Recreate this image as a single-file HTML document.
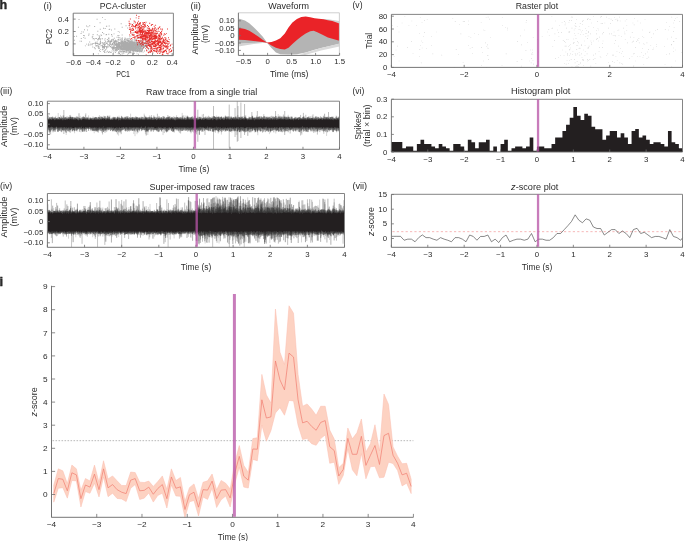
<!DOCTYPE html>
<html><head><meta charset="utf-8"><title>figure</title>
<style>
html,body{margin:0;padding:0;background:#fff;width:685px;height:541px;overflow:hidden;}
svg{display:block;will-change:transform;}
text{font-family:"Liberation Sans",sans-serif;fill:#2b2b2b;}
</style></head><body>
<svg width="685" height="541" viewBox="0 0 685 541">
<rect width="685" height="541" fill="#fff"/>
<text x="-0.6" y="8.9" font-size="12.6" textLength="7.7" lengthAdjust="spacingAndGlyphs" font-weight="bold" fill="#151515" stroke="#151515" stroke-width="0.35">h</text>
<text x="-0.6" y="286" font-size="12.6" textLength="3.6" lengthAdjust="spacingAndGlyphs" font-weight="bold" fill="#151515" stroke="#151515" stroke-width="0.35">i</text>
<text x="43.6" y="8.5" font-size="8.8" textLength="8.2" lengthAdjust="spacingAndGlyphs">(i)</text>
<text x="190.6" y="8.7" font-size="8.8" textLength="10.4" lengthAdjust="spacingAndGlyphs">(ii)</text>
<text x="352.5" y="8.4" font-size="8.8" textLength="10" lengthAdjust="spacingAndGlyphs">(v)</text>
<text x="0" y="94.2" font-size="8.8" textLength="12.3" lengthAdjust="spacingAndGlyphs">(iii)</text>
<text x="352.4" y="94.2" font-size="8.8" textLength="11.9" lengthAdjust="spacingAndGlyphs">(vi)</text>
<text x="0" y="189.3" font-size="8.8" textLength="12.3" lengthAdjust="spacingAndGlyphs">(iv)</text>
<text x="352.4" y="189.4" font-size="8.8" textLength="14.8" lengthAdjust="spacingAndGlyphs">(vii)</text>
<text x="99.8" y="8.9" font-size="8.6" textLength="46.4" lengthAdjust="spacingAndGlyphs">PCA-cluster</text>
<path d="M130.01 46.04h0.95v0.95h-0.95zM132.39 46.29h0.95v0.95h-0.95zM127.81 44.31h0.95v0.95h-0.95zM122.88 45.71h0.95v0.95h-0.95zM126.36 50.31h0.95v0.95h-0.95zM122.07 41.03h0.95v0.95h-0.95zM130.48 46.52h0.95v0.95h-0.95zM140.72 43.26h0.95v0.95h-0.95zM126.06 46.32h0.95v0.95h-0.95zM125.04 48.15h0.95v0.95h-0.95zM133.92 45.64h0.95v0.95h-0.95zM132.86 47.96h0.95v0.95h-0.95zM130.84 41.35h0.95v0.95h-0.95zM122.56 48.9h0.95v0.95h-0.95zM129.77 44.11h0.95v0.95h-0.95zM135.56 47.54h0.95v0.95h-0.95zM119.25 46.31h0.95v0.95h-0.95zM126.34 38.56h0.95v0.95h-0.95zM114.79 43.68h0.95v0.95h-0.95zM119.68 46.42h0.95v0.95h-0.95zM115.27 50.15h0.95v0.95h-0.95zM128.12 46.6h0.95v0.95h-0.95zM119.86 46.52h0.95v0.95h-0.95zM132.17 41.84h0.95v0.95h-0.95zM131.25 49.81h0.95v0.95h-0.95zM128.5 50.86h0.95v0.95h-0.95zM109.87 45.88h0.95v0.95h-0.95zM125.69 45.18h0.95v0.95h-0.95zM129.61 41.27h0.95v0.95h-0.95zM130.91 48.27h0.95v0.95h-0.95zM117.76 53.37h0.95v0.95h-0.95zM126.18 47.81h0.95v0.95h-0.95zM122.17 49.34h0.95v0.95h-0.95zM123.53 47.32h0.95v0.95h-0.95zM138.49 43.04h0.95v0.95h-0.95zM123.54 49.54h0.95v0.95h-0.95zM129.74 42.34h0.95v0.95h-0.95zM137.08 45.21h0.95v0.95h-0.95zM125.33 46.58h0.95v0.95h-0.95zM129.11 48.27h0.95v0.95h-0.95zM130.88 46.96h0.95v0.95h-0.95zM130.51 46.88h0.95v0.95h-0.95zM120.2 43.67h0.95v0.95h-0.95zM130.61 42.19h0.95v0.95h-0.95zM140.87 45.97h0.95v0.95h-0.95zM117.62 43.81h0.95v0.95h-0.95zM136.88 42.14h0.95v0.95h-0.95zM130.95 42.26h0.95v0.95h-0.95zM124.87 44.43h0.95v0.95h-0.95zM146 40.61h0.95v0.95h-0.95zM136.1 42.03h0.95v0.95h-0.95zM120.41 41.22h0.95v0.95h-0.95zM130.6 46.31h0.95v0.95h-0.95zM134.61 46.94h0.95v0.95h-0.95zM128.49 51.42h0.95v0.95h-0.95zM135.46 41.61h0.95v0.95h-0.95zM129.47 43.9h0.95v0.95h-0.95zM135.34 48.36h0.95v0.95h-0.95zM141.51 45.19h0.95v0.95h-0.95zM124.59 44.88h0.95v0.95h-0.95zM131.63 50.59h0.95v0.95h-0.95zM126.29 44.85h0.95v0.95h-0.95zM131.02 42.56h0.95v0.95h-0.95zM120.5 42.11h0.95v0.95h-0.95zM125.37 46.74h0.95v0.95h-0.95zM128.43 46.65h0.95v0.95h-0.95zM137.19 41.96h0.95v0.95h-0.95zM139.16 43.04h0.95v0.95h-0.95zM119.41 47.3h0.95v0.95h-0.95zM123.64 47.42h0.95v0.95h-0.95zM135.18 44h0.95v0.95h-0.95zM114.06 47.54h0.95v0.95h-0.95zM126.29 47.4h0.95v0.95h-0.95zM129.22 40.81h0.95v0.95h-0.95zM140.06 44.93h0.95v0.95h-0.95zM135.52 46.96h0.95v0.95h-0.95zM127.38 44.2h0.95v0.95h-0.95zM127.05 39.81h0.95v0.95h-0.95zM128 45.01h0.95v0.95h-0.95zM142.19 47.91h0.95v0.95h-0.95zM126.58 50.23h0.95v0.95h-0.95zM127.57 39.67h0.95v0.95h-0.95zM132.82 53.12h0.95v0.95h-0.95zM129.03 42.64h0.95v0.95h-0.95zM128.42 48.48h0.95v0.95h-0.95zM121.09 49.26h0.95v0.95h-0.95zM129.91 48.55h0.95v0.95h-0.95zM126.45 46.22h0.95v0.95h-0.95zM139.33 42.55h0.95v0.95h-0.95zM135.22 47.55h0.95v0.95h-0.95zM129.81 43.8h0.95v0.95h-0.95zM135.35 38.74h0.95v0.95h-0.95zM127.28 53.72h0.95v0.95h-0.95zM138.42 47.78h0.95v0.95h-0.95zM129.96 50.89h0.95v0.95h-0.95zM134.67 43.25h0.95v0.95h-0.95zM119.67 49.91h0.95v0.95h-0.95zM132.77 50.25h0.95v0.95h-0.95zM116.49 50.15h0.95v0.95h-0.95zM113.72 45.74h0.95v0.95h-0.95zM127.56 42.43h0.95v0.95h-0.95zM122.8 45.3h0.95v0.95h-0.95zM131.31 39.63h0.95v0.95h-0.95zM147.96 41.03h0.95v0.95h-0.95zM123.35 46.06h0.95v0.95h-0.95zM125.01 43.02h0.95v0.95h-0.95zM131.64 45.34h0.95v0.95h-0.95zM133.94 45.49h0.95v0.95h-0.95zM128.59 51.21h0.95v0.95h-0.95zM128.35 49.43h0.95v0.95h-0.95zM135.62 45.67h0.95v0.95h-0.95zM134.16 49.18h0.95v0.95h-0.95zM121.73 43.62h0.95v0.95h-0.95zM129.37 44.86h0.95v0.95h-0.95zM130.28 48.35h0.95v0.95h-0.95zM121.56 42.32h0.95v0.95h-0.95zM132.08 45.02h0.95v0.95h-0.95zM123.14 42.1h0.95v0.95h-0.95zM137.78 46.13h0.95v0.95h-0.95zM131.54 50.37h0.95v0.95h-0.95zM130.71 43.69h0.95v0.95h-0.95zM125.27 46.43h0.95v0.95h-0.95zM129.05 43.29h0.95v0.95h-0.95zM114.02 42.58h0.95v0.95h-0.95zM120.95 42.34h0.95v0.95h-0.95zM132.9 49.87h0.95v0.95h-0.95zM112.97 52.41h0.95v0.95h-0.95zM136.77 47.15h0.95v0.95h-0.95zM116.03 43.79h0.95v0.95h-0.95zM136.05 47.77h0.95v0.95h-0.95zM123.24 44.86h0.95v0.95h-0.95zM136.23 48.04h0.95v0.95h-0.95zM131.05 46.61h0.95v0.95h-0.95zM117.71 46.58h0.95v0.95h-0.95zM139.99 47.5h0.95v0.95h-0.95zM141.53 44.18h0.95v0.95h-0.95zM129.47 44.67h0.95v0.95h-0.95zM127.81 40.98h0.95v0.95h-0.95zM128.72 44.56h0.95v0.95h-0.95zM122.2 41.82h0.95v0.95h-0.95zM138.79 45.39h0.95v0.95h-0.95zM125.66 43.12h0.95v0.95h-0.95zM129.59 46.08h0.95v0.95h-0.95zM123.65 47.07h0.95v0.95h-0.95zM124.99 41.82h0.95v0.95h-0.95zM119.78 43.52h0.95v0.95h-0.95zM140.06 43.16h0.95v0.95h-0.95zM128.77 47.89h0.95v0.95h-0.95zM137.73 50.58h0.95v0.95h-0.95zM130.11 48.18h0.95v0.95h-0.95zM124.44 44.82h0.95v0.95h-0.95zM127.39 49.9h0.95v0.95h-0.95zM125.52 41.56h0.95v0.95h-0.95zM130.06 50h0.95v0.95h-0.95zM127 43.96h0.95v0.95h-0.95zM127.6 38.02h0.95v0.95h-0.95zM118.97 53.22h0.95v0.95h-0.95zM123.55 50.22h0.95v0.95h-0.95zM143.23 42.91h0.95v0.95h-0.95zM124.63 46.27h0.95v0.95h-0.95zM121.57 45.2h0.95v0.95h-0.95zM132.7 46.09h0.95v0.95h-0.95zM141.26 41.65h0.95v0.95h-0.95zM118.37 43.89h0.95v0.95h-0.95zM128.33 47.11h0.95v0.95h-0.95zM124.94 46.42h0.95v0.95h-0.95zM115.91 49.16h0.95v0.95h-0.95zM135.88 46.02h0.95v0.95h-0.95zM129.81 52.38h0.95v0.95h-0.95zM130.57 43.8h0.95v0.95h-0.95zM123.98 46.53h0.95v0.95h-0.95zM133.64 40.43h0.95v0.95h-0.95zM125.69 42.29h0.95v0.95h-0.95zM128.86 49.52h0.95v0.95h-0.95zM121.13 43.16h0.95v0.95h-0.95zM120.27 47.29h0.95v0.95h-0.95zM140.68 45.63h0.95v0.95h-0.95zM125.94 42.88h0.95v0.95h-0.95zM132.33 44.82h0.95v0.95h-0.95zM129.73 44.36h0.95v0.95h-0.95zM126.47 44.44h0.95v0.95h-0.95zM125.94 47.91h0.95v0.95h-0.95zM135.04 47.63h0.95v0.95h-0.95zM127.59 44.18h0.95v0.95h-0.95zM128.79 43.26h0.95v0.95h-0.95zM130.18 46.59h0.95v0.95h-0.95zM139.41 45.52h0.95v0.95h-0.95zM135.44 48.68h0.95v0.95h-0.95zM133.06 53.23h0.95v0.95h-0.95zM125.49 48.16h0.95v0.95h-0.95zM118.94 45.7h0.95v0.95h-0.95zM137.6 45.32h0.95v0.95h-0.95zM137.73 43.4h0.95v0.95h-0.95zM128.87 43.26h0.95v0.95h-0.95zM134.34 42.99h0.95v0.95h-0.95zM136.25 44.69h0.95v0.95h-0.95zM136.65 44.6h0.95v0.95h-0.95zM137.37 47.88h0.95v0.95h-0.95zM126.36 44.68h0.95v0.95h-0.95zM142.12 45.25h0.95v0.95h-0.95zM120.03 42.39h0.95v0.95h-0.95zM136.89 50.4h0.95v0.95h-0.95zM133.95 47.22h0.95v0.95h-0.95zM136.99 50.81h0.95v0.95h-0.95zM145.03 48.03h0.95v0.95h-0.95zM141.88 49.97h0.95v0.95h-0.95zM120.84 45.1h0.95v0.95h-0.95zM116.49 47.81h0.95v0.95h-0.95zM136.54 53.38h0.95v0.95h-0.95zM121.88 42.37h0.95v0.95h-0.95zM129.9 49.09h0.95v0.95h-0.95zM136.72 50.55h0.95v0.95h-0.95zM116.85 46.98h0.95v0.95h-0.95zM113.12 47.94h0.95v0.95h-0.95zM132.07 49.38h0.95v0.95h-0.95zM130.36 43.92h0.95v0.95h-0.95zM128.03 46.97h0.95v0.95h-0.95zM130.31 43.31h0.95v0.95h-0.95zM123.12 43.86h0.95v0.95h-0.95zM117.89 44.03h0.95v0.95h-0.95zM128.67 45.39h0.95v0.95h-0.95zM122.23 46.22h0.95v0.95h-0.95zM116.85 47.1h0.95v0.95h-0.95zM134.05 41.74h0.95v0.95h-0.95zM129.51 51.47h0.95v0.95h-0.95zM133.25 49.11h0.95v0.95h-0.95zM122.09 47.88h0.95v0.95h-0.95zM124.74 44.77h0.95v0.95h-0.95zM122.01 45.54h0.95v0.95h-0.95zM122.91 47.37h0.95v0.95h-0.95zM131.56 46.98h0.95v0.95h-0.95zM123.74 40.98h0.95v0.95h-0.95zM132.85 47.93h0.95v0.95h-0.95zM132.72 54.17h0.95v0.95h-0.95zM146.2 40.5h0.95v0.95h-0.95zM118.86 48.66h0.95v0.95h-0.95zM137.1 46.86h0.95v0.95h-0.95zM129.28 45.48h0.95v0.95h-0.95zM129.89 49.74h0.95v0.95h-0.95zM118.4 42.4h0.95v0.95h-0.95zM126.32 46.27h0.95v0.95h-0.95zM135.95 50.01h0.95v0.95h-0.95zM129.34 45.23h0.95v0.95h-0.95zM130.65 44.6h0.95v0.95h-0.95zM127.67 46.13h0.95v0.95h-0.95zM139.24 44.52h0.95v0.95h-0.95zM129.83 50.25h0.95v0.95h-0.95zM112.4 43.19h0.95v0.95h-0.95zM124.46 48.31h0.95v0.95h-0.95zM114.25 42.2h0.95v0.95h-0.95zM103.99 47.73h0.95v0.95h-0.95zM125.76 45.5h0.95v0.95h-0.95zM140.67 38.37h0.95v0.95h-0.95zM130.38 45.78h0.95v0.95h-0.95zM120.62 42.73h0.95v0.95h-0.95zM122.47 44.52h0.95v0.95h-0.95zM139.04 50.23h0.95v0.95h-0.95zM131.26 42.58h0.95v0.95h-0.95zM130.38 42.75h0.95v0.95h-0.95zM129.57 49.95h0.95v0.95h-0.95zM130.31 46.13h0.95v0.95h-0.95zM136.44 50.24h0.95v0.95h-0.95zM134.42 46.73h0.95v0.95h-0.95zM131.73 43.26h0.95v0.95h-0.95zM121.66 45.61h0.95v0.95h-0.95zM134.09 49.34h0.95v0.95h-0.95zM124.53 48.51h0.95v0.95h-0.95zM138.75 45.8h0.95v0.95h-0.95zM119.83 45.94h0.95v0.95h-0.95zM128.9 45.48h0.95v0.95h-0.95zM129.94 44.13h0.95v0.95h-0.95zM119.4 51.36h0.95v0.95h-0.95zM143.78 45.82h0.95v0.95h-0.95zM141.68 42.54h0.95v0.95h-0.95zM126.29 44.43h0.95v0.95h-0.95zM136.17 47.89h0.95v0.95h-0.95zM133.03 47.65h0.95v0.95h-0.95zM109.09 45.41h0.95v0.95h-0.95zM132 43.88h0.95v0.95h-0.95zM129.51 45.87h0.95v0.95h-0.95zM130.67 40.98h0.95v0.95h-0.95zM121.39 42.05h0.95v0.95h-0.95zM127.85 48.1h0.95v0.95h-0.95zM128.57 44.42h0.95v0.95h-0.95zM139.5 46.88h0.95v0.95h-0.95zM132.68 49.31h0.95v0.95h-0.95zM129.96 47.67h0.95v0.95h-0.95zM142.23 45.86h0.95v0.95h-0.95zM125.56 51.93h0.95v0.95h-0.95zM126.88 47.72h0.95v0.95h-0.95zM115.47 44.78h0.95v0.95h-0.95zM142.55 47.91h0.95v0.95h-0.95zM137.71 46.97h0.95v0.95h-0.95zM137.33 43.34h0.95v0.95h-0.95zM135.35 46.01h0.95v0.95h-0.95zM130.88 45.33h0.95v0.95h-0.95zM131.72 40.14h0.95v0.95h-0.95zM127.98 45.3h0.95v0.95h-0.95zM128.37 44.99h0.95v0.95h-0.95zM130.43 44.54h0.95v0.95h-0.95zM142.09 41.06h0.95v0.95h-0.95zM134.45 44.78h0.95v0.95h-0.95zM129.53 45.69h0.95v0.95h-0.95zM125.36 46.09h0.95v0.95h-0.95zM124.92 42.53h0.95v0.95h-0.95zM142.82 47.62h0.95v0.95h-0.95zM134.05 42.3h0.95v0.95h-0.95zM130.54 45.16h0.95v0.95h-0.95zM127.23 49.56h0.95v0.95h-0.95zM121.13 43.81h0.95v0.95h-0.95zM129.47 44.33h0.95v0.95h-0.95zM136.99 48.89h0.95v0.95h-0.95zM126.86 44.69h0.95v0.95h-0.95zM128.18 44.95h0.95v0.95h-0.95zM128.23 46.44h0.95v0.95h-0.95zM130.88 48.82h0.95v0.95h-0.95zM117.26 39.46h0.95v0.95h-0.95zM128.12 43.42h0.95v0.95h-0.95zM123.16 42.9h0.95v0.95h-0.95zM137.08 42.68h0.95v0.95h-0.95zM123.84 43.34h0.95v0.95h-0.95zM134.62 43.39h0.95v0.95h-0.95zM142.2 46.67h0.95v0.95h-0.95zM127.49 43.25h0.95v0.95h-0.95zM125.19 46.15h0.95v0.95h-0.95zM131.53 46.95h0.95v0.95h-0.95zM129.98 43.71h0.95v0.95h-0.95zM122.05 46.17h0.95v0.95h-0.95zM133.69 50.5h0.95v0.95h-0.95zM146.12 46.72h0.95v0.95h-0.95zM127.94 43.97h0.95v0.95h-0.95zM128.38 45.61h0.95v0.95h-0.95zM121.64 43.17h0.95v0.95h-0.95zM132.55 46.58h0.95v0.95h-0.95zM120.02 48.27h0.95v0.95h-0.95zM121.14 43.45h0.95v0.95h-0.95zM140.24 45.2h0.95v0.95h-0.95zM122.76 48.98h0.95v0.95h-0.95zM138.65 44.38h0.95v0.95h-0.95zM142.19 46.34h0.95v0.95h-0.95zM132.07 42.87h0.95v0.95h-0.95zM134.43 43.46h0.95v0.95h-0.95zM145.62 44.33h0.95v0.95h-0.95zM128.43 51.89h0.95v0.95h-0.95zM125.26 44.65h0.95v0.95h-0.95zM119.17 44.32h0.95v0.95h-0.95zM130.33 44.22h0.95v0.95h-0.95zM141.83 45.34h0.95v0.95h-0.95zM137.68 47.64h0.95v0.95h-0.95zM122.46 46.33h0.95v0.95h-0.95zM123.16 51.56h0.95v0.95h-0.95zM125.97 46.4h0.95v0.95h-0.95zM132.34 49.85h0.95v0.95h-0.95zM128.36 46.57h0.95v0.95h-0.95zM131.72 47.5h0.95v0.95h-0.95zM132.37 41.76h0.95v0.95h-0.95zM127.61 45.44h0.95v0.95h-0.95zM129.68 45.61h0.95v0.95h-0.95zM131.65 45.12h0.95v0.95h-0.95zM129.33 39.77h0.95v0.95h-0.95zM134.03 48.27h0.95v0.95h-0.95zM144.97 44.72h0.95v0.95h-0.95zM134.74 44.57h0.95v0.95h-0.95zM130.45 45.09h0.95v0.95h-0.95zM116.51 45.16h0.95v0.95h-0.95zM133.1 46.94h0.95v0.95h-0.95zM114.43 42.24h0.95v0.95h-0.95zM118.73 43.19h0.95v0.95h-0.95zM136.84 46.61h0.95v0.95h-0.95zM135.65 46.21h0.95v0.95h-0.95zM128.8 44.75h0.95v0.95h-0.95zM116.32 44.19h0.95v0.95h-0.95zM127.03 43.46h0.95v0.95h-0.95zM124.57 45.64h0.95v0.95h-0.95zM135.09 49.11h0.95v0.95h-0.95zM148.06 42.84h0.95v0.95h-0.95zM131.74 50.07h0.95v0.95h-0.95zM123.77 48.16h0.95v0.95h-0.95zM120.64 44.53h0.95v0.95h-0.95zM129.55 47.99h0.95v0.95h-0.95zM128.59 41.7h0.95v0.95h-0.95zM120.79 40.95h0.95v0.95h-0.95zM130.93 42.19h0.95v0.95h-0.95zM120.79 44.65h0.95v0.95h-0.95zM138.9 44.89h0.95v0.95h-0.95zM138.5 44.36h0.95v0.95h-0.95zM138.68 46.08h0.95v0.95h-0.95zM126.21 39.82h0.95v0.95h-0.95zM134.12 47.19h0.95v0.95h-0.95zM128.94 41.83h0.95v0.95h-0.95zM126.89 43.95h0.95v0.95h-0.95zM127.29 44.64h0.95v0.95h-0.95zM119.6 42.56h0.95v0.95h-0.95zM118.45 41.96h0.95v0.95h-0.95zM136.35 42.98h0.95v0.95h-0.95zM128.47 45.77h0.95v0.95h-0.95zM131.73 47.45h0.95v0.95h-0.95zM138.01 47.38h0.95v0.95h-0.95zM116.13 43.02h0.95v0.95h-0.95zM123.73 43.58h0.95v0.95h-0.95zM131.4 43.22h0.95v0.95h-0.95zM133.14 47.06h0.95v0.95h-0.95zM126.98 40.1h0.95v0.95h-0.95zM138.23 49.27h0.95v0.95h-0.95zM131.68 44.44h0.95v0.95h-0.95zM120.29 43.61h0.95v0.95h-0.95zM122.55 46.75h0.95v0.95h-0.95zM136.44 48.69h0.95v0.95h-0.95zM133.71 46.76h0.95v0.95h-0.95zM114.81 48.75h0.95v0.95h-0.95zM140.78 46.18h0.95v0.95h-0.95zM134.78 49.24h0.95v0.95h-0.95zM140.75 49.29h0.95v0.95h-0.95zM126.93 45.52h0.95v0.95h-0.95zM127.63 49.83h0.95v0.95h-0.95zM120.99 46.26h0.95v0.95h-0.95zM150.3 46.04h0.95v0.95h-0.95zM128.6 43.22h0.95v0.95h-0.95zM142.7 44.99h0.95v0.95h-0.95zM124.82 47.98h0.95v0.95h-0.95zM131.31 42.12h0.95v0.95h-0.95zM116.63 47.62h0.95v0.95h-0.95zM126.94 46.78h0.95v0.95h-0.95zM137.87 46.58h0.95v0.95h-0.95zM119.99 39.62h0.95v0.95h-0.95zM138.58 45.51h0.95v0.95h-0.95zM132.7 47.62h0.95v0.95h-0.95zM121.65 43.66h0.95v0.95h-0.95zM125.99 46.05h0.95v0.95h-0.95zM126.33 39.14h0.95v0.95h-0.95zM129.6 47.68h0.95v0.95h-0.95zM125.71 43.95h0.95v0.95h-0.95zM123.38 48.24h0.95v0.95h-0.95zM127.56 40.64h0.95v0.95h-0.95zM121.78 47.74h0.95v0.95h-0.95zM119.68 45.14h0.95v0.95h-0.95zM129.61 48.06h0.95v0.95h-0.95zM137.06 43.21h0.95v0.95h-0.95zM117.77 44.07h0.95v0.95h-0.95zM130.03 52.08h0.95v0.95h-0.95zM124.8 43.48h0.95v0.95h-0.95zM122.18 43.82h0.95v0.95h-0.95zM136.83 45.03h0.95v0.95h-0.95zM125.85 42.94h0.95v0.95h-0.95zM141.99 49.13h0.95v0.95h-0.95zM123.76 50.63h0.95v0.95h-0.95zM133.09 43.83h0.95v0.95h-0.95zM128.18 40.97h0.95v0.95h-0.95zM123.97 49.08h0.95v0.95h-0.95zM134.7 48.9h0.95v0.95h-0.95zM128.76 48.1h0.95v0.95h-0.95zM134.83 49.04h0.95v0.95h-0.95zM129.62 43.37h0.95v0.95h-0.95zM121.31 45.33h0.95v0.95h-0.95zM129.18 41.92h0.95v0.95h-0.95zM130.42 41.83h0.95v0.95h-0.95zM137.67 48.55h0.95v0.95h-0.95zM122.75 43.92h0.95v0.95h-0.95zM129.69 52.18h0.95v0.95h-0.95zM116.22 46.01h0.95v0.95h-0.95zM135.21 44.01h0.95v0.95h-0.95zM121.35 48.03h0.95v0.95h-0.95zM115.55 50.84h0.95v0.95h-0.95zM129.53 47.16h0.95v0.95h-0.95zM138.85 42.39h0.95v0.95h-0.95zM117.8 46.84h0.95v0.95h-0.95zM121.3 49.65h0.95v0.95h-0.95zM124.05 44.42h0.95v0.95h-0.95zM120.96 43.63h0.95v0.95h-0.95zM133.04 48.65h0.95v0.95h-0.95zM123.54 46.19h0.95v0.95h-0.95zM124.23 42.71h0.95v0.95h-0.95zM134.67 44.74h0.95v0.95h-0.95zM123.96 43.68h0.95v0.95h-0.95zM133.46 46.63h0.95v0.95h-0.95zM122.23 46.11h0.95v0.95h-0.95zM120.3 49.02h0.95v0.95h-0.95zM115.32 47.79h0.95v0.95h-0.95zM144.89 41.42h0.95v0.95h-0.95zM127.44 46.94h0.95v0.95h-0.95zM131.95 48.31h0.95v0.95h-0.95zM129.75 47.08h0.95v0.95h-0.95zM131.28 48.68h0.95v0.95h-0.95zM130.4 44.26h0.95v0.95h-0.95zM145.27 43.14h0.95v0.95h-0.95zM121.69 48.4h0.95v0.95h-0.95zM117.54 42.82h0.95v0.95h-0.95zM121.9 39.75h0.95v0.95h-0.95zM119.32 48.67h0.95v0.95h-0.95zM135.98 43.77h0.95v0.95h-0.95zM136.56 44.94h0.95v0.95h-0.95zM122.31 41.89h0.95v0.95h-0.95zM118.88 42.09h0.95v0.95h-0.95zM127.16 42.56h0.95v0.95h-0.95zM141.13 44.79h0.95v0.95h-0.95zM107.44 46.84h0.95v0.95h-0.95zM134.21 39.37h0.95v0.95h-0.95zM121.39 47.91h0.95v0.95h-0.95zM138.32 42.49h0.95v0.95h-0.95zM121.38 42.81h0.95v0.95h-0.95zM127.72 47.7h0.95v0.95h-0.95zM117.95 45.59h0.95v0.95h-0.95zM122.18 41.5h0.95v0.95h-0.95zM141.09 50.96h0.95v0.95h-0.95zM136.56 43.39h0.95v0.95h-0.95zM126.79 46.49h0.95v0.95h-0.95zM123.04 46.36h0.95v0.95h-0.95zM114.85 49.75h0.95v0.95h-0.95zM126.85 44.52h0.95v0.95h-0.95zM129.75 48.62h0.95v0.95h-0.95zM129.33 43.72h0.95v0.95h-0.95zM129.25 48.94h0.95v0.95h-0.95zM121.03 43.66h0.95v0.95h-0.95zM129.47 44.79h0.95v0.95h-0.95zM129.69 51.11h0.95v0.95h-0.95zM140.32 46.69h0.95v0.95h-0.95zM144.93 46.11h0.95v0.95h-0.95zM128.9 52.08h0.95v0.95h-0.95zM123.87 46.81h0.95v0.95h-0.95zM129.48 43.51h0.95v0.95h-0.95zM125.14 47.86h0.95v0.95h-0.95zM124.06 42.49h0.95v0.95h-0.95zM129.53 48.96h0.95v0.95h-0.95zM121.65 49.18h0.95v0.95h-0.95zM134.85 44.2h0.95v0.95h-0.95zM129.17 44.04h0.95v0.95h-0.95zM132 46.29h0.95v0.95h-0.95zM128.54 45.84h0.95v0.95h-0.95zM124.18 43.06h0.95v0.95h-0.95zM122.42 47.39h0.95v0.95h-0.95zM128.1 40.08h0.95v0.95h-0.95zM125.61 44.59h0.95v0.95h-0.95zM131.87 44.67h0.95v0.95h-0.95zM129.96 45.03h0.95v0.95h-0.95zM119.1 46.66h0.95v0.95h-0.95zM130.54 42.36h0.95v0.95h-0.95zM119.26 47.45h0.95v0.95h-0.95zM125.07 45.3h0.95v0.95h-0.95zM127.65 43.98h0.95v0.95h-0.95zM113.4 41.97h0.95v0.95h-0.95zM130.73 42.49h0.95v0.95h-0.95zM131.21 46.81h0.95v0.95h-0.95zM128.74 43.1h0.95v0.95h-0.95zM126.61 45.98h0.95v0.95h-0.95zM127.01 48.77h0.95v0.95h-0.95zM122.19 48.69h0.95v0.95h-0.95zM127.84 50.17h0.95v0.95h-0.95zM125.58 44.97h0.95v0.95h-0.95zM130.73 42.76h0.95v0.95h-0.95zM120.37 48.66h0.95v0.95h-0.95zM131.88 46.67h0.95v0.95h-0.95zM131.15 48.95h0.95v0.95h-0.95zM128.87 45.83h0.95v0.95h-0.95zM126.49 49.15h0.95v0.95h-0.95zM134.42 48.17h0.95v0.95h-0.95zM116.68 47.81h0.95v0.95h-0.95zM133.68 47.21h0.95v0.95h-0.95zM131.94 46.91h0.95v0.95h-0.95zM132.27 46.45h0.95v0.95h-0.95zM133.07 46.43h0.95v0.95h-0.95zM124.77 48.57h0.95v0.95h-0.95zM127.92 44.37h0.95v0.95h-0.95zM135.1 50.66h0.95v0.95h-0.95zM133.45 45.5h0.95v0.95h-0.95zM131.65 48.56h0.95v0.95h-0.95zM117.89 45.55h0.95v0.95h-0.95zM134.3 45.11h0.95v0.95h-0.95zM139.36 51.49h0.95v0.95h-0.95zM138.08 44.93h0.95v0.95h-0.95zM131.87 42.22h0.95v0.95h-0.95zM117.54 43.8h0.95v0.95h-0.95zM137.54 44.91h0.95v0.95h-0.95zM128.82 51.83h0.95v0.95h-0.95zM109.74 46.38h0.95v0.95h-0.95zM133.02 48.42h0.95v0.95h-0.95zM118.06 43h0.95v0.95h-0.95zM119.63 46.79h0.95v0.95h-0.95zM124.92 47.68h0.95v0.95h-0.95zM140.18 50.84h0.95v0.95h-0.95zM127.03 43.85h0.95v0.95h-0.95zM132.17 47.49h0.95v0.95h-0.95zM143.98 46.65h0.95v0.95h-0.95zM142.75 42.94h0.95v0.95h-0.95zM129.17 45.75h0.95v0.95h-0.95zM128.07 45.06h0.95v0.95h-0.95zM119.91 39.29h0.95v0.95h-0.95zM124.44 47.48h0.95v0.95h-0.95zM133.4 47.31h0.95v0.95h-0.95zM133.17 44.57h0.95v0.95h-0.95zM130.88 42.05h0.95v0.95h-0.95zM137.96 49.94h0.95v0.95h-0.95zM123.82 46.54h0.95v0.95h-0.95zM129.55 48.65h0.95v0.95h-0.95zM135.85 49.75h0.95v0.95h-0.95zM134.67 44.34h0.95v0.95h-0.95zM138.57 48.07h0.95v0.95h-0.95zM133.18 45.12h0.95v0.95h-0.95zM127.52 45.62h0.95v0.95h-0.95zM132.9 45.56h0.95v0.95h-0.95zM121.98 45.8h0.95v0.95h-0.95zM116.88 48.92h0.95v0.95h-0.95zM134.65 46.15h0.95v0.95h-0.95zM129.56 45.37h0.95v0.95h-0.95zM132.47 45.03h0.95v0.95h-0.95zM116.42 46.76h0.95v0.95h-0.95zM127.08 43.29h0.95v0.95h-0.95zM125.2 44.39h0.95v0.95h-0.95zM123.09 45.65h0.95v0.95h-0.95zM111.96 44.22h0.95v0.95h-0.95zM127.32 45.47h0.95v0.95h-0.95zM137.18 44.09h0.95v0.95h-0.95zM133.05 51.41h0.95v0.95h-0.95zM125.19 49.52h0.95v0.95h-0.95zM129.88 47.06h0.95v0.95h-0.95zM136.05 45.65h0.95v0.95h-0.95zM107.92 51.93h0.95v0.95h-0.95zM129 46.7h0.95v0.95h-0.95zM134.35 45.56h0.95v0.95h-0.95zM135.46 46.65h0.95v0.95h-0.95zM143.61 46.66h0.95v0.95h-0.95zM139.08 49.75h0.95v0.95h-0.95zM132.5 45.75h0.95v0.95h-0.95zM132.42 51.68h0.95v0.95h-0.95zM136.3 43.33h0.95v0.95h-0.95zM125.69 47.74h0.95v0.95h-0.95zM129.68 42.99h0.95v0.95h-0.95zM137.25 50.89h0.95v0.95h-0.95zM145.66 44.87h0.95v0.95h-0.95zM128.73 45.64h0.95v0.95h-0.95zM129.61 48.39h0.95v0.95h-0.95zM131.59 49.31h0.95v0.95h-0.95zM140.75 42.69h0.95v0.95h-0.95zM129.76 44.83h0.95v0.95h-0.95zM141.75 41.89h0.95v0.95h-0.95zM122.27 46.18h0.95v0.95h-0.95zM128.51 45.52h0.95v0.95h-0.95zM128.41 44.82h0.95v0.95h-0.95zM136.29 43.88h0.95v0.95h-0.95zM138.36 44.72h0.95v0.95h-0.95zM117.92 43.71h0.95v0.95h-0.95zM122.68 47.28h0.95v0.95h-0.95zM132.69 50.04h0.95v0.95h-0.95zM124.73 40.39h0.95v0.95h-0.95zM117.82 45.48h0.95v0.95h-0.95zM138.31 44.63h0.95v0.95h-0.95zM133.95 47.18h0.95v0.95h-0.95zM133.95 43.14h0.95v0.95h-0.95zM126.2 45.39h0.95v0.95h-0.95zM138.23 42.89h0.95v0.95h-0.95zM128.08 47.75h0.95v0.95h-0.95zM138.77 46.08h0.95v0.95h-0.95zM122.71 45.35h0.95v0.95h-0.95zM123.17 46.84h0.95v0.95h-0.95zM131.64 45.11h0.95v0.95h-0.95zM124.38 41.45h0.95v0.95h-0.95zM135.4 47.47h0.95v0.95h-0.95zM132.08 46.61h0.95v0.95h-0.95zM122.62 45.37h0.95v0.95h-0.95zM130.58 48.56h0.95v0.95h-0.95zM127.19 49.21h0.95v0.95h-0.95zM137.33 42.74h0.95v0.95h-0.95zM124.94 43.61h0.95v0.95h-0.95zM126.49 50.13h0.95v0.95h-0.95zM139.69 49.77h0.95v0.95h-0.95zM147.91 43.73h0.95v0.95h-0.95zM145.99 42.49h0.95v0.95h-0.95zM130.51 44.01h0.95v0.95h-0.95zM131.75 44.41h0.95v0.95h-0.95zM142.27 41.36h0.95v0.95h-0.95zM129 45.89h0.95v0.95h-0.95zM122.19 42.22h0.95v0.95h-0.95zM130.94 42.41h0.95v0.95h-0.95zM133.61 48.37h0.95v0.95h-0.95zM123.37 43.89h0.95v0.95h-0.95zM116.83 45.6h0.95v0.95h-0.95zM118.51 47.56h0.95v0.95h-0.95zM135.32 48.08h0.95v0.95h-0.95zM123.93 44.86h0.95v0.95h-0.95zM128.87 45.92h0.95v0.95h-0.95zM131.7 43.49h0.95v0.95h-0.95zM134.95 50.69h0.95v0.95h-0.95zM127.32 47.62h0.95v0.95h-0.95zM133.99 42.71h0.95v0.95h-0.95zM122.88 45.81h0.95v0.95h-0.95zM127.11 47.8h0.95v0.95h-0.95zM121.8 47.14h0.95v0.95h-0.95zM139.05 50.92h0.95v0.95h-0.95zM129.78 49.64h0.95v0.95h-0.95zM124.09 44.29h0.95v0.95h-0.95zM127.18 45.55h0.95v0.95h-0.95zM128.23 42.21h0.95v0.95h-0.95zM135.6 46.5h0.95v0.95h-0.95zM117.23 46.22h0.95v0.95h-0.95zM121.7 53.37h0.95v0.95h-0.95zM126.98 46.07h0.95v0.95h-0.95zM150.26 39.94h0.95v0.95h-0.95zM137.65 43.92h0.95v0.95h-0.95zM129.11 46.11h0.95v0.95h-0.95zM135.7 42.28h0.95v0.95h-0.95zM146.46 43.37h0.95v0.95h-0.95zM128.13 44.78h0.95v0.95h-0.95zM127.07 46.76h0.95v0.95h-0.95zM139.7 45.34h0.95v0.95h-0.95zM133.95 43.31h0.95v0.95h-0.95zM135.37 48.01h0.95v0.95h-0.95zM125.93 44.29h0.95v0.95h-0.95zM145.39 44.4h0.95v0.95h-0.95zM143.68 41.94h0.95v0.95h-0.95zM134.53 43.6h0.95v0.95h-0.95zM135.47 47.62h0.95v0.95h-0.95zM113.78 41.27h0.95v0.95h-0.95zM135.1 45.6h0.95v0.95h-0.95zM128.45 47.81h0.95v0.95h-0.95zM133.47 44.74h0.95v0.95h-0.95zM135.46 46.47h0.95v0.95h-0.95zM127.27 42.67h0.95v0.95h-0.95zM116.48 49.47h0.95v0.95h-0.95zM132.94 48.88h0.95v0.95h-0.95zM124.07 46.46h0.95v0.95h-0.95zM127.36 40.89h0.95v0.95h-0.95zM125.16 42.87h0.95v0.95h-0.95zM127.27 48.53h0.95v0.95h-0.95zM111.52 50.6h0.95v0.95h-0.95zM139.74 46.63h0.95v0.95h-0.95zM132.03 49.29h0.95v0.95h-0.95zM138.89 44.1h0.95v0.95h-0.95zM145.84 45.27h0.95v0.95h-0.95zM130.18 45.8h0.95v0.95h-0.95zM115.58 46.98h0.95v0.95h-0.95zM122.85 41.52h0.95v0.95h-0.95zM120.34 48.43h0.95v0.95h-0.95zM125.99 49.5h0.95v0.95h-0.95zM130.64 42.58h0.95v0.95h-0.95zM113.98 42.01h0.95v0.95h-0.95zM132.74 46.78h0.95v0.95h-0.95zM117.92 43.97h0.95v0.95h-0.95zM132.38 39.16h0.95v0.95h-0.95zM129.12 48.06h0.95v0.95h-0.95zM127.49 46.24h0.95v0.95h-0.95zM129.42 44.47h0.95v0.95h-0.95zM125.68 51.72h0.95v0.95h-0.95zM125.1 46.19h0.95v0.95h-0.95zM116.54 43.69h0.95v0.95h-0.95zM129.76 46.08h0.95v0.95h-0.95zM144.76 42.89h0.95v0.95h-0.95zM145.84 43.67h0.95v0.95h-0.95zM140.57 46.88h0.95v0.95h-0.95zM135.65 44.25h0.95v0.95h-0.95zM124.59 44.54h0.95v0.95h-0.95zM141.54 50.47h0.95v0.95h-0.95zM129.55 48.21h0.95v0.95h-0.95zM129.45 48.05h0.95v0.95h-0.95zM127.67 47.28h0.95v0.95h-0.95zM130.74 47.16h0.95v0.95h-0.95zM126.52 49.88h0.95v0.95h-0.95zM129.33 45.75h0.95v0.95h-0.95zM121.32 51h0.95v0.95h-0.95zM127.01 43.14h0.95v0.95h-0.95zM148.24 45.09h0.95v0.95h-0.95zM129.44 41.94h0.95v0.95h-0.95zM128.09 44.84h0.95v0.95h-0.95zM134.26 47.25h0.95v0.95h-0.95zM135.66 49.86h0.95v0.95h-0.95zM121.09 43.94h0.95v0.95h-0.95zM128.34 45.81h0.95v0.95h-0.95zM137.35 44.79h0.95v0.95h-0.95zM132.16 43.73h0.95v0.95h-0.95zM130.98 42.47h0.95v0.95h-0.95zM142.43 45.97h0.95v0.95h-0.95zM124.58 40.95h0.95v0.95h-0.95zM130.66 46.11h0.95v0.95h-0.95zM125.84 45.86h0.95v0.95h-0.95zM141.92 43.96h0.95v0.95h-0.95zM114.39 42.97h0.95v0.95h-0.95zM124.64 41.92h0.95v0.95h-0.95zM125.77 51.04h0.95v0.95h-0.95zM135.31 42.04h0.95v0.95h-0.95zM134.85 50.16h0.95v0.95h-0.95zM141.16 47.48h0.95v0.95h-0.95zM117.41 44.78h0.95v0.95h-0.95zM136 42.56h0.95v0.95h-0.95zM127.65 48.72h0.95v0.95h-0.95zM124.67 50.64h0.95v0.95h-0.95zM134.32 43.18h0.95v0.95h-0.95zM122.64 44.96h0.95v0.95h-0.95zM113.38 48.74h0.95v0.95h-0.95zM127.04 46.74h0.95v0.95h-0.95zM118.02 51.4h0.95v0.95h-0.95zM124.81 44.2h0.95v0.95h-0.95zM132.97 47.32h0.95v0.95h-0.95zM132.5 42.3h0.95v0.95h-0.95zM142.7 51.67h0.95v0.95h-0.95zM128.4 43.76h0.95v0.95h-0.95zM117.73 39.62h0.95v0.95h-0.95zM123.95 45.45h0.95v0.95h-0.95zM122.64 45.41h0.95v0.95h-0.95zM120.26 51.16h0.95v0.95h-0.95zM133.48 44.85h0.95v0.95h-0.95zM124.84 45.76h0.95v0.95h-0.95zM114.18 47.46h0.95v0.95h-0.95zM135.58 50.24h0.95v0.95h-0.95zM129.11 45.62h0.95v0.95h-0.95zM132.85 48.71h0.95v0.95h-0.95zM130.85 47.25h0.95v0.95h-0.95zM135.05 44.97h0.95v0.95h-0.95zM130.3 46.02h0.95v0.95h-0.95zM139.89 45.88h0.95v0.95h-0.95zM133.4 43.24h0.95v0.95h-0.95zM133.14 49.2h0.95v0.95h-0.95zM133.28 41.92h0.95v0.95h-0.95zM118.35 49.08h0.95v0.95h-0.95zM128.68 48.47h0.95v0.95h-0.95zM127.93 45.54h0.95v0.95h-0.95zM131.66 43.66h0.95v0.95h-0.95zM119.13 45.17h0.95v0.95h-0.95zM143.07 47.12h0.95v0.95h-0.95zM130.84 47.88h0.95v0.95h-0.95zM120.31 46.6h0.95v0.95h-0.95zM116.33 48.58h0.95v0.95h-0.95zM127.75 44.24h0.95v0.95h-0.95zM129.28 46.46h0.95v0.95h-0.95zM124.25 41.41h0.95v0.95h-0.95zM130.74 47.94h0.95v0.95h-0.95zM124.87 46.23h0.95v0.95h-0.95zM134.41 44.64h0.95v0.95h-0.95zM124.2 49.05h0.95v0.95h-0.95zM129.69 47.74h0.95v0.95h-0.95zM137.83 37.91h0.95v0.95h-0.95zM150.57 45.91h0.95v0.95h-0.95zM121.94 41.73h0.95v0.95h-0.95zM126.28 48.79h0.95v0.95h-0.95zM123.28 52.77h0.95v0.95h-0.95zM136.27 44.35h0.95v0.95h-0.95zM120.82 46.01h0.95v0.95h-0.95zM126.13 45.1h0.95v0.95h-0.95zM129.76 46.78h0.95v0.95h-0.95zM122.17 47.6h0.95v0.95h-0.95zM122.34 49.4h0.95v0.95h-0.95zM126.2 43.04h0.95v0.95h-0.95zM113.2 50.2h0.95v0.95h-0.95zM118.44 43.19h0.95v0.95h-0.95zM126.7 46.58h0.95v0.95h-0.95zM131.19 49.04h0.95v0.95h-0.95zM128.51 47.8h0.95v0.95h-0.95zM115.81 43.17h0.95v0.95h-0.95zM126.29 43.83h0.95v0.95h-0.95zM136.39 44.51h0.95v0.95h-0.95zM134.45 45.66h0.95v0.95h-0.95zM129.37 49.01h0.95v0.95h-0.95zM122.9 42.18h0.95v0.95h-0.95zM135.05 47.11h0.95v0.95h-0.95zM125.37 47.51h0.95v0.95h-0.95zM120.65 47.36h0.95v0.95h-0.95zM123.58 47.11h0.95v0.95h-0.95zM141.59 50.05h0.95v0.95h-0.95zM131.76 47.17h0.95v0.95h-0.95zM139.27 48.2h0.95v0.95h-0.95zM126.17 47.38h0.95v0.95h-0.95zM137.51 50.82h0.95v0.95h-0.95zM125.19 40.48h0.95v0.95h-0.95zM128.74 49.39h0.95v0.95h-0.95zM149.89 45.07h0.95v0.95h-0.95zM136.14 45.01h0.95v0.95h-0.95zM125.99 43.09h0.95v0.95h-0.95zM129.32 40.57h0.95v0.95h-0.95zM132.61 44.73h0.95v0.95h-0.95zM139.68 43.88h0.95v0.95h-0.95zM126.09 47.18h0.95v0.95h-0.95zM116.07 41.68h0.95v0.95h-0.95zM127.76 49.81h0.95v0.95h-0.95zM130.12 46.56h0.95v0.95h-0.95zM130.88 45.11h0.95v0.95h-0.95zM140.53 43.81h0.95v0.95h-0.95zM132.53 43.6h0.95v0.95h-0.95zM136.5 42.64h0.95v0.95h-0.95zM121.19 44.28h0.95v0.95h-0.95zM136.94 45.82h0.95v0.95h-0.95zM146.77 45.3h0.95v0.95h-0.95zM136.18 41.84h0.95v0.95h-0.95zM132.03 45.06h0.95v0.95h-0.95zM131.23 43.3h0.95v0.95h-0.95zM144.3 46.25h0.95v0.95h-0.95zM122.58 51.02h0.95v0.95h-0.95zM129.11 47.55h0.95v0.95h-0.95zM133.68 44.92h0.95v0.95h-0.95zM135.95 41.25h0.95v0.95h-0.95zM126.5 41.84h0.95v0.95h-0.95zM132.46 41.08h0.95v0.95h-0.95zM127.78 47.83h0.95v0.95h-0.95zM130.96 43.66h0.95v0.95h-0.95zM128.94 45.98h0.95v0.95h-0.95zM120.87 44.06h0.95v0.95h-0.95zM129.83 46.06h0.95v0.95h-0.95zM137.02 49.72h0.95v0.95h-0.95zM122.26 43.88h0.95v0.95h-0.95zM128.07 44.85h0.95v0.95h-0.95zM135.32 43.54h0.95v0.95h-0.95zM121.44 48.25h0.95v0.95h-0.95zM131.46 42.93h0.95v0.95h-0.95zM121.52 42.63h0.95v0.95h-0.95zM139.08 41.91h0.95v0.95h-0.95zM148.5 41.86h0.95v0.95h-0.95zM146.18 47.12h0.95v0.95h-0.95zM128.25 52.99h0.95v0.95h-0.95zM135.92 43.01h0.95v0.95h-0.95zM130.97 48.46h0.95v0.95h-0.95zM130.82 46.5h0.95v0.95h-0.95zM142.38 42.71h0.95v0.95h-0.95zM119.45 45.03h0.95v0.95h-0.95zM138.44 45.15h0.95v0.95h-0.95zM129.61 43.87h0.95v0.95h-0.95zM141.27 51.21h0.95v0.95h-0.95zM131.5 40.46h0.95v0.95h-0.95zM124.62 46.87h0.95v0.95h-0.95zM132.22 46.73h0.95v0.95h-0.95zM135.89 44.18h0.95v0.95h-0.95zM130.29 46.22h0.95v0.95h-0.95zM133.9 48.26h0.95v0.95h-0.95zM125.83 46.23h0.95v0.95h-0.95zM112.93 46.97h0.95v0.95h-0.95zM137.2 47.74h0.95v0.95h-0.95zM135.59 40.11h0.95v0.95h-0.95zM131.19 49.94h0.95v0.95h-0.95zM130.55 52.18h0.95v0.95h-0.95zM138.29 48.55h0.95v0.95h-0.95zM126.34 48.64h0.95v0.95h-0.95zM124.35 41.86h0.95v0.95h-0.95zM128.49 45.47h0.95v0.95h-0.95zM139.51 43.53h0.95v0.95h-0.95zM118.9 44.16h0.95v0.95h-0.95zM139.53 48.51h0.95v0.95h-0.95zM124.89 43.55h0.95v0.95h-0.95zM121.19 45.44h0.95v0.95h-0.95zM140.08 40.46h0.95v0.95h-0.95zM129.22 45.36h0.95v0.95h-0.95zM119.6 46.05h0.95v0.95h-0.95zM127.13 43.83h0.95v0.95h-0.95zM137.45 43.78h0.95v0.95h-0.95zM139.54 51.08h0.95v0.95h-0.95zM126.58 42.41h0.95v0.95h-0.95zM133.25 42.86h0.95v0.95h-0.95zM135.71 43.53h0.95v0.95h-0.95zM124.84 49.16h0.95v0.95h-0.95zM132.84 51.68h0.95v0.95h-0.95zM129.74 46.73h0.95v0.95h-0.95zM125.71 43.79h0.95v0.95h-0.95zM126.06 44.6h0.95v0.95h-0.95zM130.54 48.78h0.95v0.95h-0.95zM130.24 43.25h0.95v0.95h-0.95zM125.48 49.87h0.95v0.95h-0.95zM126.59 49.77h0.95v0.95h-0.95zM138.91 46h0.95v0.95h-0.95zM131.71 47.61h0.95v0.95h-0.95zM137.08 47.9h0.95v0.95h-0.95zM139.61 50.15h0.95v0.95h-0.95zM134.71 42.86h0.95v0.95h-0.95zM148.17 49.11h0.95v0.95h-0.95zM123.4 44.75h0.95v0.95h-0.95zM136.47 43.65h0.95v0.95h-0.95zM127.45 46.09h0.95v0.95h-0.95zM144.85 45.2h0.95v0.95h-0.95zM143.6 43.04h0.95v0.95h-0.95zM114.37 41.33h0.95v0.95h-0.95zM122.25 43.16h0.95v0.95h-0.95zM135.31 49.87h0.95v0.95h-0.95zM136.32 51.3h0.95v0.95h-0.95zM135.89 47.62h0.95v0.95h-0.95zM129.43 49.12h0.95v0.95h-0.95zM133.64 44.35h0.95v0.95h-0.95zM135.22 45.58h0.95v0.95h-0.95zM129.38 46.59h0.95v0.95h-0.95zM138.22 42.77h0.95v0.95h-0.95zM111.92 43.03h0.95v0.95h-0.95zM135.07 46.07h0.95v0.95h-0.95zM121.73 44.9h0.95v0.95h-0.95zM137.67 42.82h0.95v0.95h-0.95zM128.17 46.88h0.95v0.95h-0.95zM122.89 45.06h0.95v0.95h-0.95zM132.99 48.66h0.95v0.95h-0.95zM122.71 45.79h0.95v0.95h-0.95zM122.7 44.96h0.95v0.95h-0.95zM117.46 46.16h0.95v0.95h-0.95zM129.79 45.32h0.95v0.95h-0.95zM133.97 43.93h0.95v0.95h-0.95zM138.18 44.67h0.95v0.95h-0.95zM128.87 47.9h0.95v0.95h-0.95zM138.38 47.61h0.95v0.95h-0.95zM130.14 49.4h0.95v0.95h-0.95zM129.25 41.06h0.95v0.95h-0.95zM134.59 44.7h0.95v0.95h-0.95zM138.47 44.64h0.95v0.95h-0.95zM127.27 46.28h0.95v0.95h-0.95zM128.05 44.53h0.95v0.95h-0.95zM128.71 44.36h0.95v0.95h-0.95zM130.66 47.99h0.95v0.95h-0.95zM122.8 46.3h0.95v0.95h-0.95zM138.22 42.53h0.95v0.95h-0.95zM126.8 49.54h0.95v0.95h-0.95zM133.7 48.59h0.95v0.95h-0.95zM123.4 44.19h0.95v0.95h-0.95zM132.87 48.13h0.95v0.95h-0.95zM133.13 43.74h0.95v0.95h-0.95zM126.63 48.95h0.95v0.95h-0.95zM146.17 45.19h0.95v0.95h-0.95zM132.97 43.55h0.95v0.95h-0.95zM144.22 44.76h0.95v0.95h-0.95zM137.67 43.66h0.95v0.95h-0.95zM124.7 46.34h0.95v0.95h-0.95zM126.94 46.29h0.95v0.95h-0.95zM133.49 45.9h0.95v0.95h-0.95zM130.49 44.24h0.95v0.95h-0.95zM130.4 35.55h0.95v0.95h-0.95zM127.71 46.06h0.95v0.95h-0.95zM115.53 40.49h0.95v0.95h-0.95zM128.2 46.48h0.95v0.95h-0.95zM112.26 48.97h0.95v0.95h-0.95zM132.97 46.57h0.95v0.95h-0.95zM124.19 44.71h0.95v0.95h-0.95zM124.28 45.3h0.95v0.95h-0.95zM128.25 45.43h0.95v0.95h-0.95zM132.18 44.26h0.95v0.95h-0.95zM118.54 44.17h0.95v0.95h-0.95zM116.01 43.21h0.95v0.95h-0.95zM121.47 49.13h0.95v0.95h-0.95zM113.67 45.76h0.95v0.95h-0.95zM122.27 48.48h0.95v0.95h-0.95zM142.73 45.1h0.95v0.95h-0.95zM121.55 46h0.95v0.95h-0.95zM135.21 45.32h0.95v0.95h-0.95zM119.03 47.1h0.95v0.95h-0.95zM132.39 48.11h0.95v0.95h-0.95zM127.44 46.47h0.95v0.95h-0.95zM129.52 43.91h0.95v0.95h-0.95zM134.55 43.62h0.95v0.95h-0.95zM144.05 50.45h0.95v0.95h-0.95zM131.56 45.02h0.95v0.95h-0.95zM130.99 44.98h0.95v0.95h-0.95zM122.21 49.9h0.95v0.95h-0.95zM134.67 48.85h0.95v0.95h-0.95zM128.03 47.29h0.95v0.95h-0.95zM136.66 44.68h0.95v0.95h-0.95zM129.65 52.39h0.95v0.95h-0.95zM143.93 46.9h0.95v0.95h-0.95zM114.14 47.33h0.95v0.95h-0.95zM127.63 45.32h0.95v0.95h-0.95zM137.05 41.84h0.95v0.95h-0.95zM127.19 42.06h0.95v0.95h-0.95zM123.66 46.94h0.95v0.95h-0.95zM127.87 46.9h0.95v0.95h-0.95zM118.96 45.13h0.95v0.95h-0.95zM130.95 42.52h0.95v0.95h-0.95zM149.52 41.76h0.95v0.95h-0.95zM139.16 44.88h0.95v0.95h-0.95zM121.13 41.72h0.95v0.95h-0.95zM123.01 48.32h0.95v0.95h-0.95zM126.76 49.03h0.95v0.95h-0.95zM138.04 53.72h0.95v0.95h-0.95zM123.43 48.26h0.95v0.95h-0.95zM124.48 44.14h0.95v0.95h-0.95zM137.08 43.36h0.95v0.95h-0.95zM136.92 36.14h0.95v0.95h-0.95zM127.01 44.13h0.95v0.95h-0.95zM121.06 45.3h0.95v0.95h-0.95zM117.6 48.51h0.95v0.95h-0.95zM124.41 47.51h0.95v0.95h-0.95zM112.16 47.45h0.95v0.95h-0.95zM136 46.4h0.95v0.95h-0.95zM124.96 47.65h0.95v0.95h-0.95zM133.85 49.85h0.95v0.95h-0.95zM144.95 42.82h0.95v0.95h-0.95zM139.38 44.52h0.95v0.95h-0.95zM120.79 41.91h0.95v0.95h-0.95zM136.95 50.33h0.95v0.95h-0.95zM139.26 49.43h0.95v0.95h-0.95zM124.03 47.91h0.95v0.95h-0.95zM122.37 42.44h0.95v0.95h-0.95zM129.12 46.28h0.95v0.95h-0.95zM117.19 45.14h0.95v0.95h-0.95zM141.77 46.03h0.95v0.95h-0.95zM110.76 45.27h0.95v0.95h-0.95zM121.15 47.26h0.95v0.95h-0.95zM127.84 44.69h0.95v0.95h-0.95zM128.18 48.19h0.95v0.95h-0.95zM131.33 46.48h0.95v0.95h-0.95zM132.17 44.98h0.95v0.95h-0.95zM128.29 45.49h0.95v0.95h-0.95zM139.1 44.57h0.95v0.95h-0.95zM112.88 48.08h0.95v0.95h-0.95zM130 45.04h0.95v0.95h-0.95zM124.28 46.63h0.95v0.95h-0.95zM131.06 44.7h0.95v0.95h-0.95zM131.77 41.64h0.95v0.95h-0.95zM122.71 48.34h0.95v0.95h-0.95zM124.87 42.84h0.95v0.95h-0.95zM136.34 47.7h0.95v0.95h-0.95zM132.79 46.98h0.95v0.95h-0.95zM124.56 41.16h0.95v0.95h-0.95zM146.32 43.15h0.95v0.95h-0.95zM148.47 44.36h0.95v0.95h-0.95zM118.3 43.5h0.95v0.95h-0.95zM132.41 42.49h0.95v0.95h-0.95zM150.07 47.87h0.95v0.95h-0.95zM136.27 45.13h0.95v0.95h-0.95zM131.77 46.88h0.95v0.95h-0.95zM128.34 44.59h0.95v0.95h-0.95zM125.67 46.65h0.95v0.95h-0.95zM128.3 43.7h0.95v0.95h-0.95zM125.59 45.73h0.95v0.95h-0.95zM135.96 47.43h0.95v0.95h-0.95zM126.81 45.93h0.95v0.95h-0.95zM126.47 44.52h0.95v0.95h-0.95zM120.38 42.76h0.95v0.95h-0.95zM129.6 46.27h0.95v0.95h-0.95zM122.85 46.77h0.95v0.95h-0.95zM128.55 45.08h0.95v0.95h-0.95zM138.33 43.65h0.95v0.95h-0.95zM132.93 47.32h0.95v0.95h-0.95zM134.04 52.75h0.95v0.95h-0.95zM132.85 44.95h0.95v0.95h-0.95zM130.47 46.74h0.95v0.95h-0.95zM128.98 46.86h0.95v0.95h-0.95zM127.54 38.61h0.95v0.95h-0.95zM136.07 46.15h0.95v0.95h-0.95zM121.33 43.82h0.95v0.95h-0.95zM140.73 49.68h0.95v0.95h-0.95zM130.27 45.09h0.95v0.95h-0.95zM124.01 43.62h0.95v0.95h-0.95zM126.09 45.19h0.95v0.95h-0.95zM124.58 46.27h0.95v0.95h-0.95zM131.28 44.23h0.95v0.95h-0.95zM124.26 45.65h0.95v0.95h-0.95zM139.14 42.01h0.95v0.95h-0.95zM123.75 45.17h0.95v0.95h-0.95zM111.82 47.97h0.95v0.95h-0.95zM124.15 51.31h0.95v0.95h-0.95zM113.93 47.78h0.95v0.95h-0.95zM129.68 46.56h0.95v0.95h-0.95zM138.47 49.11h0.95v0.95h-0.95zM135.18 48.65h0.95v0.95h-0.95zM119.3 50.46h0.95v0.95h-0.95zM123.9 48.83h0.95v0.95h-0.95zM144.23 45.47h0.95v0.95h-0.95zM132.55 46.52h0.95v0.95h-0.95zM130.03 46.3h0.95v0.95h-0.95zM138.45 46.65h0.95v0.95h-0.95zM149.62 46.36h0.95v0.95h-0.95zM140.37 43.61h0.95v0.95h-0.95zM131.12 39.91h0.95v0.95h-0.95zM132.84 43.92h0.95v0.95h-0.95zM134.94 40.13h0.95v0.95h-0.95zM125.1 45.99h0.95v0.95h-0.95zM121.53 45.81h0.95v0.95h-0.95zM130.42 41.11h0.95v0.95h-0.95zM122.42 47.73h0.95v0.95h-0.95zM129.51 48.23h0.95v0.95h-0.95zM130.77 46.07h0.95v0.95h-0.95zM148.73 50.47h0.95v0.95h-0.95zM123.19 51.04h0.95v0.95h-0.95zM129.03 42.42h0.95v0.95h-0.95zM128.69 48.7h0.95v0.95h-0.95zM133.5 47.03h0.95v0.95h-0.95zM138.37 46.97h0.95v0.95h-0.95zM126.08 48.42h0.95v0.95h-0.95zM123.43 43.79h0.95v0.95h-0.95zM116.87 44.14h0.95v0.95h-0.95zM122.59 43.49h0.95v0.95h-0.95zM134.29 43.69h0.95v0.95h-0.95zM130.37 45.52h0.95v0.95h-0.95zM121.88 41.73h0.95v0.95h-0.95zM127.02 42.87h0.95v0.95h-0.95zM130.25 47.42h0.95v0.95h-0.95zM134.03 45.6h0.95v0.95h-0.95zM125.25 46.87h0.95v0.95h-0.95zM128 40.51h0.95v0.95h-0.95zM115.45 43.61h0.95v0.95h-0.95zM120.79 44.24h0.95v0.95h-0.95zM142.94 45.89h0.95v0.95h-0.95zM112.49 44.16h0.95v0.95h-0.95zM127.3 48.41h0.95v0.95h-0.95zM131.75 45.64h0.95v0.95h-0.95zM127.01 45.85h0.95v0.95h-0.95zM123.53 45.84h0.95v0.95h-0.95zM129.51 47.78h0.95v0.95h-0.95zM129.96 44.48h0.95v0.95h-0.95zM129.34 48.94h0.95v0.95h-0.95zM114.98 47.09h0.95v0.95h-0.95zM128.82 46.23h0.95v0.95h-0.95zM123.16 45.92h0.95v0.95h-0.95zM125.62 47.26h0.95v0.95h-0.95zM131.82 48.64h0.95v0.95h-0.95zM135.13 48.45h0.95v0.95h-0.95zM137.17 46.85h0.95v0.95h-0.95zM126.03 48.25h0.95v0.95h-0.95zM137.39 46.13h0.95v0.95h-0.95zM139.39 49.31h0.95v0.95h-0.95zM139.09 45.73h0.95v0.95h-0.95zM141.12 39.99h0.95v0.95h-0.95zM128.83 49.55h0.95v0.95h-0.95zM128.61 46.1h0.95v0.95h-0.95zM136.6 42.52h0.95v0.95h-0.95zM119.07 45.24h0.95v0.95h-0.95zM131.68 43.33h0.95v0.95h-0.95zM125.76 51.68h0.95v0.95h-0.95zM127.05 47.19h0.95v0.95h-0.95zM116.07 41.41h0.95v0.95h-0.95zM122.88 47.33h0.95v0.95h-0.95zM129.84 44.68h0.95v0.95h-0.95zM137.11 51.17h0.95v0.95h-0.95zM137.92 42.85h0.95v0.95h-0.95zM129.36 39.51h0.95v0.95h-0.95zM128.49 45.98h0.95v0.95h-0.95zM123.35 44.83h0.95v0.95h-0.95zM133.22 44.63h0.95v0.95h-0.95zM128.02 39.8h0.95v0.95h-0.95zM134.85 47h0.95v0.95h-0.95zM144.01 50.49h0.95v0.95h-0.95zM129.74 40.45h0.95v0.95h-0.95zM118.02 49.08h0.95v0.95h-0.95zM123.11 44.21h0.95v0.95h-0.95zM118.33 52.38h0.95v0.95h-0.95zM120.42 47.02h0.95v0.95h-0.95zM140.44 45.27h0.95v0.95h-0.95zM131.81 48.9h0.95v0.95h-0.95zM117.84 47.27h0.95v0.95h-0.95zM135.23 44.14h0.95v0.95h-0.95zM140.08 47.79h0.95v0.95h-0.95zM127.12 44.37h0.95v0.95h-0.95zM124.59 40.79h0.95v0.95h-0.95zM127.3 51.49h0.95v0.95h-0.95zM132.28 44.82h0.95v0.95h-0.95zM135.12 44.09h0.95v0.95h-0.95zM139.46 46.75h0.95v0.95h-0.95zM139.7 41.43h0.95v0.95h-0.95zM139.48 42.01h0.95v0.95h-0.95zM140.9 44.4h0.95v0.95h-0.95zM135.29 44.34h0.95v0.95h-0.95zM117.75 46h0.95v0.95h-0.95zM128.95 48.94h0.95v0.95h-0.95zM132.51 44.47h0.95v0.95h-0.95zM126.93 47.18h0.95v0.95h-0.95zM137.29 47.48h0.95v0.95h-0.95zM127.12 42.76h0.95v0.95h-0.95zM122.59 46.44h0.95v0.95h-0.95zM141.55 43.16h0.95v0.95h-0.95zM135.33 48.78h0.95v0.95h-0.95zM131.75 47.07h0.95v0.95h-0.95zM137.41 45.85h0.95v0.95h-0.95zM138.5 42.05h0.95v0.95h-0.95zM132.73 46.12h0.95v0.95h-0.95zM110.34 43.65h0.95v0.95h-0.95zM124.6 47.78h0.95v0.95h-0.95zM126.35 45.47h0.95v0.95h-0.95zM122.13 43.53h0.95v0.95h-0.95zM131.59 48.39h0.95v0.95h-0.95zM139.54 47.82h0.95v0.95h-0.95zM126.12 44.14h0.95v0.95h-0.95zM120.92 49.05h0.95v0.95h-0.95zM146.22 44.96h0.95v0.95h-0.95zM126.39 44.93h0.95v0.95h-0.95zM120.14 46.15h0.95v0.95h-0.95zM131.9 43.69h0.95v0.95h-0.95zM133.41 44.56h0.95v0.95h-0.95zM124.36 45.35h0.95v0.95h-0.95zM136.32 50.08h0.95v0.95h-0.95zM126.1 50h0.95v0.95h-0.95zM122.62 45.08h0.95v0.95h-0.95zM131.43 50.31h0.95v0.95h-0.95zM136.17 45.68h0.95v0.95h-0.95zM124.93 46.87h0.95v0.95h-0.95zM132.65 48.27h0.95v0.95h-0.95zM129.25 46.62h0.95v0.95h-0.95zM152.6 52.56h0.95v0.95h-0.95zM124.33 46.48h0.95v0.95h-0.95zM141.07 42.45h0.95v0.95h-0.95zM129.58 49.46h0.95v0.95h-0.95zM128.99 44.65h0.95v0.95h-0.95zM135.77 44.95h0.95v0.95h-0.95zM137.15 37.42h0.95v0.95h-0.95zM140.14 48.6h0.95v0.95h-0.95zM132.63 48.09h0.95v0.95h-0.95zM125.2 48.04h0.95v0.95h-0.95zM125.7 48.54h0.95v0.95h-0.95zM134.08 50.53h0.95v0.95h-0.95zM134.65 45.67h0.95v0.95h-0.95zM141.18 48.43h0.95v0.95h-0.95zM133.35 43.72h0.95v0.95h-0.95zM138.48 44.81h0.95v0.95h-0.95zM142.13 48.76h0.95v0.95h-0.95zM131.32 46.9h0.95v0.95h-0.95zM118.12 42.07h0.95v0.95h-0.95zM120.57 46.81h0.95v0.95h-0.95zM118.5 45.29h0.95v0.95h-0.95zM142.73 43.51h0.95v0.95h-0.95zM123.22 47.02h0.95v0.95h-0.95zM139.85 44.67h0.95v0.95h-0.95zM134.69 41.4h0.95v0.95h-0.95zM143.72 42.69h0.95v0.95h-0.95zM138.02 50.75h0.95v0.95h-0.95zM129.18 41.56h0.95v0.95h-0.95zM128.4 46.42h0.95v0.95h-0.95zM119.32 47.17h0.95v0.95h-0.95zM119.67 42.61h0.95v0.95h-0.95zM97.29 44.93h0.95v0.95h-0.95zM108.14 39.91h0.95v0.95h-0.95zM113.69 46.74h0.95v0.95h-0.95zM121.6 39.02h0.95v0.95h-0.95zM104.26 42.4h0.95v0.95h-0.95zM98.04 47.48h0.95v0.95h-0.95zM124.03 39.04h0.95v0.95h-0.95zM125.26 42.04h0.95v0.95h-0.95zM116.44 44.16h0.95v0.95h-0.95zM104.69 38.13h0.95v0.95h-0.95zM116.88 48.16h0.95v0.95h-0.95zM113.31 44.86h0.95v0.95h-0.95zM122.05 37.44h0.95v0.95h-0.95zM97.01 43.31h0.95v0.95h-0.95zM113.4 40.4h0.95v0.95h-0.95zM110.09 40.87h0.95v0.95h-0.95zM98.68 43.81h0.95v0.95h-0.95zM114.59 40.66h0.95v0.95h-0.95zM112.42 47.36h0.95v0.95h-0.95zM107.08 40.68h0.95v0.95h-0.95zM116.75 47.43h0.95v0.95h-0.95zM94.97 43.32h0.95v0.95h-0.95zM111.36 46.92h0.95v0.95h-0.95zM117.18 41.33h0.95v0.95h-0.95zM115.41 41.48h0.95v0.95h-0.95zM124.92 38.89h0.95v0.95h-0.95zM97.59 45.81h0.95v0.95h-0.95zM93.91 47.25h0.95v0.95h-0.95zM114.87 51.98h0.95v0.95h-0.95zM117.46 48.66h0.95v0.95h-0.95zM137.44 44.5h0.95v0.95h-0.95zM119.4 42.66h0.95v0.95h-0.95zM101.51 45.05h0.95v0.95h-0.95zM121.67 43.39h0.95v0.95h-0.95zM101.85 49.35h0.95v0.95h-0.95zM94.17 47.28h0.95v0.95h-0.95zM143.31 40.15h0.95v0.95h-0.95zM115.91 40.75h0.95v0.95h-0.95zM120.58 48.97h0.95v0.95h-0.95zM118.76 44.73h0.95v0.95h-0.95zM133.74 42.57h0.95v0.95h-0.95zM115.41 48.25h0.95v0.95h-0.95zM126.61 41.95h0.95v0.95h-0.95zM99.67 42.38h0.95v0.95h-0.95zM95.29 41.66h0.95v0.95h-0.95zM129.12 35.65h0.95v0.95h-0.95zM129.7 46.96h0.95v0.95h-0.95zM118.13 38.66h0.95v0.95h-0.95zM114.71 41.23h0.95v0.95h-0.95zM113.99 40.52h0.95v0.95h-0.95zM103.74 46.41h0.95v0.95h-0.95zM130.46 43.23h0.95v0.95h-0.95zM119.91 43.56h0.95v0.95h-0.95zM118.07 36.78h0.95v0.95h-0.95zM116.51 43.15h0.95v0.95h-0.95zM124.57 37.59h0.95v0.95h-0.95zM118.06 44.73h0.95v0.95h-0.95zM120.94 44.97h0.95v0.95h-0.95zM97.97 43.43h0.95v0.95h-0.95zM118.12 51.67h0.95v0.95h-0.95zM138.25 45.61h0.95v0.95h-0.95zM105.78 45.88h0.95v0.95h-0.95zM110.45 44.07h0.95v0.95h-0.95zM122.7 42.73h0.95v0.95h-0.95zM123.49 47.36h0.95v0.95h-0.95zM119.49 47.91h0.95v0.95h-0.95zM92.59 38.3h0.95v0.95h-0.95zM118.02 47.72h0.95v0.95h-0.95zM97.8 45.56h0.95v0.95h-0.95zM102.1 47.34h0.95v0.95h-0.95zM118.58 45.36h0.95v0.95h-0.95zM108.45 38.52h0.95v0.95h-0.95zM121.72 38.81h0.95v0.95h-0.95zM149.78 50.8h0.95v0.95h-0.95zM121.33 44.51h0.95v0.95h-0.95zM120.67 37.83h0.95v0.95h-0.95zM101.25 44.89h0.95v0.95h-0.95zM104.28 42.05h0.95v0.95h-0.95zM99.24 36.13h0.95v0.95h-0.95zM105.61 34.34h0.95v0.95h-0.95zM98.9 37.09h0.95v0.95h-0.95zM104.08 44.59h0.95v0.95h-0.95zM109.5 43.31h0.95v0.95h-0.95zM99.99 42.5h0.95v0.95h-0.95zM94.97 44.64h0.95v0.95h-0.95zM95.66 45.9h0.95v0.95h-0.95zM117.45 35.09h0.95v0.95h-0.95zM112.72 42.3h0.95v0.95h-0.95zM124.31 40.19h0.95v0.95h-0.95zM124.53 38.57h0.95v0.95h-0.95zM107.91 41.31h0.95v0.95h-0.95zM120.04 43.01h0.95v0.95h-0.95zM94.71 42.43h0.95v0.95h-0.95zM139.4 37.68h0.95v0.95h-0.95zM126.34 41.57h0.95v0.95h-0.95zM109.42 51.56h0.95v0.95h-0.95zM98.04 39.28h0.95v0.95h-0.95zM116.56 36.75h0.95v0.95h-0.95zM89.56 44.6h0.95v0.95h-0.95zM102.65 45.89h0.95v0.95h-0.95zM120.99 45.36h0.95v0.95h-0.95zM112.91 39.02h0.95v0.95h-0.95zM106.11 47.49h0.95v0.95h-0.95zM123.41 40.36h0.95v0.95h-0.95zM99.54 38.96h0.95v0.95h-0.95zM115.42 41.07h0.95v0.95h-0.95zM106.03 43.07h0.95v0.95h-0.95zM101.83 46.36h0.95v0.95h-0.95zM117.56 46h0.95v0.95h-0.95zM100.09 43.41h0.95v0.95h-0.95zM134.82 47.23h0.95v0.95h-0.95zM104.98 43.83h0.95v0.95h-0.95zM135.88 47.08h0.95v0.95h-0.95zM98.87 37.88h0.95v0.95h-0.95zM119.27 37.2h0.95v0.95h-0.95zM97.61 46.6h0.95v0.95h-0.95zM95.91 37.94h0.95v0.95h-0.95zM113.92 42.29h0.95v0.95h-0.95zM120.13 43.11h0.95v0.95h-0.95zM96.71 41.55h0.95v0.95h-0.95zM126.21 41.69h0.95v0.95h-0.95zM102.43 49.07h0.95v0.95h-0.95zM113.57 33.38h0.95v0.95h-0.95zM116.56 47.04h0.95v0.95h-0.95zM119.14 52.68h0.95v0.95h-0.95zM90.43 43.59h0.95v0.95h-0.95zM131.42 43.42h0.95v0.95h-0.95zM118.74 46.41h0.95v0.95h-0.95zM106.89 50.82h0.95v0.95h-0.95zM99.71 38.75h0.95v0.95h-0.95zM91.67 43.85h0.95v0.95h-0.95zM95.66 42.76h0.95v0.95h-0.95zM118.54 45.74h0.95v0.95h-0.95zM107.91 44.14h0.95v0.95h-0.95zM98.42 46.14h0.95v0.95h-0.95zM105.68 41.81h0.95v0.95h-0.95zM130.77 43.7h0.95v0.95h-0.95zM108.03 40.82h0.95v0.95h-0.95zM104.99 40.84h0.95v0.95h-0.95zM128.21 42.93h0.95v0.95h-0.95zM117.54 42.93h0.95v0.95h-0.95zM112.53 38.81h0.95v0.95h-0.95zM104.71 49.78h0.95v0.95h-0.95zM93.37 42.96h0.95v0.95h-0.95zM97.95 37.97h0.95v0.95h-0.95zM106.23 47.91h0.95v0.95h-0.95zM109.36 40.51h0.95v0.95h-0.95zM116.27 45.53h0.95v0.95h-0.95zM118.62 43.43h0.95v0.95h-0.95zM114.68 44.5h0.95v0.95h-0.95zM114.64 44.18h0.95v0.95h-0.95zM99.91 41.2h0.95v0.95h-0.95zM86.14 43.66h0.95v0.95h-0.95zM105.75 51.63h0.95v0.95h-0.95zM100.55 34.55h0.95v0.95h-0.95zM104.17 43.76h0.95v0.95h-0.95zM108.71 45.24h0.95v0.95h-0.95zM97.08 39.29h0.95v0.95h-0.95zM98.67 38.02h0.95v0.95h-0.95zM110.8 52.14h0.95v0.95h-0.95zM113.39 42.01h0.95v0.95h-0.95zM104.13 51.82h0.95v0.95h-0.95zM117.98 45.64h0.95v0.95h-0.95zM109.37 43.8h0.95v0.95h-0.95zM99.76 45.4h0.95v0.95h-0.95zM112.49 46.04h0.95v0.95h-0.95zM134.59 48.22h0.95v0.95h-0.95zM103.9 45.24h0.95v0.95h-0.95zM125.99 44.08h0.95v0.95h-0.95zM128.53 44.21h0.95v0.95h-0.95zM129.98 48.91h0.95v0.95h-0.95zM102.13 46.77h0.95v0.95h-0.95zM136.18 39.49h0.95v0.95h-0.95zM113.4 40.96h0.95v0.95h-0.95zM108.95 44.82h0.95v0.95h-0.95zM109.24 41.01h0.95v0.95h-0.95zM119.22 41.99h0.95v0.95h-0.95zM112.61 39.68h0.95v0.95h-0.95zM109.88 42.45h0.95v0.95h-0.95zM127.4 45.19h0.95v0.95h-0.95zM103.33 47.48h0.95v0.95h-0.95zM99.48 43.54h0.95v0.95h-0.95zM121.52 51.8h0.95v0.95h-0.95zM120.44 43.19h0.95v0.95h-0.95zM99.13 47.51h0.95v0.95h-0.95zM124.98 45.49h0.95v0.95h-0.95zM117.78 41.5h0.95v0.95h-0.95zM133.15 32.2h0.95v0.95h-0.95zM97.02 42.88h0.95v0.95h-0.95zM114.62 44.21h0.95v0.95h-0.95zM108.67 51.19h0.95v0.95h-0.95zM92.92 37.98h0.95v0.95h-0.95zM103.42 51.12h0.95v0.95h-0.95zM125.52 42.5h0.95v0.95h-0.95zM106.37 46.4h0.95v0.95h-0.95zM103.33 33.34h0.95v0.95h-0.95zM122.42 44.06h0.95v0.95h-0.95zM123.87 42.13h0.95v0.95h-0.95zM123.84 46.23h0.95v0.95h-0.95zM102.52 43.86h0.95v0.95h-0.95zM111.3 38.93h0.95v0.95h-0.95zM124.37 47.29h0.95v0.95h-0.95zM104.13 46.28h0.95v0.95h-0.95zM103.01 45.89h0.95v0.95h-0.95zM121.94 47.54h0.95v0.95h-0.95zM130.75 47.9h0.95v0.95h-0.95zM98.18 43.41h0.95v0.95h-0.95zM80.83 38.07h0.95v0.95h-0.95zM94.6 37.96h0.95v0.95h-0.95zM99.85 48.9h0.95v0.95h-0.95zM110.35 46.34h0.95v0.95h-0.95zM119.39 43.91h0.95v0.95h-0.95zM110.24 41.76h0.95v0.95h-0.95zM103.6 43.63h0.95v0.95h-0.95zM113.84 43.6h0.95v0.95h-0.95zM100.46 42.15h0.95v0.95h-0.95zM111.44 40.7h0.95v0.95h-0.95zM104.3 52.16h0.95v0.95h-0.95zM144.16 44.41h0.95v0.95h-0.95zM121.8 41.08h0.95v0.95h-0.95zM101.98 38.29h0.95v0.95h-0.95zM100.04 40.6h0.95v0.95h-0.95zM106.74 46.38h0.95v0.95h-0.95zM92.26 46.53h0.95v0.95h-0.95zM103.23 42.63h0.95v0.95h-0.95zM103.14 43.71h0.95v0.95h-0.95zM122.61 42.28h0.95v0.95h-0.95zM106.88 39.07h0.95v0.95h-0.95zM102.51 48.71h0.95v0.95h-0.95zM95.91 44.99h0.95v0.95h-0.95zM97.88 53.41h0.95v0.95h-0.95zM111.2 40.48h0.95v0.95h-0.95zM109.42 42.95h0.95v0.95h-0.95zM125.61 47.03h0.95v0.95h-0.95zM104.45 42.52h0.95v0.95h-0.95zM124.71 37.95h0.95v0.95h-0.95zM115.09 39.7h0.95v0.95h-0.95zM111.94 43.9h0.95v0.95h-0.95zM87.9 44.87h0.95v0.95h-0.95zM96.52 43.12h0.95v0.95h-0.95zM120.9 47.51h0.95v0.95h-0.95zM128.77 47.47h0.95v0.95h-0.95zM114.48 44.79h0.95v0.95h-0.95zM121.15 43.61h0.95v0.95h-0.95zM107.11 42.49h0.95v0.95h-0.95zM107.54 45.7h0.95v0.95h-0.95zM104.04 47.18h0.95v0.95h-0.95zM123.7 43.74h0.95v0.95h-0.95zM116.11 45.3h0.95v0.95h-0.95zM109.19 42.2h0.95v0.95h-0.95zM108.06 37.85h0.95v0.95h-0.95zM118.68 39.5h0.95v0.95h-0.95zM115.88 46.56h0.95v0.95h-0.95zM102.02 45.29h0.95v0.95h-0.95zM132.59 49.86h0.95v0.95h-0.95zM115.08 43.72h0.95v0.95h-0.95zM112.13 46.96h0.95v0.95h-0.95zM129.73 48.79h0.95v0.95h-0.95zM124.29 47.48h0.95v0.95h-0.95zM110.94 41.07h0.95v0.95h-0.95zM118.43 42.76h0.95v0.95h-0.95zM99.16 44.02h0.95v0.95h-0.95zM104.31 39.56h0.95v0.95h-0.95zM84.88 45.4h0.95v0.95h-0.95zM126.64 47.6h0.95v0.95h-0.95zM89.22 41.58h0.95v0.95h-0.95zM120.18 51.39h0.95v0.95h-0.95zM102.03 42.34h0.95v0.95h-0.95zM100.25 42.69h0.95v0.95h-0.95zM109.66 42.55h0.95v0.95h-0.95zM115.2 40.67h0.95v0.95h-0.95zM119.35 45.17h0.95v0.95h-0.95zM133.26 43.58h0.95v0.95h-0.95zM116.3 50.15h0.95v0.95h-0.95zM122.57 45.93h0.95v0.95h-0.95zM104.82 45.65h0.95v0.95h-0.95zM120.56 42.61h0.95v0.95h-0.95zM113.84 37.84h0.95v0.95h-0.95zM106.44 43.14h0.95v0.95h-0.95zM110.85 40.1h0.95v0.95h-0.95zM111.26 47.31h0.95v0.95h-0.95zM114.29 43.38h0.95v0.95h-0.95zM116.82 50.16h0.95v0.95h-0.95zM105.89 46.44h0.95v0.95h-0.95zM103.11 46.84h0.95v0.95h-0.95zM120.97 44.42h0.95v0.95h-0.95zM91.64 44.33h0.95v0.95h-0.95zM104.58 46.11h0.95v0.95h-0.95zM130.63 47.19h0.95v0.95h-0.95zM79.51 40.66h0.95v0.95h-0.95zM103.68 45.47h0.95v0.95h-0.95zM120.25 53.98h0.95v0.95h-0.95zM92.2 43.14h0.95v0.95h-0.95zM143.18 42.48h0.95v0.95h-0.95zM80.94 40.73h0.95v0.95h-0.95zM129.24 37.71h0.95v0.95h-0.95zM130.69 48.26h0.95v0.95h-0.95zM101.1 35.16h0.95v0.95h-0.95zM105.39 48.99h0.95v0.95h-0.95zM133.21 22.7h0.95v0.95h-0.95zM145.17 41.11h0.95v0.95h-0.95zM84.01 29.36h0.95v0.95h-0.95zM118.98 46.91h0.95v0.95h-0.95zM111.23 34.32h0.95v0.95h-0.95zM107.19 44.28h0.95v0.95h-0.95zM108.64 29.17h0.95v0.95h-0.95zM99.61 22.31h0.95v0.95h-0.95zM128.64 25.01h0.95v0.95h-0.95zM111.1 29.54h0.95v0.95h-0.95zM106.25 25.78h0.95v0.95h-0.95zM122.49 45.8h0.95v0.95h-0.95zM116.18 47.05h0.95v0.95h-0.95zM108.33 37.46h0.95v0.95h-0.95zM105.93 25.69h0.95v0.95h-0.95zM131.65 33.93h0.95v0.95h-0.95zM109.22 28.83h0.95v0.95h-0.95zM98.43 48.09h0.95v0.95h-0.95zM84.62 37.84h0.95v0.95h-0.95zM93.86 39.4h0.95v0.95h-0.95zM81.16 31.4h0.95v0.95h-0.95zM101.99 16.9h0.95v0.95h-0.95zM104.68 28.06h0.95v0.95h-0.95zM100.38 38.33h0.95v0.95h-0.95zM111.73 35.87h0.95v0.95h-0.95zM103.05 27.79h0.95v0.95h-0.95zM82.86 31.5h0.95v0.95h-0.95zM122.89 49.1h0.95v0.95h-0.95zM87.51 26.37h0.95v0.95h-0.95zM77.94 26.74h0.95v0.95h-0.95zM80.59 32.94h0.95v0.95h-0.95zM99.78 28.71h0.95v0.95h-0.95zM117.74 31.14h0.95v0.95h-0.95zM121.02 39.78h0.95v0.95h-0.95zM103.82 50.59h0.95v0.95h-0.95zM78.55 18.98h0.95v0.95h-0.95zM88.22 34.84h0.95v0.95h-0.95zM83.88 35.37h0.95v0.95h-0.95zM96.82 34.24h0.95v0.95h-0.95zM102.03 31.94h0.95v0.95h-0.95zM111.64 44.04h0.95v0.95h-0.95zM97.34 30.81h0.95v0.95h-0.95zM108.31 33.85h0.95v0.95h-0.95zM83.13 35h0.95v0.95h-0.95zM73.83 35.97h0.95v0.95h-0.95zM88.55 33.46h0.95v0.95h-0.95zM120.85 43.99h0.95v0.95h-0.95zM118.56 34.92h0.95v0.95h-0.95zM91.79 36.57h0.95v0.95h-0.95zM121.68 34.54h0.95v0.95h-0.95zM94.17 25.97h0.95v0.95h-0.95zM127.23 27.53h0.95v0.95h-0.95zM108.7 25.55h0.95v0.95h-0.95zM91.88 36.73h0.95v0.95h-0.95zM114.33 28.58h0.95v0.95h-0.95zM86.07 25.45h0.95v0.95h-0.95zM83.17 37.14h0.95v0.95h-0.95zM73.89 39.73h0.95v0.95h-0.95zM104.65 19.15h0.95v0.95h-0.95zM99.04 50.21h0.95v0.95h-0.95zM98.61 35.29h0.95v0.95h-0.95zM92.62 34.05h0.95v0.95h-0.95zM125.88 44.6h0.95v0.95h-0.95zM92.38 35.63h0.95v0.95h-0.95zM86.98 29.57h0.95v0.95h-0.95zM122.43 54.75h0.95v0.95h-0.95zM125.58 25.33h0.95v0.95h-0.95zM106.1 34.12h0.95v0.95h-0.95zM89.21 25.37h0.95v0.95h-0.95zM111.03 34.08h0.95v0.95h-0.95zM102.26 42.47h0.95v0.95h-0.95zM112.65 42.66h0.95v0.95h-0.95zM115.55 40.07h0.95v0.95h-0.95zM76.13 35.82h0.95v0.95h-0.95zM121.71 45.38h0.95v0.95h-0.95zM119.1 31.64h0.95v0.95h-0.95zM121.72 26.71h0.95v0.95h-0.95zM113.66 50.64h0.95v0.95h-0.95zM94.8 48.3h0.95v0.95h-0.95zM88.16 43.56h0.95v0.95h-0.95zM120.71 23.23h0.95v0.95h-0.95zM96.59 18.69h0.95v0.95h-0.95zM99.91 51.13h0.95v0.95h-0.95zM110.22 51.89h0.95v0.95h-0.95z" fill="#a2a2a2" fill-opacity="0.9"/>
<path d="M153.88 42.16h0.95v0.95h-0.95zM147.39 42.86h0.95v0.95h-0.95zM145.08 39.13h0.95v0.95h-0.95zM147.66 43.62h0.95v0.95h-0.95zM137.32 31.98h0.95v0.95h-0.95zM159.09 40.5h0.95v0.95h-0.95zM138.71 36.63h0.95v0.95h-0.95zM157.62 39.29h0.95v0.95h-0.95zM153.61 35.51h0.95v0.95h-0.95zM157.11 52.86h0.95v0.95h-0.95zM147.4 40.68h0.95v0.95h-0.95zM160.63 46.36h0.95v0.95h-0.95zM137.63 33.34h0.95v0.95h-0.95zM153.95 46.06h0.95v0.95h-0.95zM152.21 29.31h0.95v0.95h-0.95zM152.61 38.37h0.95v0.95h-0.95zM154.84 32.49h0.95v0.95h-0.95zM160 45.23h0.95v0.95h-0.95zM149.24 45.96h0.95v0.95h-0.95zM132.15 27.74h0.95v0.95h-0.95zM166.03 43.15h0.95v0.95h-0.95zM143.2 23.8h0.95v0.95h-0.95zM131.77 24.15h0.95v0.95h-0.95zM166.29 52.73h0.95v0.95h-0.95zM135.24 28.21h0.95v0.95h-0.95zM157.77 29.42h0.95v0.95h-0.95zM145.43 31.48h0.95v0.95h-0.95zM128.85 25.27h0.95v0.95h-0.95zM145.49 35.95h0.95v0.95h-0.95zM153.61 47.75h0.95v0.95h-0.95zM152.4 29.96h0.95v0.95h-0.95zM158.74 47.08h0.95v0.95h-0.95zM148.37 31.43h0.95v0.95h-0.95zM149.62 38.18h0.95v0.95h-0.95zM144.65 36.03h0.95v0.95h-0.95zM151.68 43.08h0.95v0.95h-0.95zM172.82 49.7h0.95v0.95h-0.95zM153.54 40.95h0.95v0.95h-0.95zM156.15 33.49h0.95v0.95h-0.95zM148.07 25.95h0.95v0.95h-0.95zM140.11 33.76h0.95v0.95h-0.95zM166.36 48.61h0.95v0.95h-0.95zM143.01 26.14h0.95v0.95h-0.95zM149.06 36.55h0.95v0.95h-0.95zM140.42 40.9h0.95v0.95h-0.95zM160.01 32.02h0.95v0.95h-0.95zM158.29 42.45h0.95v0.95h-0.95zM136.38 30.51h0.95v0.95h-0.95zM141.86 33.91h0.95v0.95h-0.95zM153.55 42.55h0.95v0.95h-0.95zM168.76 49.11h0.95v0.95h-0.95zM134.35 37.89h0.95v0.95h-0.95zM161.12 44.53h0.95v0.95h-0.95zM170.06 44.89h0.95v0.95h-0.95zM139.78 43.88h0.95v0.95h-0.95zM162.11 54.18h0.95v0.95h-0.95zM141.74 44.31h0.95v0.95h-0.95zM165.57 41.88h0.95v0.95h-0.95zM148.76 38.21h0.95v0.95h-0.95zM147.23 32.68h0.95v0.95h-0.95zM143.56 35.98h0.95v0.95h-0.95zM165.23 50.38h0.95v0.95h-0.95zM140 29.77h0.95v0.95h-0.95zM147.08 33.09h0.95v0.95h-0.95zM136.54 24.78h0.95v0.95h-0.95zM142.87 47.41h0.95v0.95h-0.95zM151.71 32.66h0.95v0.95h-0.95zM150.74 34.25h0.95v0.95h-0.95zM144.81 33.63h0.95v0.95h-0.95zM150.28 29.99h0.95v0.95h-0.95zM152.15 24.06h0.95v0.95h-0.95zM150.37 44.67h0.95v0.95h-0.95zM143.9 27.23h0.95v0.95h-0.95zM148.81 32.48h0.95v0.95h-0.95zM149.85 34.4h0.95v0.95h-0.95zM167.68 43.15h0.95v0.95h-0.95zM157.81 35.33h0.95v0.95h-0.95zM148.47 37.09h0.95v0.95h-0.95zM148.16 52.35h0.95v0.95h-0.95zM152.21 43.79h0.95v0.95h-0.95zM159.62 49.25h0.95v0.95h-0.95zM160.68 34.43h0.95v0.95h-0.95zM169.87 51.36h0.95v0.95h-0.95zM168.77 42.54h0.95v0.95h-0.95zM147.2 40.41h0.95v0.95h-0.95zM146.42 32.91h0.95v0.95h-0.95zM159.71 44.41h0.95v0.95h-0.95zM156.13 40.93h0.95v0.95h-0.95zM151.08 33.84h0.95v0.95h-0.95zM158.55 33.73h0.95v0.95h-0.95zM162.5 38h0.95v0.95h-0.95zM159.95 42.26h0.95v0.95h-0.95zM138.46 23.82h0.95v0.95h-0.95zM160.66 46.65h0.95v0.95h-0.95zM141.03 37.57h0.95v0.95h-0.95zM153.62 41.44h0.95v0.95h-0.95zM154.1 41.43h0.95v0.95h-0.95zM141.35 30.97h0.95v0.95h-0.95zM140.91 36.43h0.95v0.95h-0.95zM138.97 31.62h0.95v0.95h-0.95zM159.03 35.12h0.95v0.95h-0.95zM150.85 37.74h0.95v0.95h-0.95zM161.45 42.73h0.95v0.95h-0.95zM152.17 42.7h0.95v0.95h-0.95zM139.64 37.18h0.95v0.95h-0.95zM161.63 29.44h0.95v0.95h-0.95zM146.17 33.81h0.95v0.95h-0.95zM150.4 50.94h0.95v0.95h-0.95zM150.78 43.67h0.95v0.95h-0.95zM134.64 35.94h0.95v0.95h-0.95zM149.88 37.71h0.95v0.95h-0.95zM155.52 31.17h0.95v0.95h-0.95zM150.54 29.69h0.95v0.95h-0.95zM157.63 47.56h0.95v0.95h-0.95zM148.59 31h0.95v0.95h-0.95zM147.25 33.23h0.95v0.95h-0.95zM154.55 28.28h0.95v0.95h-0.95zM146.58 32.19h0.95v0.95h-0.95zM146.15 49.42h0.95v0.95h-0.95zM157.01 41.43h0.95v0.95h-0.95zM136.15 39.71h0.95v0.95h-0.95zM147.85 31.9h0.95v0.95h-0.95zM142.31 25.89h0.95v0.95h-0.95zM165.89 33.14h0.95v0.95h-0.95zM130.47 29.53h0.95v0.95h-0.95zM148 33.05h0.95v0.95h-0.95zM149.67 39.15h0.95v0.95h-0.95zM154.68 41.8h0.95v0.95h-0.95zM154.54 27.89h0.95v0.95h-0.95zM132.43 34.71h0.95v0.95h-0.95zM151.03 35.33h0.95v0.95h-0.95zM155.16 39.73h0.95v0.95h-0.95zM150.87 44.14h0.95v0.95h-0.95zM160.53 51.6h0.95v0.95h-0.95zM163.87 42.98h0.95v0.95h-0.95zM132.6 25.1h0.95v0.95h-0.95zM138.25 31.28h0.95v0.95h-0.95zM129.39 28.8h0.95v0.95h-0.95zM161.54 46.21h0.95v0.95h-0.95zM151.18 49.89h0.95v0.95h-0.95zM158.66 41.72h0.95v0.95h-0.95zM142.59 27.53h0.95v0.95h-0.95zM138.98 25.87h0.95v0.95h-0.95zM159.38 26.36h0.95v0.95h-0.95zM153.94 34.39h0.95v0.95h-0.95zM137.54 35.03h0.95v0.95h-0.95zM150.87 39.57h0.95v0.95h-0.95zM159.92 38.65h0.95v0.95h-0.95zM151.52 40.64h0.95v0.95h-0.95zM145.63 37.57h0.95v0.95h-0.95zM149.68 41.72h0.95v0.95h-0.95zM149.89 31.68h0.95v0.95h-0.95zM142.5 37.99h0.95v0.95h-0.95zM136.47 40.24h0.95v0.95h-0.95zM159.4 41h0.95v0.95h-0.95zM147.17 40.2h0.95v0.95h-0.95zM156.65 31.18h0.95v0.95h-0.95zM141.38 35.11h0.95v0.95h-0.95zM151.82 38.75h0.95v0.95h-0.95zM138.54 30.19h0.95v0.95h-0.95zM138.34 24.62h0.95v0.95h-0.95zM147.55 33.32h0.95v0.95h-0.95zM160.62 50.46h0.95v0.95h-0.95zM146.6 46.56h0.95v0.95h-0.95zM166.83 47.86h0.95v0.95h-0.95zM154.17 28.74h0.95v0.95h-0.95zM142.59 40.58h0.95v0.95h-0.95zM132.98 28.95h0.95v0.95h-0.95zM141.63 35.78h0.95v0.95h-0.95zM165.25 49.48h0.95v0.95h-0.95zM146.1 50.39h0.95v0.95h-0.95zM157.93 43.43h0.95v0.95h-0.95zM156.18 45.19h0.95v0.95h-0.95zM156.17 28.79h0.95v0.95h-0.95zM149.84 33.02h0.95v0.95h-0.95zM153.73 35.1h0.95v0.95h-0.95zM157.6 42.46h0.95v0.95h-0.95zM154.02 42.48h0.95v0.95h-0.95zM158.01 37.77h0.95v0.95h-0.95zM146.15 46.34h0.95v0.95h-0.95zM145.27 26.33h0.95v0.95h-0.95zM148.8 33.15h0.95v0.95h-0.95zM139.1 30.88h0.95v0.95h-0.95zM165.26 39.57h0.95v0.95h-0.95zM145.7 38.41h0.95v0.95h-0.95zM140.15 43.21h0.95v0.95h-0.95zM137.51 28.63h0.95v0.95h-0.95zM149.05 38.4h0.95v0.95h-0.95zM167.41 43.15h0.95v0.95h-0.95zM153.93 28.4h0.95v0.95h-0.95zM158.95 39.27h0.95v0.95h-0.95zM152.32 36.6h0.95v0.95h-0.95zM147.6 32.24h0.95v0.95h-0.95zM158.81 27.01h0.95v0.95h-0.95zM148.04 27.87h0.95v0.95h-0.95zM150.83 25.1h0.95v0.95h-0.95zM149.91 46.37h0.95v0.95h-0.95zM156.5 37.95h0.95v0.95h-0.95zM160.3 41.06h0.95v0.95h-0.95zM155.34 33.39h0.95v0.95h-0.95zM131.57 29.99h0.95v0.95h-0.95zM157.33 39.62h0.95v0.95h-0.95zM146.06 35.82h0.95v0.95h-0.95zM153.74 25.78h0.95v0.95h-0.95zM130.11 30.81h0.95v0.95h-0.95zM142.6 34.51h0.95v0.95h-0.95zM140.41 34.01h0.95v0.95h-0.95zM145.69 42.59h0.95v0.95h-0.95zM134.93 24.86h0.95v0.95h-0.95zM151.27 36.92h0.95v0.95h-0.95zM149.16 41.52h0.95v0.95h-0.95zM136.53 30.32h0.95v0.95h-0.95zM144.15 31.21h0.95v0.95h-0.95zM140.65 30.67h0.95v0.95h-0.95zM161.74 42.19h0.95v0.95h-0.95zM143.34 38.79h0.95v0.95h-0.95zM132.01 24.12h0.95v0.95h-0.95zM139.25 42.38h0.95v0.95h-0.95zM164.48 37.02h0.95v0.95h-0.95zM144.04 31.22h0.95v0.95h-0.95zM146.03 46.14h0.95v0.95h-0.95zM142.32 28.66h0.95v0.95h-0.95zM155.53 50.86h0.95v0.95h-0.95zM160.67 48.7h0.95v0.95h-0.95zM135.58 32.06h0.95v0.95h-0.95zM165.32 41.21h0.95v0.95h-0.95zM152.46 29.65h0.95v0.95h-0.95zM147.84 34.55h0.95v0.95h-0.95zM155.39 37.75h0.95v0.95h-0.95zM140.07 22.34h0.95v0.95h-0.95zM159.8 41.76h0.95v0.95h-0.95zM153.67 32.87h0.95v0.95h-0.95zM155.19 41.36h0.95v0.95h-0.95zM142.91 31.86h0.95v0.95h-0.95zM153.3 44.74h0.95v0.95h-0.95zM143.96 29.63h0.95v0.95h-0.95zM164.97 38.81h0.95v0.95h-0.95zM166.85 40.26h0.95v0.95h-0.95zM160.93 43.4h0.95v0.95h-0.95zM150.73 48.36h0.95v0.95h-0.95zM154.28 46.17h0.95v0.95h-0.95zM156.17 48.19h0.95v0.95h-0.95zM150.99 29.84h0.95v0.95h-0.95zM147.85 42.64h0.95v0.95h-0.95zM148.32 33.3h0.95v0.95h-0.95zM132.42 29.74h0.95v0.95h-0.95zM142.22 35.84h0.95v0.95h-0.95zM158.26 41.25h0.95v0.95h-0.95zM164.55 50.02h0.95v0.95h-0.95zM146.87 27.5h0.95v0.95h-0.95zM140.53 29.78h0.95v0.95h-0.95zM162.44 53.73h0.95v0.95h-0.95zM150.42 38.09h0.95v0.95h-0.95zM143.85 25.68h0.95v0.95h-0.95zM157.41 49.91h0.95v0.95h-0.95zM137.13 22.26h0.95v0.95h-0.95zM166 51.29h0.95v0.95h-0.95zM151.06 29.58h0.95v0.95h-0.95zM142.39 39.24h0.95v0.95h-0.95zM134.8 22.19h0.95v0.95h-0.95zM157.47 38.75h0.95v0.95h-0.95zM164.63 38.65h0.95v0.95h-0.95zM167.52 52.98h0.95v0.95h-0.95zM155.69 45.64h0.95v0.95h-0.95zM146.4 37h0.95v0.95h-0.95zM143.59 34.37h0.95v0.95h-0.95zM148.78 32.4h0.95v0.95h-0.95zM139.89 32.33h0.95v0.95h-0.95zM152.01 28.42h0.95v0.95h-0.95zM147.24 45.41h0.95v0.95h-0.95zM145.47 43.07h0.95v0.95h-0.95zM159.54 41.79h0.95v0.95h-0.95zM140.36 39.74h0.95v0.95h-0.95zM150.42 49.9h0.95v0.95h-0.95zM144.98 30.57h0.95v0.95h-0.95zM128.98 23.54h0.95v0.95h-0.95zM161.81 54.23h0.95v0.95h-0.95zM159.4 38.19h0.95v0.95h-0.95zM135.19 30.88h0.95v0.95h-0.95zM150.48 35.45h0.95v0.95h-0.95zM154.14 43.18h0.95v0.95h-0.95zM154.77 39.71h0.95v0.95h-0.95zM141.89 28.96h0.95v0.95h-0.95zM139.7 37.04h0.95v0.95h-0.95zM148.94 41.14h0.95v0.95h-0.95zM163.78 39.67h0.95v0.95h-0.95zM140.38 31.7h0.95v0.95h-0.95zM142.33 22.31h0.95v0.95h-0.95zM165.14 42.93h0.95v0.95h-0.95zM144.27 24.02h0.95v0.95h-0.95zM166.29 39.81h0.95v0.95h-0.95zM155.07 36.1h0.95v0.95h-0.95zM163.01 39.83h0.95v0.95h-0.95zM167.46 53.54h0.95v0.95h-0.95zM155.04 46.39h0.95v0.95h-0.95zM159.41 42.37h0.95v0.95h-0.95zM143.82 24.92h0.95v0.95h-0.95zM139.9 35.44h0.95v0.95h-0.95zM163.87 33.2h0.95v0.95h-0.95zM162.95 51.65h0.95v0.95h-0.95zM150.32 44.2h0.95v0.95h-0.95zM153.08 37.92h0.95v0.95h-0.95zM165.31 39.54h0.95v0.95h-0.95zM152.04 35.13h0.95v0.95h-0.95zM147.59 39.38h0.95v0.95h-0.95zM141.24 25.5h0.95v0.95h-0.95zM163.29 41.97h0.95v0.95h-0.95zM143.05 22.45h0.95v0.95h-0.95zM159.59 36.07h0.95v0.95h-0.95zM131.86 29.87h0.95v0.95h-0.95zM160.62 48.06h0.95v0.95h-0.95zM142.75 23.85h0.95v0.95h-0.95zM162.93 39.08h0.95v0.95h-0.95zM134.65 22.13h0.95v0.95h-0.95zM143.53 36.3h0.95v0.95h-0.95zM166.88 41.33h0.95v0.95h-0.95zM141.91 30.14h0.95v0.95h-0.95zM157.97 28.07h0.95v0.95h-0.95zM149.08 27.78h0.95v0.95h-0.95zM150.54 43.83h0.95v0.95h-0.95zM158.69 35.47h0.95v0.95h-0.95zM140.61 24.99h0.95v0.95h-0.95zM153.78 45.48h0.95v0.95h-0.95zM142.75 29.21h0.95v0.95h-0.95zM140.98 26.87h0.95v0.95h-0.95zM148.51 39.71h0.95v0.95h-0.95zM142.06 32.78h0.95v0.95h-0.95zM130.54 28.57h0.95v0.95h-0.95zM160.11 40.54h0.95v0.95h-0.95zM161.34 44.61h0.95v0.95h-0.95zM135.71 17.38h0.95v0.95h-0.95zM159.5 37.34h0.95v0.95h-0.95zM141.67 37.9h0.95v0.95h-0.95zM159.58 33.13h0.95v0.95h-0.95zM159.3 50.87h0.95v0.95h-0.95zM145.13 35.65h0.95v0.95h-0.95zM138.98 28.23h0.95v0.95h-0.95zM150.8 41.1h0.95v0.95h-0.95zM136 35.44h0.95v0.95h-0.95zM154.89 37.97h0.95v0.95h-0.95zM153.43 38.11h0.95v0.95h-0.95zM135.83 25.2h0.95v0.95h-0.95zM158.85 50.2h0.95v0.95h-0.95zM162.46 39.84h0.95v0.95h-0.95zM138.3 26.39h0.95v0.95h-0.95zM148.02 30.87h0.95v0.95h-0.95zM144.12 33.03h0.95v0.95h-0.95zM144.9 34.99h0.95v0.95h-0.95zM130.28 38.82h0.95v0.95h-0.95zM160.91 32.46h0.95v0.95h-0.95zM149.24 43.81h0.95v0.95h-0.95zM152.68 42.2h0.95v0.95h-0.95zM146.93 30.11h0.95v0.95h-0.95zM164.73 46.88h0.95v0.95h-0.95zM153.82 36.56h0.95v0.95h-0.95zM139.81 36.82h0.95v0.95h-0.95zM154.52 29.97h0.95v0.95h-0.95zM156.34 50.95h0.95v0.95h-0.95zM148.08 33.24h0.95v0.95h-0.95zM142.43 42.17h0.95v0.95h-0.95zM141.53 33.94h0.95v0.95h-0.95zM153.32 48.21h0.95v0.95h-0.95zM143.37 36.35h0.95v0.95h-0.95zM139.95 37.47h0.95v0.95h-0.95zM141.83 31.7h0.95v0.95h-0.95zM158.94 37.97h0.95v0.95h-0.95zM142.08 36.16h0.95v0.95h-0.95zM129.47 27.27h0.95v0.95h-0.95zM149.99 51.81h0.95v0.95h-0.95zM149.07 22.67h0.95v0.95h-0.95zM154.67 39.28h0.95v0.95h-0.95zM150.69 45.13h0.95v0.95h-0.95zM167.4 41.2h0.95v0.95h-0.95zM162.27 44.6h0.95v0.95h-0.95zM136.85 42.4h0.95v0.95h-0.95zM143.62 42.46h0.95v0.95h-0.95zM138.92 23.11h0.95v0.95h-0.95zM151.03 46.23h0.95v0.95h-0.95zM162.77 51.95h0.95v0.95h-0.95zM145.37 36.55h0.95v0.95h-0.95zM169.7 45.56h0.95v0.95h-0.95zM152.83 35.75h0.95v0.95h-0.95zM149.14 41.74h0.95v0.95h-0.95zM150.24 38.44h0.95v0.95h-0.95zM151.04 50.87h0.95v0.95h-0.95zM157.02 40.08h0.95v0.95h-0.95zM163.07 44.47h0.95v0.95h-0.95zM143.41 34.43h0.95v0.95h-0.95zM143.74 35.4h0.95v0.95h-0.95zM168.74 51.38h0.95v0.95h-0.95zM162.86 40.94h0.95v0.95h-0.95zM141.47 41.47h0.95v0.95h-0.95zM149.51 41.88h0.95v0.95h-0.95zM156.92 40.34h0.95v0.95h-0.95zM153.16 31.3h0.95v0.95h-0.95zM131.82 33.9h0.95v0.95h-0.95zM139.19 23.55h0.95v0.95h-0.95zM151.01 41.05h0.95v0.95h-0.95zM160.21 42.27h0.95v0.95h-0.95zM158.81 48.92h0.95v0.95h-0.95zM142.42 31.12h0.95v0.95h-0.95zM154.14 37.2h0.95v0.95h-0.95zM149.01 51.58h0.95v0.95h-0.95zM145.22 32.34h0.95v0.95h-0.95zM148.98 35.5h0.95v0.95h-0.95zM154.78 35.63h0.95v0.95h-0.95zM157.58 47.35h0.95v0.95h-0.95zM143.47 36.5h0.95v0.95h-0.95zM150.52 37.74h0.95v0.95h-0.95zM133.65 20.62h0.95v0.95h-0.95zM147.54 40.31h0.95v0.95h-0.95zM168.7 39.14h0.95v0.95h-0.95zM163.97 45.76h0.95v0.95h-0.95zM160.35 39.03h0.95v0.95h-0.95zM150.14 38.53h0.95v0.95h-0.95zM145.71 29.63h0.95v0.95h-0.95zM150.95 32.51h0.95v0.95h-0.95zM150.82 50.45h0.95v0.95h-0.95zM139.04 34.55h0.95v0.95h-0.95zM156.29 50.27h0.95v0.95h-0.95zM139.13 29.85h0.95v0.95h-0.95zM136.42 32.94h0.95v0.95h-0.95zM163.15 45.4h0.95v0.95h-0.95zM147 37.03h0.95v0.95h-0.95zM152.59 38.95h0.95v0.95h-0.95zM168.38 41.12h0.95v0.95h-0.95zM144.46 33.54h0.95v0.95h-0.95zM162.45 50.87h0.95v0.95h-0.95zM156.12 37.9h0.95v0.95h-0.95zM146.32 42.64h0.95v0.95h-0.95zM150.63 46.79h0.95v0.95h-0.95zM135.81 24.28h0.95v0.95h-0.95zM136.75 37.69h0.95v0.95h-0.95zM143.07 44.55h0.95v0.95h-0.95zM155.15 44.42h0.95v0.95h-0.95zM149.18 30.08h0.95v0.95h-0.95zM143.79 43.12h0.95v0.95h-0.95zM161.14 44.43h0.95v0.95h-0.95zM166.67 46.98h0.95v0.95h-0.95zM158 44.1h0.95v0.95h-0.95zM165.63 45.12h0.95v0.95h-0.95zM142.06 39.14h0.95v0.95h-0.95zM144.1 38.58h0.95v0.95h-0.95zM149.47 45.54h0.95v0.95h-0.95zM144.8 37.74h0.95v0.95h-0.95zM147.08 29.88h0.95v0.95h-0.95zM168.57 49.89h0.95v0.95h-0.95zM144.92 39.87h0.95v0.95h-0.95zM140.79 27.99h0.95v0.95h-0.95zM145.71 54.6h0.95v0.95h-0.95zM170.85 50.97h0.95v0.95h-0.95zM152.81 35.48h0.95v0.95h-0.95zM159.67 52.48h0.95v0.95h-0.95zM142.76 37.41h0.95v0.95h-0.95zM144.73 33.47h0.95v0.95h-0.95zM143.22 30.98h0.95v0.95h-0.95zM147.03 38.29h0.95v0.95h-0.95zM134.87 31.79h0.95v0.95h-0.95zM168.87 49.12h0.95v0.95h-0.95zM137.56 31.45h0.95v0.95h-0.95zM144.67 39.47h0.95v0.95h-0.95zM156.61 47.6h0.95v0.95h-0.95zM167.04 28.52h0.95v0.95h-0.95zM156.01 35.7h0.95v0.95h-0.95zM134.54 20.9h0.95v0.95h-0.95zM154.71 39.33h0.95v0.95h-0.95zM138.24 30.2h0.95v0.95h-0.95zM145.64 38.6h0.95v0.95h-0.95zM152.48 38.42h0.95v0.95h-0.95zM137.4 28.51h0.95v0.95h-0.95zM138.98 41.67h0.95v0.95h-0.95zM137.92 24.48h0.95v0.95h-0.95zM159.72 46.67h0.95v0.95h-0.95zM141.99 42.51h0.95v0.95h-0.95zM155.01 43.53h0.95v0.95h-0.95zM149.25 22.81h0.95v0.95h-0.95zM143.29 35.22h0.95v0.95h-0.95zM165.34 45.97h0.95v0.95h-0.95zM139.76 29.28h0.95v0.95h-0.95zM152.89 42.85h0.95v0.95h-0.95zM138.4 27.25h0.95v0.95h-0.95zM142.26 38.05h0.95v0.95h-0.95zM158.52 46.71h0.95v0.95h-0.95zM140.71 31.48h0.95v0.95h-0.95zM158.6 45.83h0.95v0.95h-0.95zM141.73 33.24h0.95v0.95h-0.95zM167.4 47.79h0.95v0.95h-0.95zM165.98 45.93h0.95v0.95h-0.95zM144.77 33.87h0.95v0.95h-0.95zM150.81 31.48h0.95v0.95h-0.95zM145.06 25.2h0.95v0.95h-0.95zM147.9 44.98h0.95v0.95h-0.95zM163.34 45.53h0.95v0.95h-0.95zM134.28 25.91h0.95v0.95h-0.95zM160.46 44.17h0.95v0.95h-0.95zM135.46 27.1h0.95v0.95h-0.95zM140.54 30.78h0.95v0.95h-0.95zM130.26 23.61h0.95v0.95h-0.95zM147.57 42.19h0.95v0.95h-0.95zM154.95 36.31h0.95v0.95h-0.95zM139.21 36.82h0.95v0.95h-0.95zM167.97 37.27h0.95v0.95h-0.95zM147.03 42.21h0.95v0.95h-0.95zM148.04 31.43h0.95v0.95h-0.95zM148.95 39.34h0.95v0.95h-0.95zM160.78 38.1h0.95v0.95h-0.95zM140.88 31.41h0.95v0.95h-0.95zM157.54 27.65h0.95v0.95h-0.95zM161.98 43.08h0.95v0.95h-0.95zM154.26 36.1h0.95v0.95h-0.95zM152.28 42.89h0.95v0.95h-0.95zM143.3 38.69h0.95v0.95h-0.95zM156.26 36.13h0.95v0.95h-0.95zM145.31 45.23h0.95v0.95h-0.95zM167.84 46.36h0.95v0.95h-0.95zM164.68 33.93h0.95v0.95h-0.95zM155.17 24.79h0.95v0.95h-0.95zM158.11 42.78h0.95v0.95h-0.95zM160.38 40.56h0.95v0.95h-0.95zM142.45 26.84h0.95v0.95h-0.95zM133.08 34.57h0.95v0.95h-0.95zM160.39 44.47h0.95v0.95h-0.95zM132.48 37.16h0.95v0.95h-0.95zM145.64 32.95h0.95v0.95h-0.95zM160.14 28.6h0.95v0.95h-0.95zM160.59 51.04h0.95v0.95h-0.95zM151.01 35.69h0.95v0.95h-0.95zM149.68 35.63h0.95v0.95h-0.95zM138.85 40.25h0.95v0.95h-0.95zM168.68 49.25h0.95v0.95h-0.95zM157.82 51.22h0.95v0.95h-0.95zM148.98 36.72h0.95v0.95h-0.95zM137.22 23.01h0.95v0.95h-0.95zM139.7 33.53h0.95v0.95h-0.95zM158.31 39.38h0.95v0.95h-0.95zM138.08 37.34h0.95v0.95h-0.95zM156.59 48.93h0.95v0.95h-0.95zM153.74 40.65h0.95v0.95h-0.95zM151.19 42.59h0.95v0.95h-0.95zM155.28 45.24h0.95v0.95h-0.95zM156.35 40.21h0.95v0.95h-0.95zM137.71 34.77h0.95v0.95h-0.95zM147.19 33.88h0.95v0.95h-0.95zM139.94 23.61h0.95v0.95h-0.95zM144.48 34.2h0.95v0.95h-0.95zM160.27 47.84h0.95v0.95h-0.95zM150.86 32.66h0.95v0.95h-0.95zM142.49 29.18h0.95v0.95h-0.95zM137.3 24.59h0.95v0.95h-0.95zM153.45 45.06h0.95v0.95h-0.95zM163.5 42.35h0.95v0.95h-0.95zM163.84 50.61h0.95v0.95h-0.95zM145.56 44.85h0.95v0.95h-0.95zM160.22 47.43h0.95v0.95h-0.95zM144.01 22.02h0.95v0.95h-0.95zM151.4 39.43h0.95v0.95h-0.95zM139.16 36.87h0.95v0.95h-0.95zM152.82 37.61h0.95v0.95h-0.95zM154.53 48.51h0.95v0.95h-0.95zM159.63 48.82h0.95v0.95h-0.95zM137.78 31.59h0.95v0.95h-0.95zM164.68 46.41h0.95v0.95h-0.95zM146.48 31.45h0.95v0.95h-0.95zM139.61 28.24h0.95v0.95h-0.95zM147.9 36.47h0.95v0.95h-0.95zM132.28 28.3h0.95v0.95h-0.95zM148.64 39.48h0.95v0.95h-0.95zM154.12 38.48h0.95v0.95h-0.95zM147.56 36.25h0.95v0.95h-0.95zM154.55 43.56h0.95v0.95h-0.95zM151.88 27.69h0.95v0.95h-0.95zM152.54 34.1h0.95v0.95h-0.95zM136.86 22.5h0.95v0.95h-0.95zM151.1 36.97h0.95v0.95h-0.95zM141.57 29.55h0.95v0.95h-0.95zM145.9 32.82h0.95v0.95h-0.95zM151.81 32.86h0.95v0.95h-0.95zM149.83 42.12h0.95v0.95h-0.95zM131.06 25.75h0.95v0.95h-0.95zM138.29 17.71h0.95v0.95h-0.95zM146.61 35.23h0.95v0.95h-0.95zM158.84 36.23h0.95v0.95h-0.95zM148.28 48.14h0.95v0.95h-0.95zM161.2 42.59h0.95v0.95h-0.95zM165.46 46.11h0.95v0.95h-0.95zM155.1 41.89h0.95v0.95h-0.95zM150.39 36.51h0.95v0.95h-0.95zM138.87 29.12h0.95v0.95h-0.95zM134.52 37.08h0.95v0.95h-0.95zM144.1 34.89h0.95v0.95h-0.95zM150.12 43.48h0.95v0.95h-0.95zM148.65 44.43h0.95v0.95h-0.95zM153.2 33.19h0.95v0.95h-0.95zM142.72 44.02h0.95v0.95h-0.95zM154.56 45.7h0.95v0.95h-0.95zM149.07 43.57h0.95v0.95h-0.95zM156.04 36.03h0.95v0.95h-0.95zM150.62 43.73h0.95v0.95h-0.95zM142.61 35.12h0.95v0.95h-0.95zM140.45 26.97h0.95v0.95h-0.95zM147.79 51.82h0.95v0.95h-0.95zM152.63 43.46h0.95v0.95h-0.95zM148.32 34.75h0.95v0.95h-0.95zM144.76 35.16h0.95v0.95h-0.95zM137.93 36.68h0.95v0.95h-0.95zM145.65 38.49h0.95v0.95h-0.95zM148.83 45.21h0.95v0.95h-0.95zM132.49 35.09h0.95v0.95h-0.95zM155.28 32.92h0.95v0.95h-0.95zM171.17 49.65h0.95v0.95h-0.95zM163.23 40.74h0.95v0.95h-0.95zM156.52 43.05h0.95v0.95h-0.95zM151.66 48.83h0.95v0.95h-0.95zM149.01 41.44h0.95v0.95h-0.95zM163.84 40.46h0.95v0.95h-0.95zM149.2 35.02h0.95v0.95h-0.95zM141.93 38.9h0.95v0.95h-0.95zM152.8 35.99h0.95v0.95h-0.95zM160.14 44.34h0.95v0.95h-0.95zM152.54 41.59h0.95v0.95h-0.95zM163.3 34.69h0.95v0.95h-0.95zM161.84 48.61h0.95v0.95h-0.95zM167.73 43.75h0.95v0.95h-0.95zM148.99 31.59h0.95v0.95h-0.95zM142.63 28.15h0.95v0.95h-0.95zM152.14 40.93h0.95v0.95h-0.95zM138.92 30.08h0.95v0.95h-0.95zM157.44 43.93h0.95v0.95h-0.95zM138.3 41.54h0.95v0.95h-0.95zM156.13 51.13h0.95v0.95h-0.95zM167.18 45.14h0.95v0.95h-0.95zM129.89 18.5h0.95v0.95h-0.95zM147.48 47.69h0.95v0.95h-0.95zM143.35 30.61h0.95v0.95h-0.95zM130 32.65h0.95v0.95h-0.95zM137.93 39.93h0.95v0.95h-0.95zM149.33 33.4h0.95v0.95h-0.95zM162.11 44.57h0.95v0.95h-0.95zM133.05 25.89h0.95v0.95h-0.95zM164.25 42.02h0.95v0.95h-0.95zM157.78 40.51h0.95v0.95h-0.95zM153.09 45.79h0.95v0.95h-0.95zM151.26 35.45h0.95v0.95h-0.95zM137.78 27.33h0.95v0.95h-0.95zM157.31 39.73h0.95v0.95h-0.95zM158.62 34.45h0.95v0.95h-0.95zM153.04 50.12h0.95v0.95h-0.95zM160.04 40.4h0.95v0.95h-0.95zM152.74 43.5h0.95v0.95h-0.95zM171.59 43.66h0.95v0.95h-0.95zM133.25 29.66h0.95v0.95h-0.95zM133.33 34.2h0.95v0.95h-0.95zM148.67 30.72h0.95v0.95h-0.95zM142.09 33.34h0.95v0.95h-0.95zM161.17 38.07h0.95v0.95h-0.95zM144.8 37.37h0.95v0.95h-0.95zM168.65 51.8h0.95v0.95h-0.95zM165.83 50.63h0.95v0.95h-0.95zM153.85 49.89h0.95v0.95h-0.95zM144.17 36.66h0.95v0.95h-0.95zM152.24 48.58h0.95v0.95h-0.95zM156.71 46.9h0.95v0.95h-0.95zM142.24 23.69h0.95v0.95h-0.95zM152.88 41.54h0.95v0.95h-0.95zM156.04 45.41h0.95v0.95h-0.95zM157.06 32.76h0.95v0.95h-0.95zM162.97 47.53h0.95v0.95h-0.95zM139.71 32.7h0.95v0.95h-0.95zM154.25 34.51h0.95v0.95h-0.95zM140.57 31.29h0.95v0.95h-0.95zM155.28 43.54h0.95v0.95h-0.95zM141.54 29.23h0.95v0.95h-0.95zM159.76 45.28h0.95v0.95h-0.95zM161.15 31.06h0.95v0.95h-0.95zM156.06 51.46h0.95v0.95h-0.95zM152.02 31.39h0.95v0.95h-0.95zM172.38 47.25h0.95v0.95h-0.95zM150.8 32.43h0.95v0.95h-0.95zM163.18 50.97h0.95v0.95h-0.95zM157.64 36.86h0.95v0.95h-0.95zM156.36 44.22h0.95v0.95h-0.95zM146.39 50.28h0.95v0.95h-0.95zM163.44 51.17h0.95v0.95h-0.95zM162.79 39.9h0.95v0.95h-0.95zM145.11 38.67h0.95v0.95h-0.95zM151.62 32.19h0.95v0.95h-0.95zM148.13 40.27h0.95v0.95h-0.95zM151.49 43.4h0.95v0.95h-0.95zM154.26 32.64h0.95v0.95h-0.95zM147.07 25.08h0.95v0.95h-0.95zM165.08 43.51h0.95v0.95h-0.95zM148.49 29.87h0.95v0.95h-0.95zM159.69 34.65h0.95v0.95h-0.95zM145.29 34.86h0.95v0.95h-0.95zM155.45 45.34h0.95v0.95h-0.95zM165.36 39.66h0.95v0.95h-0.95zM147.45 31.89h0.95v0.95h-0.95zM150.46 37.99h0.95v0.95h-0.95zM135.2 25.24h0.95v0.95h-0.95zM155.6 36.81h0.95v0.95h-0.95zM156.64 48.03h0.95v0.95h-0.95zM141.1 36.99h0.95v0.95h-0.95zM159.96 49.53h0.95v0.95h-0.95zM129.07 34.42h0.95v0.95h-0.95zM145.99 31.89h0.95v0.95h-0.95zM150.56 37.16h0.95v0.95h-0.95zM145.19 42.31h0.95v0.95h-0.95zM151.86 33.4h0.95v0.95h-0.95zM156.55 45.1h0.95v0.95h-0.95zM144.66 34.01h0.95v0.95h-0.95zM138.48 24.34h0.95v0.95h-0.95zM137.14 26.63h0.95v0.95h-0.95zM154.61 27.11h0.95v0.95h-0.95zM150.29 48.2h0.95v0.95h-0.95zM136.86 36.53h0.95v0.95h-0.95zM149 38.93h0.95v0.95h-0.95zM156.12 48.92h0.95v0.95h-0.95zM158.98 52.89h0.95v0.95h-0.95zM136.81 35h0.95v0.95h-0.95zM155.26 47.73h0.95v0.95h-0.95zM155.74 35.41h0.95v0.95h-0.95zM160.63 48.24h0.95v0.95h-0.95zM166.92 46.14h0.95v0.95h-0.95zM150.11 29.46h0.95v0.95h-0.95zM137.9 20.86h0.95v0.95h-0.95zM152.9 42.61h0.95v0.95h-0.95zM161.97 36.77h0.95v0.95h-0.95zM146.75 47.26h0.95v0.95h-0.95zM139.88 27.54h0.95v0.95h-0.95zM161.37 42.59h0.95v0.95h-0.95zM144 32.66h0.95v0.95h-0.95zM147.3 42.36h0.95v0.95h-0.95zM152.23 36.49h0.95v0.95h-0.95zM170.17 44.52h0.95v0.95h-0.95zM138.64 31.64h0.95v0.95h-0.95zM150.95 23.91h0.95v0.95h-0.95zM132.13 25.51h0.95v0.95h-0.95zM151.5 46.62h0.95v0.95h-0.95zM143.98 35.25h0.95v0.95h-0.95zM152.04 44.39h0.95v0.95h-0.95zM136.65 31.22h0.95v0.95h-0.95zM143.68 37.95h0.95v0.95h-0.95zM160.87 46.4h0.95v0.95h-0.95zM150.83 32.36h0.95v0.95h-0.95zM157.57 41.45h0.95v0.95h-0.95zM156.01 41.36h0.95v0.95h-0.95zM142 40.4h0.95v0.95h-0.95zM159.38 47.22h0.95v0.95h-0.95zM154.34 35.44h0.95v0.95h-0.95zM163.14 42h0.95v0.95h-0.95zM128.64 20.68h0.95v0.95h-0.95zM140.61 30.29h0.95v0.95h-0.95zM163.9 42.3h0.95v0.95h-0.95zM153.28 45.99h0.95v0.95h-0.95zM148.67 38.54h0.95v0.95h-0.95zM151.6 38.31h0.95v0.95h-0.95zM157.97 44.01h0.95v0.95h-0.95zM141.15 42.74h0.95v0.95h-0.95zM154.85 39.92h0.95v0.95h-0.95zM145.97 46.26h0.95v0.95h-0.95zM145.62 34.68h0.95v0.95h-0.95zM161.93 52.29h0.95v0.95h-0.95zM146.08 33.8h0.95v0.95h-0.95zM151.16 32.61h0.95v0.95h-0.95zM144.25 31.47h0.95v0.95h-0.95zM147.69 29.54h0.95v0.95h-0.95zM160.59 48.74h0.95v0.95h-0.95zM147.02 35.44h0.95v0.95h-0.95zM136.97 31.96h0.95v0.95h-0.95zM136.01 14.87h0.95v0.95h-0.95zM158.14 44.56h0.95v0.95h-0.95zM160.63 39.15h0.95v0.95h-0.95zM128.72 22.76h0.95v0.95h-0.95zM154.81 50.44h0.95v0.95h-0.95zM160.64 33.41h0.95v0.95h-0.95zM140.81 32.15h0.95v0.95h-0.95zM158.28 42.97h0.95v0.95h-0.95zM138.46 16.02h0.95v0.95h-0.95zM134.71 30.88h0.95v0.95h-0.95zM134.16 26.23h0.95v0.95h-0.95zM139.54 26.38h0.95v0.95h-0.95zM161.97 41.2h0.95v0.95h-0.95zM138.72 26.58h0.95v0.95h-0.95zM145.53 21.79h0.95v0.95h-0.95zM155.2 34.83h0.95v0.95h-0.95zM147.5 33.14h0.95v0.95h-0.95zM160.68 42.6h0.95v0.95h-0.95zM142.49 31.5h0.95v0.95h-0.95zM139.36 22.52h0.95v0.95h-0.95zM142.71 35.95h0.95v0.95h-0.95zM151.97 35.58h0.95v0.95h-0.95zM144.28 23.92h0.95v0.95h-0.95zM155.68 35.98h0.95v0.95h-0.95zM171.05 50.13h0.95v0.95h-0.95zM140.78 36.68h0.95v0.95h-0.95zM148.8 39.98h0.95v0.95h-0.95zM165.78 46.63h0.95v0.95h-0.95zM142.75 32.37h0.95v0.95h-0.95zM139.92 31.67h0.95v0.95h-0.95zM131.21 37.96h0.95v0.95h-0.95zM156.24 37.76h0.95v0.95h-0.95zM153.93 43.59h0.95v0.95h-0.95zM145.83 39.5h0.95v0.95h-0.95zM153.43 33.39h0.95v0.95h-0.95zM163.11 48.33h0.95v0.95h-0.95zM158.74 44.98h0.95v0.95h-0.95zM136.04 24.1h0.95v0.95h-0.95zM147.81 39.84h0.95v0.95h-0.95zM147.53 42.83h0.95v0.95h-0.95zM153.9 48.16h0.95v0.95h-0.95zM147.94 34.68h0.95v0.95h-0.95zM142.06 33.05h0.95v0.95h-0.95zM136.99 44.32h0.95v0.95h-0.95zM148.7 38.09h0.95v0.95h-0.95zM140.26 36.58h0.95v0.95h-0.95zM154.29 41.66h0.95v0.95h-0.95zM136.32 32.1h0.95v0.95h-0.95zM144.34 34.59h0.95v0.95h-0.95zM136.5 32.91h0.95v0.95h-0.95zM133.79 34.6h0.95v0.95h-0.95zM158.02 41.79h0.95v0.95h-0.95zM143.91 34.44h0.95v0.95h-0.95zM154.66 40.5h0.95v0.95h-0.95zM138.72 26.51h0.95v0.95h-0.95zM150.74 37.9h0.95v0.95h-0.95zM141.92 36.78h0.95v0.95h-0.95zM138.49 40.92h0.95v0.95h-0.95zM150.33 49.54h0.95v0.95h-0.95zM147.34 44.4h0.95v0.95h-0.95zM150.83 31.43h0.95v0.95h-0.95zM153.7 50.71h0.95v0.95h-0.95zM153.99 35.45h0.95v0.95h-0.95zM155.59 41.19h0.95v0.95h-0.95zM151.83 51.61h0.95v0.95h-0.95zM152.34 31.78h0.95v0.95h-0.95zM143.56 38.64h0.95v0.95h-0.95zM152.17 41.02h0.95v0.95h-0.95zM145.47 33.16h0.95v0.95h-0.95zM156.63 36.26h0.95v0.95h-0.95zM160.22 47.85h0.95v0.95h-0.95zM160.36 41.82h0.95v0.95h-0.95zM141.91 38.86h0.95v0.95h-0.95zM131.46 32.51h0.95v0.95h-0.95zM153.44 30.45h0.95v0.95h-0.95zM149.8 33.85h0.95v0.95h-0.95zM162.61 44.46h0.95v0.95h-0.95zM149.21 28.75h0.95v0.95h-0.95zM150.9 30.41h0.95v0.95h-0.95zM157.22 43.36h0.95v0.95h-0.95zM144.97 32.41h0.95v0.95h-0.95zM153.19 28.39h0.95v0.95h-0.95zM169.95 48.27h0.95v0.95h-0.95zM164.02 51.28h0.95v0.95h-0.95zM160.32 36.65h0.95v0.95h-0.95zM155.45 35.07h0.95v0.95h-0.95zM133.7 36.64h0.95v0.95h-0.95zM151.24 47.52h0.95v0.95h-0.95zM155.45 30.24h0.95v0.95h-0.95zM156.34 32.75h0.95v0.95h-0.95zM142.59 34.73h0.95v0.95h-0.95zM153.28 31.63h0.95v0.95h-0.95zM148.31 34.52h0.95v0.95h-0.95zM154.41 37.58h0.95v0.95h-0.95zM163.21 50.97h0.95v0.95h-0.95zM161.75 28.53h0.95v0.95h-0.95zM142.94 23.88h0.95v0.95h-0.95zM128.88 29.17h0.95v0.95h-0.95zM141.34 30.14h0.95v0.95h-0.95zM161.2 33.81h0.95v0.95h-0.95zM152.23 42.53h0.95v0.95h-0.95zM140.62 35.58h0.95v0.95h-0.95zM153.19 38.12h0.95v0.95h-0.95zM142.32 29.63h0.95v0.95h-0.95zM132.55 27.85h0.95v0.95h-0.95zM130.17 31.46h0.95v0.95h-0.95zM139.61 31.01h0.95v0.95h-0.95zM163.2 50.78h0.95v0.95h-0.95zM135.02 26.28h0.95v0.95h-0.95zM164.28 45.23h0.95v0.95h-0.95zM166.96 43.48h0.95v0.95h-0.95zM146.64 36.83h0.95v0.95h-0.95zM149.92 35.36h0.95v0.95h-0.95zM143.58 31.15h0.95v0.95h-0.95zM146.13 41.12h0.95v0.95h-0.95zM155.03 44.53h0.95v0.95h-0.95zM146.69 41.12h0.95v0.95h-0.95zM165.51 37.86h0.95v0.95h-0.95zM160.54 49.03h0.95v0.95h-0.95zM155.13 37.15h0.95v0.95h-0.95zM155.67 36.03h0.95v0.95h-0.95zM151.58 32.75h0.95v0.95h-0.95zM149.23 45.33h0.95v0.95h-0.95zM134.57 32.02h0.95v0.95h-0.95zM156.22 37.06h0.95v0.95h-0.95zM155.42 33.56h0.95v0.95h-0.95zM139.99 30.32h0.95v0.95h-0.95zM133.38 36.91h0.95v0.95h-0.95zM144.77 23.59h0.95v0.95h-0.95zM158.49 31h0.95v0.95h-0.95zM140.77 30.87h0.95v0.95h-0.95zM132.37 25.61h0.95v0.95h-0.95zM136.41 32.84h0.95v0.95h-0.95zM141.15 45.42h0.95v0.95h-0.95z" fill="#e5221f" fill-opacity="0.95"/>
<path d="M73.2 13.2H173.4V55.6" fill="none" stroke="#777777" stroke-width="0.9"/>
<path d="M73.2 13.2V55.6H173.4" fill="none" stroke="#6e6e6e" stroke-width="0.95"/>
<line x1="73.7" y1="55.6" x2="73.7" y2="53.1" stroke="#6e6e6e" stroke-width="0.8"/>
<text x="65.96" y="64.6" font-size="7.3" textLength="15.48" lengthAdjust="spacingAndGlyphs">−0.6</text>
<line x1="93.4" y1="55.6" x2="93.4" y2="53.1" stroke="#6e6e6e" stroke-width="0.8"/>
<text x="85.66" y="64.6" font-size="7.3" textLength="15.48" lengthAdjust="spacingAndGlyphs">−0.4</text>
<line x1="113.1" y1="55.6" x2="113.1" y2="53.1" stroke="#6e6e6e" stroke-width="0.8"/>
<text x="105.36" y="64.6" font-size="7.3" textLength="15.48" lengthAdjust="spacingAndGlyphs">−0.2</text>
<line x1="132.8" y1="55.6" x2="132.8" y2="53.1" stroke="#6e6e6e" stroke-width="0.8"/>
<text x="130.62" y="64.6" font-size="7.3" textLength="4.36" lengthAdjust="spacingAndGlyphs">0</text>
<line x1="152.5" y1="55.6" x2="152.5" y2="53.1" stroke="#6e6e6e" stroke-width="0.8"/>
<text x="147.05" y="64.6" font-size="7.3" textLength="10.9" lengthAdjust="spacingAndGlyphs">0.2</text>
<line x1="172.2" y1="55.6" x2="172.2" y2="53.1" stroke="#6e6e6e" stroke-width="0.8"/>
<text x="166.75" y="64.6" font-size="7.3" textLength="10.9" lengthAdjust="spacingAndGlyphs">0.4</text>
<line x1="73.2" y1="19.1" x2="75.7" y2="19.1" stroke="#6e6e6e" stroke-width="0.8"/>
<text x="58.1" y="21.65" font-size="7.3" textLength="10.9" lengthAdjust="spacingAndGlyphs">0.4</text>
<line x1="73.2" y1="31.5" x2="75.7" y2="31.5" stroke="#6e6e6e" stroke-width="0.8"/>
<text x="58.1" y="34.05" font-size="7.3" textLength="10.9" lengthAdjust="spacingAndGlyphs">0.2</text>
<line x1="73.2" y1="43.9" x2="75.7" y2="43.9" stroke="#6e6e6e" stroke-width="0.8"/>
<text x="64.64" y="46.45" font-size="7.3" textLength="4.36" lengthAdjust="spacingAndGlyphs">0</text>
<text x="116.35" y="77.4" font-size="8.5" textLength="13.7" lengthAdjust="spacingAndGlyphs">PC1</text>
<text transform="translate(51.6 36.5) rotate(-90)" x="-7.75" y="0" font-size="8.5" textLength="15.5" lengthAdjust="spacingAndGlyphs">PC2</text>
<text x="268.3" y="8.9" font-size="8.6" textLength="40.7" lengthAdjust="spacingAndGlyphs">Waveform</text>
<clipPath id="cw"><rect x="238.4" y="12.8" width="101" height="42.6"/></clipPath>
<g clip-path="url(#cw)">
<path d="M238.4 18.4L244.9 20.6L249.3 23.3L253.7 27.3L258.2 31.7L262.6 36.6L267 42.6L271.5 44.5L275.9 46.7L280.3 48L284.8 48.5L288.5 46.8L292.4 42.9L296.9 39.1L301.3 35.6L305.7 32.5L310.2 30.3L313.7 29.8L317.3 31.2L323.5 34.3L327.9 36.5L332.3 37.8L339.4 39.8L339.4 43.7L332.3 45.5L321.1 48.1L313.7 49.9L305.7 52.6L296.9 54.2L288 54.5L280.3 54.3L275.9 52.6L271.5 48.1L267 42.8L262.6 42.6L253.7 43L244.9 43.5L238.4 44Z" fill="#b4b4b4"/>
<path d="M238.4 43.5L253.7 42.8L267 42.6L253.7 44L238.4 46.6Z" fill="#d4d4d4"/>
<path d="M300 54.2L321.1 48L339.4 43.5L339.4 46.5L321.1 50.5L305 54.9Z" fill="#dadada"/>
<path d="M318 19L327.9 19.2L339.4 21L339.4 24L327.9 21L318 19.5Z" fill="#d0d0d0"/>
<path d="M238.4 27.7L244.9 29.1L249.3 30.8L253.7 33.5L258.2 36.6L262.6 39.7L267 42.6L271.5 41.9L275.9 40.6L280.3 38.2L284.8 33.6L288.5 27.5L292.4 22.4L296.9 18.9L301.3 17.1L305.7 16.4L310.2 17.3L314.6 18.2L319 18.8L323.5 19.3L327.9 20.2L332.3 21.1L339.4 23.4L339.4 40.8L332.3 38.8L327.9 37.5L323.5 35.3L317.3 32.2L313.7 30.8L310.2 31.3L305.7 33.5L301.3 36.6L296.9 40.1L292.4 43.9L288.5 47.8L284.8 49.5L280.3 49L275.9 47.7L271.5 45.5L267 42.8L262.6 41.9L253.7 41L244.9 40.1L238.4 39.7Z" fill="#ea2328"/>
</g>
<path d="M238.4 12.8H339.4V55.4" fill="none" stroke="#c9c9c9" stroke-width="0.9"/>
<path d="M238.4 12.8V55.4H339.4" fill="none" stroke="#6e6e6e" stroke-width="0.95"/>
<line x1="243.6" y1="55.4" x2="243.6" y2="52.9" stroke="#6e6e6e" stroke-width="0.8"/>
<text x="235.86" y="63.8" font-size="7.3" textLength="15.48" lengthAdjust="spacingAndGlyphs">−0.5</text>
<line x1="267.6" y1="55.4" x2="267.6" y2="52.9" stroke="#6e6e6e" stroke-width="0.8"/>
<text x="265.42" y="63.8" font-size="7.3" textLength="4.36" lengthAdjust="spacingAndGlyphs">0</text>
<line x1="291.6" y1="55.4" x2="291.6" y2="52.9" stroke="#6e6e6e" stroke-width="0.8"/>
<text x="286.15" y="63.8" font-size="7.3" textLength="10.9" lengthAdjust="spacingAndGlyphs">0.5</text>
<line x1="315.6" y1="55.4" x2="315.6" y2="52.9" stroke="#6e6e6e" stroke-width="0.8"/>
<text x="310.15" y="63.8" font-size="7.3" textLength="10.9" lengthAdjust="spacingAndGlyphs">1.0</text>
<line x1="339.6" y1="55.4" x2="339.6" y2="52.9" stroke="#6e6e6e" stroke-width="0.8"/>
<text x="334.15" y="63.8" font-size="7.3" textLength="10.9" lengthAdjust="spacingAndGlyphs">1.5</text>
<line x1="238.4" y1="20.8" x2="240.9" y2="20.8" stroke="#6e6e6e" stroke-width="0.8"/>
<text x="219.34" y="23.35" font-size="7.3" textLength="15.26" lengthAdjust="spacingAndGlyphs">0.10</text>
<line x1="238.4" y1="28.2" x2="240.9" y2="28.2" stroke="#6e6e6e" stroke-width="0.8"/>
<text x="219.34" y="30.75" font-size="7.3" textLength="15.26" lengthAdjust="spacingAndGlyphs">0.05</text>
<line x1="238.4" y1="35.6" x2="240.9" y2="35.6" stroke="#6e6e6e" stroke-width="0.8"/>
<text x="230.24" y="38.15" font-size="7.3" textLength="4.36" lengthAdjust="spacingAndGlyphs">0</text>
<line x1="238.4" y1="43" x2="240.9" y2="43" stroke="#6e6e6e" stroke-width="0.8"/>
<text x="214.76" y="45.55" font-size="7.3" textLength="19.84" lengthAdjust="spacingAndGlyphs">−0.05</text>
<line x1="238.4" y1="50.4" x2="240.9" y2="50.4" stroke="#6e6e6e" stroke-width="0.8"/>
<text x="214.76" y="52.95" font-size="7.3" textLength="19.84" lengthAdjust="spacingAndGlyphs">−0.10</text>
<text x="269.9" y="76.9" font-size="8.5" textLength="38.6" lengthAdjust="spacingAndGlyphs">Time (ms)</text>
<text transform="translate(197.6 34) rotate(-90)" x="-20.5" y="0" font-size="8.5" textLength="41" lengthAdjust="spacingAndGlyphs">Amplitude</text>
<text transform="translate(207.6 34) rotate(-90)" x="-9" y="0" font-size="8.5" textLength="18" lengthAdjust="spacingAndGlyphs">(mV)</text>
<text x="515.7" y="8.9" font-size="8.6" textLength="42.5" lengthAdjust="spacingAndGlyphs">Raster plot</text>
<path d="M453.87 67.08h0.6v0.6h-0.6zM486.52 67.08h0.6v0.6h-0.6zM613.95 67.08h0.6v0.6h-0.6zM666.57 67.08h0.6v0.6h-0.6zM571.66 66.43h0.6v0.6h-0.6zM575 66.43h0.6v0.6h-0.6zM578.32 66.43h0.6v0.6h-0.6zM578.45 66.43h0.6v0.6h-0.6zM633.28 66.43h0.6v0.6h-0.6zM633.21 66.43h0.6v0.6h-0.6zM671.47 66.43h0.6v0.6h-0.6zM520.92 65.79h0.6v0.6h-0.6zM576.08 65.79h0.6v0.6h-0.6zM577.01 65.79h0.6v0.6h-0.6zM590.53 65.79h0.6v0.6h-0.6zM481.04 65.15h0.6v0.6h-0.6zM501.71 65.15h0.6v0.6h-0.6zM583.42 65.15h0.6v0.6h-0.6zM633.53 65.15h0.6v0.6h-0.6zM578.28 64.5h0.6v0.6h-0.6zM578.7 64.5h0.6v0.6h-0.6zM643.48 64.5h0.6v0.6h-0.6zM664.72 64.5h0.6v0.6h-0.6zM533.29 63.86h0.6v0.6h-0.6zM565.86 63.86h0.6v0.6h-0.6zM622.48 63.86h0.6v0.6h-0.6zM564.06 63.22h0.6v0.6h-0.6zM568.12 63.22h0.6v0.6h-0.6zM580.13 63.22h0.6v0.6h-0.6zM595.54 63.22h0.6v0.6h-0.6zM621.43 63.22h0.6v0.6h-0.6zM420.88 62.57h0.6v0.6h-0.6zM530.82 62.57h0.6v0.6h-0.6zM574.79 62.57h0.6v0.6h-0.6zM619.55 62.57h0.6v0.6h-0.6zM462.8 61.93h0.6v0.6h-0.6zM580.43 61.93h0.6v0.6h-0.6zM608.43 61.93h0.6v0.6h-0.6zM613.94 61.93h0.6v0.6h-0.6zM516.8 61.28h0.6v0.6h-0.6zM537.86 61.28h0.6v0.6h-0.6zM576.82 61.28h0.6v0.6h-0.6zM611.98 61.28h0.6v0.6h-0.6zM682.29 61.28h0.6v0.6h-0.6zM398.78 60.64h0.6v0.6h-0.6zM483.04 60.64h0.6v0.6h-0.6zM529.51 60.64h0.6v0.6h-0.6zM587.41 60.64h0.6v0.6h-0.6zM634.89 60.64h0.6v0.6h-0.6zM675.14 60.64h0.6v0.6h-0.6zM532.64 60h0.6v0.6h-0.6zM569.43 60h0.6v0.6h-0.6zM566.73 60h0.6v0.6h-0.6zM583.42 60h0.6v0.6h-0.6zM582.66 60h0.6v0.6h-0.6zM588.06 60h0.6v0.6h-0.6zM616.91 60h0.6v0.6h-0.6zM488.03 59.35h0.6v0.6h-0.6zM521.52 59.35h0.6v0.6h-0.6zM570.83 59.35h0.6v0.6h-0.6zM574.11 59.35h0.6v0.6h-0.6zM582.42 59.35h0.6v0.6h-0.6zM582.8 59.35h0.6v0.6h-0.6zM587.16 59.35h0.6v0.6h-0.6zM589.5 59.35h0.6v0.6h-0.6zM592.92 59.35h0.6v0.6h-0.6zM531.11 58.07h0.6v0.6h-0.6zM555.06 58.07h0.6v0.6h-0.6zM594.71 58.07h0.6v0.6h-0.6zM629.44 58.07h0.6v0.6h-0.6zM646.71 58.07h0.6v0.6h-0.6zM558.39 57.42h0.6v0.6h-0.6zM581.72 57.42h0.6v0.6h-0.6zM600.58 57.42h0.6v0.6h-0.6zM642.65 57.42h0.6v0.6h-0.6zM648.47 56.78h0.6v0.6h-0.6zM393.82 56.13h0.6v0.6h-0.6zM419.33 56.13h0.6v0.6h-0.6zM599.86 56.13h0.6v0.6h-0.6zM615.61 56.13h0.6v0.6h-0.6zM623.01 56.13h0.6v0.6h-0.6zM631.69 56.13h0.6v0.6h-0.6zM637.32 56.13h0.6v0.6h-0.6zM639.66 56.13h0.6v0.6h-0.6zM487.11 55.49h0.6v0.6h-0.6zM487.75 55.49h0.6v0.6h-0.6zM560.21 55.49h0.6v0.6h-0.6zM563.7 55.49h0.6v0.6h-0.6zM568.96 55.49h0.6v0.6h-0.6zM584.62 55.49h0.6v0.6h-0.6zM606.35 55.49h0.6v0.6h-0.6zM643.39 55.49h0.6v0.6h-0.6zM441.51 54.85h0.6v0.6h-0.6zM567.2 54.85h0.6v0.6h-0.6zM575.54 54.85h0.6v0.6h-0.6zM579.55 54.85h0.6v0.6h-0.6zM593.21 54.85h0.6v0.6h-0.6zM613 54.85h0.6v0.6h-0.6zM611.98 54.85h0.6v0.6h-0.6zM458.05 54.2h0.6v0.6h-0.6zM532.54 54.2h0.6v0.6h-0.6zM531.35 54.2h0.6v0.6h-0.6zM572.19 54.2h0.6v0.6h-0.6zM666.03 54.2h0.6v0.6h-0.6zM432.56 53.56h0.6v0.6h-0.6zM505.83 53.56h0.6v0.6h-0.6zM567.08 53.56h0.6v0.6h-0.6zM567.25 53.56h0.6v0.6h-0.6zM570.43 53.56h0.6v0.6h-0.6zM574.9 53.56h0.6v0.6h-0.6zM577.04 53.56h0.6v0.6h-0.6zM581.28 53.56h0.6v0.6h-0.6zM586.76 53.56h0.6v0.6h-0.6zM595.39 53.56h0.6v0.6h-0.6zM607.48 53.56h0.6v0.6h-0.6zM632.98 53.56h0.6v0.6h-0.6zM645.07 53.56h0.6v0.6h-0.6zM669.36 53.56h0.6v0.6h-0.6zM669.22 53.56h0.6v0.6h-0.6zM412.71 52.92h0.6v0.6h-0.6zM472.32 52.92h0.6v0.6h-0.6zM531.61 52.92h0.6v0.6h-0.6zM621.46 52.92h0.6v0.6h-0.6zM634.39 52.92h0.6v0.6h-0.6zM482.18 52.27h0.6v0.6h-0.6zM532.38 52.27h0.6v0.6h-0.6zM578.87 52.27h0.6v0.6h-0.6zM619.18 52.27h0.6v0.6h-0.6zM640.98 52.27h0.6v0.6h-0.6zM681.43 52.27h0.6v0.6h-0.6zM538.43 51.63h0.6v0.6h-0.6zM565.56 51.63h0.6v0.6h-0.6zM647.25 51.63h0.6v0.6h-0.6zM572.62 50.98h0.6v0.6h-0.6zM584.93 50.98h0.6v0.6h-0.6zM598.73 50.98h0.6v0.6h-0.6zM616.65 50.98h0.6v0.6h-0.6zM622.38 50.98h0.6v0.6h-0.6zM673.33 50.98h0.6v0.6h-0.6zM525.63 50.34h0.6v0.6h-0.6zM395.69 49.7h0.6v0.6h-0.6zM530.19 49.7h0.6v0.6h-0.6zM532.05 49.7h0.6v0.6h-0.6zM562.47 49.7h0.6v0.6h-0.6zM569.06 49.7h0.6v0.6h-0.6zM582.98 49.7h0.6v0.6h-0.6zM674.93 49.7h0.6v0.6h-0.6zM419.51 49.05h0.6v0.6h-0.6zM455.87 49.05h0.6v0.6h-0.6zM569.55 49.05h0.6v0.6h-0.6zM576.47 49.05h0.6v0.6h-0.6zM648.34 49.05h0.6v0.6h-0.6zM652.65 49.05h0.6v0.6h-0.6zM426.42 48.41h0.6v0.6h-0.6zM469.82 48.41h0.6v0.6h-0.6zM487.85 48.41h0.6v0.6h-0.6zM578.68 48.41h0.6v0.6h-0.6zM579.74 48.41h0.6v0.6h-0.6zM587.87 48.41h0.6v0.6h-0.6zM620.39 48.41h0.6v0.6h-0.6zM642.19 48.41h0.6v0.6h-0.6zM421.85 47.77h0.6v0.6h-0.6zM487.55 47.77h0.6v0.6h-0.6zM570.24 47.77h0.6v0.6h-0.6zM579.55 47.77h0.6v0.6h-0.6zM587.53 47.77h0.6v0.6h-0.6zM653.44 47.77h0.6v0.6h-0.6zM672.91 47.77h0.6v0.6h-0.6zM407.44 47.12h0.6v0.6h-0.6zM471.86 47.12h0.6v0.6h-0.6zM481.16 47.12h0.6v0.6h-0.6zM588.04 47.12h0.6v0.6h-0.6zM602.04 47.12h0.6v0.6h-0.6zM599.09 47.12h0.6v0.6h-0.6zM635.31 47.12h0.6v0.6h-0.6zM486.49 46.48h0.6v0.6h-0.6zM552.5 46.48h0.6v0.6h-0.6zM568.2 46.48h0.6v0.6h-0.6zM656.27 46.48h0.6v0.6h-0.6zM664.04 46.48h0.6v0.6h-0.6zM397.08 45.83h0.6v0.6h-0.6zM564.75 45.83h0.6v0.6h-0.6zM565.8 45.83h0.6v0.6h-0.6zM588.76 45.83h0.6v0.6h-0.6zM618.45 45.83h0.6v0.6h-0.6zM420.29 45.19h0.6v0.6h-0.6zM431.24 45.19h0.6v0.6h-0.6zM468.33 45.19h0.6v0.6h-0.6zM569.34 45.19h0.6v0.6h-0.6zM576.46 45.19h0.6v0.6h-0.6zM577.48 45.19h0.6v0.6h-0.6zM581.39 45.19h0.6v0.6h-0.6zM584.74 45.19h0.6v0.6h-0.6zM650.48 45.19h0.6v0.6h-0.6zM487.3 44.55h0.6v0.6h-0.6zM521.28 44.55h0.6v0.6h-0.6zM581.18 44.55h0.6v0.6h-0.6zM671.07 44.55h0.6v0.6h-0.6zM569.95 43.9h0.6v0.6h-0.6zM591.39 43.9h0.6v0.6h-0.6zM643.82 43.9h0.6v0.6h-0.6zM656.04 43.9h0.6v0.6h-0.6zM671.32 43.9h0.6v0.6h-0.6zM572.92 43.26h0.6v0.6h-0.6zM602.28 43.26h0.6v0.6h-0.6zM614.32 43.26h0.6v0.6h-0.6zM643.47 43.26h0.6v0.6h-0.6zM485.41 42.62h0.6v0.6h-0.6zM573.34 42.62h0.6v0.6h-0.6zM577.94 42.62h0.6v0.6h-0.6zM591.29 42.62h0.6v0.6h-0.6zM627.26 42.62h0.6v0.6h-0.6zM638.88 42.62h0.6v0.6h-0.6zM646.64 42.62h0.6v0.6h-0.6zM422.49 41.97h0.6v0.6h-0.6zM527.18 41.97h0.6v0.6h-0.6zM565.07 41.97h0.6v0.6h-0.6zM573.96 41.97h0.6v0.6h-0.6zM631.84 41.97h0.6v0.6h-0.6zM411.02 41.33h0.6v0.6h-0.6zM517.19 41.33h0.6v0.6h-0.6zM564.33 41.33h0.6v0.6h-0.6zM577.22 41.33h0.6v0.6h-0.6zM632.72 41.33h0.6v0.6h-0.6zM636.31 41.33h0.6v0.6h-0.6zM673.57 41.33h0.6v0.6h-0.6zM673.19 41.33h0.6v0.6h-0.6zM421.28 40.68h0.6v0.6h-0.6zM584.42 40.68h0.6v0.6h-0.6zM590.6 40.68h0.6v0.6h-0.6zM592.94 40.68h0.6v0.6h-0.6zM598.45 40.68h0.6v0.6h-0.6zM602.71 40.68h0.6v0.6h-0.6zM632.94 40.68h0.6v0.6h-0.6zM554.14 40.04h0.6v0.6h-0.6zM562.89 40.04h0.6v0.6h-0.6zM615.09 40.04h0.6v0.6h-0.6zM637.62 40.04h0.6v0.6h-0.6zM537.13 39.4h0.6v0.6h-0.6zM565.96 39.4h0.6v0.6h-0.6zM567.76 39.4h0.6v0.6h-0.6zM595.99 39.4h0.6v0.6h-0.6zM624.94 39.4h0.6v0.6h-0.6zM637.42 39.4h0.6v0.6h-0.6zM573.08 38.75h0.6v0.6h-0.6zM596.5 38.75h0.6v0.6h-0.6zM667.17 38.75h0.6v0.6h-0.6zM575.71 38.11h0.6v0.6h-0.6zM587.05 38.11h0.6v0.6h-0.6zM597.02 38.11h0.6v0.6h-0.6zM638.57 38.11h0.6v0.6h-0.6zM675.76 38.11h0.6v0.6h-0.6zM470.54 37.47h0.6v0.6h-0.6zM490.45 37.47h0.6v0.6h-0.6zM532.9 37.47h0.6v0.6h-0.6zM633.62 37.47h0.6v0.6h-0.6zM643.53 37.47h0.6v0.6h-0.6zM651.32 37.47h0.6v0.6h-0.6zM599.22 36.82h0.6v0.6h-0.6zM630.02 36.82h0.6v0.6h-0.6zM671.44 36.82h0.6v0.6h-0.6zM423.14 36.18h0.6v0.6h-0.6zM431.04 36.18h0.6v0.6h-0.6zM468.63 36.18h0.6v0.6h-0.6zM541.84 36.18h0.6v0.6h-0.6zM558.59 36.18h0.6v0.6h-0.6zM585.5 36.18h0.6v0.6h-0.6zM621.11 36.18h0.6v0.6h-0.6zM642.26 36.18h0.6v0.6h-0.6zM520.4 35.53h0.6v0.6h-0.6zM587.68 35.53h0.6v0.6h-0.6zM615.12 35.53h0.6v0.6h-0.6zM548.94 34.89h0.6v0.6h-0.6zM574.89 34.89h0.6v0.6h-0.6zM612.82 34.89h0.6v0.6h-0.6zM613.91 34.89h0.6v0.6h-0.6zM618.65 34.89h0.6v0.6h-0.6zM478.29 34.25h0.6v0.6h-0.6zM580.07 34.25h0.6v0.6h-0.6zM582.88 34.25h0.6v0.6h-0.6zM460.59 33.6h0.6v0.6h-0.6zM554.62 33.6h0.6v0.6h-0.6zM590.2 33.6h0.6v0.6h-0.6zM596.14 33.6h0.6v0.6h-0.6zM602.06 33.6h0.6v0.6h-0.6zM609.03 33.6h0.6v0.6h-0.6zM611.26 33.6h0.6v0.6h-0.6zM624.6 33.6h0.6v0.6h-0.6zM653.27 33.6h0.6v0.6h-0.6zM419.29 32.96h0.6v0.6h-0.6zM473.96 32.96h0.6v0.6h-0.6zM574.26 32.96h0.6v0.6h-0.6zM577.86 32.96h0.6v0.6h-0.6zM585.47 32.96h0.6v0.6h-0.6zM586.49 32.96h0.6v0.6h-0.6zM424.28 32.32h0.6v0.6h-0.6zM558.44 32.32h0.6v0.6h-0.6zM561.07 32.32h0.6v0.6h-0.6zM568.9 32.32h0.6v0.6h-0.6zM588.4 32.32h0.6v0.6h-0.6zM603.28 32.32h0.6v0.6h-0.6zM631.89 32.32h0.6v0.6h-0.6zM649.01 32.32h0.6v0.6h-0.6zM398.69 31.67h0.6v0.6h-0.6zM436.48 31.67h0.6v0.6h-0.6zM547.46 31.67h0.6v0.6h-0.6zM568.19 31.67h0.6v0.6h-0.6zM581.24 31.67h0.6v0.6h-0.6zM613.77 31.67h0.6v0.6h-0.6zM623.95 31.67h0.6v0.6h-0.6zM649.72 31.67h0.6v0.6h-0.6zM569.46 31.03h0.6v0.6h-0.6zM588.18 31.03h0.6v0.6h-0.6zM673.03 31.03h0.6v0.6h-0.6zM484.59 30.38h0.6v0.6h-0.6zM582.44 30.38h0.6v0.6h-0.6zM586.37 30.38h0.6v0.6h-0.6zM596.05 30.38h0.6v0.6h-0.6zM617.58 30.38h0.6v0.6h-0.6zM626.48 30.38h0.6v0.6h-0.6zM655.43 30.38h0.6v0.6h-0.6zM483.47 29.74h0.6v0.6h-0.6zM507.37 29.74h0.6v0.6h-0.6zM524.22 29.74h0.6v0.6h-0.6zM557.39 29.74h0.6v0.6h-0.6zM573.87 29.74h0.6v0.6h-0.6zM580.45 29.74h0.6v0.6h-0.6zM598.43 29.74h0.6v0.6h-0.6zM618.58 29.74h0.6v0.6h-0.6zM642.07 29.74h0.6v0.6h-0.6zM668.29 29.74h0.6v0.6h-0.6zM548.53 29.1h0.6v0.6h-0.6zM578.74 29.1h0.6v0.6h-0.6zM657.29 29.1h0.6v0.6h-0.6zM664.93 29.1h0.6v0.6h-0.6zM551.58 28.45h0.6v0.6h-0.6zM574.82 28.45h0.6v0.6h-0.6zM585.24 28.45h0.6v0.6h-0.6zM597.66 28.45h0.6v0.6h-0.6zM507.07 27.81h0.6v0.6h-0.6zM552.19 27.81h0.6v0.6h-0.6zM566.13 27.81h0.6v0.6h-0.6zM571.67 27.81h0.6v0.6h-0.6zM608.04 27.81h0.6v0.6h-0.6zM622.99 27.81h0.6v0.6h-0.6zM504.95 27.17h0.6v0.6h-0.6zM593 27.17h0.6v0.6h-0.6zM673.83 27.17h0.6v0.6h-0.6zM396.88 26.52h0.6v0.6h-0.6zM575.81 26.52h0.6v0.6h-0.6zM669.22 26.52h0.6v0.6h-0.6zM575.43 25.88h0.6v0.6h-0.6zM579.12 25.88h0.6v0.6h-0.6zM588.54 25.88h0.6v0.6h-0.6zM392.29 25.23h0.6v0.6h-0.6zM408.61 25.23h0.6v0.6h-0.6zM416.24 25.23h0.6v0.6h-0.6zM502.4 25.23h0.6v0.6h-0.6zM558.98 25.23h0.6v0.6h-0.6zM574.69 25.23h0.6v0.6h-0.6zM626.5 25.23h0.6v0.6h-0.6zM564.75 24.59h0.6v0.6h-0.6zM633.82 24.59h0.6v0.6h-0.6zM458.99 23.95h0.6v0.6h-0.6zM468.27 23.95h0.6v0.6h-0.6zM582.29 23.95h0.6v0.6h-0.6zM575.26 23.3h0.6v0.6h-0.6zM579.9 23.3h0.6v0.6h-0.6zM602.3 23.3h0.6v0.6h-0.6zM600.81 23.3h0.6v0.6h-0.6zM610.18 23.3h0.6v0.6h-0.6zM401.78 22.66h0.6v0.6h-0.6zM565.09 22.66h0.6v0.6h-0.6zM590.96 22.66h0.6v0.6h-0.6zM604.57 22.66h0.6v0.6h-0.6zM632.63 22.66h0.6v0.6h-0.6zM640.15 22.66h0.6v0.6h-0.6zM673.31 22.66h0.6v0.6h-0.6zM421.72 22.02h0.6v0.6h-0.6zM480.86 22.02h0.6v0.6h-0.6zM525.82 22.02h0.6v0.6h-0.6zM561.77 22.02h0.6v0.6h-0.6zM568.66 22.02h0.6v0.6h-0.6zM666.39 22.02h0.6v0.6h-0.6zM454.89 21.37h0.6v0.6h-0.6zM464.02 21.37h0.6v0.6h-0.6zM462.89 21.37h0.6v0.6h-0.6zM564.24 21.37h0.6v0.6h-0.6zM582.32 21.37h0.6v0.6h-0.6zM597.15 21.37h0.6v0.6h-0.6zM679.45 21.37h0.6v0.6h-0.6zM411.58 20.73h0.6v0.6h-0.6zM468.39 20.73h0.6v0.6h-0.6zM554.99 20.73h0.6v0.6h-0.6zM619.87 20.73h0.6v0.6h-0.6zM617.46 20.73h0.6v0.6h-0.6zM624.87 20.73h0.6v0.6h-0.6zM637.53 20.73h0.6v0.6h-0.6zM424.09 20.08h0.6v0.6h-0.6zM525.96 20.08h0.6v0.6h-0.6zM569.23 20.08h0.6v0.6h-0.6zM571.2 20.08h0.6v0.6h-0.6zM582.82 20.08h0.6v0.6h-0.6zM612.16 20.08h0.6v0.6h-0.6zM617.52 20.08h0.6v0.6h-0.6zM674.18 20.08h0.6v0.6h-0.6zM426.87 19.44h0.6v0.6h-0.6zM576.2 19.44h0.6v0.6h-0.6zM587.18 19.44h0.6v0.6h-0.6zM588.97 19.44h0.6v0.6h-0.6zM590.1 19.44h0.6v0.6h-0.6zM614.92 19.44h0.6v0.6h-0.6zM626.52 19.44h0.6v0.6h-0.6zM644.71 19.44h0.6v0.6h-0.6zM489.44 18.8h0.6v0.6h-0.6zM587.1 18.8h0.6v0.6h-0.6zM610.74 18.8h0.6v0.6h-0.6zM616.72 18.8h0.6v0.6h-0.6zM452.51 18.15h0.6v0.6h-0.6zM588.46 18.15h0.6v0.6h-0.6zM608.72 18.15h0.6v0.6h-0.6zM634.1 18.15h0.6v0.6h-0.6zM675.46 18.15h0.6v0.6h-0.6zM419.92 17.51h0.6v0.6h-0.6zM485.81 17.51h0.6v0.6h-0.6zM501.92 17.51h0.6v0.6h-0.6zM570.89 17.51h0.6v0.6h-0.6zM572.25 17.51h0.6v0.6h-0.6zM614.41 17.51h0.6v0.6h-0.6zM676.79 17.51h0.6v0.6h-0.6zM487.8 16.87h0.6v0.6h-0.6zM599.97 16.87h0.6v0.6h-0.6zM606.45 16.87h0.6v0.6h-0.6zM618.99 16.87h0.6v0.6h-0.6zM671.51 16.87h0.6v0.6h-0.6zM404.59 16.22h0.6v0.6h-0.6zM551.59 16.22h0.6v0.6h-0.6zM571.63 16.22h0.6v0.6h-0.6zM593.42 16.22h0.6v0.6h-0.6zM600.93 16.22h0.6v0.6h-0.6zM601.4 16.22h0.6v0.6h-0.6z" fill="#c4c4c4"/>
<path d="M391.4 14.4H682.5V67.4" fill="none" stroke="#777777" stroke-width="0.9"/>
<path d="M391.4 14.4V67.4H682.5" fill="none" stroke="#6e6e6e" stroke-width="0.95"/>
<line x1="391.4" y1="67.4" x2="391.4" y2="64.9" stroke="#6e6e6e" stroke-width="0.8"/>
<text x="386.93" y="77.2" font-size="7.3" textLength="8.94" lengthAdjust="spacingAndGlyphs">−4</text>
<line x1="464.18" y1="67.4" x2="464.18" y2="64.9" stroke="#6e6e6e" stroke-width="0.8"/>
<text x="459.71" y="77.2" font-size="7.3" textLength="8.94" lengthAdjust="spacingAndGlyphs">−2</text>
<line x1="536.96" y1="67.4" x2="536.96" y2="64.9" stroke="#6e6e6e" stroke-width="0.8"/>
<text x="534.78" y="77.2" font-size="7.3" textLength="4.36" lengthAdjust="spacingAndGlyphs">0</text>
<line x1="609.74" y1="67.4" x2="609.74" y2="64.9" stroke="#6e6e6e" stroke-width="0.8"/>
<text x="607.56" y="77.2" font-size="7.3" textLength="4.36" lengthAdjust="spacingAndGlyphs">2</text>
<line x1="682.52" y1="67.4" x2="682.52" y2="64.9" stroke="#6e6e6e" stroke-width="0.8"/>
<text x="680.34" y="77.2" font-size="7.3" textLength="4.36" lengthAdjust="spacingAndGlyphs">4</text>
<line x1="391.4" y1="16.2" x2="393.9" y2="16.2" stroke="#6e6e6e" stroke-width="0.8"/>
<text x="378.68" y="18.75" font-size="7.3" textLength="8.72" lengthAdjust="spacingAndGlyphs">80</text>
<line x1="391.4" y1="29" x2="393.9" y2="29" stroke="#6e6e6e" stroke-width="0.8"/>
<text x="378.68" y="31.55" font-size="7.3" textLength="8.72" lengthAdjust="spacingAndGlyphs">60</text>
<line x1="391.4" y1="41.8" x2="393.9" y2="41.8" stroke="#6e6e6e" stroke-width="0.8"/>
<text x="378.68" y="44.35" font-size="7.3" textLength="8.72" lengthAdjust="spacingAndGlyphs">40</text>
<line x1="391.4" y1="54.6" x2="393.9" y2="54.6" stroke="#6e6e6e" stroke-width="0.8"/>
<text x="378.68" y="57.15" font-size="7.3" textLength="8.72" lengthAdjust="spacingAndGlyphs">20</text>
<line x1="391.4" y1="67.4" x2="393.9" y2="67.4" stroke="#6e6e6e" stroke-width="0.8"/>
<text x="383.04" y="69.95" font-size="7.3" textLength="4.36" lengthAdjust="spacingAndGlyphs">0</text>
<text transform="translate(371.9 40.8) rotate(-90)" x="-8" y="0" font-size="8.5" textLength="16" lengthAdjust="spacingAndGlyphs">Trial</text>
<line x1="538.05" y1="14.4" x2="538.05" y2="66.9" stroke="rgba(184,85,167,0.77)" stroke-width="2.3"/>
<text x="146.1" y="94.5" font-size="8.6" textLength="111.2" lengthAdjust="spacingAndGlyphs">Raw trace from a single trial</text>
<clipPath id="c3"><rect x="47.4" y="101.2" width="292.1" height="48.1"/></clipPath>
<g clip-path="url(#c3)">
<line x1="63.83" y1="110" x2="63.83" y2="134" stroke="#8a8a8a" stroke-width="0.55"/>
<line x1="102.16" y1="117" x2="102.16" y2="133" stroke="#8a8a8a" stroke-width="0.55"/>
<line x1="127.72" y1="116" x2="127.72" y2="132" stroke="#8a8a8a" stroke-width="0.55"/>
<line x1="197.82" y1="109.7" x2="197.82" y2="141.8" stroke="#8a8a8a" stroke-width="0.55"/>
<line x1="213.52" y1="106" x2="213.52" y2="149" stroke="#8a8a8a" stroke-width="0.55"/>
<line x1="229.22" y1="104.6" x2="229.22" y2="147.6" stroke="#8a8a8a" stroke-width="0.55"/>
<line x1="235.06" y1="108" x2="235.06" y2="137" stroke="#8a8a8a" stroke-width="0.55"/>
<line x1="237.25" y1="101" x2="237.25" y2="141.8" stroke="#8a8a8a" stroke-width="0.55"/>
<line x1="237.98" y1="106" x2="237.98" y2="141" stroke="#8a8a8a" stroke-width="0.55"/>
<line x1="240.9" y1="102.5" x2="240.9" y2="138" stroke="#8a8a8a" stroke-width="0.55"/>
<line x1="244.55" y1="104" x2="244.55" y2="135" stroke="#8a8a8a" stroke-width="0.55"/>
<line x1="251.86" y1="112" x2="251.86" y2="129" stroke="#8a8a8a" stroke-width="0.55"/>
<line x1="257.33" y1="111" x2="257.33" y2="132" stroke="#8a8a8a" stroke-width="0.55"/>
<line x1="275.59" y1="111" x2="275.59" y2="129" stroke="#8a8a8a" stroke-width="0.55"/>
<line x1="284.71" y1="111" x2="284.71" y2="135" stroke="#8a8a8a" stroke-width="0.55"/>
<line x1="328.53" y1="112" x2="328.53" y2="130" stroke="#8a8a8a" stroke-width="0.55"/>
<line x1="167.88" y1="115" x2="167.88" y2="131" stroke="#8a8a8a" stroke-width="0.55"/>
<path d="M47.4 120.21V118.85M47.8 119.63V115.99M47.8 126.26V128.9M48.2 120.15V118.79M49 120.34V119.28M49.4 119.86V117.07M49.8 126.9V132.65M50.2 119.23V117.82M50.6 119.91V118.52M51 120.01V119.18M51.4 127.93V129.72M51.8 126.03V126.85M52.2 119.56V118.43M53 127.48V130.65M53.4 126.78V128.8M54.2 120.73V119.58M54.6 127.5V129.25M55.4 119.88V116.87M55.8 120.24V115.78M56.2 125.96V127.14M56.6 119.81V118.65M56.6 126.81V128.51M57 126.49V127.58M57.4 120.24V119.4M57.8 119.9V118.95M58.2 120.23V113.01M58.2 127.09V128.64M58.6 120.06V118.96M58.6 127.26V129.16M59 119.71V118.88M59 127.16V129.79M59.4 120.48V116.98M59.4 126.87V128.34M59.8 127.83V129.13M60.2 120.07V118.9M60.6 119.64V114.93M60.6 127.01V128.1M61 126.53V127.91M61.4 119.8V118.38M61.4 126.85V128.22M61.8 119.63V116.37M62.2 120V118.03M63 120.65V115.32M63.8 127.09V127.91M64.2 120.49V118.89M64.6 126.76V129.51M65.4 127.42V128.78M66.2 127.11V135.01M66.6 120.37V118.81M67.8 119.79V118.72M68.2 119.14V117.07M69 119.8V118.61M69.8 127.09V129.27M70.6 119.61V114.87M71 119.81V117.88M71 127.68V129.6M71.8 119.57V117.74M71.8 127.11V129.12M72.2 119.29V117.58M72.6 127.53V130.23M73 127.43V128.97M73.8 127.57V129.33M74.2 127.03V130.18M74.6 119.54V118M74.6 127.37V133.23M75.4 119.94V118.83M75.4 126.8V130.28M75.8 120.08V118.43M75.8 126.56V127.85M76.6 119.85V117.96M76.6 127.63V129.57M77.8 120.15V118.61M77.8 127.18V128.86M78.2 127.27V128.88M79 126.37V129.11M80.2 120.09V115.87M80.2 127.21V128.1M80.6 127.12V130.01M81 120.04V117.69M81.4 120.87V118.85M81.4 127.2V129.24M81.8 120.46V118.8M81.8 126.11V130.26M82.6 127.4V129.3M83.4 119.01V116.35M83.4 126.84V127.76M84.2 119.72V118.44M84.2 127.88V129.27M84.6 119.61V117.95M85 119.95V118.99M85.4 119.18V114.85M85.4 126.62V131.61M86.2 120.21V119.01M87 119.77V118.09M87.4 119.9V118.42M88.2 126.91V128.23M88.6 120.1V115.32M88.6 127.5V129.48M89 126.66V127.71M89.4 119.75V118.46M89.4 126.62V127.63M89.8 120.48V119.4M90.2 119.67V117.12M91 119.48V118.22M91 126.87V129.2M91.4 120.11V117.81M91.4 127.4V130.11M91.8 119.88V118.88M92.2 120.15V118.97M92.2 126.89V129.44M92.6 127.14V129.21M93.4 127.33V128.26M93.8 120.26V118.9M93.8 127.15V128.03M94.2 119.88V118.38M94.2 126.79V133.22M94.6 119.68V118.46M94.6 126.91V127.88M95 126.93V127.86M95.4 120.1V119M95.4 127.24V129.53M95.8 127.24V130.66M97.4 120.4V119.35M98.2 120.05V119.16M98.6 119.65V116.7M98.6 127.1V128.67M99 127.37V128.22M99.4 120.6V115.1M99.8 119.97V119.05M100.2 119.52V116.17M100.2 127.13V128.99M101.4 127.15V128.65M101.8 119.35V116.78M102.2 126.78V129.66M103.8 119.09V115.6M103.8 125.83V127.62M104.6 127.51V128.61M105 127.58V130.76M106.6 127.06V132.16M107.4 126.67V129.52M107.8 119.16V118.04M108.2 119.7V118.77M109 127.11V128.18M109.4 120.1V116.63M109.4 126.52V127.33M110.2 120.6V119.75M110.2 127.1V128.65M110.6 126.88V130.61M111.4 126.9V127.99M111.8 120.26V117.57M112.2 119.89V117.6M112.2 126.94V128.3M112.6 127.14V128.32M113 119.48V118.55M113 127.55V130.69M113.8 119.9V117.39M113.8 127.03V129.53M114.2 119.81V118.66M114.2 127.63V130.14M114.6 120.03V118.14M115.8 120.22V117.71M115.8 127.54V128.49M117 126.73V127.55M117.8 119.67V117.58M118.2 127.02V131.89M118.6 120.9V117.85M118.6 127.69V135.58M119 119.81V115.67M119.4 120.32V118.17M119.4 126.61V130.16M120.2 120.75V118.36M121 127.3V134.27M121.4 127.09V133.83M122.2 126.85V130.07M122.6 119.59V117.9M122.6 128.05V130.24M123 126.65V127.62M123.8 127.15V128.94M124.2 127.65V128.88M124.6 126.9V127.87M125.4 126.7V130.03M126.2 120.27V118.31M126.2 126.7V129.26M127.4 120.45V118.75M127.8 119.49V118.1M127.8 127.81V129.47M128.2 119.8V116.47M128.2 127.07V130.92M129.8 126.71V128.25M130.2 120.1V117.83M130.2 127.29V128.74M130.6 120.32V113.67M130.6 126.62V128.16M131 120.06V117.89M131.4 120.65V117.66M131.4 127.54V129.6M132.2 126.89V129.04M132.6 127.74V130.87M133.4 119.82V118.79M133.8 127.18V134.07M134.2 120.05V119.02M134.2 126.97V130.16M135 120.23V118.86M135 127.71V136.2M136.2 126.93V128.82M136.6 127V128.14M137 126.56V134.22M137.4 127.45V131.54M138.2 127.58V132.78M139 120.36V117.82M139.4 119.28V117.41M139.8 127.13V128.63M140.6 120.18V118.61M140.6 127.04V127.96M141 126.59V127.53M141.8 120.24V116.69M141.8 126.07V127.07M142.2 119.82V117.39M142.6 120.39V118.67M143 127.44V130.41M143.4 120.31V119.37M143.4 127.42V128.55M144.2 120.26V113.62M144.2 127.28V128.19M145 120.32V118.93M145 127.06V129.78M145.4 127.05V133.8M145.8 125.8V128.86M146.2 119.75V118.07M147 120.1V117.19M147.8 119.46V117.06M147.8 127.36V134.96M149 119.49V117.99M149.4 120.24V115.42M150.2 119.43V116.34M150.6 120.21V119.13M150.6 126.85V128.46M151.8 120.33V118.58M151.8 126.57V128.7M152.2 120.31V117.43M152.6 119.7V118.46M152.6 126.57V128.01M154.2 118.96V117.59M154.2 127.23V129.34M154.6 127.6V130.52M155 127.51V128.59M155.8 119.23V118.38M156.2 120.37V119.44M156.2 127.08V127.95M156.6 127.78V129.67M158.6 118.71V115.95M158.6 126.64V132.13M159.4 119.88V116.01M159.4 127.31V128.55M159.8 127.02V129.19M160.2 127.48V130.01M160.6 120V118.86M161 119.89V118.67M161.8 119.75V118.4M162.2 127.13V130.17M163 127.52V135.1M163.4 126.79V127.61M163.8 119.62V117.89M164.2 119.81V117.02M164.6 120.36V119.28M165 119.95V118.35M165.4 126.43V128.55M166.2 120.16V117.91M167 119.54V117.04M167.8 120.22V118.97M167.8 127.03V128.98M168.2 127.5V128.9M168.6 119.84V116.75M168.6 127.25V129.99M169.4 126.75V129.39M169.8 119.37V117.61M170.6 120.12V119.06M171 127.48V129.17M171.4 126.92V128.38M171.8 119.62V116.83M172.2 120.05V117.45M172.2 127.9V128.77M172.6 119.74V118.81M173 119.89V118.77M173 127.25V129.2M173.4 120.3V119.06M174.2 120.65V119.46M174.2 126.67V132.78M174.6 127.02V128.34M175 120.6V118.97M175.8 120.94V119.47M175.8 127.2V130.53M176.2 119.93V116.74M176.6 119.89V115.12M177 126.52V127.41M177.4 119.72V118.76M178.2 120.03V116.84M178.2 126.96V128.03M178.6 120.08V117.91M178.6 127.59V131.73M179.4 127.07V133.06M179.8 119.81V117.95M179.8 126.92V131.68M180.2 119.92V118.69M180.2 127V129.34M181 126.31V127.74M182.2 119.86V112.87M182.6 127.13V129.12M183 127.02V129.78M185 127.47V129.04M185.4 127.24V128.62M185.8 120.61V115.47M186.6 126.91V130.38M187 119.38V116.6M188.2 119.66V117.92M188.6 126.95V130.04M189.4 119.98V119M189.8 127.16V128.33M190.6 120.04V118.09M191 119.98V118.44M191.4 120.15V117.59M191.4 127.08V128.11M192.2 118.92V116.32M192.6 120.23V119M192.6 127.12V128.57M193 120.11V117.34M193 126.8V129.8M193.4 127.17V132.57M193.8 120.57V119.51M194.2 126.56V129.71M195 127.05V128.92M197 119.46V117.26M197 127.59V128.81M197.4 120.16V117.24M197.8 127.19V128.29M198.6 119.93V118.74M199.4 127.03V135.02M200.2 119.81V117.35M200.2 127.33V129.67M201.4 127.2V130.25M201.8 119.98V119.17M202.2 119.54V114.52M202.6 126.73V128.33M203 126.92V129.19M203.4 126.43V127.82M203.8 119.7V117.22M204.2 120.02V117.56M205.4 119.47V117.12M205.4 127.57V129.24M205.8 127.28V129.23M206.6 119.63V117.98M206.6 127.25V129.76M207.4 119.85V118.02M207.8 120.31V119.02M208.2 127.35V129.47M209 127.86V129.18M209.8 119.91V119.1M210.6 127.1V128.45M211.4 119.27V118.24M211.4 127.23V129.76M211.8 127.09V128.67M212.6 120.23V119.34M212.6 127.16V129.45M213.4 127.59V128.82M213.8 127.3V128.68M214.6 119.41V117.17M215 127.06V128.46M215.8 126.98V129.38M216.2 120.34V119.05M216.6 120.33V115.61M217.8 119.93V118.66M219 119.82V118.66M219.4 127.07V130.22M219.8 119.59V116.43M219.8 127.28V129.45M220.2 120.12V119.29M220.6 120.42V118.9M221.4 127.65V134.55M222.2 119.52V118.7M223.4 127.06V128.52M223.8 120.39V119.46M224.2 127.14V130.33M224.6 119.79V118.11M224.6 127.28V129.32M225.4 118.95V115.24M225.8 119.07V117.87M226.6 127.71V128.82M227 127.27V130.41M227.4 119.7V117.39M229 120.17V118.67M229.8 120.19V118.56M230.2 127.12V128.22M230.6 120.14V118.89M230.6 127.11V130.95M231.8 127.13V132.54M232.6 119.53V117.95M232.6 126.86V127.83M233 119.74V118.34M233 127.05V129.43M235 120.07V118.86M235.4 119.72V118.59M235.4 127.83V129.37M235.8 127.45V130.4M236.2 126.74V134.95M236.6 120V118.8M237 120.1V118.74M237.4 126.97V134.64M238.2 120.26V119.32M238.2 127.12V129.61M238.6 119.78V118.02M238.6 126.59V129.68M239 126.88V128.94M239.4 119.37V116.97M240.2 126.78V129.31M240.6 120.42V117.76M242.6 119.74V118.46M243.4 127.09V128.98M244.6 127.38V133.12M245 127.13V129.28M245.8 119.19V115.42M246.6 127.23V128.61M247 119.95V119.11M247 126.94V130.68M247.4 119.97V118.63M247.4 126.56V127.89M248.2 120.16V118.55M248.6 120.13V119.26M249 127.29V129.87M249.8 127.52V128.45M251 120.14V118.5M251 127.59V132.5M251.4 120.5V118.13M253 127.44V129.34M253.8 127.42V130.1M254.6 119.71V118.06M254.6 127.41V128.36M255 119.41V118.55M256.2 127.78V131M257 127V128.5M257.4 119.72V117.39M257.8 127.55V135.19M258.2 119.88V117.74M259 119.92V117.48M259.8 120.26V116.61M260.2 119.52V118.67M260.2 127.07V128.76M260.6 119.8V118.63M261 119.17V118.33M261 127.3V129.64M261.4 119.72V118.58M262.2 120.49V118.89M262.6 119.84V118.34M263 120.1V119.17M263.4 119.2V118.16M263.4 127.28V131.08M264.2 127.06V130.24M264.6 119.35V116.58M264.6 127.28V128.95M265 120.35V116.44M265 126.36V127.95M266.6 119.83V118.93M267.4 119.62V116.56M267.8 127.22V131.16M268.2 120.37V118.05M268.6 119.98V117.9M268.6 126.96V130.2M269.4 127.57V134.13M270.2 120.16V117.71M270.2 127.3V131.03M270.6 119.79V117.48M271 127.02V128.31M271.8 119.83V115.62M272.2 120.08V119.11M272.6 128.05V129.3M274.2 126.32V130.23M275 120.02V119.05M275.4 127.42V130.73M275.8 126.76V133.48M276.2 120.15V116.08M276.2 127.21V129.62M276.6 126.64V127.9M277.4 127.01V129.8M277.8 127.18V129.32M278.2 119.48V114.04M278.6 119.84V118.04M279.8 119.22V115.43M280.6 127.79V129.99M281 126.59V128.5M281.4 126.49V129.44M281.8 127.08V127.97M282.2 127.57V130.06M282.6 126.47V128.66M283 119.65V116.85M284.6 119.34V118.5M284.6 127.21V132.32M285 119.74V116.66M285 127.09V130.68M286.2 120.34V117.67M286.2 126.85V128.75M286.6 120.26V116.34M287 120.14V119.08M288.2 120.02V114.77M289 127.33V128.66M289.4 119.56V118.72M290.2 119.86V118.37M291 126.75V129.92M293.4 121.01V119.97M294.6 127.5V128.32M295 127.67V130.34M295.4 120.16V119.15M295.8 126.9V131.5M296.2 119.6V116.85M296.2 127.63V129.3M296.6 120V118.91M297 120.26V118.42M297 126.65V127.77M299.4 119.51V117.59M299.4 126.98V128.56M299.8 127.55V129.76M300.2 119.97V119.15M300.2 127.2V129.66M301 119.84V117.99M301 126.72V127.65M301.4 126.98V133.02M302.2 119.72V118.61M302.2 125.7V126.53M302.6 127.44V129.69M303 119.72V118.05M303.4 127.02V130.76M303.8 119.94V118.8M304.6 119.72V118.35M305.4 127.15V128.62M307 127.05V128.36M307.4 126.6V128.04M308.2 119.74V118.19M308.2 127.62V129.28M309.4 119.74V117.96M309.4 126.89V128.07M310.2 119.99V117.12M310.2 127.24V128.42M310.6 120V116.04M310.6 126.84V131.22M311 120.78V117.81M311 126.89V128.68M312.2 126.8V128.34M312.6 126.89V129.35M313.4 119.77V118.92M313.8 120.46V118.82M314.6 120.13V118.22M314.6 126.72V127.55M315 120.08V117.43M315 127.04V129.59M315.8 127.11V130.84M317.4 120.16V119.24M317.8 127V128.78M319 119.98V116.78M319.4 126.94V129.74M319.8 127.43V130.25M321 119.73V117.82M321.8 127.32V130.32M322.2 120.13V118.82M323 127.46V129.11M323.4 119.05V117.75M324.6 127.48V129.02M325 119.99V117.15M326.2 126.65V128.2M326.6 127.6V135.98M327 119.69V118.6M327.8 127.26V128.73M329.4 119.88V118.85M329.4 127.21V128.15M331.4 119.94V118.54M331.8 127.44V130.07M332.2 127.34V128.36M332.6 127.16V130.11M333 120.26V116.18M333 127.54V129.93M333.4 127.75V129.61M334.2 119.5V118.64M335.4 120.28V119.07M335.4 127V129.54M338.6 127.56V128.39M339 119.97V118.06M339 127.35V130.88M339.4 127.09V128.4" stroke="#9a9a9a" stroke-width="0.42" fill="none"/>
<path d="M47.4 127.28V128.48M48.2 126.93V128.22M48.6 120.28V115.45M49 127.68V130.51M49.4 127.29V133.75M49.8 119.88V118.99M50.2 126.75V128.18M50.6 127.1V134.43M51 126.85V129.33M52.2 127.11V130.5M52.6 119.49V116.36M52.6 126.15V126.99M53 120.26V119.3M53.8 119.46V118.47M53.8 127.69V129.54M54.6 120.17V118.45M55.4 127.53V130.04M57 119.58V118.63M57.4 127.44V128.99M57.8 127.29V128.25M59.8 119.7V117.95M60.2 127.18V128.95M61 119.81V118.98M61.8 127.09V132.2M62.2 127.02V128.48M62.6 120.43V118.23M62.6 126.9V129.86M63.4 120.48V115.7M63.4 126.66V128.38M63.8 119.83V115.45M64.2 126.5V128.12M64.6 120.07V118.13M65.4 119.39V116.98M65.8 120.5V119.57M65.8 127.27V128.39M65.8 127.27V132.86M66.2 119.66V117.76M66.6 126.65V132.74M67 119.71V116.4M67 126.93V128.7M67.4 120.27V119.1M67.8 127.56V129.01M68.2 126.53V127.45M68.6 119.51V118.65M68.6 126.92V131.15M69 127.13V129.93M69.4 127.22V128.7M69.8 119V115.02M70.2 119.42V116.43M70.2 127.34V132.92M70.6 126.54V130.37M71.4 119.99V118.73M71.4 126.65V127.71M72.2 127.28V128.11M72.6 120.02V116.72M73 119.77V118.77M73.4 120.26V119.41M73.8 119.69V117.3M74.2 120.16V118.6M75 120.01V118.38M76.2 119.52V118.7M76.2 126.71V129.58M77 127.56V129.92M78.2 121.1V119.71M79 120.19V119.27M79.8 120.36V118.58M79.8 126.99V128.31M80.6 120.32V118.39M81 126.97V132.22M82.6 120.02V117.99M83 119.93V116.93M83 127.43V128.85M83.8 127.25V128.79M84.6 127.79V128.7M85 127.12V130.6M85.8 120.2V113.38M85.8 127.15V128.63M86.6 120.04V119.18M87.8 119.71V116.86M87.8 127.2V128.16M88.2 120.36V118.05M89 120.7V119.46M90.6 119.83V117.64M91.8 127.18V128.28M92.6 120.5V118.57M93 127V130.66M95 120.05V117.41M95.8 120.22V118.29M96.2 126.77V129.42M96.6 119.63V117.49M96.6 127.02V128.65M97 120.08V118.35M97 127.21V130.76M97.4 127.51V130.02M97.8 127.19V129.11M98.2 127.84V129.97M99.4 126.97V129.45M100.6 127.28V128.58M101 119.99V116.3M101 127.22V128.16M101.8 126.97V128.46M102.2 119.54V118.27M102.6 119.87V118.69M102.6 126.98V134.47M103 119.28V118.38M103 127.27V130.58M103.4 120.36V119.53M103.4 127.46V128.72M104.2 119.57V118.52M104.2 127.33V129.31M104.6 119.31V117.32M105 127.58V132.91M105.4 120.22V116M105.4 127.24V129.51M105.8 120.14V118.34M105.8 127.35V129.37M106.2 120.27V118.32M106.2 126.92V127.93M106.6 120.14V118.45M107 119.09V116.43M107 127.29V131.2M108.2 127.17V128.99M108.6 119.75V117.86M108.6 126.58V127.54M109 119.68V118.65M109.8 119.58V115.5M111 126.73V127.57M111.4 120.21V118.91M111.8 126.23V128.57M112.6 120.69V118.01M113.4 120.09V116.8M114.6 127.76V128.66M115 119.6V116.87M115 126.91V128.75M116.6 120.2V119.29M117 119.49V118.01M117.4 119.18V116.75M117.4 127.31V134.38M117.8 127.99V130.79M118.2 119.81V117.19M119 127.82V131.66M119.8 126.86V130.67M120.6 119.95V118.14M120.6 127.47V128.28M121 120.17V117.79M121.4 119.83V115.8M121.8 119.56V116.88M122.2 119.5V117.57M123.4 120.02V119.03M123.8 119.84V118.11M124.2 119.91V118.67M125 119.89V118.51M125 127.07V128.07M125.4 119.89V117.02M125.8 120.16V116.66M126.6 126.71V127.9M127 120V116.73M127 126.53V127.48M128.6 127.17V128.78M129 127.95V129M131 127.22V129.75M131.8 120.07V117.48M132.2 119.48V118.37M132.6 119.59V118.4M133.8 120.15V118.28M134.6 120.59V119.47M135.8 119.6V117.39M135.8 127.22V130.02M136.2 119.73V118.24M136.6 120.18V118.23M137.4 120.16V118.7M138.2 119.66V117.84M138.6 120.59V118.74M138.6 126.64V129.58M139.4 127.28V129.52M140.2 119.91V117.94M140.2 126.84V128.03M141 119.88V119.02M141.4 119.36V118.22M141.4 127.11V129.33M142.2 127.16V129.22M142.6 127.61V128.89M143 120.03V118.56M143.8 126.93V128.69M144.6 119.7V115.38M145.4 119.99V116.75M145.8 119.41V116.24M146.2 127.45V130.05M146.6 119.77V117.96M146.6 127.27V128.27M147 127.42V130.58M147.4 126.73V130.78M148.2 120.2V118.86M148.2 127.28V130.23M148.6 119.88V118.9M148.6 126.23V128.32M149 126.41V128.21M149.4 127.11V129.57M149.8 126.84V128.08M151 120.27V118.66M151.4 119.65V117.9M151.4 119.65V115.05M151.4 126.36V131.15M152.2 126.72V130.42M153 120.71V119.77M153.8 120V115.43M153.8 126.58V129.27M155.8 127.53V128.96M157 120.67V119.72M157 127.37V130.68M157.4 118.73V113.72M157.4 127.82V129.09M157.8 120.15V119.23M157.8 127.02V128.5M158.2 126.28V128.13M159 119.62V117.69M159.8 120.48V118.03M161 126.82V127.65M161.4 120.06V117.32M161.8 127.12V131.7M162.2 120.27V118.1M163.4 120.36V119.31M163.8 127.17V129.21M164.2 126.44V128.33M164.2 126.44V133.08M164.6 127.09V129.91M165.4 120.15V118.54M165.8 120.23V118.29M166.2 127.87V129.31M166.6 119.7V117.07M166.6 127.29V132.58M167.4 127.68V131.47M168.2 120.06V117.28M169 126.51V127.61M171 120.23V119.25M171.4 119.56V117.63M173.4 127.02V130.84M173.8 120.08V116.28M173.8 127.56V131.98M175 126.55V127.56M176.2 126.95V128.37M176.6 126.85V130.55M177 120.45V119.17M177.8 119.74V117.26M177.8 127.57V129.9M179 119.37V117.97M179 126.77V128.11M180.6 120V118.93M180.6 127.4V133.52M181 119.86V117.18M181.4 120.36V119.2M181.8 120.13V119.05M181.8 127.37V129.53M182.2 127.1V128.92M182.6 119.96V115.56M183 120.35V118.5M183.4 120.25V119.11M183.4 127.37V129.85M183.8 120.44V115.36M184.2 119.88V119.06M184.2 126.77V127.71M184.6 119.99V117.29M185 120.74V118.96M185.4 119.92V118.38M186.2 127.18V128.72M187 126.92V128.12M187.4 120.19V115.62M187.4 126.38V130.71M187.8 119.66V118.18M187.8 127.03V131.89M188.2 127.48V129.89M189 120.41V118.98M189 126.75V128.74M189.4 127.45V129.31M190.2 120.1V116.99M190.6 127.28V128.65M191 127.37V133.28M191.8 119.83V117.08M191.8 126.78V129.29M192.2 127.77V129.35M193.8 127.56V128.52M194.2 119.39V118.43M194.6 127.6V129.36M195.4 120.11V115.85M195.4 127.87V131.47M195.8 119.29V117.85M196.2 119.78V118.53M196.2 127.06V129.39M196.6 120.19V118.36M196.6 127.58V134.35M197.4 126.97V128.25M197.8 120.78V116.5M198.2 120.49V118.89M198.2 126.9V130.37M198.6 127.45V129.78M199 120.07V118.82M199 126.56V128.17M199.4 119.57V118.62M199.8 119.99V116.73M199.8 126.29V127.8M200.6 119.55V118.51M200.6 126.25V130.86M201.4 120.71V118.98M201.8 126.97V129.12M202.6 119.77V118.58M203 120.53V118.9M203.4 120.59V113.95M203.8 127.22V129.73M204.2 127.41V128.6M204.6 120.3V119.17M205 127.09V134.98M205.8 119.55V117.93M206.2 119.95V119.13M206.2 127.47V130.22M207 127.11V127.99M207.8 126.1V128.19M208.6 119.85V115.78M208.6 127.06V128.25M209.4 119.63V118.77M209.8 127.42V128.69M210.2 126.74V127.84M210.6 120.25V118.99M211 119.89V118.71M211 126.76V127.68M212.2 120.65V116.16M213.4 120.28V118.17M213.8 119.31V116.05M214.6 127.57V129.29M215.4 119.79V117.53M215.4 127.26V132.59M215.8 120.15V118.04M216.2 126.85V130.42M216.6 125.96V128.46M217 121.01V120.16M217 127.37V129.53M217.4 119.74V118.9M217.4 126.66V128.23M217.8 127.38V128.97M218.2 120.14V118.67M218.2 127.79V133.39M218.6 119.61V116.15M219 127.44V129.6M219.4 120.1V118.54M220.2 126.65V129.08M220.6 127.11V131.21M221 119.49V117.43M221.8 119.97V118.94M221.8 127.92V130.21M222.2 127.22V128.39M222.6 120.01V118.59M222.6 126.96V131.6M223 119.76V118.14M223 127.95V129.35M223.8 127.08V129.42M225 119.47V117.25M225.4 126.89V127.9M225.8 127.06V131.25M226.2 119.62V118.55M226.2 127.82V129.35M227 119.66V117M227.8 127.02V127.87M228.2 119.27V116.18M228.6 126.91V129.25M229.4 126.93V127.95M229.8 126.87V127.98M230.2 119.57V118.45M231 120.02V115.97M231 126.89V128.46M231.4 120.22V116.72M231.4 127.08V127.92M231.8 120.39V119.25M232.2 119.61V117.88M232.2 126.93V128.23M233.4 119.61V118.31M233.4 127.37V129.17M233.8 120.17V118.38M233.8 127.53V129.92M234.2 119.87V119M235 127.09V129.53M235.8 120.34V118.09M236.2 119.18V116.39M237 126.91V127.89M237.8 119.63V114.97M237.8 126.47V131.86M239 119.14V117.7M239.4 127.68V129.25M239.8 120.3V117.74M239.8 127.49V132.08M240.2 119.55V118.26M240.6 126.71V130.79M241 120.45V116.05M241 126.76V130.06M241.4 119.82V118.98M241.4 126.39V128.16M241.8 120.12V118.62M241.8 126.73V130.48M242.6 126.71V130.57M243 119.62V118.16M243 127.39V129.07M243.4 120.13V118.88M244.2 127.77V129.13M245 120.11V115.37M245.4 119.05V117.95M245.4 127.81V130.85M246.2 126.84V127.69M246.6 119.81V118.85M247.8 120.7V119.24M247.8 127.83V129.21M248.2 127.68V129.05M248.6 126.62V128.83M249 119.7V118.23M249.4 120.21V118.44M249.8 120.17V119.18M250.2 127.09V129.26M250.6 127V128.95M251.8 119.58V118.67M252.2 127.46V128.55M252.6 120.22V119.22M252.6 126.99V130.55M253 120.19V117.55M253.8 119.72V118.54M254.2 120.99V119.99M254.2 127.35V131.14M255 126.72V132.5M255.4 119.7V117.42M255.4 127.83V131.77M256.6 119.74V115.64M257 120.02V118.8M257.4 127.01V132.44M258.2 126.94V127.85M258.6 127.27V129.88M261.8 119.4V117.13M261.8 127.85V128.74M262.2 127.03V128.58M263 127.36V129.04M263.8 119.4V114.2M265.4 119.73V118.88M265.4 127.49V130.03M265.8 119.95V117.99M265.8 126.66V127.83M266.2 120.01V118.41M266.6 126.06V131.17M267 120.2V116.86M267 127.28V130.13M267.4 127.4V128.64M267.8 120.04V118.89M268.2 127.23V129.51M269 119.94V118.13M269.8 119.91V118.93M269.8 126.94V128.31M270.6 127.39V132.59M271.4 119.96V118.05M272.2 126.92V127.78M273 120.51V119.58M273.4 127.77V129.15M273.8 119.51V117.9M274.2 120.15V116.96M275 127.51V129.2M275.8 119.11V116.28M276.6 120.43V118.89M277 126.71V129.54M277.4 119.34V118.2M278.2 127.73V130.08M278.6 127.25V128.82M279 127.52V128.55M280.2 126.92V128.37M280.6 119.87V116.51M281 119.55V118.63M281.4 119.58V118.09M281.8 120.18V119.03M282.2 119.85V118.55M283 127.01V128.62M283.4 119.95V114.55M283.4 126.58V129.13M283.8 119.92V119.09M283.8 127.67V129.08M284.2 119.82V118.52M284.2 127.37V128.28M285.4 127.01V129.32M285.8 119.91V116.96M286.6 126.76V127.97M287 126.67V127.92M287.4 127.11V129.15M287.8 119.76V118.3M288.6 119.7V117.54M288.6 126.29V130.12M289.8 119.87V118.55M289.8 127.58V129.84M290.2 127.01V133.49M290.6 120.61V119.05M290.6 126.52V130.15M291 120.1V118.94M291.4 127.55V129M291.8 120.19V115.98M291.8 126.99V128.98M292.2 119.7V118.33M292.2 126.94V127.83M292.6 120.28V118.73M292.6 126.88V129.56M293 120.19V118.73M293 127.08V128.41M293.4 127.02V130.79M293.8 119.46V118.31M293.8 126.5V128.25M294.2 119.86V118.51M294.2 126.87V127.73M294.6 119.84V118.73M295 120V118.62M297.4 119.45V118.2M297.4 127.06V127.99M297.8 119.28V118.37M297.8 127.37V128.18M298.2 127.71V128.53M299 127.31V128.55M300.6 120.06V114.93M300.6 127.21V135.48M301.4 119.87V118.95M301.8 120.28V118.39M301.8 126.98V134.56M303.4 119.69V112.86M303.8 126.96V128.8M304.2 119.81V118.4M305 120.44V117.86M305 126.6V128.63M305.4 120V118.04M305.8 119.76V114.78M305.8 127.15V131.72M306.2 127.11V128.81M306.6 126.53V127.49M307.4 119.85V117.09M307.8 119.67V117.71M308.6 119.92V118.68M308.6 127.44V128.27M309 119.34V118.42M309 126.97V129.77M309.8 126.88V128.66M311.4 120.14V118.34M311.8 119.83V118.82M311.8 126.77V128.14M312.2 119.84V115.7M313 120.05V114.33M313 127.58V129.36M313.4 126.58V127.47M313.8 126.59V133.03M315.4 127.17V132.26M315.8 120.13V118.44M316.2 120.1V118.82M316.6 119.64V118.51M316.6 127.46V131.12M317.4 126.71V134.58M317.8 119.76V118.67M318.2 119.7V118.26M318.2 127.47V128.71M318.6 119.6V118.59M319 126.71V127.66M320.6 127.2V128.93M321.4 119.75V118.65M322.2 127.36V128.39M322.6 127.49V129.04M323 119.91V118.03M323.8 127.45V133.78M324.2 120.1V119.23M324.2 127.33V128.49M324.6 119.85V119.04M325 126.77V128.95M325.4 119.92V118.78M325.4 127.45V128.67M325.8 119.32V116.8M326.6 120.12V117.63M327 126.8V128.46M327.4 120.04V116.69M327.4 126.71V132.34M328.2 119.82V118.5M328.6 120.41V118.84M329 119.43V117.61M329 127.01V129.05M329.8 127.42V129.74M330.6 120.07V116.98M330.6 127.44V129.26M331 127.43V129.4M332.2 119.98V116.83M333.4 120.7V117.82M333.8 120.1V118.52M333.8 127.4V129.23M334.2 126.53V127.39M334.6 127.28V128.88M335 127.05V130.95M336.2 120.23V115.67M336.6 120.13V116.42M336.6 127.74V132.27M337 127.21V128.6M337.4 120.12V118M337.4 127.11V131.04M337.8 119.59V118.48M338.2 119.88V117.83M338.2 127.42V129.42M338.6 119.77V117.36M339.4 119.44V118.42" stroke="#6c6c6c" stroke-width="0.42" fill="none"/>
<path d="M47.4 120.21V118.42M47.4 127.28V131.67M47.8 119.63V117.61M48.2 126.93V130.02M48.6 120.28V118.72M48.6 126.87V129.47M49 127.68V131.78M49.8 119.88V117.16M49.8 126.9V131.8M50.2 119.23V117.3M50.2 126.75V130.9M50.6 119.91V118.82M50.6 127.1V131.85M51 120.01V116.88M51 126.85V129.75M51.4 120.47V117.87M51.4 127.93V130.44M53 127.48V132.31M53.4 126.78V130.84M53.8 119.46V118.36M54.2 120.73V117.46M54.6 120.17V117.8M55.4 119.88V117.62M55.8 120.24V118.77M55.8 127.09V129.08M56.6 126.81V129.59M57 126.49V128.8M57.4 127.44V131.08M57.8 119.9V117.33M58.6 127.26V130.37M59.4 120.48V117.54M59.4 126.87V130.9M60.2 127.18V129.5M60.6 127.01V131.29M61 126.53V128.49M61.4 119.8V116.66M61.8 119.63V118.06M61.8 127.09V129.09M62.6 120.43V118.35M63 120.65V118.21M63.8 119.83V117.76M63.8 127.09V129.76M64.6 126.76V130.38M65.4 127.42V131.79M66.2 119.66V116.92M66.2 127.11V129.61M66.6 126.65V129.79M67.8 119.79V117.9M67.8 127.56V130.18M68.2 119.14V116.78M68.2 126.53V130.89M68.6 119.51V117.35M69.4 119.91V117.51M70.2 119.42V117.59M70.6 126.54V129.51M71 127.68V130.19M72.2 119.29V117.07M72.6 127.53V130.97M73 119.77V117.09M73 127.43V130.7M73.4 120.26V119.1M73.8 119.69V117.75M74.2 120.16V117.66M74.2 127.03V131.44M74.6 119.54V117.69M75 120.01V117.21M75.8 126.56V128.2M76.2 126.71V130.56M76.6 119.85V118.7M76.6 127.63V130.82M77 127.56V131.44M77.4 119.84V116.98M77.4 126.95V129.04M77.8 120.15V117.73M78.2 121.1V120.01M78.6 119.91V117.23M79 120.19V113.26M79.8 120.36V117.78M79.8 126.99V129.75M80.2 120.09V118.87M80.2 127.21V128.99M80.6 120.32V118.57M80.6 127.12V129.72M81 120.04V118.34M81.8 126.11V130.09M82.2 119.22V116.88M83 119.93V116.8M83 127.43V131.6M83.4 119.01V117.73M83.4 126.84V128.68M83.8 119.55V116.6M84.6 127.79V130.69M85 127.12V128.77M85.4 119.18V118.11M85.4 126.62V129.28M85.8 127.15V128.85M86.6 120.04V117.08M86.6 127.42V132.01M87 126.6V128.92M87.8 119.71V117.7M88.2 120.36V119.12M88.2 126.91V128.77M88.6 120.1V118.91M89 120.7V117.61M89 126.66V129.06M89.4 119.75V118.47M89.4 126.62V128.71M89.8 120.48V118.83M89.8 126.96V128.72M90.2 119.67V118.23M90.2 127.41V129.12M90.6 119.83V118.23M91 126.87V131.12M91.4 120.11V118.42M91.4 127.4V129.13M91.8 127.18V129.17M92.2 120.15V118.3M92.6 120.5V117.96M92.6 127.14V131.05M93 119.88V116.61M93.4 120.05V118.33M93.4 127.33V130.44M93.8 120.26V117.71M94.2 126.79V130.79M94.6 126.91V130.98M95.4 120.1V116.97M95.4 127.24V130.49M95.8 120.22V117.2M96.2 120.24V118.47M96.6 119.63V117.33M98.2 120.05V118.97M99 127.37V130.01M99.4 120.6V117.48M99.8 126.71V130.67M100.6 120.04V118.8M101 119.99V117.27M101 127.22V128.98M101.8 126.97V129.21M102.2 126.78V130.96M102.6 119.87V117.82M103 119.28V116.65M103.8 119.09V118.01M103.8 125.83V131.87M104.6 119.31V116.04M104.6 127.51V129.03M105 127.58V130.8M105.4 120.22V118.8M105.8 127.35V131.3M107 119.09V117.54M107.4 120.02V117.95M107.4 126.67V128.13M107.8 119.16V115.93M108.2 119.7V118.55M108.6 119.75V117.25M108.6 126.58V130.05M109.4 120.1V117.12M109.4 126.52V129.11M110.2 120.6V119.19M110.2 127.1V128.54M110.6 120.14V118.9M111.4 120.21V119.12M111.8 120.26V118.82M112.2 119.89V118.48M112.2 126.94V128.88M113 119.48V116.96M113.4 120.09V117.89M115 126.91V131.73M115.8 120.22V117.21M115.8 127.54V130.52M116.2 119.94V118.26M116.6 120.2V119.04M117 126.73V130M117.4 127.31V130.74M117.8 119.67V118.32M118.2 119.81V117.05M118.2 127.02V129.27M118.6 120.9V118.17M119 119.81V117.99M119 127.82V132.27M120.2 120.75V118.75M120.6 119.95V118.25M120.6 127.47V131.52M121 120.17V118.89M121 127.3V130.33M121.4 119.83V118.17M121.4 127.09V129.95M122.2 119.5V117.89M122.2 126.85V128.71M122.6 128.05V129.85M123 120.48V118.68M123.4 120.02V117.43M123.4 126.4V128.68M123.8 127.15V130.07M124.2 119.91V118.19M124.6 119.68V117.22M124.6 126.9V128.93M125 127.07V130.99M125.4 119.89V118.01M125.8 120.16V117.58M125.8 127.06V131.65M126.2 120.27V118.26M126.2 126.7V130.82M126.6 119.25V116.35M126.6 126.71V129.3M127.8 127.81V130.29M128.2 127.07V129.17M129.4 126.85V131.4M130.2 120.1V117.19M130.2 127.29V128.74M131.4 127.54V129.02M131.8 126.68V130.85M132.2 119.48V117.25M132.2 126.89V130.32M132.6 127.74V131.01M133 126.69V130.09M133.4 119.82V117.04M134.2 126.97V129.55M134.6 126.76V130.61M135.4 120.5V118.68M135.8 127.22V129.19M136.2 126.93V128.49M136.6 127V130.86M137 119.94V116.94M137 126.56V129.81M137.4 120.16V117.15M137.4 127.45V132.34M137.8 126.93V131.35M138.2 119.66V117.39M138.2 127.58V129.7M138.6 120.59V118.72M138.6 126.64V129.13M139 126.91V130.17M139.4 127.28V131.23M139.8 119.66V117.3M140.6 127.04V129.15M141.4 119.36V117.69M141.8 126.07V129.77M142.2 127.16V130.36M142.6 120.39V119.14M142.6 127.61V129.91M143 120.03V117.08M143 127.44V128.93M143.4 127.42V129.64M143.8 120.24V118.92M143.8 126.93V130.05M144.2 120.26V119.09M144.2 127.28V129.56M144.6 119.7V118.12M145 120.32V117.85M145 127.06V130.09M145.4 127.05V131.91M145.8 125.8V129.14M147 127.42V131.06M147.4 120.18V117.8M147.8 119.46V118.36M147.8 127.36V130.38M148.2 120.2V117.02M148.2 127.28V132.15M148.6 119.88V118.44M149 126.41V130.02M149.4 120.24V117.28M149.8 119.6V117.41M149.8 126.84V128.68M150.2 127.09V129.13M150.6 120.21V118.83M151 127.67V131.75M151.4 126.36V128.78M152.2 120.31V117.65M152.2 126.72V129.4M152.6 119.7V118.02M153 120.71V117.76M153.4 127.08V131.75M153.8 120V117.28M154.2 118.96V116.51M154.2 127.23V129.5M155 119.66V117.63M155.8 127.53V129.36M156.2 120.37V118.33M157 127.37V131.38M157.4 118.73V117.33M157.4 127.82V130.12M157.8 120.15V118.89M158.2 120.05V117.87M158.6 126.64V131.51M159 119.62V117.96M159 127.16V131.96M159.4 127.31V130.83M159.8 127.02V128.4M160.2 119.58V117.05M160.2 127.48V129.94M160.6 120V117.97M161 119.89V118.22M161 126.82V130.22M161.8 119.75V117.13M161.8 127.12V129.33M162.2 120.27V118.94M162.2 127.13V129.97M162.6 120.3V118.3M162.6 127.64V129.32M163 127.52V129.29M163.8 127.17V129.16M164.2 119.81V116.72M164.2 126.44V128.01M164.6 120.36V118.91M164.6 127.09V129.15M165 119.95V117.33M165 127.25V129.6M166.2 120.16V117.75M166.6 127.29V131.59M167 119.54V117.1M167.4 120.19V117.99M167.4 127.68V129.14M167.8 127.03V131.49M168.2 127.5V129.22M169 120.26V118.67M169.8 126.88V130.31M170.2 120.03V118.49M170.2 127.51V129.2M170.6 127.14V128.57M171 127.48V129.82M171.4 119.56V117.51M172.2 120.05V118.06M172.6 119.74V116.93M173.8 120.08V117.76M174.2 120.65V118.76M174.6 120.04V117.05M174.6 127.02V128.65M175.4 120.35V117.58M176.2 126.95V129.87M176.6 126.85V129.21M177.8 119.74V117.71M178.2 120.03V117.78M178.2 126.96V129.61M178.6 127.59V130.95M179.4 120.03V118.82M179.4 127.07V130.25M179.8 126.92V128.94M180.2 127V130.3M180.6 120V118.62M181.4 120.36V117.5M181.4 127.39V129.39M181.8 120.13V118.42M181.8 127.37V130.99M182.2 119.86V116.58M182.2 127.1V130.87M182.6 119.96V118.01M182.6 127.13V130.89M183 127.02V130.59M183.8 120.44V119.02M183.8 127.12V130.3M184.2 119.88V118.66M184.2 126.77V130.26M184.6 127.16V129.32M185 127.47V130.62M185.4 119.92V118.72M185.8 120.61V118.32M185.8 127.11V130.89M186.2 120.27V117.89M186.2 127.18V130.72M186.6 119.77V118.56M187 126.92V130M187.8 119.66V116.65M188.2 127.48V130.09M188.6 126.95V131M189 126.75V129.3M189.4 127.45V130.11M189.8 119.95V117.12M190.6 120.04V117.6M190.6 127.28V130.43M191 119.98V118.74M191.4 127.08V130.06M191.8 119.83V117.48M191.8 126.78V130.07M192.2 118.92V116.36M192.6 120.23V118.91M193.4 119.95V117.55M193.4 127.17V129.76M193.8 120.57V119.2M193.8 127.56V129.41M194.2 126.56V130.55M194.6 127.6V130.27M195 120.53V117.9M195.8 119.29V117.94M195.8 127.36V132.25M196.2 127.06V129.66M196.6 120.19V118.22M197.4 120.16V118.23M197.8 120.78V119.13M198.2 120.49V119.35M198.6 119.93V117.34M198.6 127.45V131.02M199 120.07V118.89M199 126.56V128.5M199.4 127.03V128.7M199.8 119.99V118.83M200.2 119.81V116.82M200.2 127.33V130.08M201 119.41V116.99M201 126.7V129.11M201.4 120.71V119.34M201.4 127.2V129.49M201.8 119.98V117.68M201.8 126.97V131.84M202.6 119.77V118.39M202.6 126.73V131.34M203 120.53V118.4M203 126.92V131.74M203.4 120.59V118.37M203.8 127.22V129.33M204.2 127.41V130.33M204.6 127.39V130.93M205 119.8V117.66M205 127.09V129.65M205.4 119.47V116.55M206.2 119.95V118.28M206.6 119.63V117.72M206.6 127.25V130.04M207 127.11V128.5M207.4 119.85V117.32M207.8 120.31V118.26M208.2 120.21V118.95M208.2 127.35V129.84M209.4 119.63V116.76M209.4 126.35V128.31M209.8 127.42V130.59M210.2 119.4V117.23M210.2 126.74V131.28M210.6 120.25V117.7M211.4 119.27V117.93M211.4 127.23V128.72M212.2 120.65V117.6M213 127.28V131.33M213.4 120.28V118.94M213.4 127.59V131.76M214.2 119.61V116.61M214.2 127.05V131.58M214.6 127.57V129.88M215 119.61V116.6M215.8 120.15V117.31M216.6 120.33V117.3M217 121.01V118.6M217 127.37V130.32M217.4 126.66V130.64M217.8 127.38V131.02M219 119.82V117.41M219.8 119.59V116.97M220.2 120.12V117.54M220.6 120.42V117.45M220.6 127.11V129.03M221 127.16V129.17M221.4 127.65V132.2M221.8 127.92V130.44M222.6 120.01V118.69M222.6 126.96V128.58M223 119.76V117.7M223.8 120.39V117.96M224.2 120.26V117.94M224.2 127.14V129.08M224.6 119.79V118.57M225 127.37V131.68M225.8 119.07V116.3M225.8 127.06V130.36M226.2 119.62V116.6M226.2 127.82V131.19M226.6 127.71V130.17M227 119.66V118.3M227.8 127.02V130.67M228.2 119.27V116.7M228.6 119.24V117.6M228.6 126.91V129.06M229 120.17V118.36M229.4 119.14V116.54M229.8 120.19V118.68M229.8 126.87V131.51M230.2 127.12V131.33M230.6 127.11V131.94M231 126.89V128.79M232.2 119.61V118.13M233 127.05V130.92M233.4 119.61V117.43M235.4 127.83V130.21M235.8 127.45V131.02M236.2 119.18V117.11M236.2 126.74V128.79M236.6 127.09V128.56M237 120.1V118.11M237.4 126.97V131.04M237.8 119.63V116.76M238.2 120.26V119.09M238.6 119.78V117.34M238.6 126.59V129.38M239 119.14V116.87M239.4 119.37V116.96M240.2 119.55V117.85M240.2 126.78V129.97M240.6 120.42V117.52M241 126.76V129.04M241.8 126.73V131.59M242.2 119.57V116.76M242.6 119.74V117.28M242.6 126.71V130.27M243 127.39V130.4M243.8 119.39V118.25M244.2 127.77V131.51M245 127.13V129.81M245.4 127.81V132.24M245.8 127.61V131.85M246.2 126.84V128.98M246.6 127.23V131.5M247 119.95V118.85M247 126.94V131.58M247.4 119.97V118.23M247.8 120.7V118.48M247.8 127.83V130.81M247.8 127.83V135.85M249.4 120.21V117.65M250.2 120.16V118.38M250.2 127.09V128.92M250.6 119.85V117.03M251 120.14V118.11M251.8 127.01V131.48M252.6 120.22V115.97M253 127.44V129.09M253.4 127.11V128.84M253.8 127.42V129.29M255 119.41V118.05M255 126.72V129.82M255.4 119.7V117.8M255.8 120.09V118.84M256.2 127.78V130M256.6 119.74V117.58M256.6 126.88V129.13M257 120.02V117.55M257 127V129.73M257.8 119.94V117.75M258.2 119.88V116.68M258.2 126.94V130.79M258.6 127.27V129.3M259.4 119.43V116.33M259.4 126.92V130.02M259.8 120.26V117.57M260.6 126.39V131.26M261 119.17V116.12M261.4 119.72V116.63M261.8 127.85V131.02M262.2 120.49V118.3M263.4 119.2V116.18M263.4 127.28V128.99M263.8 119.4V118.31M264.2 119.82V116.86M264.6 119.35V116.11M265 126.36V129.37M265.4 119.73V116.88M265.4 127.49V132.14M265.8 126.66V128.85M266.2 120.01V117.44M266.2 127.01V131.21M266.6 119.83V116.73M266.6 126.06V130.42M267 127.28V130.51M267.8 120.04V117.96M267.8 127.22V131.27M268.6 119.98V116.8M268.6 126.96V131.82M269 119.94V117.18M269 127.17V129.09M269.4 119.76V116.76M269.4 127.57V129.24M269.8 126.94V130.72M270.2 120.16V118.49M270.2 127.3V130.81M270.6 119.79V117.91M271.8 127.19V129.31M273 120.51V117.25M273 126.94V130.1M273.4 119.41V116.43M273.4 127.77V129.82M273.8 127.52V132.35M274.2 120.15V117.53M274.6 127.2V128.61M275 120.02V117.89M275.4 127.42V129.08M275.8 126.76V130.03M276.2 120.15V118.72M276.6 126.64V131.03M277.4 119.34V117.72M277.8 120.2V118.7M278.2 119.48V116.44M278.6 127.25V131.83M279 120.05V118.25M279 127.52V131.51M279.4 126.64V130.89M279.8 126.66V128.25M280.2 119.83V118.2M281 126.59V131.37M281.8 120.18V118.38M281.8 127.08V131.97M282.2 119.85V116.89M282.2 127.57V132.29M282.6 119.7V118.45M282.6 126.47V129.48M283.8 119.92V117.63M283.8 127.67V129.27M284.2 119.82V116.77M284.2 127.37V130.08M284.6 127.21V131.44M285 119.74V116.67M285 127.09V129.68M285.4 119.64V116.86M285.4 127.01V131.51M286.6 126.76V131.13M287 126.67V131.26M287.4 119.93V118.25M287.4 127.11V128.81M288.2 120.02V116.93M288.2 127.45V132.19M288.6 126.29V127.85M289 119.75V118.67M289 127.33V130.2M289.4 119.56V117.18M289.8 119.87V117.51M290.2 119.86V116.58M290.2 127.01V128.62M290.6 120.61V118.93M291 120.1V117.86M291.4 119.74V117M291.8 120.19V116.91M291.8 126.99V129.26M292.6 120.28V118.77M293.4 121.01V119.15M293.4 127.02V131.91M293.8 126.5V130.81M294.2 119.86V118.53M294.2 126.87V128.65M294.6 127.5V130.44M295 120V116.88M295 127.67V129.65M295.4 120.16V117.69M295.4 127.06V130.7M295.8 119.51V117.3M296.2 119.6V117.77M296.2 127.63V130.15M296.6 127.04V129.37M297 126.65V130.57M297.4 119.45V117.8M297.4 127.06V129.51M297.8 119.28V117.25M298.2 127.71V131.51M298.6 126.91V129.24M299 120.31V117.91M299.8 127.55V132.27M300.2 119.97V117.91M300.6 120.06V118.15M300.6 127.21V131.3M301.8 120.28V118.49M302.2 119.72V117.66M302.2 125.7V129.4M302.6 119.67V117.06M303 119.72V117.74M303.4 127.02V131.74M303.8 119.94V117.18M303.8 126.96V129.94M304.6 127.2V128.74M306.2 120.37V117.53M307 119.89V117.91M307 127.05V131.44M308.2 119.74V117.62M308.6 119.92V116.84M309 126.97V129.6M309.4 119.74V117.89M309.8 119.98V117.97M309.8 126.88V129.41M310.2 127.24V130.26M311 126.89V131.32M313.4 119.77V118.62M313.4 126.58V128.14M313.8 120.46V117.17M314.2 119.46V117.69M314.2 127.34V131.52M314.6 126.72V128.44M315 127.04V130.57M315.4 127.17V129.22M315.8 127.11V129.26M316.2 120.1V118.19M316.6 127.46V129.26M317 120.77V118.24M317 127.69V132M317.4 120.16V117.54M317.8 119.76V116.81M317.8 127V131.56M318.2 119.7V117.28M318.6 119.6V117.25M319 119.98V118.56M319.4 119.91V117.84M319.4 126.94V129.98M319.8 119.35V118.17M319.8 127.43V132.1M320.2 119.49V118.06M320.2 126.72V128.39M320.6 119.61V116.34M322.2 120.13V118.12M323 127.46V129.2M323.4 119.05V115.76M323.4 126.52V131M323.8 119.83V118.14M323.8 127.45V131.89M324.2 120.1V117.3M324.6 119.85V116.82M324.6 119.85V113.75M325 126.77V129.23M325.4 119.92V118.01M325.8 119.32V116.94M327 119.69V116.94M327.4 126.71V128.48M327.8 127.26V132.03M329 119.43V116.64M329 127.01V128.62M329.4 119.88V118.74M330.2 127.09V129.8M330.6 127.44V129.96M331 120.13V117.32M331.4 119.94V117.03M331.4 126.78V128.42M331.8 119.36V116.59M332.6 120.22V117.49M333 120.26V117.13M333 127.54V132.12M333.8 120.1V118.56M334.2 126.53V129.95M335.4 127V128.77M335.8 127.24V130.55M336.6 120.13V118.07M337 119.55V116.81M337.4 120.12V118.08M337.4 127.11V128.62M337.8 127.41V130.11M338.2 119.88V117.82M338.6 119.77V116.63M338.6 127.56V129.71M339.4 127.09V130.04" stroke="#464646" stroke-width="0.42" fill="none"/>
<path d="M47.8 126.26V129.11M48.2 120.15V118.82M49 120.34V118.9M49.4 119.86V117.88M49.4 127.29V130.28M51.8 119.38V116.99M51.8 126.03V127.48M52.2 119.56V117.18M52.2 127.11V129.2M52.6 119.49V117.97M52.6 126.15V128.59M53 120.26V118.98M53.4 118.88V117.41M53.8 127.69V130.28M54.2 126.88V131.73M54.6 127.5V130.33M55 119.36V117.46M55 127.16V129.11M55.4 127.53V131.66M56.2 120.12V118.26M56.2 125.96V127.46M56.6 119.81V117.96M57 119.58V118.07M57.4 120.24V118.41M57.8 127.29V132.03M58.2 120.23V118.86M58.2 127.09V131.92M58.6 120.06V118.67M59 119.71V117M59 127.16V130.79M59.8 119.7V116.95M59.8 127.83V130.31M60.2 120.07V118.66M60.6 119.64V118.04M61 119.81V118.47M61.4 126.85V131.68M62.2 120V117.3M62.2 127.02V130.11M62.6 126.9V130.54M63 127.07V130.23M63.4 120.48V119.08M63.4 126.66V130.73M64.2 120.49V117.33M64.2 126.5V129.53M64.6 120.07V118.75M65 120.63V117.54M65 126.8V131.11M65.4 119.39V117.46M65.8 120.5V118.73M65.8 127.27V129.38M66.6 120.37V118.41M67 119.71V118.45M67 126.93V129.25M67.4 120.27V118.53M67.4 127.39V131.19M68.6 126.92V128.34M69 119.8V118.7M69 127.13V131.77M69.4 127.22V129.64M69.8 119V116.97M69.8 127.09V131.49M70.2 127.34V130.01M70.6 119.61V116.89M71 119.81V116.67M71.4 119.99V117.15M71.4 126.65V128.83M71.8 119.57V117.96M71.8 127.11V128.92M72.2 127.28V131.5M72.6 120.02V117.36M73.4 127.42V130.02M73.8 127.57V129.68M74.6 127.37V130.73M75 127.67V130.7M75.4 119.94V117.79M75.4 126.8V128.4M75.8 120.08V118.18M76.2 119.52V116.76M77 119.56V116.4M77.8 127.18V130.02M78.2 127.27V128.89M78.6 127.49V128.95M79 120.19V117.77M79 126.37V128.08M79.4 119.95V118.02M79.4 126.88V131.69M81 126.97V129.01M81.4 120.87V119.45M81.4 127.2V128.92M81.8 120.46V117.56M82.2 128.26V131.05M82.6 120.02V118.73M82.6 127.4V132M83.8 127.25V130.49M84.2 119.72V117.33M84.2 127.88V131.81M84.6 119.61V117.18M85 119.95V117.63M85.8 120.2V118.86M86.2 120.21V117.97M86.2 126.98V129.73M87 119.77V118.4M87.4 119.9V117.69M87.4 127.02V128.42M87.8 127.2V128.68M88.6 127.5V130.88M90.6 126.98V129.76M91 119.48V117.85M91.8 119.88V118.75M92.2 126.89V129.99M93 127V131.08M93.8 127.15V130.49M94.2 119.88V118.29M94.6 119.68V117.87M95 120.05V117.04M95 126.93V130.33M95.8 127.24V131.51M96.2 126.77V130.67M96.6 127.02V130.68M97 120.08V117M97 127.21V131.65M97.4 120.4V118.7M97.4 127.51V131.44M97.8 119.72V118.17M97.8 127.19V129.49M98.2 127.84V132.52M98.6 119.65V117.13M98.6 127.1V130.69M99 119.97V117.04M99.4 126.97V128.73M99.8 119.97V117.85M100.2 119.52V117.52M100.2 127.13V129.54M100.6 127.28V130.81M101.4 120.35V119.01M101.4 127.15V131.38M101.8 119.35V116.82M102.2 119.54V117.46M102.6 126.98V129.74M103 127.27V129.84M103.4 120.36V117.97M103.4 127.46V131.97M103.8 125.83V128.26M104.2 119.57V118.47M104.2 127.33V130.49M105 119.64V117.4M105.4 127.24V129.88M105.8 120.14V117.7M106.2 120.27V118.74M106.2 126.92V129.48M106.6 120.14V118.66M106.6 127.06V129.7M107 127.29V128.85M107.8 119.16V115.64M107.8 126.79V129.35M108.2 127.17V130.24M109 119.68V116.73M109 127.11V128.5M109.8 119.58V117.83M109.8 127.17V130.14M110.6 126.88V131.05M111 120.38V118.28M111 126.73V128.72M111.4 126.9V130.1M111.8 126.23V130.01M112.6 120.69V119.59M112.6 127.14V131.17M113 127.55V131.43M113.4 126.9V130.35M113.8 119.9V117.71M113.8 127.03V130.12M114.2 119.81V117.86M114.2 127.63V130.79M114.6 120.03V116.98M114.6 127.76V129.4M115 119.6V117.9M115.4 120.25V119.15M115.4 127.49V131.15M116.2 127.29V131.91M116.6 126.71V129.27M116.6 126.71V132.26M117 119.49V118.24M117.4 119.18V116.74M117.8 127.99V130.51M118.6 127.69V130.09M119.4 120.32V117.63M119.4 126.61V128.25M119.8 120.24V117.39M119.8 126.86V130.51M120.2 127.67V132.55M121.8 119.56V116.36M121.8 127.33V130.86M122.6 119.59V117.49M123 126.65V129.9M123.8 119.84V118.64M124.2 127.65V129.36M125 119.89V116.78M125.4 126.7V130.65M127 120V118.31M127 126.53V130.73M127.4 120.45V117.64M127.4 126.88V129.5M127.8 119.49V117.44M128.2 119.8V117.97M128.6 119.97V118.27M128.6 127.17V130.71M129 120.34V119.15M129 127.95V130.15M129.4 120.14V117.2M129.8 119.82V117.84M129.8 126.71V130.11M130.6 120.32V118.01M130.6 126.62V130.87M131 120.06V118.14M131 127.22V129.71M131.4 120.65V119.11M131.8 120.07V117.43M132.6 119.59V116.91M133 119.85V118.17M133.4 126.83V128.42M133.8 120.15V118.92M133.8 127.18V130.85M134.2 120.05V117.32M134.6 120.59V117.74M135 120.23V117.67M135 127.71V131.56M135.4 126.87V128.81M135.8 119.6V116.42M136.2 119.73V117.83M136.6 120.18V116.97M137.8 120.01V117.78M139 120.36V118.33M139.4 119.28V117.74M139.8 127.13V129.83M140.2 119.91V118.46M140.2 126.84V128.6M140.6 120.18V118.93M141 119.88V116.85M141 126.59V128.86M141.4 127.11V131.1M141.8 120.24V118.99M142.2 119.82V116.92M143.4 120.31V117.61M144.6 126.94V130.32M145.4 119.99V117.19M145.8 119.41V117.61M146.2 119.75V117.71M146.2 127.45V130.29M146.2 127.45V135.43M146.6 119.77V117.31M146.6 127.27V131.65M147 120.1V117.87M147.4 126.73V131.55M148.6 126.23V130.55M149 119.49V116.93M149.4 127.11V129.62M150.2 119.43V117.6M150.6 126.85V130.42M151 120.27V117.4M151.4 119.65V117.31M151.8 120.33V118.41M151.8 126.57V130.14M152.6 126.57V128.67M153 126.87V130.12M153.4 119.89V118.54M153.8 126.58V130.12M154.6 120.16V117.24M154.6 127.6V129.5M155 127.51V130.07M155.4 120.09V118.82M155.4 127.87V130.04M155.8 119.23V116.85M156.2 127.08V130.23M156.6 120.49V117.59M156.6 127.78V130.39M157 120.67V117.76M157.8 127.02V131.63M158.2 126.28V128.89M158.6 118.71V117.64M159.4 119.88V117.63M159.8 120.48V118.99M160.6 126.65V129.34M161.4 120.06V117.52M161.4 127.48V131.2M163 119.37V116.16M163.4 120.36V118.2M163.4 126.79V129.39M163.8 119.62V116.49M165.4 120.15V118.62M165.4 126.43V131.29M165.8 120.23V119.16M165.8 127.7V129.37M166.2 127.87V131.49M166.6 119.7V118.3M167 127.45V131.48M167.8 120.22V116.96M168.2 120.06V117.82M168.6 119.84V116.68M168.6 127.25V130.15M169 126.51V129.88M169.4 119.91V116.94M169.4 126.75V128.41M169.8 119.37V116.12M170.6 120.12V117.95M171 120.23V117.39M171.4 126.92V130.82M171.8 119.62V117.78M171.8 126.61V131.14M172.2 127.9V130.44M172.6 128.15V131.92M173 119.89V118.03M173 127.25V128.71M173.4 120.3V118.63M173.4 127.02V131.29M173.8 127.56V131.46M174.2 126.67V129.77M175 120.6V117.63M175 126.55V129.32M175.4 127.29V129.04M175.8 120.94V118.52M175.8 127.2V129.15M176.2 119.93V116.95M176.6 119.89V118.02M177 120.45V117.3M177 126.52V129.13M177.4 119.72V117.03M177.4 126.78V128.67M177.8 127.57V130.64M178.6 120.08V118.49M179 119.37V117.94M179 126.77V128.7M179.8 119.81V117.38M180.2 119.92V116.92M180.6 127.4V129.47M181 119.86V118.04M181 126.31V131.1M183 120.35V117.79M183.4 120.25V118.82M183.4 127.37V129.11M184.6 119.99V117.69M185 120.74V117.78M185.4 127.24V129.63M186.6 126.91V129.66M187 119.38V116.64M187.4 120.19V117.16M187.4 120.19V116.7M187.4 126.38V128.69M187.8 127.03V129.14M188.2 119.66V117.79M188.6 119.25V116.79M189 120.41V117.6M189.4 119.98V118.56M189.8 127.16V130.67M190.2 120.1V117.89M190.2 127.16V131.84M191 127.37V131.57M191.4 120.15V117.1M192.2 127.77V129.36M192.6 127.12V131.5M193 120.11V118.22M193 126.8V129.52M194.2 119.39V117.64M194.6 118.79V115.75M195 127.05V131.26M195.4 120.11V118.58M195.4 127.87V132.72M196.2 119.78V118.08M196.6 127.58V129.5M197 119.46V118.37M197 127.59V129.18M197.4 126.97V131.28M197.8 127.19V128.85M198.2 126.9V129.96M199.4 119.57V117M199.4 127.03V134.65M199.8 126.29V130.93M200.6 119.55V118.16M200.6 126.25V129.84M202.2 119.54V118.13M202.2 126.93V130.5M203.4 126.43V127.9M203.8 119.7V117.56M204.2 120.02V117.59M204.6 120.3V118.47M205.4 127.57V129.31M205.8 119.55V118.36M205.8 127.28V129.56M206.2 127.47V128.94M207 119.43V116.59M207.4 126.81V130.02M207.8 126.1V130.76M208.6 119.85V117.66M208.6 127.06V131.17M209 120.7V117.82M209 127.86V130.55M209.8 119.91V117.7M210.6 127.1V130.92M211 119.89V117.58M211 126.76V128.91M211.8 119.61V117.91M211.8 127.09V129.01M212.2 127.44V131.44M212.6 120.23V117.63M212.6 127.16V131.63M213 119.98V117.73M213.8 119.31V116.17M213.8 127.3V130.62M214.6 119.41V116.27M215 127.06V130.13M215.4 119.79V117.07M215.4 127.26V130.43M215.8 126.98V129.57M216.2 120.34V117.27M216.2 126.85V130.21M216.6 125.96V129.94M217.4 119.74V116.8M217.8 119.93V116.94M218.2 120.14V117.14M218.2 127.79V131.5M218.6 119.61V117.24M218.6 126.6V131.24M219 127.44V132.15M219.4 120.1V118.29M219.4 127.07V130.03M219.8 127.28V129.98M220.2 126.65V130.93M221 119.49V116.96M221.4 119.03V116.43M221.8 119.97V116.89M222.2 119.52V117.8M222.2 127.22V130.03M223 127.95V129.57M223.4 120.06V116.89M223.4 127.06V130.95M223.8 127.08V129.77M224.6 127.28V129.62M225 119.47V116.61M225.4 118.95V116.65M225.4 126.89V130.86M226.6 119.97V116.75M227 127.27V129.98M227.4 119.7V117.71M227.4 127.21V130.98M227.8 119.3V116.52M228.2 127.5V129.76M229 127.15V131.42M229.4 126.93V130.94M230.2 119.57V117.33M230.6 120.14V118.55M231 120.02V117.19M231.4 120.22V117.79M231.4 127.08V131.05M231.8 120.39V117.66M231.8 127.13V131.32M232.2 126.93V130.54M232.6 119.53V118.29M232.6 126.86V128.93M233 119.74V116.9M233.4 127.37V129.01M233.8 120.17V117.14M233.8 127.53V131.21M234.2 119.87V117.51M234.2 127.18V129.76M234.6 119.91V117.59M234.6 127V131.29M235 120.07V118.54M235 127.09V131.12M235.4 119.72V116.57M235.8 120.34V117.36M236.6 120V118.33M237 126.91V131.52M237.4 119.6V118.38M237.8 126.47V130.98M238.2 127.12V129.71M239 126.88V130.64M239.4 127.68V132M239.8 120.3V117.9M239.8 127.49V132.21M240.6 126.71V131.39M241 120.45V117.61M241.4 119.82V117M241.4 126.39V129.39M241.8 120.12V118.1M242.2 127V130.77M243 119.62V116.35M243.4 120.13V118.03M243.4 127.09V131.29M243.8 126.9V131.63M244.2 119.85V117.86M244.6 119.92V116.96M244.6 127.38V131.23M245 120.11V118.5M245.4 119.05V116.66M245.8 119.19V117.64M246.2 119.55V117.74M246.6 119.81V118.16M247.4 126.56V130.57M248.2 120.16V118.81M248.2 127.68V130.98M248.6 120.13V118.43M248.6 126.62V130.37M249 119.7V116.71M249 127.29V132.06M249.4 126.48V129.4M249.8 120.17V116.99M249.8 127.52V132.42M250.6 127V131.56M251 127.59V129.42M251.4 120.5V119.37M251.4 127.11V128.99M251.8 119.58V116.94M252.2 119.04V115.74M252.2 127.46V131.12M252.6 120.22V117.35M252.6 126.99V130.38M253 120.19V117.95M253.4 119.8V117.95M253.8 119.72V117.64M254.2 120.99V118.03M254.2 127.35V129.97M254.6 119.71V117.31M254.6 127.41V130.17M255.4 127.83V131.7M255.8 127.05V131.59M256.2 119.65V117.19M257.4 119.72V117.24M257.4 127.01V131.16M257.8 127.55V130.44M258.6 119.47V117.17M259 119.92V116.63M259 126.51V129.27M259.8 127.19V130.86M260.2 119.52V117.55M260.2 127.07V131.52M260.6 119.8V118.64M261 127.3V131.32M261.4 126.74V128.12M261.8 119.4V117.66M262.2 127.03V128.85M262.6 119.84V117.39M262.6 127.98V132.51M263 120.1V117.1M263 127.36V129.8M263.8 126.92V131.75M264.2 127.06V129.1M264.6 127.28V130.31M265 120.35V118.71M265.8 119.95V118.79M267 120.2V117.42M267.4 119.62V117.76M267.4 127.4V129.87M268.2 120.37V117.76M268.2 127.23V131.51M269.8 119.91V117.4M270.6 127.39V131.77M271 119.23V116.27M271 127.02V130.69M271.4 119.96V118.02M271.4 127.2V131.06M271.8 119.83V118.49M272.2 120.08V118.54M272.2 126.92V130.66M272.6 119.91V116.62M272.6 128.05V130.73M273.8 119.51V117.94M274.2 126.32V129.84M274.6 119.48V116.79M275 127.51V130.29M275.4 119.88V118.3M275.8 119.11V115.98M276.2 127.21V131.37M276.6 120.43V117.88M277 119.97V117.36M277 126.71V130.14M277.4 127.01V130.44M277.8 127.18V130.35M278.2 127.73V131.29M278.6 119.84V116.77M279.4 119.58V116.43M279.8 119.22V117.1M280.2 126.92V131.71M280.6 119.87V117.99M280.6 127.79V129.91M281 119.55V116.55M281.4 119.58V116.73M281.4 126.49V130.97M283 119.65V116.44M283 127.01V128.58M283.4 119.95V118.58M283.4 126.58V131.45M284.6 119.34V116.71M285.8 119.91V118M285.8 127.16V130.92M286.2 120.34V118.49M286.2 126.85V129.39M286.6 120.26V117.04M287 120.14V117.3M287.8 119.76V116.64M287.8 126.8V131.04M288.6 119.7V116.74M289.4 127.31V129.3M289.8 127.58V130.62M290.6 126.52V129.6M291 126.75V130.33M291.4 127.55V129.8M292.2 119.7V117.32M292.2 126.94V128.43M292.6 126.88V130.78M293 120.19V119.06M293 127.08V128.62M293.8 119.46V118.04M294.6 119.84V117.8M295.8 126.9V131.37M296.6 120V118.89M297 120.26V118.23M297.8 127.37V129.66M298.2 120.33V118.02M298.6 120.21V117.05M299 127.31V131.81M299.4 119.51V117.2M299.4 126.98V131.85M299.8 119.81V116.87M300.2 127.2V128.87M301 119.84V118.21M301 126.72V129.78M301.4 119.87V118.78M301.4 126.98V130.6M301.8 126.98V130.45M302.6 127.44V128.94M303 127.1V129.28M303.4 119.69V116.49M304.2 119.81V116.53M304.2 127.11V131.18M304.6 119.72V118.14M305 120.44V119.25M305 126.6V131.15M305.4 120V118.58M305.4 127.15V130.09M305.8 119.76V118.04M305.8 127.15V129.24M306.2 127.11V131.57M306.6 119.67V118.58M306.6 126.53V131.38M307.4 119.85V117.43M307.4 126.6V129.5M307.8 119.67V117.57M307.8 127.24V132.1M308.2 127.62V131.7M308.6 127.44V129.67M309 119.34V116.41M309.4 126.89V128.73M310.2 119.99V118.14M310.6 120V118.86M310.6 126.84V129.64M311 120.78V118.06M311.4 120.14V117.99M311.4 126.13V127.73M311.8 119.83V118.14M311.8 126.77V130.52M312.2 119.84V117.66M312.2 126.8V131.42M312.6 119.89V117.89M312.6 126.89V128.66M313 120.05V118.13M313 127.58V129.59M313.8 126.59V131.13M314.6 120.13V118.36M315 120.08V118.77M315.4 119.45V116.37M315.8 120.13V116.9M316.2 126.8V128.8M316.6 119.64V116.46M317.4 126.71V130.77M318.2 127.47V130.65M318.6 127.02V129.56M319 126.71V128.69M320.6 127.2V130.14M321 119.73V117.82M321 127.25V130.21M321.4 119.75V117.36M321.4 126.85V129.31M321.8 119.63V117.57M321.8 127.32V129.12M322.2 127.36V131.12M322.6 120.25V118.58M322.6 127.49V129.47M323 119.91V117.46M324.2 127.33V130.23M324.6 127.48V131M325 119.99V118.86M325.4 127.45V130.35M325.8 127.25V132.08M326.2 118.92V117.01M326.2 126.65V130.66M326.6 120.12V117.94M326.6 127.6V129.19M327 126.8V128.39M327.4 120.04V118.31M327.8 119.77V116.99M328.2 119.82V118.31M328.2 126.87V129.73M328.6 120.41V118.22M328.6 127.24V130.41M329.4 127.21V131.27M329.8 119.47V117.19M329.8 127.42V130M330.2 119.91V118.25M330.6 120.07V117.18M331 127.43V130.61M331.8 127.44V129.67M332.2 119.98V117.31M332.2 127.34V128.75M332.6 127.16V131.58M333.4 120.7V118.72M333.4 127.75V131.98M333.8 127.4V130.62M334.2 119.5V118.34M334.6 119.69V118.48M334.6 127.28V129.63M335 119.92V117.74M335 127.05V129.99M335.4 120.28V119.17M335.8 119.45V117.32M336.2 120.23V118.15M336.2 126.98V130.8M336.6 127.74V131.21M337 127.21V128.61M337.8 119.59V118M338.2 127.42V131.42M339 119.97V118.32M339 127.35V131.04M339.4 119.44V116.86" stroke="#262626" stroke-width="0.42" fill="none"/>
<path d="M47.4 119.71L47.8 119.13L48.2 119.65L48.6 119.78L49 119.84L49.4 119.36L49.8 119.38L50.2 118.73L50.6 119.41L51 119.51L51.4 119.97L51.8 118.88L52.2 119.06L52.6 118.99L53 119.76L53.4 118.38L53.8 118.96L54.2 120.23L54.6 119.67L55 118.86L55.4 119.38L55.8 119.74L56.2 119.62L56.6 119.31L57 119.08L57.4 119.74L57.8 119.4L58.2 119.73L58.6 119.56L59 119.21L59.4 119.98L59.8 119.2L60.2 119.57L60.6 119.14L61 119.31L61.4 119.3L61.8 119.13L62.2 119.5L62.6 119.93L63 120.15L63.4 119.98L63.8 119.33L64.2 119.99L64.6 119.57L65 120.13L65.4 118.89L65.8 120L66.2 119.16L66.6 119.87L67 119.21L67.4 119.77L67.8 119.29L68.2 118.64L68.6 119.01L69 119.3L69.4 119.41L69.8 118.5L70.2 118.92L70.6 119.11L71 119.31L71.4 119.49L71.8 119.07L72.2 118.79L72.6 119.52L73 119.27L73.4 119.76L73.8 119.19L74.2 119.66L74.6 119.04L75 119.51L75.4 119.44L75.8 119.58L76.2 119.02L76.6 119.35L77 119.06L77.4 119.34L77.8 119.65L78.2 120.6L78.6 119.41L79 119.69L79.4 119.45L79.8 119.86L80.2 119.59L80.6 119.82L81 119.54L81.4 120.37L81.8 119.96L82.2 118.72L82.6 119.52L83 119.43L83.4 118.51L83.8 119.05L84.2 119.22L84.6 119.11L85 119.45L85.4 118.68L85.8 119.7L86.2 119.71L86.6 119.54L87 119.27L87.4 119.4L87.8 119.21L88.2 119.86L88.6 119.6L89 120.2L89.4 119.25L89.8 119.98L90.2 119.17L90.6 119.33L91 118.98L91.4 119.61L91.8 119.38L92.2 119.65L92.6 120L93 119.38L93.4 119.55L93.8 119.76L94.2 119.38L94.6 119.18L95 119.55L95.4 119.6L95.8 119.72L96.2 119.74L96.6 119.13L97 119.58L97.4 119.9L97.8 119.22L98.2 119.55L98.6 119.15L99 119.47L99.4 120.1L99.8 119.47L100.2 119.02L100.6 119.54L101 119.49L101.4 119.85L101.8 118.85L102.2 119.04L102.6 119.37L103 118.78L103.4 119.86L103.8 118.59L104.2 119.07L104.6 118.81L105 119.14L105.4 119.72L105.8 119.64L106.2 119.77L106.6 119.64L107 118.59L107.4 119.52L107.8 118.66L108.2 119.2L108.6 119.25L109 119.18L109.4 119.6L109.8 119.08L110.2 120.1L110.6 119.64L111 119.88L111.4 119.71L111.8 119.76L112.2 119.39L112.6 120.19L113 118.98L113.4 119.59L113.8 119.4L114.2 119.31L114.6 119.53L115 119.1L115.4 119.75L115.8 119.72L116.2 119.44L116.6 119.7L117 118.99L117.4 118.68L117.8 119.17L118.2 119.31L118.6 120.4L119 119.31L119.4 119.82L119.8 119.74L120.2 120.25L120.6 119.45L121 119.67L121.4 119.33L121.8 119.06L122.2 119L122.6 119.09L123 119.98L123.4 119.52L123.8 119.34L124.2 119.41L124.6 119.18L125 119.39L125.4 119.39L125.8 119.66L126.2 119.77L126.6 118.75L127 119.5L127.4 119.95L127.8 118.99L128.2 119.3L128.6 119.47L129 119.84L129.4 119.64L129.8 119.32L130.2 119.6L130.6 119.82L131 119.56L131.4 120.15L131.8 119.57L132.2 118.98L132.6 119.09L133 119.35L133.4 119.32L133.8 119.65L134.2 119.55L134.6 120.09L135 119.73L135.4 120L135.8 119.1L136.2 119.23L136.6 119.68L137 119.44L137.4 119.66L137.8 119.51L138.2 119.16L138.6 120.09L139 119.86L139.4 118.78L139.8 119.16L140.2 119.41L140.6 119.68L141 119.38L141.4 118.86L141.8 119.74L142.2 119.32L142.6 119.89L143 119.53L143.4 119.81L143.8 119.74L144.2 119.76L144.6 119.2L145 119.82L145.4 119.49L145.8 118.91L146.2 119.25L146.6 119.27L147 119.6L147.4 119.68L147.8 118.96L148.2 119.7L148.6 119.38L149 118.99L149.4 119.74L149.8 119.1L150.2 118.93L150.6 119.71L151 119.77L151.4 119.15L151.8 119.83L152.2 119.81L152.6 119.2L153 120.21L153.4 119.39L153.8 119.5L154.2 118.46L154.6 119.66L155 119.16L155.4 119.59L155.8 118.73L156.2 119.87L156.6 119.99L157 120.17L157.4 118.23L157.8 119.65L158.2 119.55L158.6 118.21L159 119.12L159.4 119.38L159.8 119.98L160.2 119.08L160.6 119.5L161 119.39L161.4 119.56L161.8 119.25L162.2 119.77L162.6 119.8L163 118.87L163.4 119.86L163.8 119.12L164.2 119.31L164.6 119.86L165 119.45L165.4 119.65L165.8 119.73L166.2 119.66L166.6 119.2L167 119.04L167.4 119.69L167.8 119.72L168.2 119.56L168.6 119.34L169 119.76L169.4 119.41L169.8 118.87L170.2 119.53L170.6 119.62L171 119.73L171.4 119.06L171.8 119.12L172.2 119.55L172.6 119.24L173 119.39L173.4 119.8L173.8 119.58L174.2 120.15L174.6 119.54L175 120.1L175.4 119.85L175.8 120.44L176.2 119.43L176.6 119.39L177 119.95L177.4 119.22L177.8 119.24L178.2 119.53L178.6 119.58L179 118.87L179.4 119.53L179.8 119.31L180.2 119.42L180.6 119.5L181 119.36L181.4 119.86L181.8 119.63L182.2 119.36L182.6 119.46L183 119.85L183.4 119.75L183.8 119.94L184.2 119.38L184.6 119.49L185 120.24L185.4 119.42L185.8 120.11L186.2 119.77L186.6 119.27L187 118.88L187.4 119.69L187.8 119.16L188.2 119.16L188.6 118.75L189 119.91L189.4 119.48L189.8 119.45L190.2 119.6L190.6 119.54L191 119.48L191.4 119.65L191.8 119.33L192.2 118.42L192.6 119.73L193 119.61L193.4 119.45L193.8 120.07L194.2 118.89L194.6 118.29L195 120.03L195.4 119.61L195.8 118.79L196.2 119.28L196.6 119.69L197 118.96L197.4 119.66L197.8 120.28L198.2 119.99L198.6 119.43L199 119.57L199.4 119.07L199.8 119.49L200.2 119.31L200.6 119.05L201 118.91L201.4 120.21L201.8 119.48L202.2 119.04L202.6 119.27L203 120.03L203.4 120.09L203.8 119.2L204.2 119.52L204.6 119.8L205 119.3L205.4 118.97L205.8 119.05L206.2 119.45L206.6 119.13L207 118.93L207.4 119.35L207.8 119.81L208.2 119.71L208.6 119.35L209 120.2L209.4 119.13L209.8 119.41L210.2 118.9L210.6 119.75L211 119.39L211.4 118.77L211.8 119.11L212.2 120.15L212.6 119.73L213 119.48L213.4 119.78L213.8 118.81L214.2 119.11L214.6 118.91L215 119.11L215.4 119.29L215.8 119.65L216.2 119.84L216.6 119.83L217 120.51L217.4 119.24L217.8 119.43L218.2 119.64L218.6 119.11L219 119.32L219.4 119.6L219.8 119.09L220.2 119.62L220.6 119.92L221 118.99L221.4 118.53L221.8 119.47L222.2 119.02L222.6 119.51L223 119.26L223.4 119.56L223.8 119.89L224.2 119.76L224.6 119.29L225 118.97L225.4 118.45L225.8 118.57L226.2 119.12L226.6 119.47L227 119.16L227.4 119.2L227.8 118.8L228.2 118.77L228.6 118.74L229 119.67L229.4 118.64L229.8 119.69L230.2 119.07L230.6 119.64L231 119.52L231.4 119.72L231.8 119.89L232.2 119.11L232.6 119.03L233 119.24L233.4 119.11L233.8 119.67L234.2 119.37L234.6 119.41L235 119.57L235.4 119.22L235.8 119.84L236.2 118.68L236.6 119.5L237 119.6L237.4 119.1L237.8 119.13L238.2 119.76L238.6 119.28L239 118.64L239.4 118.87L239.8 119.8L240.2 119.05L240.6 119.92L241 119.95L241.4 119.32L241.8 119.62L242.2 119.07L242.6 119.24L243 119.12L243.4 119.63L243.8 118.89L244.2 119.35L244.6 119.42L245 119.61L245.4 118.55L245.8 118.69L246.2 119.05L246.6 119.31L247 119.45L247.4 119.47L247.8 120.2L248.2 119.66L248.6 119.63L249 119.2L249.4 119.71L249.8 119.67L250.2 119.66L250.6 119.35L251 119.64L251.4 120L251.8 119.08L252.2 118.54L252.6 119.72L253 119.69L253.4 119.3L253.8 119.22L254.2 120.49L254.6 119.21L255 118.91L255.4 119.2L255.8 119.59L256.2 119.15L256.6 119.24L257 119.52L257.4 119.22L257.8 119.44L258.2 119.38L258.6 118.97L259 119.42L259.4 118.93L259.8 119.76L260.2 119.02L260.6 119.3L261 118.67L261.4 119.22L261.8 118.9L262.2 119.99L262.6 119.34L263 119.6L263.4 118.7L263.8 118.9L264.2 119.32L264.6 118.85L265 119.85L265.4 119.23L265.8 119.45L266.2 119.51L266.6 119.33L267 119.7L267.4 119.12L267.8 119.54L268.2 119.87L268.6 119.48L269 119.44L269.4 119.26L269.8 119.41L270.2 119.66L270.6 119.29L271 118.73L271.4 119.46L271.8 119.33L272.2 119.58L272.6 119.41L273 120.01L273.4 118.91L273.8 119.01L274.2 119.65L274.6 118.98L275 119.52L275.4 119.38L275.8 118.61L276.2 119.65L276.6 119.93L277 119.47L277.4 118.84L277.8 119.7L278.2 118.98L278.6 119.34L279 119.55L279.4 119.08L279.8 118.72L280.2 119.33L280.6 119.37L281 119.05L281.4 119.08L281.8 119.68L282.2 119.35L282.6 119.2L283 119.15L283.4 119.45L283.8 119.42L284.2 119.32L284.6 118.84L285 119.24L285.4 119.14L285.8 119.41L286.2 119.84L286.6 119.76L287 119.64L287.4 119.43L287.8 119.26L288.2 119.52L288.6 119.2L289 119.25L289.4 119.06L289.8 119.37L290.2 119.36L290.6 120.11L291 119.6L291.4 119.24L291.8 119.69L292.2 119.2L292.6 119.78L293 119.69L293.4 120.51L293.8 118.96L294.2 119.36L294.6 119.34L295 119.5L295.4 119.66L295.8 119.01L296.2 119.1L296.6 119.5L297 119.76L297.4 118.95L297.8 118.78L298.2 119.83L298.6 119.71L299 119.81L299.4 119.01L299.8 119.31L300.2 119.47L300.6 119.56L301 119.34L301.4 119.37L301.8 119.78L302.2 119.22L302.6 119.17L303 119.22L303.4 119.19L303.8 119.44L304.2 119.31L304.6 119.22L305 119.94L305.4 119.5L305.8 119.26L306.2 119.87L306.6 119.17L307 119.39L307.4 119.35L307.8 119.17L308.2 119.24L308.6 119.42L309 118.84L309.4 119.24L309.8 119.48L310.2 119.49L310.6 119.5L311 120.28L311.4 119.64L311.8 119.33L312.2 119.34L312.6 119.39L313 119.55L313.4 119.27L313.8 119.96L314.2 118.96L314.6 119.63L315 119.58L315.4 118.95L315.8 119.63L316.2 119.6L316.6 119.14L317 120.27L317.4 119.66L317.8 119.26L318.2 119.2L318.6 119.1L319 119.48L319.4 119.41L319.8 118.85L320.2 118.99L320.6 119.11L321 119.23L321.4 119.25L321.8 119.13L322.2 119.63L322.6 119.75L323 119.41L323.4 118.55L323.8 119.33L324.2 119.6L324.6 119.35L325 119.49L325.4 119.42L325.8 118.82L326.2 118.42L326.6 119.62L327 119.19L327.4 119.54L327.8 119.27L328.2 119.32L328.6 119.91L329 118.93L329.4 119.38L329.8 118.97L330.2 119.41L330.6 119.57L331 119.63L331.4 119.44L331.8 118.86L332.2 119.48L332.6 119.72L333 119.76L333.4 120.2L333.8 119.6L334.2 119L334.6 119.19L335 119.42L335.4 119.78L335.8 118.95L336.2 119.73L336.6 119.63L337 119.05L337.4 119.62L337.8 119.09L338.2 119.38L338.6 119.27L339 119.47L339.4 118.94L339.4 127.59L339 127.85L338.6 128.06L338.2 127.92L337.8 127.91L337.4 127.61L337 127.71L336.6 128.24L336.2 127.48L335.8 127.74L335.4 127.5L335 127.55L334.6 127.78L334.2 127.03L333.8 127.9L333.4 128.25L333 128.04L332.6 127.66L332.2 127.84L331.8 127.94L331.4 127.28L331 127.93L330.6 127.94L330.2 127.59L329.8 127.92L329.4 127.71L329 127.51L328.6 127.74L328.2 127.37L327.8 127.76L327.4 127.21L327 127.3L326.6 128.1L326.2 127.15L325.8 127.75L325.4 127.95L325 127.27L324.6 127.98L324.2 127.83L323.8 127.95L323.4 127.02L323 127.96L322.6 127.99L322.2 127.86L321.8 127.82L321.4 127.35L321 127.75L320.6 127.7L320.2 127.22L319.8 127.93L319.4 127.44L319 127.21L318.6 127.52L318.2 127.97L317.8 127.5L317.4 127.21L317 128.19L316.6 127.96L316.2 127.3L315.8 127.61L315.4 127.67L315 127.54L314.6 127.22L314.2 127.84L313.8 127.09L313.4 127.08L313 128.08L312.6 127.39L312.2 127.3L311.8 127.27L311.4 126.63L311 127.39L310.6 127.34L310.2 127.74L309.8 127.38L309.4 127.39L309 127.47L308.6 127.94L308.2 128.12L307.8 127.74L307.4 127.1L307 127.55L306.6 127.03L306.2 127.61L305.8 127.65L305.4 127.65L305 127.1L304.6 127.7L304.2 127.61L303.8 127.46L303.4 127.52L303 127.6L302.6 127.94L302.2 126.2L301.8 127.48L301.4 127.48L301 127.22L300.6 127.71L300.2 127.7L299.8 128.05L299.4 127.48L299 127.81L298.6 127.41L298.2 128.21L297.8 127.87L297.4 127.56L297 127.15L296.6 127.54L296.2 128.13L295.8 127.4L295.4 127.56L295 128.17L294.6 128L294.2 127.37L293.8 127L293.4 127.52L293 127.58L292.6 127.38L292.2 127.44L291.8 127.49L291.4 128.05L291 127.25L290.6 127.02L290.2 127.51L289.8 128.08L289.4 127.81L289 127.83L288.6 126.79L288.2 127.95L287.8 127.3L287.4 127.61L287 127.17L286.6 127.26L286.2 127.35L285.8 127.66L285.4 127.51L285 127.59L284.6 127.71L284.2 127.87L283.8 128.17L283.4 127.08L283 127.51L282.6 126.97L282.2 128.07L281.8 127.58L281.4 126.99L281 127.09L280.6 128.29L280.2 127.42L279.8 127.16L279.4 127.14L279 128.02L278.6 127.75L278.2 128.23L277.8 127.68L277.4 127.51L277 127.21L276.6 127.14L276.2 127.71L275.8 127.26L275.4 127.92L275 128.01L274.6 127.7L274.2 126.82L273.8 128.02L273.4 128.27L273 127.44L272.6 128.55L272.2 127.42L271.8 127.69L271.4 127.7L271 127.52L270.6 127.89L270.2 127.8L269.8 127.44L269.4 128.07L269 127.67L268.6 127.46L268.2 127.73L267.8 127.72L267.4 127.9L267 127.78L266.6 126.56L266.2 127.51L265.8 127.16L265.4 127.99L265 126.86L264.6 127.78L264.2 127.56L263.8 127.42L263.4 127.78L263 127.86L262.6 128.48L262.2 127.53L261.8 128.35L261.4 127.24L261 127.8L260.6 126.89L260.2 127.57L259.8 127.69L259.4 127.42L259 127.01L258.6 127.77L258.2 127.44L257.8 128.05L257.4 127.51L257 127.5L256.6 127.38L256.2 128.28L255.8 127.55L255.4 128.33L255 127.22L254.6 127.91L254.2 127.85L253.8 127.92L253.4 127.61L253 127.94L252.6 127.49L252.2 127.96L251.8 127.51L251.4 127.61L251 128.09L250.6 127.5L250.2 127.59L249.8 128.02L249.4 126.98L249 127.79L248.6 127.12L248.2 128.18L247.8 128.33L247.4 127.06L247 127.44L246.6 127.73L246.2 127.34L245.8 128.11L245.4 128.31L245 127.63L244.6 127.88L244.2 128.27L243.8 127.4L243.4 127.59L243 127.89L242.6 127.21L242.2 127.5L241.8 127.23L241.4 126.89L241 127.26L240.6 127.21L240.2 127.28L239.8 127.99L239.4 128.18L239 127.38L238.6 127.09L238.2 127.62L237.8 126.97L237.4 127.47L237 127.41L236.6 127.59L236.2 127.24L235.8 127.95L235.4 128.33L235 127.59L234.6 127.5L234.2 127.68L233.8 128.03L233.4 127.87L233 127.55L232.6 127.36L232.2 127.43L231.8 127.63L231.4 127.58L231 127.39L230.6 127.61L230.2 127.62L229.8 127.37L229.4 127.43L229 127.65L228.6 127.41L228.2 128L227.8 127.52L227.4 127.71L227 127.77L226.6 128.21L226.2 128.32L225.8 127.56L225.4 127.39L225 127.87L224.6 127.78L224.2 127.64L223.8 127.58L223.4 127.56L223 128.45L222.6 127.46L222.2 127.72L221.8 128.42L221.4 128.15L221 127.66L220.6 127.61L220.2 127.15L219.8 127.78L219.4 127.57L219 127.94L218.6 127.1L218.2 128.29L217.8 127.88L217.4 127.16L217 127.87L216.6 126.46L216.2 127.35L215.8 127.48L215.4 127.76L215 127.56L214.6 128.07L214.2 127.55L213.8 127.8L213.4 128.09L213 127.78L212.6 127.66L212.2 127.94L211.8 127.59L211.4 127.73L211 127.26L210.6 127.6L210.2 127.24L209.8 127.92L209.4 126.85L209 128.36L208.6 127.56L208.2 127.85L207.8 126.6L207.4 127.31L207 127.61L206.6 127.75L206.2 127.97L205.8 127.78L205.4 128.07L205 127.59L204.6 127.89L204.2 127.91L203.8 127.72L203.4 126.93L203 127.42L202.6 127.23L202.2 127.43L201.8 127.47L201.4 127.7L201 127.2L200.6 126.75L200.2 127.83L199.8 126.79L199.4 127.53L199 127.06L198.6 127.95L198.2 127.4L197.8 127.69L197.4 127.47L197 128.09L196.6 128.08L196.2 127.56L195.8 127.86L195.4 128.37L195 127.55L194.6 128.1L194.2 127.06L193.8 128.06L193.4 127.67L193 127.3L192.6 127.62L192.2 128.27L191.8 127.28L191.4 127.58L191 127.87L190.6 127.78L190.2 127.66L189.8 127.66L189.4 127.95L189 127.25L188.6 127.45L188.2 127.98L187.8 127.53L187.4 126.88L187 127.42L186.6 127.41L186.2 127.68L185.8 127.61L185.4 127.74L185 127.97L184.6 127.66L184.2 127.27L183.8 127.62L183.4 127.87L183 127.52L182.6 127.63L182.2 127.6L181.8 127.87L181.4 127.89L181 126.81L180.6 127.9L180.2 127.5L179.8 127.42L179.4 127.57L179 127.27L178.6 128.09L178.2 127.46L177.8 128.07L177.4 127.28L177 127.02L176.6 127.35L176.2 127.45L175.8 127.7L175.4 127.79L175 127.05L174.6 127.52L174.2 127.17L173.8 128.06L173.4 127.52L173 127.75L172.6 128.65L172.2 128.4L171.8 127.11L171.4 127.42L171 127.98L170.6 127.64L170.2 128.01L169.8 127.38L169.4 127.25L169 127.01L168.6 127.75L168.2 128L167.8 127.53L167.4 128.18L167 127.95L166.6 127.79L166.2 128.37L165.8 128.2L165.4 126.93L165 127.75L164.6 127.59L164.2 126.94L163.8 127.67L163.4 127.29L163 128.02L162.6 128.14L162.2 127.63L161.8 127.62L161.4 127.98L161 127.32L160.6 127.15L160.2 127.98L159.8 127.52L159.4 127.81L159 127.66L158.6 127.14L158.2 126.78L157.8 127.52L157.4 128.32L157 127.87L156.6 128.28L156.2 127.58L155.8 128.03L155.4 128.37L155 128.01L154.6 128.1L154.2 127.73L153.8 127.08L153.4 127.58L153 127.37L152.6 127.07L152.2 127.22L151.8 127.07L151.4 126.86L151 128.17L150.6 127.35L150.2 127.59L149.8 127.34L149.4 127.61L149 126.91L148.6 126.73L148.2 127.78L147.8 127.86L147.4 127.23L147 127.92L146.6 127.77L146.2 127.95L145.8 126.3L145.4 127.55L145 127.56L144.6 127.44L144.2 127.78L143.8 127.43L143.4 127.92L143 127.94L142.6 128.11L142.2 127.66L141.8 126.57L141.4 127.61L141 127.09L140.6 127.54L140.2 127.34L139.8 127.63L139.4 127.78L139 127.41L138.6 127.14L138.2 128.08L137.8 127.43L137.4 127.95L137 127.06L136.6 127.5L136.2 127.43L135.8 127.72L135.4 127.37L135 128.21L134.6 127.26L134.2 127.47L133.8 127.68L133.4 127.33L133 127.19L132.6 128.24L132.2 127.39L131.8 127.18L131.4 128.04L131 127.72L130.6 127.12L130.2 127.79L129.8 127.21L129.4 127.35L129 128.45L128.6 127.67L128.2 127.57L127.8 128.31L127.4 127.38L127 127.03L126.6 127.21L126.2 127.2L125.8 127.56L125.4 127.2L125 127.57L124.6 127.4L124.2 128.15L123.8 127.65L123.4 126.9L123 127.15L122.6 128.55L122.2 127.35L121.8 127.83L121.4 127.59L121 127.8L120.6 127.97L120.2 128.17L119.8 127.36L119.4 127.11L119 128.32L118.6 128.19L118.2 127.52L117.8 128.49L117.4 127.81L117 127.23L116.6 127.21L116.2 127.79L115.8 128.04L115.4 127.99L115 127.41L114.6 128.26L114.2 128.13L113.8 127.53L113.4 127.4L113 128.05L112.6 127.64L112.2 127.44L111.8 126.73L111.4 127.4L111 127.23L110.6 127.38L110.2 127.6L109.8 127.67L109.4 127.02L109 127.61L108.6 127.08L108.2 127.67L107.8 127.29L107.4 127.17L107 127.79L106.6 127.56L106.2 127.42L105.8 127.85L105.4 127.74L105 128.08L104.6 128.01L104.2 127.83L103.8 126.33L103.4 127.96L103 127.77L102.6 127.48L102.2 127.28L101.8 127.47L101.4 127.65L101 127.72L100.6 127.78L100.2 127.63L99.8 127.21L99.4 127.47L99 127.87L98.6 127.6L98.2 128.34L97.8 127.69L97.4 128.01L97 127.71L96.6 127.52L96.2 127.27L95.8 127.74L95.4 127.74L95 127.43L94.6 127.41L94.2 127.29L93.8 127.65L93.4 127.83L93 127.5L92.6 127.64L92.2 127.39L91.8 127.68L91.4 127.9L91 127.37L90.6 127.48L90.2 127.91L89.8 127.46L89.4 127.12L89 127.16L88.6 128L88.2 127.41L87.8 127.7L87.4 127.52L87 127.1L86.6 127.92L86.2 127.48L85.8 127.65L85.4 127.12L85 127.62L84.6 128.29L84.2 128.38L83.8 127.75L83.4 127.34L83 127.93L82.6 127.9L82.2 128.76L81.8 126.61L81.4 127.7L81 127.47L80.6 127.62L80.2 127.71L79.8 127.49L79.4 127.38L79 126.87L78.6 127.99L78.2 127.77L77.8 127.68L77.4 127.45L77 128.06L76.6 128.13L76.2 127.21L75.8 127.06L75.4 127.3L75 128.17L74.6 127.87L74.2 127.53L73.8 128.07L73.4 127.92L73 127.93L72.6 128.03L72.2 127.78L71.8 127.61L71.4 127.15L71 128.18L70.6 127.04L70.2 127.84L69.8 127.59L69.4 127.72L69 127.63L68.6 127.42L68.2 127.03L67.8 128.06L67.4 127.89L67 127.43L66.6 127.15L66.2 127.61L65.8 127.77L65.4 127.92L65 127.3L64.6 127.26L64.2 127L63.8 127.59L63.4 127.16L63 127.57L62.6 127.4L62.2 127.52L61.8 127.59L61.4 127.35L61 127.03L60.6 127.51L60.2 127.68L59.8 128.33L59.4 127.37L59 127.66L58.6 127.76L58.2 127.59L57.8 127.79L57.4 127.94L57 126.99L56.6 127.31L56.2 126.46L55.8 127.59L55.4 128.03L55 127.66L54.6 128L54.2 127.38L53.8 128.19L53.4 127.28L53 127.98L52.6 126.65L52.2 127.61L51.8 126.53L51.4 128.43L51 127.35L50.6 127.6L50.2 127.25L49.8 127.4L49.4 127.79L49 128.18L48.6 127.37L48.2 127.43L47.8 126.76L47.4 127.78Z" fill="#231f20"/>
</g>
<path d="M47.4 101.2H339.5V149.3" fill="none" stroke="#777777" stroke-width="0.9"/>
<path d="M47.4 101.2V149.3H339.5" fill="none" stroke="#6e6e6e" stroke-width="0.95"/>
<line x1="47.4" y1="149.3" x2="47.4" y2="146.8" stroke="#6e6e6e" stroke-width="0.8"/>
<text x="42.93" y="159.3" font-size="7.3" textLength="8.94" lengthAdjust="spacingAndGlyphs">−4</text>
<line x1="83.91" y1="149.3" x2="83.91" y2="146.8" stroke="#6e6e6e" stroke-width="0.8"/>
<text x="79.44" y="159.3" font-size="7.3" textLength="8.94" lengthAdjust="spacingAndGlyphs">−3</text>
<line x1="120.42" y1="149.3" x2="120.42" y2="146.8" stroke="#6e6e6e" stroke-width="0.8"/>
<text x="115.95" y="159.3" font-size="7.3" textLength="8.94" lengthAdjust="spacingAndGlyphs">−2</text>
<line x1="156.93" y1="149.3" x2="156.93" y2="146.8" stroke="#6e6e6e" stroke-width="0.8"/>
<text x="152.46" y="159.3" font-size="7.3" textLength="8.94" lengthAdjust="spacingAndGlyphs">−1</text>
<line x1="193.44" y1="149.3" x2="193.44" y2="146.8" stroke="#6e6e6e" stroke-width="0.8"/>
<text x="191.26" y="159.3" font-size="7.3" textLength="4.36" lengthAdjust="spacingAndGlyphs">0</text>
<line x1="229.95" y1="149.3" x2="229.95" y2="146.8" stroke="#6e6e6e" stroke-width="0.8"/>
<text x="227.77" y="159.3" font-size="7.3" textLength="4.36" lengthAdjust="spacingAndGlyphs">1</text>
<line x1="266.46" y1="149.3" x2="266.46" y2="146.8" stroke="#6e6e6e" stroke-width="0.8"/>
<text x="264.28" y="159.3" font-size="7.3" textLength="4.36" lengthAdjust="spacingAndGlyphs">2</text>
<line x1="302.97" y1="149.3" x2="302.97" y2="146.8" stroke="#6e6e6e" stroke-width="0.8"/>
<text x="300.79" y="159.3" font-size="7.3" textLength="4.36" lengthAdjust="spacingAndGlyphs">3</text>
<line x1="339.48" y1="149.3" x2="339.48" y2="146.8" stroke="#6e6e6e" stroke-width="0.8"/>
<text x="337.3" y="159.3" font-size="7.3" textLength="4.36" lengthAdjust="spacingAndGlyphs">4</text>
<line x1="47.4" y1="103.6" x2="49.9" y2="103.6" stroke="#6e6e6e" stroke-width="0.8"/>
<text x="28.04" y="106.15" font-size="7.3" textLength="15.26" lengthAdjust="spacingAndGlyphs">0.10</text>
<line x1="47.4" y1="113.9" x2="49.9" y2="113.9" stroke="#6e6e6e" stroke-width="0.8"/>
<text x="28.04" y="116.45" font-size="7.3" textLength="15.26" lengthAdjust="spacingAndGlyphs">0.05</text>
<line x1="47.4" y1="124.2" x2="49.9" y2="124.2" stroke="#6e6e6e" stroke-width="0.8"/>
<text x="38.94" y="126.75" font-size="7.3" textLength="4.36" lengthAdjust="spacingAndGlyphs">0</text>
<line x1="47.4" y1="134.5" x2="49.9" y2="134.5" stroke="#6e6e6e" stroke-width="0.8"/>
<text x="23.46" y="137.05" font-size="7.3" textLength="19.84" lengthAdjust="spacingAndGlyphs">−0.05</text>
<line x1="47.4" y1="144.8" x2="49.9" y2="144.8" stroke="#6e6e6e" stroke-width="0.8"/>
<text x="23.46" y="147.35" font-size="7.3" textLength="19.84" lengthAdjust="spacingAndGlyphs">−0.10</text>
<text x="178.4" y="171.8" font-size="8.5" textLength="31" lengthAdjust="spacingAndGlyphs">Time (s)</text>
<text transform="translate(7.1 126.3) rotate(-90)" x="-20.75" y="0" font-size="8.8" textLength="41.5" lengthAdjust="spacingAndGlyphs">Amplitude</text>
<text transform="translate(17.2 126.3) rotate(-90)" x="-9.15" y="0" font-size="8.8" textLength="18.3" lengthAdjust="spacingAndGlyphs">(mV)</text>
<line x1="194.9" y1="101.2" x2="194.9" y2="148.8" stroke="rgba(184,85,167,0.77)" stroke-width="2.4"/>
<text x="149.6" y="190.3" font-size="8.6" textLength="105.2" lengthAdjust="spacingAndGlyphs">Super-imposed raw traces</text>
<clipPath id="c4"><rect x="47.4" y="193.5" width="297.1" height="53.8"/></clipPath>
<g clip-path="url(#c4)">
<line x1="71.54" y1="228" x2="71.54" y2="247" stroke="#a0a0a0" stroke-width="0.6"/>
<line x1="97.54" y1="228" x2="97.54" y2="247" stroke="#a0a0a0" stroke-width="0.6"/>
<line x1="121.68" y1="228" x2="121.68" y2="247" stroke="#a0a0a0" stroke-width="0.6"/>
<line x1="168.1" y1="228" x2="168.1" y2="247" stroke="#a0a0a0" stroke-width="0.6"/>
<line x1="212.67" y1="228" x2="212.67" y2="247" stroke="#a0a0a0" stroke-width="0.6"/>
<line x1="229.39" y1="228" x2="229.39" y2="247" stroke="#a0a0a0" stroke-width="0.6"/>
<line x1="244.24" y1="228" x2="244.24" y2="247" stroke="#a0a0a0" stroke-width="0.6"/>
<path d="M47.4 230.64V233.13M47.73 231.47V233.68M48.06 212.85V204.3M48.06 231.12V232.32M48.72 231.42V232.85M49.05 231.6V232.43M49.38 212.61V211.41M49.38 231.45V232.98M49.71 231.29V232.21M50.04 212.53V209.94M50.37 213.45V211.68M51.36 213.3V208.68M52.02 231.85V233.56M52.68 213.68V209.54M52.68 230.62V232.53M53.01 231.6V232.98M53.67 213.63V208.06M54 230.8V234.59M54.66 212.98V210.92M54.66 231.43V232.62M55.32 213.64V210.56M55.32 230.95V234.33M55.65 231.49V233.21M56.31 230.69V232.89M56.97 213.84V209.16M56.97 231.17V233.45M57.3 213.33V211.84M57.96 212.58V211.36M57.96 231.49V233.8M58.62 231.43V234.62M58.95 231.64V233.87M59.28 212.8V209.74M59.28 230.7V231.65M59.61 231.03V233.29M59.94 213.42V210.19M59.94 231.69V233.85M60.27 230.74V233.83M60.6 213.33V212.19M60.6 231.8V233.49M60.93 231.5V233.68M61.59 231.25V232.5M62.25 230.88V231.69M62.58 231.09V234.28M62.91 213.05V210.99M63.24 213.55V209.94M63.57 230.91V232.78M63.9 213.74V209.92M63.9 231.06V232.42M64.56 213.98V209.97M64.56 231.35V234.19M64.89 213V212.01M65.22 231.71V232.66M65.55 232.02V234.34M65.88 231.49V234.82M66.21 213.96V211.83M66.21 230.97V232.66M66.54 231.38V232.89M67.53 213.3V211.16M67.53 230.88V233.97M67.86 213.58V212.37M68.19 213.08V211.21M68.19 230.83V232.52M68.52 231.26V238.65M68.85 231.18V232.15M69.18 213.15V211.06M69.51 231.52V232.46M70.17 231.15V234.23M70.5 213.02V212.18M70.5 231.06V232.41M71.16 213.68V211.37M71.16 230.8V233.13M71.82 231.38V234.13M72.15 231.08V232.14M72.48 213.05V210.83M72.81 230.97V232.1M73.47 212.99V211.17M73.47 231.54V232.69M74.13 213.2V211.7M74.13 231.07V232.63M74.79 231.48V234.66M75.12 213.62V212.35M75.45 212.99V209.29M75.45 230.97V233.28M75.78 231.42V237.26M76.11 213.36V210.05M76.44 213.69V210.09M76.44 230.57V231.39M76.77 213.95V212.56M77.1 212.65V208.57M77.43 231.11V232.21M78.42 213.52V211.45M78.42 231.34V235.5M78.75 213.61V212.76M79.08 231.51V234.09M79.74 213.43V210.04M79.74 232.02V237.45M80.07 212.4V209.71M80.07 230.93V233.5M80.4 212.99V211.92M80.4 231.87V237.97M80.73 213.13V210.96M80.73 230.88V232.1M81.06 231.59V236.02M81.39 231.8V232.64M82.05 212.88V211.87M82.38 230.67V234.6M82.71 231.61V232.52M83.37 213.36V209.75M83.37 230.89V232.35M84.69 231.36V232.99M85.02 213.51V210.95M85.02 231.55V233.86M85.35 212.76V206.02M85.68 213.38V210.35M86.01 213.48V212.15M86.34 214.13V212.72M87.33 212.73V208.43M87.66 230.94V235.02M87.99 212.57V209.87M87.99 231.15V233.19M88.32 212.5V209.47M88.65 213.48V212.15M88.65 231.39V233.2M88.98 230.79V232.04M89.31 213.33V211.94M89.97 212.41V206.18M90.96 213.65V211.52M91.95 213.27V211.88M92.28 212.82V208.58M92.61 231.74V237.2M92.94 213.59V211.98M92.94 231.58V233.68M93.27 231.8V233.53M93.6 230.98V233.53M94.59 231.21V234.36M94.92 213.15V209.18M94.92 231.7V234.57M95.58 213.3V212.37M96.24 213.18V212.3M96.57 212.95V210.83M96.57 231.57V232.58M96.9 213.19V209.73M97.89 213.53V210.69M97.89 231.25V236.17M98.22 231.89V233.2M98.55 213.33V209.41M98.55 231.38V236.55M99.54 212.63V210.63M99.54 231.89V234.1M99.87 213.46V208.27M99.87 231.44V235.02M100.2 231.53V232.74M101.19 212.88V211.17M101.19 231.45V233.46M101.52 213.78V210.27M102.18 231.49V232.49M102.84 212.34V207.47M103.17 213.38V211.31M103.5 213.32V210.72M104.49 213.71V210.88M104.49 231.06V234.08M104.82 231.45V236.14M105.48 213.9V212.07M105.81 213.62V209.03M106.14 213.41V211.67M106.47 231.96V233.29M106.8 213.26V210.71M108.12 231.21V232.44M109.44 213.17V208.76M110.1 213.34V210.5M110.1 230.97V232.71M110.43 213.61V210.92M110.43 231.22V232.41M110.76 231.49V232.74M111.09 230.82V233.49M111.75 213.58V212.4M111.75 230.88V232.22M112.74 213.76V211.56M113.07 231.2V233.06M113.4 230.92V234.96M113.73 230.69V235.18M114.06 231.31V235.2M114.72 213.89V210.03M115.71 211.91V209.36M115.71 230.87V235.13M116.04 231.71V235.54M116.7 213.33V212.44M116.7 230.74V235.16M118.02 231.28V232.15M118.68 213.71V212.3M118.68 231.43V237.12M119.01 231V233.8M119.34 213.03V208.73M119.34 231.07V232.62M120 212.87V210.74M120.66 213.72V210.05M120.99 231.56V232.75M121.32 213.2V210.36M121.65 231.31V233.67M121.98 212.97V205.25M122.31 213.43V210.16M123.3 213.25V210.6M123.3 230.98V233.15M123.63 231.57V233.26M123.96 213.15V212.09M124.29 231.92V235.19M124.62 212.56V208.55M124.95 231.38V234.78M125.61 231.29V233.23M126.27 212.89V211.22M126.27 231.08V232.14M126.6 231.5V234.16M127.26 230.97V231.95M127.92 213.72V212.49M127.92 231.68V233.35M128.91 212.63V207.07M129.24 231.83V235.04M129.9 230.6V231.73M130.23 213.1V210.32M130.56 231.31V234.46M130.89 212.91V208.8M131.22 213.32V209.21M131.55 213.36V212.27M131.55 231.57V233.91M131.88 231.06V232.47M132.21 231.6V233.46M132.87 212.87V203.28M133.2 212.75V210.39M133.2 230.62V232.37M133.53 213.63V212.11M133.86 213.16V210.91M133.86 230.68V231.85M134.52 232.17V233.74M135.18 213.09V210.91M135.18 230.98V233.31M135.84 213.32V212.29M135.84 231.04V233.49M136.83 212.79V209.04M137.49 213.1V205.96M137.82 231.74V232.84M138.48 213.19V210.32M138.48 230.98V232.39M139.8 213.06V212.22M140.13 212.89V209.53M140.46 213.15V212.07M140.79 212.84V211.99M140.79 231.39V233.14M141.12 213.26V209.98M141.78 231.7V235.33M142.11 213.35V211.56M142.44 213.3V211.46M142.44 231.47V232.35M142.77 231.21V233.54M143.1 231.72V235.8M143.43 231V232.49M143.76 213.16V211.41M143.76 231.53V233.12M144.09 212.91V211.08M144.42 213.47V211.6M144.42 231.74V234.61M144.75 231.92V233.55M145.08 213.27V210.1M146.07 231.68V233.56M146.73 212.72V211.03M147.39 213.79V212.23M147.39 231.81V234.99M148.05 213.39V211.56M148.05 231.25V233.91M148.38 212.84V206.91M148.71 213.46V212.65M148.71 231.03V232.75M149.04 213.34V211.99M149.37 213.67V210.73M149.7 213.28V212.29M150.03 213.21V203.94M150.03 231.39V232.32M150.36 212.47V211.07M150.36 231.3V234.12M150.69 231.61V233.3M151.35 231.84V235.07M151.68 231.13V232.65M152.01 213.43V212.17M152.01 231.69V233.18M152.34 213.55V212.07M153.66 230.9V238.68M154.32 212.43V210.91M154.32 231.87V236.67M155.64 230.81V234.3M156.3 213.38V212.13M157.62 231.45V235.26M158.61 231.89V234.82M158.94 213.22V209.54M159.27 231.85V233.77M159.93 231.11V231.99M160.26 230.99V232.09M160.92 212.92V212M161.91 213.86V207.4M162.57 213.49V210.38M163.23 213.39V212.42M163.56 213.85V211.08M163.89 212.28V210.47M163.89 231.17V233.15M164.55 213.33V211.82M164.88 231.47V235.07M165.87 212.93V212.12M166.53 213.91V213.01M166.86 231.15V234.63M167.19 232.06V235.15M167.52 231.63V233.39M167.85 213.47V212.36M168.84 212.96V210.39M169.17 231.2V232.73M169.5 213.18V211.41M169.5 231.83V234.9M169.83 212.7V209.34M170.49 213.66V211.92M170.49 231.47V232.49M170.82 212.7V208.99M171.48 230.73V231.67M172.47 212.82V211.64M172.47 231.93V233.88M172.8 232.05V233.2M173.13 212.9V210.19M173.13 231.42V232.23M173.46 213.15V209.51M174.12 231.26V238.46M174.78 213.22V212.33M174.78 231.31V232.89M175.11 213.78V210.48M175.11 231.9V234.66M175.44 213.4V211.47M175.77 231.66V233.81M176.43 212.84V205.87M177.09 213.22V211.23M177.09 230.7V233.57M177.42 213.44V210.75M177.75 231.07V231.96M178.41 213.51V210.24M179.07 212.25V210.05M179.4 230.26V231.28M179.73 213.01V211.51M180.06 212.71V209.76M181.05 212.75V207.44M181.05 231.58V235.92M182.7 231.42V233.52M183.03 231.28V234.22M184.02 213.31V209.69M184.68 231.76V233.1M185.67 230.6V232.19M186.99 213.42V206.69M187.65 212.75V209.08M187.65 230.93V234.79M187.98 212.69V209.05M188.64 212.08V208.74M188.97 231.34V232.45M189.3 213.36V210.35M189.3 231.08V233.68M189.63 212.53V208.74M189.63 231.29V232.28M189.96 230.78V232.49M190.29 231.46V232.85M190.62 212.77V209.83M190.62 230.93V237.09M191.28 213.14V209.88M191.61 212.98V211.56M192.27 231.71V232.88M192.6 213.86V212.91M195.24 231.78V234.1M195.9 212.99V210.87M195.9 231.27V232.85M196.23 231.39V232.46M196.89 212.58V210.53M197.22 212.82V208.33M197.22 231.44V232.45M197.55 213.14V210.73M198.54 213.11V207.04M198.54 231.65V234.15M199.2 231.75V232.6M199.53 231.13V236.01M200.19 213.58V212.01M200.85 212.81V204.92M201.18 231.4V235.11M201.51 231.59V235.7M201.84 213.73V211.94M202.17 213.09V209.8M202.83 213.11V210.77M203.16 212.93V207.65M203.16 230.83V235.66M203.49 230.66V231.63M203.82 213.4V212.16M204.48 213.02V210.82M204.48 231.58V238.93M204.81 213.19V212.21M205.14 213.35V210.88M205.14 231.17V243.5M205.47 231.57V239.18M205.8 213.42V208.3M206.13 213.43V211.01M206.13 231.27V235.1M206.46 231.22V234.66M206.79 213.48V206.08M207.12 213.21V209M207.78 231.87V236.33M208.44 231.14V232.56M208.77 212.64V210.81M209.43 231.62V236.82M209.76 213.35V208.7M210.09 213.19V211.64M210.09 230.58V235.06M210.42 213.78V211.08M211.41 231.02V238.05M211.74 212.93V203.8M212.73 231.9V238M213.06 212.68V203.41M213.06 231.56V232.68M213.39 212.78V211.47M215.04 213.18V201.32M215.37 213.19V211.44M215.37 231.62V232.84M215.7 213.64V212.8M215.7 231.84V238.56M216.03 231.33V236.37M216.36 213.25V205.42M216.36 231.46V233.12M216.69 231.26V237.78M217.02 213.31V205.55M217.35 212.81V203.59M217.68 213.03V210.86M218.01 213.16V212.12M218.01 231.59V236.34M218.34 213.49V211.53M218.67 231.3V238.18M219 231.03V243.4M219.33 212.37V207.53M219.66 230.85V235.49M219.99 230.98V232.77M220.32 231.68V240.86M220.65 213.09V203.81M220.98 213.2V202.99M220.98 230.73V231.67M221.31 213.31V206.39M221.31 230.91V235.75M221.97 213.27V212.04M221.97 231.99V233.7M222.3 213.11V211.75M222.96 231.03V233.46M223.29 213.51V204.98M223.29 231.49V235.58M223.62 231.05V238.68M223.95 212.99V204.06M223.95 232.22V234.41M224.94 212.86V209.89M224.94 231.47V237.66M225.27 231.04V232.08M225.6 212.98V203.82M225.6 231.29V238.38M225.93 213.5V201.36M225.93 230.39V232.17M226.26 231.14V233.4M226.59 213.23V209.53M226.59 230.91V232.72M226.92 212.74V207.3M227.91 213.69V210.51M227.91 230.91V235.69M228.57 231.63V232.47M228.9 213.21V197.21M229.56 213V208.27M230.22 231.41V238.23M230.55 213.24V206.44M230.55 231.65V234.98M231.21 214.16V208.51M231.54 213.14V206.6M231.87 231.42V233.92M232.2 213.17V211.9M232.53 213.1V207.51M232.53 231.18V240.63M232.86 213.08V211.78M233.19 213.22V208.24M233.52 231.96V234.73M233.85 213.48V212.47M233.85 231.5V239.84M234.18 213.37V206.94M234.18 231.57V236.04M234.51 212.86V207.62M234.51 231.44V236.43M234.84 231.05V238.45M235.17 213.32V211.06M235.5 213.09V210.6M235.83 213.11V210.71M236.16 213.16V211.15M236.82 213.27V198.12M237.15 212.99V212.04M237.48 213.18V197.27M237.48 230.81V239.07M237.81 213.68V209.06M237.81 232.13V238.65M238.14 212.83V210.37M238.8 231.47V232.69M239.13 231.31V232.72M239.46 213.44V212.19M239.79 232.38V233.99M240.12 213.16V210.49M240.78 213V210.69M241.11 231.36V234.39M241.77 213.09V209.53M242.1 231.16V232.23M242.43 213.22V208.12M242.76 212.84V208.88M243.42 231.41V237.88M244.08 213.11V211.21M244.08 231.38V237.22M244.41 212.15V211.29M244.74 212.56V210.94M244.74 230.4V240.74M245.07 213.52V209.64M245.73 213.91V212.75M246.06 212.71V208.08M246.06 231.36V241.67M246.72 213.07V210.91M246.72 231.34V232.73M247.05 213.61V211.36M247.05 231.27V235.34M247.38 213.33V212.13M247.71 213.23V197.35M248.04 213.43V211.32M248.04 231.03V235.51M248.37 213.03V199.93M248.7 213.57V208.22M249.03 213.07V207.85M249.03 231.73V239.39M249.69 213.27V207.57M249.69 231.23V232.98M250.35 230.93V233.5M250.68 212.61V206.66M250.68 231.61V234.15M251.01 212.6V208.11M251.34 213.39V212.11M251.67 212.38V206.55M252 213.72V209.79M252.33 231.33V232.45M252.66 212.69V210.49M253.32 212.73V209.01M253.65 231.32V232.39M254.31 231.13V232.77M254.64 231.34V239.07M254.97 213.56V210.9M254.97 231.33V234.32M255.63 213.68V207.96M255.63 231.51V234.75M255.96 213.18V211M255.96 231.71V234.58M256.29 231.04V235.56M256.62 213.37V211.86M256.95 213.31V204.96M256.95 230.89V237.59M257.28 231.24V233.82M257.61 213.45V204.37M257.61 230.21V232.97M258.27 213.38V198.27M258.6 231.12V234.45M258.93 213.23V211.75M258.93 231.15V237.99M259.26 230.62V231.84M259.59 213.58V200.14M260.58 212.92V211.75M260.91 212.93V198.01M261.24 213.23V202.45M261.57 213.59V212.44M261.57 231.45V233.84M261.9 230.95V232.87M262.23 231.71V232.62M262.56 213.01V208.19M262.89 213.1V203.9M263.55 213.61V208.84M263.88 213.47V210.69M263.88 231.78V235.85M264.21 213.21V211.89M264.21 231.82V233.24M264.87 213.59V212.5M265.2 231.02V235.56M265.53 231.13V232.88M266.19 231.52V232.77M266.52 212.3V204.7M267.18 213.5V211.39M267.51 212.9V200.54M267.84 213.53V212.14M268.17 230.68V231.55M268.5 231.55V233.45M268.83 213.03V211.45M268.83 231.35V235.28M269.16 213.34V211.91M269.16 231.31V233M269.82 231.11V243.05M270.15 231.17V234.17M270.48 213.09V210.42M270.81 231.21V235.98M271.14 213.06V211.77M271.47 213.29V207.87M271.47 231.13V239.99M271.8 231.48V233.41M272.13 213.74V210.02M272.13 231.59V233.2M272.46 213.1V211.9M272.79 213.64V212.41M272.79 231.6V237.5M273.12 214.02V206.62M273.45 213.8V210.11M273.45 231.08V239.83M273.78 231.49V241.6M274.11 213.26V198.7M274.77 230.57V231.52M275.1 212.89V206.63M275.1 231.61V232.91M276.42 213.79V205.7M277.08 212.68V210.13M277.41 231.59V239.65M277.74 213.5V210.74M278.07 213.65V212.83M278.07 231.89V233.48M278.4 213.25V212M278.73 231.68V236.61M279.06 212.5V211.66M279.06 232.2V235.92M279.39 230.4V236.68M280.71 230.56V231.71M281.04 213.53V202.96M281.04 231.42V235.56M281.37 231.36V236.95M281.7 231V232.64M282.03 213.26V210.73M282.36 213.45V210.37M282.36 231.66V235.2M282.69 213.58V211.49M283.02 231.46V233.95M283.35 230.8V234.74M283.68 231.17V236.01M284.01 212.99V211.25M284.34 230.87V234.31M284.67 231.36V234.16M285.33 231.28V232.15M285.66 231.28V233.4M285.99 230.51V237.71M286.98 213.14V211.34M287.31 213.04V209.27M287.31 231.05V232.08M287.64 212.87V205.44M287.97 213.3V212.35M287.97 231.69V238.66M288.3 230.88V238.38M288.63 212.87V211.84M288.63 231.02V234.62M288.96 213.43V209.29M288.96 231.07V234.57M289.29 213.53V203.82M289.62 231.08V233.75M289.95 212.76V209.51M290.28 231.75V234.62M290.61 212.92V207.33M290.61 231.56V232.61M290.94 213.15V211.74M290.94 231.54V234.65M291.27 212.83V211.48M291.6 231.47V235.04M292.26 212.88V210.7M292.26 230.49V234.57M292.59 212.76V209.67M292.92 231.29V234.69M293.25 213.44V211.1M293.58 213.68V211.95M293.91 213.18V209.95M293.91 231.74V233.06M294.57 213.31V211.04M294.9 213.3V211.01M295.23 212.59V211.19M295.23 231.95V234.58M296.22 212.83V208.17M296.22 230.26V232.89M296.55 213.29V212.47M296.55 231.65V232.52M296.88 213.6V211.41M297.21 230.38V232.67M297.54 212.86V208.23M297.54 231.3V232.96M298.53 213.07V209.58M298.53 231.42V236.84M299.19 214.04V200.63M299.52 212.22V207.8M299.52 230.72V233M299.85 230.98V232.47M300.51 213.18V208.18M300.84 213.85V212.11M300.84 231.06V232.36M301.17 213.15V210.56M301.17 230.87V233.31M301.5 213.09V209.48M301.5 231.83V242.38M302.16 213.08V205.48M302.16 231.72V234.25M302.49 231.61V234.46M303.15 212.94V204.77M303.15 230.54V237.45M303.48 231.36V232.65M303.81 213.17V209.94M304.47 213.43V209.61M305.13 212.45V204.45M305.46 213.1V208.53M305.46 230.99V235.92M305.79 213.26V212.25M306.12 212.86V211.4M306.78 212.97V211.77M307.44 213.51V210.84M308.76 212.67V211.29M308.76 231.93V233.85M309.09 212.81V211.78M309.42 213.14V206.29M309.75 231.09V234.1M310.08 231.37V233.45M310.74 213.25V212.1M310.74 230.86V233.2M311.07 213.16V211.51M311.07 231.21V232.82M311.4 213.92V212.59M311.73 213.22V209.82M312.06 213.59V207.8M313.38 212.94V209.92M313.71 213.34V209.02M314.37 213.16V206.09M314.7 231V233.26M315.03 231.52V236.24M315.36 212.47V210.46M316.02 213.45V212.48M316.35 213.07V210.79M316.68 213.53V212.72M317.01 213.4V211.72M317.34 230.87V240.29M317.67 231.27V233.29M318 213.12V205.14M318 231.57V233.55M318.33 231.32V233.76M318.66 231.21V234.49M318.99 213.27V211.75M319.32 212.8V211.4M319.65 212.84V199.51M319.65 230.81V234.35M319.98 231.56V234.23M320.31 213.62V212.41M320.97 231.71V234.16M321.3 213.5V209.53M321.63 230.06V236.02M321.96 213.33V211.75M321.96 230.46V234.4M322.62 213.34V211.76M322.95 213.27V212.3M323.28 212.37V209.82M323.61 213.76V212.2M323.61 231.55V237.11M323.94 231.23V233.78M324.27 212.64V210.61M324.6 231.21V232.9M325.26 213.24V212.35M325.26 231.44V232.95M326.58 213.97V211.25M326.58 231.15V232.86M326.91 213.62V212.52M326.91 231.6V236.69M327.57 231.18V236.42M328.23 231.69V233.72M328.56 213.07V208.43M328.89 231.07V235.28M329.55 231.66V239.97M329.88 213.32V211.57M330.21 213.11V210.86M330.87 213.04V210.83M331.2 230.67V233.23M331.53 213.98V212.5M331.86 213.15V212.35M332.19 213.14V209.68M332.52 213.64V212.52M332.52 231.3V234.35M332.85 212.45V209.24M333.18 212.72V207.92M333.18 231.28V236.02M333.51 212.81V211.85M333.84 212.58V208.36M333.84 230.56V233.32M334.17 230.76V232.94M334.5 213.31V210.61M335.16 213.19V211.2M335.49 213.55V212.04M335.82 213.61V208.45M336.15 213.67V210.62M336.48 231.06V237.22M337.14 213.76V212.72M337.47 213.36V210.53M337.47 231.74V232.78M337.8 231.28V232.09M338.13 213.02V210.98M338.46 213.18V211.67M338.79 212.96V203.96M339.12 231.44V235.92M340.11 213.95V210.59M340.44 230.91V233.41M341.1 230.68V233.13M341.76 212.91V205.64M342.42 231.2V232.62M342.75 212.89V211.87M343.41 212.93V211.47M343.41 231.43V234.49M343.74 231.37V235.28M344.4 213.81V210.99" stroke="#9a9a9a" stroke-width="0.42" fill="none"/>
<path d="M47.4 213.77V210.59M47.4 213.77V201.75M47.73 212.21V210.91M48.39 213.17V211.7M48.72 212.92V210.72M49.71 213.3V211.57M50.04 231.89V233.46M50.37 231.4V232.25M50.7 213.65V211.22M51.03 213.73V212.6M51.36 213.3V199.26M51.36 230.86V233.46M51.36 230.86V237.9M51.69 213.18V209.79M51.69 230.94V232.05M52.35 214.28V213.09M52.35 231.22V234.18M53.01 213.45V212M53.34 231.76V233.4M53.67 231V232.51M54 212.45V211.36M54.33 213.54V211.24M54.99 212.29V211.21M54.99 231.07V234.66M55.65 212.9V211.64M55.65 212.9V207.02M55.65 231.49V235.61M55.98 213.37V208.93M55.98 231.5V233.41M56.31 212.91V211.86M56.64 213.04V202.92M57.3 231.06V235.81M57.63 213.36V211.76M57.63 231.38V233.17M58.29 213.56V211.27M58.62 212.95V210.96M59.61 213.35V208.27M60.27 212.63V211.42M60.93 212.85V211.01M61.26 213.69V211.57M61.26 231.34V232.61M61.92 230.85V232.08M62.25 214.4V213.48M62.58 213.53V212.5M62.91 231.13V234.12M63.24 231.76V236.61M63.57 213.32V211.86M64.23 212.81V208.39M64.23 230.63V232.34M64.89 231.29V234.7M65.22 213.05V211.11M65.22 213.05V200.51M65.55 212.91V210.01M65.88 213.09V209.66M66.54 213.28V209.43M66.87 212.78V210.83M67.2 213.14V208.95M68.85 214.37V210.23M69.18 230.31V233.81M69.51 213.25V212.29M69.84 212.73V210.71M69.84 232.1V232.98M70.17 213.58V212.13M70.83 213.93V206.27M70.83 231.64V232.77M71.49 213.52V212.58M71.49 231.3V235.44M71.49 231.3V235.73M72.15 213.07V208.2M72.48 231.26V232.26M72.81 213.24V212.43M72.81 213.24V207.5M73.14 213.07V211.83M73.8 213.25V211.99M74.46 213.06V207.25M74.46 231.03V232.17M74.79 213.57V211.94M75.78 214.05V212.71M76.77 231.4V232.45M77.43 213.41V209.97M77.76 213.57V212.58M77.76 231.42V233.88M78.09 213.68V212.86M78.09 230.77V234.69M79.41 212.83V211.54M79.41 231.01V232.32M80.07 230.93V236.32M81.39 213.56V209.76M81.72 213.3V212.37M81.72 232.11V232.93M82.05 231.25V243.8M82.38 212.83V210.99M82.71 213.37V209.28M83.04 213.44V212.53M83.04 231.02V232.48M83.7 213.26V211.76M83.7 231.07V233.77M84.03 213.25V210.63M84.03 230.95V234.46M84.36 212.66V211.17M84.69 213.2V211.07M85.68 231.15V233.38M86.34 231.75V233.6M86.67 213.18V211.43M87 231.36V233.03M87.33 231.2V236.7M88.32 212.5V206.92M88.98 213.2V209.77M89.31 231.14V232.8M89.64 212.58V207.23M89.64 231.22V232.23M89.97 212.41V205.31M89.97 231.07V234.89M90.3 212.51V211.6M90.3 231.06V232.27M90.63 213.85V210.71M90.96 230.93V232.51M91.29 212.68V209.15M91.62 230.89V232.22M92.28 230.87V231.93M92.61 212.95V210.66M93.27 213.49V210.55M93.6 213.57V211.1M93.93 213.34V211.34M93.93 213.34V210.27M93.93 230.8V233.47M94.26 230.8V236.11M94.59 213.41V211.63M95.25 213.88V212.85M95.25 231.56V238.84M95.58 231.55V237.01M95.91 213.43V207.38M96.24 231.71V232.61M96.9 213.19V202.54M96.9 231.09V232.11M97.23 213.08V210.7M97.23 230.33V231.23M97.56 212.9V208.05M97.56 230.99V232.78M98.22 214V207.25M98.88 213.17V210.26M98.88 231.27V233.25M99.21 212.93V206.95M99.21 231.9V233.04M100.2 213.44V208.56M100.53 231.77V232.72M100.86 213.25V207.61M100.86 231.02V234.69M101.52 231.14V234.06M101.85 213.26V210.8M101.85 230.93V231.97M102.18 213.39V208.8M102.51 213.89V213.08M102.51 231.72V232.77M102.84 232.01V236.56M103.17 231.59V232.7M103.5 231.73V232.87M103.83 213.1V211.47M103.83 231.23V234.66M104.16 213.23V211.9M104.16 230.73V232.03M104.82 212.96V210.98M104.82 231.45V244.92M105.15 212.96V208.23M105.15 231.07V232.07M105.48 232.03V233.36M105.81 231.76V232.77M106.14 231.22V235.79M106.8 231.55V234.71M107.13 213.11V211.65M107.46 213.17V206.87M107.46 231.23V235.73M107.79 231.6V233.57M108.12 213.04V208.46M108.45 212.6V211.62M108.45 231.31V235.56M108.78 213.16V211.62M108.78 231.74V233.64M109.11 213.34V209.56M109.11 213.34V201.46M109.11 232.03V236.37M109.77 231.41V236.13M110.43 231.22V235.34M111.09 213.16V212.31M111.42 213.45V212.16M111.42 231.14V232.24M112.08 213.05V211.93M112.08 231.38V236.51M112.41 212.89V210.44M112.41 231.64V234.67M112.74 231.43V232.78M113.07 213.02V211.23M113.4 213.38V212.3M113.73 213.04V210.17M114.39 213.78V207.1M114.39 231.88V233.55M115.05 212.71V210.72M115.05 231.28V232.14M115.38 231.13V236.09M116.04 213.46V207.06M116.37 213.84V212.08M117.03 213.11V209.04M117.03 230.83V233.68M117.36 213.55V208.91M117.36 213.55V209.8M117.36 231.82V235.2M117.69 212.86V208.54M117.69 230.97V232.52M118.02 213.49V212.43M118.35 213.76V211.53M118.35 230.91V234.61M119.01 213.51V201.21M119.67 213.1V210.68M119.67 230.88V232.23M120.33 213.96V211.1M120.33 232.3V233.28M120.66 231.39V232.67M120.99 213.2V211.97M121.65 213.32V210.83M121.65 213.32V199.92M122.31 231.17V232M122.64 213.42V205.75M122.97 213.4V210.69M123.96 230.77V231.87M124.62 231.2V237.93M124.95 214.11V209.08M125.28 213.03V208.92M125.28 231.81V233.25M125.94 213.1V212.01M125.94 231.35V232.2M126.6 213.86V211.99M126.6 213.86V207.57M126.93 212.5V209.8M126.93 231.57V233.1M127.59 212.99V211.29M127.59 231.56V234.57M128.25 213.55V210.7M128.25 231.48V233.22M128.58 213.25V209.36M128.58 231.02V239.06M128.91 231.66V232.8M129.24 213.53V209.26M129.57 231.12V231.99M129.9 213.48V212.16M130.23 231.03V232.67M131.22 231.76V234.51M131.88 213.13V210.9M132.21 212.83V211M132.54 213.13V211.3M132.54 231.3V233.67M133.53 231.69V232.98M134.19 213.01V208.05M134.19 231.78V233.31M134.52 213.01V211.57M134.85 213.39V212.43M134.85 231.32V233.95M135.51 212.94V211.34M135.51 231.06V233.12M136.17 213.27V211.75M136.5 212.86V210.11M136.5 231.69V232.77M137.16 231.18V232.08M137.49 213.1V206.56M137.49 231.05V235.29M137.82 213.69V208.72M138.15 213.45V212.01M138.15 231.68V232.87M138.81 231.19V232.27M139.14 213.86V211.4M139.14 231.37V235.2M139.47 212.96V210.89M139.47 230.62V231.87M139.8 231.1V232.07M140.13 231.36V233.89M140.46 230.77V231.6M141.12 231.32V234.99M142.11 230.94V232.29M142.44 213.3V208.6M143.43 214V212M143.76 213.16V210.45M144.75 213.13V208.31M145.08 230.72V232.03M145.41 213.47V212.05M145.41 231.27V232.18M145.74 230.89V231.77M146.07 213.5V206.11M146.4 212.8V211M146.4 231.83V234.86M147.06 213.06V211.46M147.06 231.4V235.49M147.72 212.96V209.34M147.72 231.38V234.18M149.04 231.69V233.86M149.04 231.69V239.46M149.7 213.28V209.29M149.7 231.41V237.29M151.02 213.52V211.76M151.02 231.01V233.29M151.35 213.29V211.6M151.68 213.28V212.1M152.34 213.55V210.8M152.67 231.4V238.64M153 231.18V232.26M153.33 213.38V211.73M154.65 231.61V232.44M154.98 213.49V211.18M154.98 231.29V232.46M155.31 213.87V212.65M155.31 231.2V235.2M155.64 213.38V211.63M155.97 212.87V211.49M155.97 231.2V232.92M156.3 231.44V234.89M156.63 213.16V209.3M156.63 213.16V203.03M156.63 231.77V232.79M156.96 212.94V211.47M157.62 212.49V209.09M158.28 231.17V233.61M158.94 231.34V233.74M159.27 213.3V211.55M159.6 213.96V212.92M159.6 230.69V232M159.93 231.11V234.31M160.26 213.75V197.96M160.59 212.9V205.14M160.59 231.4V235.29M160.92 231V235.35M161.25 213V211.77M161.25 230.79V232.97M161.25 230.79V234.7M161.58 212.5V207.72M162.24 231.07V233.18M162.57 231.47V233.02M162.9 213.89V212.69M163.23 231.28V232.34M163.56 213.85V210.93M163.56 230.96V233.53M164.22 213.71V209.53M164.22 231.4V236.13M164.88 212.99V211.66M165.21 213.64V210.86M165.21 231.01V232.61M165.21 231.01V242.16M165.54 231.89V235.98M166.2 212.44V210.51M166.86 212.17V199.35M167.19 213.24V209.28M167.19 232.06V237.64M167.52 213.84V212.9M167.85 231.26V232.76M168.18 212.96V211.76M168.51 213.1V209.86M168.51 213.1V202.99M168.51 230.98V231.79M168.84 231V235.05M170.16 231.28V232.2M170.16 231.28V239.54M170.82 231.19V234.79M171.15 212.76V210.89M171.15 230.82V231.87M171.48 214.13V212.1M171.81 212.87V210.48M172.14 212.68V210.99M172.14 231.2V232.19M172.8 213.51V211.63M173.46 213.15V205.23M173.46 231.61V232.43M173.79 212.28V211.43M174.12 212.95V210.9M174.45 231.34V233.69M174.78 213.22V207.2M175.44 231.27V234.19M175.77 212.05V207.44M176.1 212.55V211.45M176.43 231.56V232.5M177.42 231.77V232.83M177.75 212.52V209.66M178.08 212.31V209.08M178.08 231.39V232.54M178.74 212.79V208.64M179.07 230.78V233.14M179.73 232.15V233M180.06 231.65V236.42M180.72 213.59V210.9M180.72 230.58V231.8M181.38 213.31V212.35M181.38 231.93V232.74M181.71 213.27V209.44M181.71 231.48V237.09M182.04 230.64V233.67M182.37 214.13V212.84M182.37 231.11V232.94M182.7 212.65V211.1M183.03 214.22V210.41M183.36 212.81V211.19M183.36 231.75V232.62M183.69 213.08V211.36M184.02 231.06V231.87M184.35 230.33V231.65M184.68 213.47V202.64M185.01 213.05V212.06M185.34 213.05V209.34M185.34 231.14V232.49M185.67 213.66V212.17M186 213.8V210.52M186 231.65V232.66M186.66 213.68V212.37M186.66 213.68V205.57M186.66 230.8V231.94M186.99 230.54V231.86M187.32 213.29V211.6M187.32 230.74V233.67M188.31 231.74V236.85M188.64 231.59V233.74M189.96 213.85V211.5M190.29 213.86V201.36M190.95 213.15V202.08M190.95 231.1V237.76M191.61 230.95V231.86M191.94 213V211.79M192.27 213.39V208.5M192.6 230.61V233.83M192.93 213.23V212.35M192.93 213.23V210.17M193.26 213.24V210.06M193.26 230.83V234.69M193.59 213.25V210.65M193.92 212.92V211.45M193.92 231.24V234.37M194.25 213.45V212.13M194.25 230.01V231.23M194.58 213V210.13M194.58 231.1V231.9M194.91 231.86V234.75M195.24 213.46V211.34M195.57 212.45V210.37M195.57 231.65V235.81M196.23 213.04V209.77M196.56 213.14V211.11M196.56 231.08V232.54M196.89 230.63V233.01M197.55 231.73V232.65M197.88 213.44V208.09M197.88 231.42V232.39M198.21 213.15V204.69M198.21 231.29V233.83M198.54 231.65V243.63M198.87 212.86V208.96M198.87 231.43V241.08M199.2 213.21V209.73M199.53 212.09V208.98M199.86 230.58V236.58M200.19 231.5V236.19M200.52 213.19V205.66M200.52 231.66V235.31M200.52 231.66V239.53M200.85 230.99V236.61M201.18 213.73V211.77M201.84 230.2V235.82M202.17 213.09V207.94M202.17 232.29V235.38M202.5 231.61V233.36M202.5 231.61V241.74M202.83 231.22V233.15M203.49 213.13V204.8M204.15 213.1V207.93M204.15 213.1V202.69M204.15 231.17V231.97M204.81 231.03V233.77M205.47 213.2V209.48M205.8 213.42V206.2M205.8 230.92V233.29M205.8 230.92V238.04M206.46 213.31V209.44M206.46 231.22V242.4M206.79 213.48V198.69M206.79 231.49V233.61M207.45 213.65V209.51M207.45 231.23V239.25M207.78 213.36V210.87M207.78 213.36V198.28M208.11 213.53V210.53M208.11 231.11V234.3M208.44 213.12V210.1M208.77 231.33V235.1M209.43 213.22V208.64M209.76 230.14V232.25M210.09 213.19V208.06M210.42 230.42V231.53M210.75 212.69V199.28M210.75 231.87V237.18M211.08 212.5V204.15M211.08 231.63V232.8M211.74 231.46V233.28M212.07 213.21V198.88M212.07 230.58V236.02M212.4 213.46V205.69M212.4 231.17V233.07M212.4 231.17V237.08M212.73 214.27V208.78M212.73 214.27V198.06M213.39 232.17V235.27M213.72 213.18V203.14M214.05 212.62V206.27M214.05 212.62V197.34M214.05 231.77V234.53M214.38 212.9V202.88M214.38 212.9V197.5M214.38 231.34V235.94M214.71 213.71V212.61M214.71 231.43V238.75M215.7 213.64V202.52M216.03 212.53V210.92M216.03 212.53V196.3M216.36 213.25V203.42M216.69 213.18V208.94M217.02 231.42V242.8M217.35 230.97V233.15M217.68 213.03V197.64M217.68 231.71V233.21M218.67 212.91V208.35M219 213.44V208.31M219.33 230.92V231.96M219.66 213.37V210.1M219.99 213.5V205.72M219.99 213.5V205.5M219.99 230.98V236.32M220.32 212.84V208.87M220.32 231.68V241.4M221.64 213.67V212.7M221.64 231.85V234.54M222.3 231.65V233.06M222.63 213.12V196.85M222.63 213.12V199.49M222.63 232.17V233.02M223.62 213.3V201.41M224.28 213.07V210.09M224.28 213.07V198.35M224.28 231.49V238.45M224.61 212.89V203.51M224.61 231.49V233.42M224.94 212.86V197.45M225.27 213.01V210.6M226.26 212.74V211.41M227.25 213.51V209.73M227.25 231.87V236.67M227.58 213.32V208.54M227.58 231.43V233.02M228.24 213.41V204.06M228.24 230.88V231.77M228.57 212.8V207.84M228.9 231.22V244.03M229.23 212.96V207.63M229.56 230.89V233.54M229.89 212.8V208.81M229.89 212.8V203.16M229.89 231.43V239.89M230.22 213.08V212.09M230.88 213.28V208.76M230.88 230.95V233.45M231.21 231.31V236.34M231.54 230.75V235.43M231.54 230.75V236.4M231.87 213.23V198.39M232.2 231.33V232.32M232.86 231.69V236.28M233.19 230.81V236.62M233.52 213.12V207.22M233.85 213.48V199.31M235.17 231.1V237.17M235.5 231.72V243.38M236.16 231.46V235.58M236.16 231.46V236.92M236.49 231.19V237.29M236.82 231.68V241.11M237.15 212.99V200.45M237.15 231.6V232.81M237.48 230.81V241.79M238.14 231.76V237.19M238.47 213.45V211.65M238.8 213.11V211.57M239.13 214.63V213.53M239.46 213.44V206.16M239.46 231.68V234.38M239.79 213.22V211.39M240.12 231.3V233.05M240.45 212.62V205.69M240.45 230.89V234.96M241.44 213.34V210.2M241.44 231.72V238.42M241.77 213.09V206.26M241.77 230.84V232.09M242.1 213.2V211.34M242.43 231.2V239.15M242.76 231.73V233.09M243.09 213.24V202.95M243.09 213.24V198.85M243.09 231.78V233.73M243.42 213.4V210.2M243.42 213.4V199.29M243.75 212.64V207.37M243.75 231.77V233.23M244.41 231.37V236.6M244.41 231.37V238.24M245.4 213.67V199.77M245.4 230.87V232.1M245.73 231.51V235.33M246.39 213.17V211.89M246.39 230.89V232.71M247.38 213.33V202.18M247.38 231.48V234.04M247.71 231.1V235.31M248.37 231.81V237.35M248.37 231.81V243.06M249.36 213.62V210.4M249.36 230.96V234.5M249.69 231.23V242.38M250.02 213.29V205.2M250.02 231.19V232.97M251.01 230.77V232.98M251.34 231.41V234.44M251.67 230.45V232.24M252 231.6V234.75M252.33 213.08V210.64M252.99 213.33V212.15M252.99 232.13V233.68M253.32 231.04V235.29M253.65 213.22V209.98M253.98 213.1V211M253.98 230.8V234.98M254.31 213.66V209.78M254.31 231.13V237.22M254.64 213.54V197.88M254.64 231.34V238.19M255.3 213.03V211.19M255.3 213.03V198.02M255.3 231.63V233.56M256.29 213.25V212.09M256.62 231.37V235.87M257.28 212.69V209.87M257.61 213.45V200.58M257.94 212.6V207.63M258.27 231.33V238.42M258.6 213.18V210.63M258.93 231.15V242.31M259.26 212.79V209.73M259.59 231.05V235.02M259.92 213.14V211.87M260.25 213.52V211.97M260.25 231.4V233.99M260.58 212.92V203.75M260.58 231.49V237.04M260.91 231.13V235.52M261.24 231.25V236.55M262.23 212.98V209.49M262.56 232.13V233.7M262.89 213.1V201.71M262.89 231.46V235.49M263.22 213.03V210.67M263.22 231.11V232.58M263.55 231.4V233.02M264.54 213.52V202.63M264.54 213.52V198.18M264.54 230.77V233.06M264.87 231.44V242.05M265.2 212.97V208.74M265.53 212.93V210.88M265.86 213.47V209.6M265.86 231.42V235.97M266.19 214.01V211.93M266.52 231.19V234.28M266.85 230.97V234.33M267.18 231.23V233.52M267.18 231.23V237.33M267.84 232V232.9M268.17 213.29V210.51M268.17 213.29V205.67M268.17 230.68V235.49M268.83 213.03V199.35M269.49 212.86V210.29M269.49 230.89V236.02M269.82 213.43V212.03M269.82 213.43V206.2M270.15 213.32V211.94M270.15 213.32V204.21M270.81 213.35V210.62M270.81 231.21V238.26M271.14 231.35V239.46M272.13 231.59V238.27M272.46 231.09V238.94M273.12 231.33V237.85M273.45 231.08V236.06M273.78 213.2V203.29M273.78 213.2V201.97M274.11 231.75V234.85M274.44 213.19V207.92M274.44 231.17V237.65M274.77 213.32V209.34M275.1 231.61V242.67M275.43 212.51V210.29M275.43 231.7V240.4M275.76 213.32V208.11M275.76 230.86V232.95M275.76 230.86V236.97M276.09 213.22V209.47M276.09 213.22V201.26M276.09 231.25V237.41M276.42 231.48V234.52M276.75 213.89V211.36M276.75 213.89V206.52M276.75 230.36V234.03M276.75 230.36V236.91M277.08 231.61V239.62M277.41 212.85V197.96M277.74 231.62V237.25M278.4 230.88V231.7M278.4 230.88V243.6M279.06 232.2V237.17M279.39 214.08V212.7M279.39 230.4V242.18M279.72 212.94V200.57M279.72 231.15V233.08M280.05 213.42V210.98M280.05 231.58V235.23M280.38 213.33V202.37M280.38 231.01V233.93M280.71 212.86V210.44M281.37 213.76V208.75M281.7 213.18V209.57M281.7 213.18V203.45M282.69 231.69V233.17M283.02 213.53V212.04M283.35 212.86V210.44M283.68 212.85V206.95M284.01 212.99V202.52M284.01 230.38V232.77M284.34 212.17V208.39M285 213.13V212M285 231.51V232.98M285.33 212.95V208.81M285.66 212.88V210.78M285.99 213.54V207.45M286.32 213.33V210.08M286.32 230.78V233.89M286.65 213.52V210.32M286.65 230.83V233.19M286.98 231.05V238.09M287.64 232.16V237.99M287.64 232.16V244.87M288.3 212.51V209.16M289.29 231.05V232.45M289.62 213.18V212.26M289.95 230.47V235.45M290.28 213.42V212.42M291.27 231.32V236.18M291.93 213.77V212.79M291.93 231.14V236.77M292.59 231.33V235.75M293.58 230.38V232.16M294.24 230.87V233.02M294.9 231V236M295.56 213.1V211.16M295.56 230.68V232.43M295.89 213.09V208.7M295.89 231.7V234.51M296.88 231.08V232.69M297.21 213.59V208.43M297.87 231.25V234.6M298.2 213.46V211.42M298.2 230.63V231.54M298.86 213.07V211.89M298.86 231.27V232.59M299.19 231.47V235.06M299.85 212.95V211.22M300.18 230.89V236.24M300.51 231.33V232.21M301.83 213.26V200.34M301.83 231.06V233.19M302.49 213.35V209.48M302.82 214.17V200.28M302.82 230.99V233.77M304.14 212.4V210.17M304.14 231.75V236.49M304.47 231.43V236.6M304.8 231.45V234.32M306.12 231.74V234.77M306.45 213.62V211.23M306.78 231.4V241.01M307.11 212.63V210.23M307.11 231.46V234.82M307.44 213.51V199.26M307.44 230.56V233.87M307.77 213.15V209.3M307.77 213.15V203.23M307.77 231.16V232.16M308.1 213.25V209.15M308.1 231.51V232.49M308.43 212.58V206.28M308.43 231.95V235.09M309.42 231.15V237.32M309.75 213.15V210.43M310.08 213.73V210.84M310.41 213.79V208.34M310.74 230.86V242.73M311.4 231.04V240.48M311.73 213.22V199.69M312.06 231.07V233.7M312.39 213.01V210.72M312.39 213.01V201.8M312.72 213.16V210.88M312.72 231.98V233.02M313.05 213.09V207.59M313.38 230.61V231.67M314.04 212.88V207.1M314.04 232.25V235.97M314.37 231.45V232.37M314.7 213.36V211.15M315.03 214.01V212.76M315.36 231.18V234.89M315.69 231.12V233.75M316.35 231.48V235.55M316.68 231.21V232.1M317.01 231.28V232.24M317.67 213.04V206.57M318.33 213.11V211.67M318.66 212.82V211.12M318.99 230.7V232.8M319.32 231.74V233.78M320.31 231.14V232.2M320.64 231.61V238.03M320.97 231.71V237.54M321.63 213.04V211.33M322.29 213.13V212.08M322.29 230.89V231.99M322.95 231.4V232.24M323.28 212.37V198.99M323.94 213.58V209.84M324.27 231.83V234.36M324.6 213.54V212.15M324.6 213.54V202.05M324.93 213.11V204.23M324.93 231.63V239.37M325.59 230.5V235.85M325.92 213.58V212.31M325.92 231.68V232.94M326.25 213.57V209.94M326.25 232V234.02M327.24 212.97V210.29M327.57 212.71V209.2M327.9 213.52V211.09M327.9 231.14V233.9M328.23 212.55V210.9M328.89 213.06V210.11M329.22 212.93V210.07M329.22 231.63V234.48M329.55 213.72V210.47M329.88 231.92V233.84M330.21 231.05V233.13M330.54 213.54V211.72M330.54 230.75V235.79M330.87 231.73V236.15M331.2 213.66V212.46M331.86 231.2V232.24M332.19 231.98V233.67M333.51 231.83V235.05M334.17 213.2V198.71M334.17 213.2V202.38M334.83 213.19V207.21M334.83 231.34V233.97M335.16 230.88V233.62M335.82 231.32V232.61M336.48 213.15V208.2M336.48 231.06V240.7M336.81 213.21V211.5M337.14 231.42V232.74M337.8 213.7V209.95M337.8 231.28V236.45M338.13 231.06V232.67M338.46 231.41V232.82M338.79 230.92V233.21M339.12 213.19V211.45M339.45 213.36V209.5M339.45 231.17V232.74M339.78 213.03V208.94M339.78 231.17V234.14M340.11 231.18V235.54M340.44 212.63V205.19M341.1 212.79V205.19M341.43 231.38V233.09M341.76 230.78V232.53M342.09 213.23V212.35M342.09 231.65V232.83M342.42 213.23V211.15M342.75 231.36V233.04M343.08 231.48V243.7M343.74 213.21V211.96M344.4 231.43V239.13" stroke="#6c6c6c" stroke-width="0.42" fill="none"/>
<path d="M47.73 212.21V210.61M48.06 212.85V210.4M48.39 213.17V211.77M48.39 231.3V232.96M48.72 231.42V232.54M50.37 231.4V233.81M51.03 231.73V233.57M52.02 213.04V211.9M52.02 231.85V232.98M52.35 214.28V212.81M52.35 231.22V233.97M52.35 231.22V243.11M52.68 213.68V205.67M53.34 213.33V210.76M53.34 231.76V233.5M54.33 213.54V211.63M54.66 231.43V233.87M54.99 231.07V233.38M55.32 213.64V211.75M55.65 231.49V234.39M55.98 213.37V211.09M56.31 212.91V210.46M56.31 230.69V232.22M56.64 213.04V211.14M56.64 230.87V232.31M56.64 230.87V236.28M56.97 213.84V212.77M56.97 231.17V233.36M57.63 213.36V210.78M57.96 212.58V210.29M57.96 231.49V233.46M58.29 232V233.84M59.28 212.8V210.15M59.28 230.7V234.11M59.61 231.03V232.52M59.94 231.69V233.49M60.27 212.63V210.85M60.6 231.8V234.17M60.93 212.85V210.65M61.26 213.69V212.68M61.26 231.34V232.68M62.58 231.09V232.21M62.91 213.05V211.59M63.57 230.91V232.72M63.9 213.74V211.26M63.9 231.06V233.63M64.23 212.81V211.49M64.23 230.63V231.98M64.56 213.98V211.58M64.56 231.35V233.69M65.55 212.91V210.84M65.55 232.02V234.04M65.88 231.49V233.56M66.21 213.96V211.31M66.21 230.97V233.92M66.54 213.28V211.2M66.54 231.38V236.57M66.87 212.78V204.4M67.2 213.14V211.8M67.2 231.27V233.9M67.86 213.58V211.59M67.86 213.58V206.1M68.19 213.08V211.3M68.19 230.83V233.3M68.85 214.37V211.97M69.51 213.25V210.58M69.51 231.52V233.6M69.84 212.73V210.23M70.5 231.06V233.43M70.83 213.93V212.61M70.83 213.93V201M70.83 231.64V233.03M71.16 213.68V212.23M71.16 230.8V232.32M71.49 213.52V212.12M72.15 231.08V233.8M72.48 213.05V210.38M72.48 231.26V233.52M73.14 231.07V233.76M73.47 212.99V211.21M73.47 231.54V234.79M73.8 230.96V232.78M74.13 231.07V233.69M74.46 231.03V232.78M74.79 213.57V211.72M75.12 213.62V211.18M75.12 231.15V233.99M75.12 231.15V234.8M75.45 230.97V232.3M75.78 214.05V213.07M75.78 231.42V233.32M76.11 230.53V232.25M76.44 230.57V232.38M76.77 231.4V232.68M77.1 212.65V210.38M77.1 232V234.85M77.43 213.41V211.68M78.42 213.52V212.15M78.42 231.34V233.74M78.75 213.61V211.46M78.75 231.37V233.47M79.08 231.51V233.73M79.41 212.83V211.23M79.41 231.01V232.88M79.74 213.43V212.03M79.74 232.02V234.7M80.4 212.99V211.43M80.4 231.87V233.04M80.73 213.13V210.75M80.73 230.88V232.42M81.39 213.56V211.81M81.39 231.8V234.08M81.72 213.3V211.29M82.05 231.25V232.67M82.38 212.83V211.87M82.71 213.37V211.71M83.04 213.44V211.84M84.03 213.25V211.01M84.36 212.66V210.86M84.36 231.58V233M84.69 213.2V211.09M84.69 213.2V208.08M84.69 231.36V232.97M85.68 213.38V212.42M85.68 231.15V234M86.01 231.56V235.55M86.67 232V234.5M87.33 212.73V210.69M87.33 231.2V233.36M87.66 230.94V233.14M87.99 231.15V234.11M88.32 212.5V209.95M88.32 231.3V233.51M88.65 213.48V211.61M88.65 231.39V233.87M88.98 213.2V210.92M88.98 230.79V231.82M89.31 213.33V212.35M89.31 231.14V232.26M89.64 231.22V233.25M90.63 231.43V233.34M91.29 212.68V210.69M91.29 231.47V233.77M91.62 213.25V212.31M91.95 213.27V210.72M91.95 231.38V234.26M92.28 212.82V208.41M92.28 230.87V233.03M92.61 231.74V232.81M93.27 213.49V211.91M93.27 231.8V234.48M93.93 213.34V211.11M94.59 213.41V212.09M94.59 231.21V232.24M95.25 213.88V211.99M95.58 231.55V233.05M95.91 230.83V232.96M96.24 231.71V233.63M96.57 231.57V234.33M96.9 231.09V232.31M97.23 213.08V211.97M97.56 230.99V233.54M97.89 231.25V232.98M98.22 214V212.02M98.88 231.27V234.02M99.87 213.46V200.72M100.2 213.44V211.71M100.2 231.53V232.79M100.53 212.9V210.56M100.53 231.77V234.03M100.86 231.02V233.48M101.19 231.45V233.94M101.52 231.14V232.6M101.85 230.93V233.87M102.51 213.89V212.59M102.51 231.72V233.22M102.84 212.34V210.55M103.5 231.73V233.44M103.83 231.23V233M104.16 230.73V233.42M104.49 213.71V212.19M104.82 231.45V234.04M105.15 212.96V211.2M105.48 213.9V212.93M105.48 232.03V234.74M105.81 231.76V233.37M106.14 213.41V207.95M106.14 231.22V233.65M106.47 213.54V211.76M106.47 231.96V234.77M106.8 213.26V210.61M107.13 213.11V211.78M107.13 231.93V234.01M107.79 213.35V210.8M108.12 213.04V211.44M108.45 212.6V210.24M108.45 231.31V233.89M108.78 213.16V211.13M109.11 213.34V210.87M109.44 213.17V211.05M109.77 213.49V211.89M110.1 230.97V232.92M110.43 213.61V211.29M110.43 231.22V233.34M110.76 213.28V210.83M111.09 230.82V233.04M111.42 231.14V242.56M111.75 213.58V211.67M111.75 230.88V234.69M112.08 231.38V232.5M112.74 213.76V211.92M112.74 231.43V234.32M113.07 231.2V233.17M113.4 213.38V211.04M113.4 230.92V232.24M114.06 213.32V212.15M114.06 231.31V233.83M114.39 213.78V212.41M114.39 231.88V234.82M114.72 213.89V211.33M115.05 231.28V232.74M115.71 230.87V233.21M116.37 213.84V207.48M116.37 231.57V233.08M116.7 230.74V232.45M117.36 231.82V233.11M118.02 231.28V232.79M118.35 230.91V233.81M118.68 231.43V233.44M119.01 213.51V211.49M119.01 231V232.98M119.34 213.03V211.42M119.67 213.1V211.46M119.67 230.88V232.1M120 232.03V233.58M120.33 213.96V212.58M120.99 213.2V210.52M120.99 213.2V203.79M120.99 231.56V233.59M121.32 213.2V210.59M121.98 212.97V211.82M121.98 231.27V233.03M122.31 213.43V210.96M122.64 231.6V234.24M122.97 213.4V210.74M123.3 230.98V232.58M123.63 212.24V209.15M123.96 213.15V211.51M123.96 213.15V201.37M123.96 230.77V232.53M124.29 212.67V210.82M124.29 231.92V234.78M124.62 231.2V233.44M124.95 214.11V212.72M124.95 231.38V234.13M125.28 213.03V211.53M125.61 213.15V211.01M125.61 231.29V233.85M125.94 213.1V199.41M125.94 231.35V233.88M126.27 212.89V211.66M126.6 213.86V212.36M126.6 231.5V233.93M126.93 212.5V210.46M127.26 213.41V211.83M127.59 212.99V210.95M127.59 231.56V233.26M127.92 213.72V211.26M128.25 213.55V212.58M128.25 231.48V233.39M128.91 212.63V209.98M129.24 213.53V211.13M129.24 231.83V233.46M129.9 230.6V232.85M130.23 231.03V233.88M130.56 213.47V206.33M130.89 212.91V211.09M130.89 212.91V206.08M130.89 231.8V234.65M131.22 231.76V234.03M131.55 231.57V232.76M131.88 213.13V211.6M132.87 230.91V232.03M133.53 213.63V200.23M133.86 213.16V211.28M133.86 230.68V234.66M134.52 213.01V210.41M134.85 213.39V211.31M134.85 231.32V232.89M135.18 230.98V232.63M135.84 213.32V211.68M136.17 213.27V211.74M136.5 212.86V210.51M136.83 212.79V210.9M137.16 213.73V211.53M137.16 231.18V232.96M137.49 213.1V211.52M137.49 231.05V233.86M137.49 231.05V237.69M137.82 231.74V232.84M138.15 213.45V210.93M138.48 213.19V210.54M138.48 230.98V233.85M138.81 213.12V210.56M138.81 231.19V232.95M139.14 213.86V204.46M139.14 231.37V232.46M139.47 212.96V212.01M139.47 230.62V231.64M139.8 213.06V211.57M139.8 231.1V232.13M140.13 212.89V211.14M140.46 213.15V210.51M140.46 230.77V237.69M140.79 231.39V233.33M141.12 213.26V211.13M141.12 231.32V232.59M141.45 212.72V211.24M141.45 231.09V232.9M141.78 231.7V234.42M142.11 213.35V212.37M142.11 230.94V232.14M143.1 213.72V201.11M143.1 231.72V233M143.43 214V211.51M143.43 231V232.99M143.76 213.16V211.94M144.42 213.47V211.54M144.42 231.74V234.62M144.75 231.92V233.29M145.08 230.72V232.42M145.41 213.47V211.17M145.74 212.68V211.52M145.74 230.89V231.9M146.07 231.68V234.38M146.4 231.83V234.74M146.73 212.72V210.67M146.73 231.19V233.05M147.06 231.4V233.98M147.39 231.81V233.46M148.05 231.25V233.04M148.38 230.67V233.66M148.71 231.03V232.03M149.04 213.34V211.18M149.37 213.67V211.48M149.7 231.41V233.93M150.03 213.21V211.53M150.36 212.47V210.57M150.69 213.33V211.37M150.69 231.61V234.22M151.02 213.52V211.84M151.02 231.01V233.11M151.35 231.84V233.01M151.68 231.13V233.35M152.01 231.69V233.98M152.34 231.08V232.46M152.67 212.86V211.22M152.67 231.4V233.79M153 213.18V211.06M153.33 213.38V211.51M153.66 230.9V232.82M153.99 231.06V232.49M154.65 213.34V212.09M154.65 231.61V233.22M154.98 213.49V211.86M154.98 231.29V233.06M155.31 213.87V211.19M155.31 231.2V233.37M155.64 213.38V211.46M155.97 212.87V211.92M155.97 231.2V234.02M156.63 213.16V211.76M156.63 231.77V233.07M156.96 212.94V211.81M156.96 231.66V234M157.29 212.64V209.96M157.29 231.86V234.68M157.95 212.93V210.96M157.95 231.03V232.38M158.61 213.23V211.08M158.61 231.89V234.39M158.94 213.22V211.62M159.6 213.96V212.82M160.92 231V234.46M161.25 213V210.55M161.25 230.79V233.26M161.58 212.5V210.56M161.58 231.27V233.75M161.91 213.86V212.12M161.91 230.42V233.03M162.24 213.31V211.3M162.24 231.07V233.91M162.57 213.49V211.75M162.57 231.47V232.77M162.9 213.89V211.29M163.23 231.28V233.51M163.56 230.96V233.55M163.89 212.28V210.39M163.89 231.17V243.82M164.22 213.71V212.22M164.55 213.33V212.27M164.55 231.48V233.83M164.88 212.99V211.3M164.88 231.47V234.06M165.21 213.64V211.27M165.21 231.01V232.16M165.54 231.89V234.78M165.87 231.43V233.85M166.2 212.44V211.07M166.2 231.05V233.53M166.53 231.82V234.71M166.86 231.15V232.95M167.19 213.24V212.15M167.52 213.84V211.76M167.52 231.63V233.64M167.85 231.26V232.55M168.84 212.96V211.98M169.17 231.2V233.64M169.83 212.7V210.89M169.83 231.38V232.69M170.16 212.62V209.99M170.16 231.28V233.2M170.49 213.66V212.67M170.49 231.47V234.06M170.82 231.19V232.64M171.15 212.76V210.64M171.48 214.13V212.09M171.81 212.87V210.39M172.14 231.2V233.81M172.47 212.82V210.17M172.47 231.93V234.86M172.8 232.05V233.47M173.13 212.9V207.82M173.46 213.15V212.17M173.79 212.28V210.91M173.79 231.17V233.3M174.78 213.22V211.75M175.11 213.78V204.14M175.44 231.27V232.7M176.1 231.36V232.39M176.43 212.84V198.52M177.09 213.22V212.19M177.42 213.44V212.16M177.42 231.77V233.41M177.75 231.07V232.69M178.08 212.31V209.75M178.08 212.31V198.92M178.08 231.39V233.02M179.07 212.25V210.88M179.4 212.81V211.48M179.4 230.26V238.71M179.73 213.01V211.38M179.73 232.15V234.23M180.72 230.58V237.51M181.05 212.75V210.55M181.38 213.31V210.69M181.38 231.93V234M181.71 213.27V211.63M181.71 213.27V210.15M181.71 231.48V233.72M182.04 213.05V210.62M182.37 214.13V212.69M182.37 214.13V207.4M182.7 231.42V232.86M183.03 214.22V212.81M183.03 231.28V234.08M183.36 231.75V233.2M184.02 213.31V212.05M184.68 213.47V212.43M185.01 213.05V210.69M185.34 213.05V211.5M186 213.8V211.87M186 231.65V232.96M186.66 213.68V212.56M186.99 213.42V212.34M186.99 230.54V232.53M186.99 230.54V237.99M187.32 213.29V211.35M187.32 230.74V233.52M187.65 212.75V211.44M187.98 230.87V232.17M188.31 213.36V212.08M188.31 213.36V200.17M188.64 231.59V233.14M188.97 212.99V200.73M188.97 231.34V234.24M189.3 231.08V232.17M189.63 212.53V210.63M189.63 231.29V233.57M189.96 213.85V212.54M190.29 213.86V211.61M190.62 212.77V210.83M190.62 230.93V232.07M190.95 231.1V232.98M191.28 213.14V211.26M191.28 213.14V209.93M191.61 212.98V210.66M191.61 230.95V232.49M191.94 213V210.96M192.6 213.86V212.76M192.6 230.61V233.58M192.6 230.61V240.84M192.93 230.79V232.51M193.26 213.24V211.49M193.26 230.83V232.83M193.59 231.01V232.71M194.25 230.01V231.13M194.91 231.86V234.4M195.24 213.46V210.94M195.24 231.78V233.76M195.9 212.99V210.62M195.9 212.99V209.05M196.23 213.04V210.89M196.23 231.39V240.86M196.56 213.14V211.97M196.56 231.08V233.52M196.89 230.63V232.75M197.22 212.82V210.6M197.22 231.44V232.54M197.55 213.14V207.35M197.55 231.73V232.78M198.54 231.65V234.08M198.87 212.86V205.7M198.87 231.43V234.13M199.2 213.21V208.35M199.2 231.75V244.43M199.86 230.58V233.2M200.19 213.58V208.76M200.52 231.66V233.15M200.85 230.99V233.77M201.51 212.93V209.15M201.51 212.93V202.51M201.51 231.59V235.83M202.17 213.09V210.61M202.17 232.29V235.49M202.5 231.61V233.1M202.83 231.22V235.3M203.16 212.93V204.25M203.49 213.13V208.66M203.49 213.13V198.05M203.82 213.4V209.58M203.82 213.4V202.6M203.82 232.65V234.54M204.48 213.02V208.7M204.81 231.03V235.03M205.47 213.2V209.99M205.47 231.57V235.87M205.8 213.42V209.5M206.46 213.31V206.19M206.79 213.48V210.83M206.79 231.49V235.51M207.12 213.21V208.46M207.12 231.65V242.87M207.45 231.23V234.9M207.78 213.36V211.08M208.11 213.53V209.57M208.77 231.33V237.34M209.1 213.02V211.08M209.1 231.2V242.63M209.43 213.22V210.81M209.43 213.22V207.27M209.43 231.62V233.68M209.76 213.35V209.73M210.09 213.19V211.76M210.09 230.58V232.97M210.75 212.69V209.29M211.08 212.5V209.43M211.41 213.13V199.18M212.07 213.21V210.21M212.07 230.58V236.46M212.4 231.17V234.29M212.73 214.27V209.94M212.73 231.9V234.23M213.39 232.17V233.87M214.05 212.62V210.57M214.05 231.77V233.13M214.38 212.9V210.79M214.71 213.71V207.3M215.04 213.18V210.43M215.37 213.19V210.47M215.37 213.19V205.96M215.37 231.62V235.42M215.7 231.84V236.31M216.36 213.25V210.61M216.36 231.46V241.07M217.02 213.31V204.28M217.35 212.81V209.32M217.35 212.81V199.45M217.35 230.97V233.12M218.01 213.16V208.3M218.34 213.49V211.11M218.34 231.44V234.96M218.67 231.3V233.52M219 213.44V199.58M219.66 213.37V209.67M219.66 213.37V205.69M219.99 213.5V209.97M220.32 212.84V208.04M220.98 230.73V234.53M221.31 213.31V209.22M221.31 230.91V234.27M221.64 213.67V209.34M221.64 231.85V233.37M221.97 213.27V208.84M221.97 231.99V233.89M222.3 213.11V207.06M222.3 231.65V233.34M222.63 213.12V210.04M222.63 232.17V234.59M222.96 213.31V208.3M223.29 213.51V209.52M223.29 231.49V233.64M223.95 232.22V236.27M224.61 231.49V234.21M224.94 231.47V233.82M225.27 213.01V207.1M225.27 231.04V234.36M225.6 212.98V209.17M225.6 212.98V206.23M225.6 231.29V234.21M225.93 213.5V199.75M226.26 231.14V232.96M226.59 230.91V235.16M226.92 212.74V206.82M226.92 231.64V235M227.58 213.32V209.54M227.58 213.32V199.86M227.58 231.43V233.48M228.24 213.41V210.62M228.57 212.8V210.88M228.9 213.21V210.46M228.9 231.22V235.16M229.23 231.22V235.27M229.56 213V206.59M229.56 230.89V232.83M229.89 231.43V235.05M230.22 213.08V197.28M230.55 213.24V198.06M231.21 214.16V208.91M231.21 231.31V234.92M231.54 213.14V199.84M231.87 213.23V210.36M231.87 231.42V233.74M232.2 213.17V210.07M232.2 213.17V203.47M232.53 213.1V211.04M232.86 231.69V235.42M233.19 213.22V207.17M233.52 213.12V210.8M233.52 231.96V236.33M233.85 213.48V207.81M234.51 212.86V209.55M234.51 231.44V235.66M234.84 213.2V200.78M234.84 231.05V234.95M235.17 213.32V199.14M235.17 231.1V234.14M235.5 213.09V199.17M235.5 231.72V233.91M235.83 231.33V233.48M236.16 213.16V208.41M236.16 213.16V204.75M236.16 231.46V234.8M236.49 231.19V234.16M236.82 231.68V235.3M237.15 231.6V238.05M237.81 213.68V211.73M238.14 212.83V196.37M238.14 231.76V236.08M238.47 213.45V211.11M238.47 231.67V236.01M238.47 231.67V243.69M238.8 213.11V210.49M238.8 231.47V235.63M238.8 231.47V243.26M239.13 214.63V202.75M239.13 231.31V233.6M239.46 213.44V210.86M239.46 231.68V233.8M239.79 213.22V211.49M239.79 232.38V245.67M240.12 213.16V208.51M240.45 212.62V207.96M240.45 230.89V239.5M240.78 213V200.92M241.11 231.36V235.8M241.11 231.36V244.28M241.77 213.09V209.32M242.1 231.16V234.16M242.43 213.22V210.81M242.76 212.84V210.99M243.09 213.24V207.83M243.42 213.4V210.64M243.42 231.41V233.48M243.42 231.41V243.12M243.75 212.64V207.59M243.75 212.64V202.52M243.75 231.77V235.99M244.08 231.38V235.23M244.41 212.15V209.25M244.41 231.37V234.27M244.74 212.56V203.87M245.4 213.67V204.42M245.4 230.87V232.23M246.06 212.71V208.29M246.06 212.71V202.65M246.39 213.17V209.74M246.72 213.07V205.09M247.05 213.61V209.75M247.38 213.33V207.59M248.04 213.43V207.73M248.04 213.43V205.41M248.37 213.03V208.03M248.7 213.57V210.31M248.7 231.21V234.51M248.7 231.21V243.3M249.03 213.07V211.32M249.03 231.73V233.61M249.36 213.62V207.81M249.36 230.96V235.16M250.02 213.29V204.06M250.35 230.93V234.49M250.68 212.61V207.46M251.01 230.77V235.22M251.34 231.41V233.05M251.67 230.45V233.47M252 213.72V208.63M252.33 213.08V208.56M252.66 212.69V209.87M252.66 212.69V197.18M252.66 231.77V236.25M253.32 212.73V209.3M253.98 230.8V234.11M254.31 213.66V209.91M254.31 213.66V204.64M254.97 213.56V208.89M254.97 231.33V235.16M255.96 213.18V207.84M255.96 231.71V235.97M256.29 231.04V232.36M256.62 213.37V209.39M256.95 213.31V208.42M256.95 230.89V235.24M257.28 231.24V234.28M257.61 230.21V242.57M257.94 212.6V198.03M257.94 231.27V235.6M257.94 231.27V237.48M258.27 231.33V234.2M258.6 213.18V197.4M258.93 231.15V233.16M259.59 231.05V234.68M259.92 213.14V208.3M259.92 213.14V199.61M259.92 231.07V233.21M260.25 213.52V208.79M260.25 213.52V205.34M260.58 231.49V232.91M261.57 231.45V235.2M261.9 212.7V206.85M262.23 212.98V207.88M262.23 212.98V200.74M262.56 213.01V208.43M262.56 232.13V234.31M262.89 213.1V211.31M263.22 231.11V232.5M263.55 213.61V210.23M263.55 231.4V233.94M263.88 213.47V199.7M264.21 213.21V209.16M264.21 231.82V235.51M264.54 230.77V233.25M264.87 213.59V210.83M265.2 212.97V207.52M265.2 231.02V238.09M265.53 212.93V206.63M265.86 231.42V233.33M266.19 214.01V208.49M266.52 212.3V210.43M266.52 231.19V235.63M266.85 212.97V207.4M266.85 230.97V234.2M267.18 231.23V234.74M267.51 230.89V233.35M267.84 213.53V198.45M268.17 230.68V235.17M268.5 231.55V235.63M268.83 213.03V207.68M269.16 213.34V203.2M269.82 213.43V211.04M270.15 231.17V235.32M270.48 213.09V210.31M270.81 213.35V197.82M271.14 213.06V209.67M271.47 213.29V206.84M271.47 231.13V234.48M271.8 212.82V207.91M271.8 212.82V201.84M271.8 231.48V234.72M272.13 213.74V204.54M272.13 231.59V235.55M272.79 213.64V200.9M272.79 231.6V234.71M273.12 214.02V208.12M273.78 213.2V210.91M273.78 231.49V233.2M274.11 231.75V234.98M274.44 213.19V206.81M274.44 213.19V197.32M274.44 231.17V233.61M275.1 212.89V210.66M275.1 231.61V233.47M275.43 212.51V209.93M275.43 212.51V198.53M275.76 213.32V206.89M276.09 213.22V208.36M276.09 231.25V232.88M276.42 213.79V208.19M276.75 213.89V209.35M276.75 230.36V232.55M277.08 212.68V207.49M277.08 231.61V234.56M277.41 212.85V210.89M277.41 231.59V236M277.74 231.62V234.94M278.07 231.89V233.38M278.4 213.25V207.9M278.4 213.25V198.17M278.4 230.88V234.84M279.39 214.08V209.57M279.39 230.4V234.02M279.72 212.94V207.82M279.72 231.15V233.12M280.05 213.42V211.47M280.05 231.58V236.85M280.38 213.33V209.87M280.38 231.01V234.78M281.04 213.53V209.88M281.04 213.53V200.2M281.37 213.76V211.22M281.37 231.36V233.29M281.37 231.36V236.82M281.7 231V234.46M281.7 231V236.82M282.03 213.26V210.31M282.03 231.39V235.06M282.36 213.45V210.83M282.36 231.66V233.51M282.69 213.58V209.36M283.35 212.86V199.27M283.68 231.17V234.74M283.68 231.17V240.29M284.01 212.99V211.35M284.34 212.17V209.87M284.34 230.87V234.36M284.67 212.7V207.98M285.33 212.95V211.54M285.33 212.95V204.66M285.33 231.28V234.06M285.66 212.88V208.36M285.66 231.28V232.7M285.99 230.51V234.5M286.32 213.33V198.83M286.65 213.52V210.14M286.65 230.83V234.54M286.98 231.05V233.66M287.31 231.05V234.62M287.64 212.87V207.92M287.97 213.3V211.69M288.3 212.51V209.6M288.3 230.88V232.64M288.63 212.87V208.31M288.63 231.02V235.34M289.29 213.53V211.52M289.29 231.05V234.57M289.62 231.08V235.49M289.95 212.76V208.08M290.28 213.42V209.8M290.94 231.54V239.89M291.27 212.83V209.05M291.93 213.77V211.66M291.93 231.14V235.42M292.26 230.49V233.34M292.59 212.76V206.78M293.25 230.75V232.04M293.91 231.74V234.61M293.91 231.74V238.34M294.24 212.73V210.79M294.24 230.87V234.46M294.9 213.3V209.94M294.9 231V232.21M295.23 212.59V208.74M295.56 213.1V211.47M295.89 231.7V236.98M296.55 213.29V209.78M296.55 231.65V235.14M296.88 231.08V238.14M297.21 213.59V211.54M297.54 231.3V234.7M297.87 212.98V210.51M297.87 231.25V234.53M298.2 230.63V242.99M298.53 213.07V210.98M298.86 231.27V233.38M299.19 214.04V210.24M299.52 212.22V209.75M299.85 212.95V211.58M299.85 230.98V233.12M300.51 231.33V234.7M301.17 230.87V233.76M301.5 213.09V210.32M302.49 213.35V210.95M302.82 214.17V210.11M303.15 230.54V237.01M303.48 213.12V209.68M303.48 231.36V233.57M304.14 212.4V204.49M304.47 231.43V234.94M304.8 231.45V233.49M304.8 231.45V235.54M305.13 231.02V232.18M305.46 230.99V232.58M305.79 232.57V238.65M306.12 231.74V234.95M306.78 212.97V210.18M306.78 231.4V232.8M307.11 231.46V233.13M307.44 230.56V231.78M307.77 213.15V210.7M307.77 231.16V232.56M308.1 213.25V210.77M308.1 231.51V234.59M308.43 231.95V235.29M308.76 231.93V234.99M309.09 212.81V210.14M309.09 231.14V234.48M309.09 231.14V237.36M309.42 213.14V211.71M309.42 231.15V234.54M309.75 213.15V199.13M310.08 231.37V234.96M310.41 213.79V209.86M310.41 231.63V233.64M311.07 213.16V211.88M311.4 213.92V212.22M311.4 231.04V232.76M311.73 213.22V209.23M312.06 213.59V211.39M312.06 231.07V233.93M312.39 232.02V234.47M312.39 232.02V242.44M312.72 231.98V233.39M313.05 231.87V234.4M313.38 230.61V232.88M314.37 231.45V233.34M314.7 231V234.03M315.03 231.52V234.52M315.36 212.47V209.44M315.36 212.47V205.77M315.36 231.18V232.54M315.69 213.23V209.39M316.02 213.45V211.69M316.02 231.39V234.52M316.35 213.07V210.54M316.35 213.07V206.04M316.68 213.53V211.84M317.01 213.4V211.55M317.34 213.39V211.11M317.34 230.87V240.8M317.67 213.04V210.57M318 213.12V211.84M318 231.57V234.56M318.33 213.11V209.92M318.33 231.32V240.69M318.66 212.82V207.72M318.99 213.27V210.2M319.32 231.74V234.83M319.65 230.81V232.72M319.98 212.67V209.29M319.98 231.56V232.73M320.64 212.98V210.01M320.64 231.61V241.87M320.97 231.71V234.22M321.63 230.06V232.74M321.96 213.33V209.34M321.96 230.46V233.67M322.29 230.89V233.74M322.62 213.34V209.92M322.62 230.91V233.7M322.95 213.27V210.96M322.95 213.27V198.56M322.95 231.4V234.95M323.28 212.37V209.1M323.61 231.55V234.93M323.94 213.58V210.93M324.27 231.83V234.39M324.6 213.54V211.61M324.6 231.21V234.57M324.93 213.11V199.5M325.26 213.24V210.78M325.26 231.44V233.79M325.59 213.69V210.4M325.59 230.5V233.89M325.92 213.58V212.08M325.92 231.68V234.55M326.25 213.57V211.07M326.58 213.97V212.05M326.91 213.62V212.05M326.91 231.6V242.54M327.24 231.5V233.48M327.57 231.18V234.54M327.57 231.18V235.23M327.9 213.52V198.74M327.9 231.14V236.53M328.23 212.55V210.49M328.23 231.69V233.57M328.56 213.07V209M328.89 213.06V211.82M328.89 231.07V232.38M329.22 231.63V234.43M330.21 231.05V234.55M330.54 230.75V234.17M330.87 213.04V209.6M330.87 231.73V233.51M330.87 231.73V244.77M331.2 213.66V212.15M331.2 230.67V236.38M331.53 213.98V210.71M331.53 231.12V232.89M331.86 231.2V232.77M332.19 213.14V211.73M332.19 231.98V233.57M332.52 213.64V209.58M332.52 231.3V234.03M332.85 230.8V234.46M333.18 231.28V233.31M333.18 231.28V235.16M333.51 212.81V208.78M333.84 212.58V210.69M334.17 213.2V209.29M334.17 230.76V240.45M335.16 213.19V209.28M335.16 230.88V232.9M336.15 213.67V209.88M336.48 213.15V209.97M336.81 231.88V233.73M337.14 213.76V212.48M337.14 231.42V232.93M337.47 231.74V234.81M337.8 213.7V211.91M337.8 231.28V233.35M338.13 213.02V209.98M338.46 213.18V211.62M338.46 231.41V234.95M338.79 212.96V211.35M338.79 230.92V234.25M339.45 231.17V232.9M339.78 213.03V209.8M340.11 213.95V210.89M340.77 213.53V211.46M342.09 213.23V210.23M342.09 213.23V207.62M342.09 231.65V234.14M342.42 231.2V233.64M342.75 212.89V208.81M342.75 231.36V233.37M343.08 231.48V233.42M343.41 212.93V210.06M343.74 213.21V206.09M343.74 231.37V233.15M344.4 231.43V235.05" stroke="#464646" stroke-width="0.42" fill="none"/>
<path d="M47.4 213.77V211.9M47.4 230.64V233.15M47.73 231.47V233.23M48.06 231.12V233.7M48.72 212.92V211.68M49.05 212.37V209.75M49.05 231.6V233.09M49.38 212.61V210.58M49.38 231.45V234.17M49.71 213.3V210.8M49.71 231.29V233.62M50.04 212.53V211.22M50.04 231.89V234.24M50.37 213.45V211.26M50.7 213.65V212.61M50.7 231.3V232.79M51.03 213.73V212.66M51.36 213.3V211.85M51.36 230.86V233.77M51.69 213.18V211.99M51.69 230.94V233.92M52.68 213.68V212.39M52.68 230.62V232.8M53.01 213.45V212.41M53.01 231.6V233.04M53.67 213.63V211.2M53.67 231V233.14M54 212.45V211.1M54 230.8V232.55M54.33 231.28V233.09M54.66 212.98V210.97M54.99 212.29V210.74M55.32 230.95V232.64M55.65 212.9V211.74M55.98 231.5V232.81M57.3 213.33V210.83M57.3 231.06V233.05M57.63 213.36V205.59M57.63 231.38V232.53M58.29 213.56V212.03M58.62 212.95V211.97M58.62 231.43V232.54M58.95 213.39V212.39M58.95 231.64V233.12M59.28 230.7V233.24M59.61 213.35V212.31M59.94 213.42V210.9M60.27 230.74V232.8M60.6 213.33V211.46M60.93 231.5V232.95M61.59 213.35V210.69M61.59 231.25V232.67M61.92 213.22V210.88M61.92 230.85V231.87M62.25 214.4V213.26M62.25 230.88V232.18M62.58 213.53V211.77M62.91 213.05V210.25M62.91 231.13V233.07M63.24 213.55V211.69M63.24 231.76V233.43M63.57 213.32V211.29M64.89 213V211.4M64.89 231.29V233.24M65.22 213.05V211.24M65.22 231.71V233.13M65.88 213.09V211.48M66.54 231.38V234.35M66.87 212.78V211.33M66.87 231.4V232.75M67.53 213.3V211.08M67.53 230.88V232.23M67.86 231.42V234M68.52 213.28V211.25M68.52 231.26V233.76M68.85 231.18V232.71M69.18 213.15V211.17M69.18 230.31V232.24M69.51 213.25V209.58M69.84 232.1V233.97M70.17 213.58V211.66M70.17 231.15V233.89M70.5 213.02V210.77M70.5 213.02V208.17M71.49 231.3V233.3M71.82 213.01V211.36M71.82 231.38V234.15M72.15 213.07V210.82M72.81 213.24V211.72M72.81 230.97V233.24M73.14 213.07V211.62M73.14 231.07V242.17M73.47 231.54V234.27M73.8 213.25V211.26M74.13 213.2V212.03M74.46 213.06V210.86M74.79 231.48V233.51M75.45 212.99V210.36M76.11 213.36V210.74M76.44 213.69V212.36M76.77 213.95V212.14M77.1 212.65V208.95M77.43 213.41V203.64M77.43 231.11V232.23M77.76 213.57V211.02M77.76 231.42V233.4M78.09 213.68V212.07M78.09 230.77V231.8M79.08 212.61V211.14M79.74 213.43V210.33M80.07 212.4V209.78M80.07 230.93V233.3M81.06 213.36V212.29M81.06 231.59V233.24M81.72 232.11V234.31M82.05 212.88V211.51M82.38 230.67V232.01M82.71 231.61V232.73M83.04 231.02V233.26M83.37 213.36V210.99M83.37 230.89V232.84M83.7 213.26V210.91M83.7 231.07V232.52M84.03 213.25V205.98M84.03 230.95V232.7M85.02 213.51V211M85.02 231.55V234.4M85.35 212.76V210.24M85.35 231.62V233.27M85.68 213.38V208.87M86.01 213.48V211.38M86.01 231.56V233.17M86.34 214.13V212.97M86.34 231.75V233.86M86.67 213.18V211.74M87 213.11V211.57M87 231.36V233.43M87.66 212.78V210.14M87.99 212.57V210.12M89.64 212.58V210.68M89.97 212.41V209.8M89.97 231.07V233.65M90.3 212.51V210.43M90.3 212.51V202.11M90.3 231.06V233.97M90.63 213.85V212.19M90.96 213.65V211.23M90.96 230.93V233.06M91.62 230.89V232.26M92.28 212.82V210.21M92.61 212.95V211.43M92.94 213.59V210.97M92.94 231.58V232.72M93.6 213.57V211.08M93.6 230.98V233.89M93.93 230.8V231.97M94.26 213.26V210.74M94.26 230.8V232.11M94.92 213.15V211.63M94.92 213.15V207.27M94.92 231.7V234.61M95.25 231.56V233.08M95.58 213.3V211.37M95.91 213.43V210.81M96.24 213.18V210.62M96.57 212.95V211.51M96.9 213.19V210.73M97.23 230.33V232.02M97.56 212.9V210.64M97.89 213.53V211.56M98.22 231.89V234M98.55 213.33V211.71M98.55 231.38V233.22M98.88 213.17V210.89M99.21 212.93V211.39M99.21 231.9V233.61M99.54 212.63V209.95M99.54 231.89V233.16M99.87 213.46V212.2M99.87 231.44V233.62M100.2 231.53V236.25M100.86 213.25V211.1M101.19 212.88V210.44M101.52 213.78V211.66M101.85 213.26V211.75M102.18 213.39V212.18M102.18 231.49V233.43M102.84 232.01V233.57M103.17 213.38V212.22M103.17 231.59V233.73M103.5 213.32V212.29M103.83 213.1V211.01M104.16 213.23V211.13M104.49 231.06V233.94M104.82 212.96V211.44M105.15 231.07V233.01M105.81 213.62V211.66M105.81 231.76V241.68M106.14 213.41V211.32M106.8 231.55V233.12M107.46 213.17V211.48M107.46 213.17V210.16M107.46 231.23V232.95M107.79 231.6V233.94M108.12 231.21V234.07M108.78 231.74V233.71M109.11 232.03V233.05M109.44 231.35V233.5M109.77 231.41V232.75M110.1 213.34V212.22M110.76 231.49V232.51M110.76 231.49V235.08M111.09 213.16V210.58M111.42 213.45V210.99M111.42 213.45V199.48M111.42 231.14V232.95M111.75 230.88V232.39M112.08 213.05V210.58M112.41 212.89V211.68M112.41 231.64V234.23M113.07 213.02V211.89M113.73 213.04V211.02M113.73 230.69V233.42M114.72 231.2V234.07M115.05 212.71V210.32M115.38 212.66V210.27M115.38 231.13V233.32M115.71 211.91V210.9M116.04 213.46V211M116.04 213.46V199.19M116.04 231.71V233.11M116.37 213.84V211.94M116.7 213.33V210.76M116.7 230.74V237.8M117.03 213.11V211.86M117.03 230.83V233.54M117.36 213.55V210.95M117.69 212.86V210.4M117.69 230.97V233.67M118.02 213.49V210.92M118.02 213.49V207.78M118.35 213.76V212.48M118.68 213.71V211.25M119.34 231.07V232.8M120 212.87V210.51M120.33 232.3V234.92M120.66 213.72V212.61M120.66 231.39V233.38M121.32 231.52V233.98M121.65 213.32V211.88M121.65 231.31V232.71M122.31 231.17V233.23M122.64 213.42V211.59M122.97 230.83V232.13M123.3 213.25V211.54M123.63 212.24V210.06M123.63 231.57V232.91M124.62 212.56V210.89M125.28 231.81V234.68M125.94 213.1V211.74M126.27 231.08V234.05M126.93 231.57V233.92M127.26 230.97V233.02M127.92 231.68V234.19M128.58 213.25V211.84M128.58 231.02V232.1M128.91 231.66V233.43M129.57 213.6V211.12M129.57 231.12V233.62M129.9 213.48V212.48M130.23 213.1V211.63M130.56 213.47V211.73M130.56 231.31V232.99M131.22 213.32V211.77M131.55 213.36V212.06M131.88 231.06V232.74M132.21 212.83V210.79M132.21 231.6V234.4M132.54 213.13V211.74M132.54 231.3V234.12M132.87 212.87V210.54M133.2 212.75V211.2M133.2 230.62V232.14M133.53 213.63V211.1M133.53 231.69V233.64M133.86 213.16V203.49M133.86 230.68V231.89M134.19 213.01V211.57M134.19 231.78V234.01M134.52 232.17V234.55M135.18 213.09V212.09M135.51 212.94V210.5M135.51 231.06V232.09M135.84 231.04V232.72M136.17 213.27V205.66M136.17 231.45V233.67M136.5 231.69V234.34M136.83 231.01V233.53M137.82 213.69V211.99M138.15 231.68V234.52M138.81 213.12V198.22M139.14 213.86V211.86M140.13 231.36V232.5M140.46 230.77V232.28M140.79 212.84V211.77M141.78 213.42V211.26M142.44 213.3V211.45M142.44 231.47V232.92M142.77 212.98V210.99M142.77 231.21V232.49M143.1 213.72V211.56M143.76 231.53V232.98M144.09 212.91V211.22M144.09 231.54V234.28M144.42 213.47V206.65M144.75 213.13V211.72M145.08 213.27V212.05M145.41 231.27V232.43M146.07 213.5V211.47M146.4 212.8V210.43M146.4 212.8V209.86M147.06 213.06V211.18M147.39 213.79V211.6M147.72 212.96V211.78M147.72 231.38V234.11M148.05 213.39V211.19M148.38 212.84V210.9M148.71 213.46V212.02M148.71 231.03V234.45M149.04 231.69V233.77M149.37 230.74V232.45M149.7 213.28V211.85M150.03 231.39V234.33M150.36 231.3V232.94M151.35 213.29V211.07M151.68 213.28V211.19M152.01 213.43V211.29M152.34 213.55V211.08M153 231.18V233.94M153.33 231.95V234.22M153.66 213.31V211.92M153.99 212.83V211.89M154.32 212.43V209.86M154.32 231.87V233.16M155.64 230.81V233.05M156.3 213.38V211.31M156.3 231.44V232.54M157.29 212.64V209.5M157.62 212.49V210.32M157.62 231.45V234.08M158.28 213.04V211.19M158.28 231.17V232.69M158.94 231.34V233.35M159.27 213.3V210.91M159.27 213.3V206.23M159.27 231.85V233.61M159.6 230.69V233M159.93 213.18V210.95M159.93 213.18V197.2M159.93 231.11V233.98M160.26 213.75V211.08M160.26 230.99V233.52M160.59 212.9V210.65M160.59 231.4V234.14M160.92 212.92V211M160.92 231V233.27M162.9 230.86V233.66M163.23 213.39V210.89M163.56 213.85V211.55M163.89 231.17V233.45M164.22 231.4V233.61M165.54 213.22V210.56M165.54 231.89V237.93M165.87 212.93V211.02M166.53 213.91V211.25M166.86 212.17V210.98M167.19 232.06V233.13M167.85 213.47V211.68M168.18 212.96V211.27M168.18 231.12V232.57M168.51 213.1V210.49M168.51 230.98V232.23M168.84 231V232.87M169.17 213.31V211.2M169.5 213.18V210.57M169.5 231.83V233.14M170.82 212.7V210.56M171.15 230.82V232.98M171.48 230.73V232.68M171.81 231.86V234.08M172.14 212.68V211.26M172.8 213.51V211.34M173.13 212.9V210.5M173.13 231.42V232.74M173.46 231.61V233.29M173.79 231.17V235.12M174.12 212.95V210.68M174.12 231.26V233.65M174.45 213.21V211.45M174.45 231.34V232.91M174.78 231.31V233.96M175.11 213.78V211.7M175.11 231.9V234.26M175.44 213.4V211.2M175.77 212.05V210.37M175.77 231.66V233.17M176.1 212.55V211.59M176.43 212.84V210.49M176.43 231.56V234.34M176.76 213.08V211.3M176.76 232.03V233.5M177.09 230.7V231.72M177.75 212.52V210.91M178.41 213.51V211.63M178.41 231.18V234.1M178.74 212.79V211.83M178.74 231.13V234.07M179.07 230.78V233.73M179.4 230.26V233.24M180.06 212.71V211.59M180.06 231.65V233.94M180.39 212.72V210.04M180.39 231.22V233.9M180.72 213.59V211.46M180.72 230.58V232.48M181.05 231.58V234.49M182.04 230.64V231.81M182.37 231.11V232.57M182.7 212.65V211.42M183.36 212.81V211.74M183.69 213.08V211.84M183.69 230.93V232.39M184.02 231.06V233.73M184.35 213.63V211.14M184.35 230.33V232.44M184.68 231.76V233.39M185.01 231.56V234.19M185.34 231.14V232.35M185.67 213.66V211.48M185.67 230.6V233.43M186.33 212.98V211.35M186.33 230.75V231.98M186.66 230.8V232.34M187.65 230.93V232.54M187.98 212.69V211.57M188.31 231.74V233.46M188.64 212.08V209.85M188.64 212.08V197.12M188.97 212.99V210.46M189.3 213.36V212.41M189.96 230.78V232.06M190.29 231.46V233.33M190.95 213.15V212.04M191.28 231.44V233.71M191.94 230.75V232.41M192.27 213.39V212.11M192.27 231.71V234.03M192.93 213.23V211.05M193.59 213.25V212.12M193.92 212.92V210.84M193.92 231.24V232.46M194.25 213.45V211.13M194.58 213V211.19M194.58 231.1V232.42M194.91 212.8V211.11M195.24 213.46V200.9M195.57 212.45V211.34M195.57 231.65V232.74M195.9 231.27V233.62M196.23 231.39V233.02M196.89 212.58V211.13M196.89 230.63V240.99M197.22 212.82V200.78M197.55 213.14V210.55M197.88 213.44V211.79M197.88 231.42V233.57M198.21 213.15V209.57M198.21 231.29V235.3M198.54 213.11V210.07M198.87 212.86V208.19M199.2 213.21V206.83M199.2 231.75V235.48M199.53 212.09V209.44M199.53 212.09V198.61M199.53 231.13V233.02M199.86 213.46V209.53M200.19 231.5V235.45M200.19 231.5V242.97M200.52 213.19V209.32M200.85 212.81V208.85M201.18 213.73V211.22M201.18 231.4V235.19M201.84 213.73V210.44M201.84 230.2V232.42M202.5 212.89V209.98M202.83 213.11V208.76M202.83 231.22V238.11M203.16 212.93V211.13M203.16 230.83V232.44M203.49 230.66V234.93M204.15 213.1V210.45M204.15 231.17V234.73M204.48 231.58V234.7M204.48 231.58V236.43M204.81 213.19V208.36M204.81 231.03V241.29M205.14 213.35V211.36M205.14 231.17V234.25M205.8 230.92V234.26M206.13 213.43V211.45M206.13 231.27V232.99M206.46 213.31V208.6M206.46 231.22V233.76M207.12 231.65V233.75M207.45 213.65V209.01M207.78 231.87V235.35M208.11 231.11V233.25M208.11 231.11V236.38M208.44 213.12V210.98M208.44 213.12V208.07M208.44 231.14V233.35M208.77 212.64V209.54M208.77 212.64V205.65M208.77 231.33V233.12M209.1 213.02V202.25M209.1 231.2V234.49M209.43 231.62V237.13M209.76 213.35V207.08M209.76 230.14V232.23M210.42 213.78V210.68M210.42 230.42V233.77M210.75 231.87V235.13M211.08 231.63V234.16M211.41 213.13V207.19M211.41 231.02V234.29M211.74 212.93V207.03M211.74 231.46V235.83M212.07 230.58V233.15M212.4 213.46V207.7M213.06 212.68V210.34M213.06 212.68V197.71M213.06 231.56V234.03M213.39 212.78V207.48M213.72 213.18V207.04M213.72 231.1V234.66M214.38 231.34V233.46M214.71 231.43V235.74M215.04 231.41V234.11M215.7 213.64V208.64M216.03 212.53V208.95M216.03 231.33V235.51M216.36 231.46V235.08M216.69 213.18V207.25M216.69 231.26V233.25M217.02 213.31V210.87M217.02 231.42V233.63M217.68 213.03V207.29M217.68 231.71V236.18M218.01 213.16V202.89M218.01 231.59V234.18M218.34 213.49V204.02M218.67 212.91V209.8M219 213.44V207.35M219 231.03V233.21M219.33 212.37V207.11M219.33 212.37V198.7M219.33 230.92V234.56M219.66 230.85V234.97M219.99 230.98V234.09M220.32 231.68V235.77M220.65 213.09V206.69M220.65 213.09V199.59M220.65 231.48V235.76M220.98 213.2V210.03M221.31 213.31V205.41M222.3 213.11V204.48M222.96 231.03V233.33M223.29 213.51V201.47M223.62 213.3V209.25M223.62 231.05V235.03M223.95 212.99V208.77M223.95 212.99V206.37M224.28 213.07V207.83M224.28 231.49V233.9M224.61 212.89V209.3M224.94 212.86V208.07M225.27 213.01V197.88M225.93 213.5V211.58M225.93 230.39V232.39M226.26 212.74V210.71M226.59 213.23V209.9M227.25 213.51V210.72M227.25 231.87V234.47M227.58 231.43V242.55M227.91 213.69V210.17M227.91 230.91V233.32M228.24 213.41V206.14M228.24 230.88V232.31M228.57 231.63V235.4M228.57 231.63V236.28M229.23 212.96V207.54M229.23 212.96V201.88M229.56 213V205.71M229.89 212.8V210.36M230.22 213.08V209.66M230.22 231.41V233.81M230.55 213.24V206.97M230.55 231.65V235.52M230.88 213.28V210.44M230.88 213.28V201.84M230.88 230.95V234.83M231.54 213.14V207.09M231.54 230.75V232.88M232.2 231.33V235.18M232.53 231.18V234.21M232.86 213.08V209.38M232.86 213.08V200.62M232.86 231.69V243.99M233.19 213.22V204.96M233.19 230.81V233.72M233.52 213.12V199.67M233.85 231.5V234.32M234.18 213.37V209.87M234.18 231.57V233.68M234.51 212.86V206.1M234.84 213.2V211.41M235.17 213.32V208.55M235.5 213.09V209.36M235.83 213.11V208.73M236.49 213.44V210.18M236.49 213.44V199.01M236.82 213.27V208.19M237.15 212.99V210.19M237.15 231.6V233.9M237.48 213.18V210.43M237.48 213.18V199.56M237.48 230.81V233.83M237.81 213.68V197.56M237.81 232.13V236.4M238.14 212.83V208.53M239.13 214.63V208.78M239.79 232.38V234.65M240.12 213.16V205.8M240.12 231.3V233.92M240.45 212.62V196.25M240.45 230.89V233.72M240.78 213V209.49M240.78 231.32V233.23M241.11 213.97V210.84M241.44 213.34V210.31M241.44 231.72V233.91M241.77 230.84V234.56M242.1 213.2V210.11M242.1 213.2V203.44M242.43 231.2V235.35M242.76 231.73V235.98M243.09 231.78V233.22M243.09 231.78V236.65M244.08 213.11V207.33M244.74 212.56V209.37M244.74 230.4V231.98M244.74 230.4V242.31M245.07 213.52V211.33M245.07 230.97V233.31M245.4 213.67V208.22M245.73 213.91V212.18M245.73 213.91V204.64M245.73 231.51V235.03M246.06 231.36V232.9M246.39 230.89V234.96M246.72 213.07V210.71M246.72 231.34V235.22M247.05 231.27V232.84M247.38 231.48V233.52M247.71 213.23V207.56M247.71 231.1V235.29M247.71 231.1V236.83M248.04 231.03V233.91M248.37 231.81V235.09M248.7 213.57V201.26M249.36 213.62V200.05M249.69 213.27V210.73M249.69 231.23V233.91M250.02 213.29V206.88M250.02 231.19V234.84M250.02 231.19V243.33M250.35 212.77V207.88M250.68 231.61V233.72M251.01 212.6V208.51M251.34 213.39V209.81M251.67 212.38V206.27M252 231.6V235.05M252.33 231.33V235.37M252.99 213.33V208.07M252.99 232.13V234.31M253.32 231.04V233.68M253.65 213.22V211.51M253.65 231.32V235.59M253.98 213.1V209.67M254.31 231.13V233.85M254.64 213.54V208.68M254.64 231.34V234.7M255.3 213.03V207.73M255.3 231.63V233.59M255.63 213.68V210.34M255.63 231.51V232.83M255.96 213.18V206M255.96 231.71V240.81M256.29 213.25V208.01M256.62 213.37V202.7M256.62 231.37V234.18M257.28 212.69V207.16M257.61 213.45V211.27M257.61 230.21V234.26M257.94 212.6V206.37M258.27 213.38V208.34M258.27 213.38V204.48M258.6 213.18V208.5M258.6 231.12V235.03M258.6 231.12V236.46M258.93 213.23V210.49M259.26 212.79V211.07M259.26 230.62V234.59M259.59 213.58V211.38M259.92 231.07V238.71M260.25 231.4V234.65M260.58 212.92V209.46M260.91 212.93V209.92M260.91 212.93V199.6M260.91 231.13V234.34M261.24 213.23V206.84M261.24 231.25V233.5M261.57 213.59V209.71M261.57 213.59V204.27M261.9 212.7V202.47M261.9 230.95V234.22M262.23 231.71V235.88M262.89 231.46V233.68M263.22 213.03V211.21M263.55 231.4V239.17M263.88 213.47V207.31M263.88 231.78V235.5M264.54 213.52V209.97M264.54 230.77V244.03M264.87 231.44V234.98M264.87 231.44V242.43M265.2 231.02V233.3M265.53 231.13V234.99M265.53 231.13V239.71M265.86 213.47V210.99M265.86 213.47V203.31M266.19 231.52V234.09M266.19 231.52V243.59M266.85 212.97V201.85M267.18 213.5V207.39M267.51 212.9V207.92M267.84 213.53V207.13M267.84 232V236.01M267.84 232V236.87M268.17 213.29V210.88M268.5 212.72V207.62M268.83 231.35V235.06M269.16 213.34V208.3M269.16 231.31V233.9M269.49 212.86V208.51M269.49 230.89V233.47M269.82 231.11V235.29M270.15 213.32V207.33M270.48 231.09V233.58M270.81 213.35V208.43M270.81 231.21V233.64M271.14 231.35V234.24M271.47 231.13V238.62M272.13 213.74V208.26M272.46 213.1V207.16M272.46 231.09V232.81M272.79 213.64V210.62M273.12 231.33V233.27M273.45 213.8V208M273.45 213.8V197.45M273.45 231.08V234.37M274.11 213.26V209.36M274.44 231.17V241.76M274.77 213.32V209.82M274.77 230.57V233.76M275.43 231.7V235.02M275.76 230.86V233.95M276.42 231.48V233.29M277.08 212.68V197.52M277.41 212.85V204.74M277.74 213.5V208.73M278.07 213.65V210.75M278.73 213.22V207.14M278.73 231.68V234.78M279.06 212.5V210.38M279.06 232.2V233.91M279.39 214.08V199.08M279.72 212.94V200.71M280.05 231.58V233.11M280.38 231.01V241.54M280.71 212.86V208.62M280.71 230.56V232.04M281.04 231.42V233.73M281.7 213.18V208.88M282.69 213.58V207.39M282.69 231.69V233.76M283.02 213.53V209.43M283.02 231.46V234.54M283.35 212.86V210.43M283.35 230.8V233.97M283.68 212.85V209.19M284.01 230.38V234.69M284.67 231.36V232.84M285 213.13V208.67M285 231.51V233.85M285.33 231.28V242.18M285.99 213.54V211.08M286.32 213.33V211.47M286.32 230.78V232.87M286.98 213.14V210.32M287.31 213.04V208.28M287.64 212.87V200.1M287.64 232.16V235.68M287.97 231.69V233.45M288.96 213.43V211.84M288.96 213.43V199.89M288.96 231.07V235.53M289.62 213.18V208.74M289.62 213.18V204.49M289.95 230.47V234.3M290.28 213.42V197.73M290.28 231.75V235.36M290.61 212.92V211.12M290.61 231.56V235.03M290.94 213.15V211.27M290.94 231.54V235.96M291.27 231.32V233.06M291.27 231.32V242.93M291.6 213.9V209.8M291.6 213.9V204.21M291.6 231.47V234.09M292.26 212.88V209.98M292.59 212.76V209.14M292.59 231.33V232.48M292.92 213.18V210.52M292.92 231.29V234.41M293.25 213.44V209.5M293.25 230.75V234.52M293.58 213.68V212.26M293.58 213.68V205.05M293.58 230.38V231.69M293.91 213.18V211.72M294.57 213.31V212.06M294.57 231.2V232.93M295.23 231.95V235.02M295.56 230.68V233.2M295.89 213.09V210.35M295.89 231.7V234.58M296.22 212.83V209.23M296.22 230.26V233.05M296.88 213.6V209.67M296.88 231.08V232.4M297.21 230.38V232.04M297.54 212.86V209.71M298.2 213.46V211.26M298.2 230.63V232.11M298.53 231.42V233.52M298.86 213.07V209.32M298.86 213.07V202.1M298.86 231.27V234.99M299.19 231.47V233.64M299.52 212.22V206.84M299.52 230.72V233.72M300.18 212.88V209.68M300.18 230.89V232.96M300.51 213.18V210.89M300.84 213.85V212M300.84 231.06V232.46M301.17 213.15V211.52M301.17 230.87V234.64M301.5 231.83V233.26M301.83 213.26V209.84M301.83 231.06V232.35M302.16 213.08V209.73M302.16 231.72V233.09M302.49 231.61V235.11M302.82 230.99V233.88M303.15 212.94V211.35M303.15 230.54V232.53M303.81 213.17V209.8M303.81 231.55V234.64M304.14 212.4V209.44M304.14 231.75V232.99M304.47 213.43V211.17M304.8 213.18V211.74M305.13 212.45V208.93M305.46 213.1V210.68M305.46 230.99V242.16M305.79 213.26V210.6M305.79 232.57V234.14M306.12 212.86V211.42M306.45 213.62V210.29M306.45 230.74V232.42M307.11 212.63V209.33M307.44 213.51V210.7M308.43 212.58V209.71M308.76 212.67V208.63M309.75 213.15V209.26M309.75 231.09V232.66M310.08 213.73V209.91M310.74 213.25V210.94M310.74 230.86V232.43M311.07 231.21V232.66M311.73 230.97V233.41M312.06 231.07V237.2M312.39 213.01V211.2M312.72 213.16V211.42M313.05 213.09V209.61M313.38 212.94V211.19M313.71 213.34V211.57M313.71 231.41V232.83M314.04 212.88V210.85M314.04 232.25V234.28M314.37 213.16V209.94M314.7 213.36V211.42M315.03 214.01V212.73M315.69 231.12V233.88M316.35 231.48V233.52M316.68 231.21V234.68M317.01 231.28V234.1M317.34 230.87V234.33M317.67 231.27V234.35M318.33 231.32V234.93M318.66 212.82V209.89M318.66 231.21V232.77M318.99 230.7V232.61M319.32 212.8V211.55M319.65 212.84V211.14M320.31 213.62V210.17M320.31 231.14V233.08M320.64 231.61V234.12M320.97 212.86V210.19M321.3 213.5V209.56M321.3 231.16V233.49M321.63 213.04V209.64M322.29 213.13V209.35M323.28 232.08V235.28M323.61 213.76V209.94M323.94 231.23V233.27M324.27 212.64V209.43M324.93 213.11V209.83M324.93 231.63V233.26M326.25 232V233.23M326.58 231.15V232.95M326.91 231.6V234.47M327.24 212.97V210.7M327.57 212.71V210.67M327.9 213.52V210.34M327.9 231.14V233.92M328.23 231.69V238.02M328.56 231.03V234.52M329.22 212.93V209.27M329.22 212.93V206.62M329.55 213.72V211.25M329.55 231.66V233.93M329.88 213.32V209.77M329.88 231.92V234.81M330.21 213.11V210.69M330.54 213.54V210.96M331.2 230.67V232.86M331.86 213.15V210.96M332.85 212.45V208.54M333.18 212.72V210.23M333.18 212.72V205.6M333.51 231.83V235.24M333.84 230.56V233.68M334.17 230.76V233.48M334.5 213.31V209.21M334.5 231.7V232.96M334.83 213.19V210.96M334.83 231.34V233.36M335.16 230.88V238.09M335.49 213.55V211.79M335.49 231.21V232.43M335.82 213.61V209.88M335.82 231.32V232.68M336.15 230.83V234.13M336.48 231.06V232.42M336.81 213.21V211.23M337.47 213.36V211.69M338.13 231.06V234.18M339.12 213.19V210.97M339.12 231.44V232.67M339.45 213.36V211.47M339.78 213.03V203.66M339.78 231.17V232.42M340.11 231.18V233.88M340.44 212.63V210.21M340.44 230.91V234.57M340.77 231.84V232.99M341.1 212.79V210.34M341.1 230.68V233.38M341.43 213.31V211.52M341.43 231.38V234.11M341.76 212.91V211.17M341.76 230.78V232.62M342.42 213.23V210.6M343.08 212.73V210.59M343.41 231.43V233.13M343.74 213.21V211.02M344.07 213.51V212.17M344.07 213.51V200.18M344.07 231.44V233.7M344.4 213.81V210.67" stroke="#262626" stroke-width="0.42" fill="none"/>
<path d="M47.4 213.27L47.73 211.71L48.06 212.35L48.39 212.67L48.72 212.42L49.05 211.87L49.38 212.11L49.71 212.8L50.04 212.03L50.37 212.95L50.7 213.15L51.03 213.23L51.36 212.8L51.69 212.68L52.02 212.54L52.35 213.78L52.68 213.18L53.01 212.95L53.34 212.83L53.67 213.13L54 211.95L54.33 213.04L54.66 212.48L54.99 211.79L55.32 213.14L55.65 212.4L55.98 212.87L56.31 212.41L56.64 212.54L56.97 213.34L57.3 212.83L57.63 212.86L57.96 212.08L58.29 213.06L58.62 212.45L58.95 212.89L59.28 212.3L59.61 212.85L59.94 212.92L60.27 212.13L60.6 212.83L60.93 212.35L61.26 213.19L61.59 212.85L61.92 212.72L62.25 213.9L62.58 213.03L62.91 212.55L63.24 213.05L63.57 212.82L63.9 213.24L64.23 212.31L64.56 213.48L64.89 212.5L65.22 212.55L65.55 212.41L65.88 212.59L66.21 213.46L66.54 212.78L66.87 212.28L67.2 212.64L67.53 212.8L67.86 213.08L68.19 212.58L68.52 212.78L68.85 213.87L69.18 212.65L69.51 212.75L69.84 212.23L70.17 213.08L70.5 212.52L70.83 213.43L71.16 213.18L71.49 213.02L71.82 212.51L72.15 212.57L72.48 212.55L72.81 212.74L73.14 212.57L73.47 212.49L73.8 212.75L74.13 212.7L74.46 212.56L74.79 213.07L75.12 213.12L75.45 212.49L75.78 213.55L76.11 212.86L76.44 213.19L76.77 213.45L77.1 212.15L77.43 212.91L77.76 213.07L78.09 213.18L78.42 213.02L78.75 213.11L79.08 212.11L79.41 212.33L79.74 212.93L80.07 211.9L80.4 212.49L80.73 212.63L81.06 212.86L81.39 213.06L81.72 212.8L82.05 212.38L82.38 212.33L82.71 212.87L83.04 212.94L83.37 212.86L83.7 212.76L84.03 212.75L84.36 212.16L84.69 212.7L85.02 213.01L85.35 212.26L85.68 212.88L86.01 212.98L86.34 213.63L86.67 212.68L87 212.61L87.33 212.23L87.66 212.28L87.99 212.07L88.32 212L88.65 212.98L88.98 212.7L89.31 212.83L89.64 212.08L89.97 211.91L90.3 212.01L90.63 213.35L90.96 213.15L91.29 212.18L91.62 212.75L91.95 212.77L92.28 212.32L92.61 212.45L92.94 213.09L93.27 212.99L93.6 213.07L93.93 212.84L94.26 212.76L94.59 212.91L94.92 212.65L95.25 213.38L95.58 212.8L95.91 212.93L96.24 212.68L96.57 212.45L96.9 212.69L97.23 212.58L97.56 212.4L97.89 213.03L98.22 213.5L98.55 212.83L98.88 212.67L99.21 212.43L99.54 212.13L99.87 212.96L100.2 212.94L100.53 212.4L100.86 212.75L101.19 212.38L101.52 213.28L101.85 212.76L102.18 212.89L102.51 213.39L102.84 211.84L103.17 212.88L103.5 212.82L103.83 212.6L104.16 212.73L104.49 213.21L104.82 212.46L105.15 212.46L105.48 213.4L105.81 213.12L106.14 212.91L106.47 213.04L106.8 212.76L107.13 212.61L107.46 212.67L107.79 212.85L108.12 212.54L108.45 212.1L108.78 212.66L109.11 212.84L109.44 212.67L109.77 212.99L110.1 212.84L110.43 213.11L110.76 212.78L111.09 212.66L111.42 212.95L111.75 213.08L112.08 212.55L112.41 212.39L112.74 213.26L113.07 212.52L113.4 212.88L113.73 212.54L114.06 212.82L114.39 213.28L114.72 213.39L115.05 212.21L115.38 212.16L115.71 211.41L116.04 212.96L116.37 213.34L116.7 212.83L117.03 212.61L117.36 213.05L117.69 212.36L118.02 212.99L118.35 213.26L118.68 213.21L119.01 213.01L119.34 212.53L119.67 212.6L120 212.37L120.33 213.46L120.66 213.22L120.99 212.7L121.32 212.7L121.65 212.82L121.98 212.47L122.31 212.93L122.64 212.92L122.97 212.9L123.3 212.75L123.63 211.74L123.96 212.65L124.29 212.17L124.62 212.06L124.95 213.61L125.28 212.53L125.61 212.65L125.94 212.6L126.27 212.39L126.6 213.36L126.93 212L127.26 212.91L127.59 212.49L127.92 213.22L128.25 213.05L128.58 212.75L128.91 212.13L129.24 213.03L129.57 213.1L129.9 212.98L130.23 212.6L130.56 212.97L130.89 212.41L131.22 212.82L131.55 212.86L131.88 212.63L132.21 212.33L132.54 212.63L132.87 212.37L133.2 212.25L133.53 213.13L133.86 212.66L134.19 212.51L134.52 212.51L134.85 212.89L135.18 212.59L135.51 212.44L135.84 212.82L136.17 212.77L136.5 212.36L136.83 212.29L137.16 213.23L137.49 212.6L137.82 213.19L138.15 212.95L138.48 212.69L138.81 212.62L139.14 213.36L139.47 212.46L139.8 212.56L140.13 212.39L140.46 212.65L140.79 212.34L141.12 212.76L141.45 212.22L141.78 212.92L142.11 212.85L142.44 212.8L142.77 212.48L143.1 213.22L143.43 213.5L143.76 212.66L144.09 212.41L144.42 212.97L144.75 212.63L145.08 212.77L145.41 212.97L145.74 212.18L146.07 213L146.4 212.3L146.73 212.22L147.06 212.56L147.39 213.29L147.72 212.46L148.05 212.89L148.38 212.34L148.71 212.96L149.04 212.84L149.37 213.17L149.7 212.78L150.03 212.71L150.36 211.97L150.69 212.83L151.02 213.02L151.35 212.79L151.68 212.78L152.01 212.93L152.34 213.05L152.67 212.36L153 212.68L153.33 212.88L153.66 212.81L153.99 212.33L154.32 211.93L154.65 212.84L154.98 212.99L155.31 213.37L155.64 212.88L155.97 212.37L156.3 212.88L156.63 212.66L156.96 212.44L157.29 212.14L157.62 211.99L157.95 212.43L158.28 212.54L158.61 212.73L158.94 212.72L159.27 212.8L159.6 213.46L159.93 212.68L160.26 213.25L160.59 212.4L160.92 212.42L161.25 212.5L161.58 212L161.91 213.36L162.24 212.81L162.57 212.99L162.9 213.39L163.23 212.89L163.56 213.35L163.89 211.78L164.22 213.21L164.55 212.83L164.88 212.49L165.21 213.14L165.54 212.72L165.87 212.43L166.2 211.94L166.53 213.41L166.86 211.67L167.19 212.74L167.52 213.34L167.85 212.97L168.18 212.46L168.51 212.6L168.84 212.46L169.17 212.81L169.5 212.68L169.83 212.2L170.16 212.12L170.49 213.16L170.82 212.2L171.15 212.26L171.48 213.63L171.81 212.37L172.14 212.18L172.47 212.32L172.8 213.01L173.13 212.4L173.46 212.65L173.79 211.78L174.12 212.45L174.45 212.71L174.78 212.72L175.11 213.28L175.44 212.9L175.77 211.55L176.1 212.05L176.43 212.34L176.76 212.58L177.09 212.72L177.42 212.94L177.75 212.02L178.08 211.81L178.41 213.01L178.74 212.29L179.07 211.75L179.4 212.31L179.73 212.51L180.06 212.21L180.39 212.22L180.72 213.09L181.05 212.25L181.38 212.81L181.71 212.77L182.04 212.55L182.37 213.63L182.7 212.15L183.03 213.72L183.36 212.31L183.69 212.58L184.02 212.81L184.35 213.13L184.68 212.97L185.01 212.55L185.34 212.55L185.67 213.16L186 213.3L186.33 212.48L186.66 213.18L186.99 212.92L187.32 212.79L187.65 212.25L187.98 212.19L188.31 212.86L188.64 211.58L188.97 212.49L189.3 212.86L189.63 212.03L189.96 213.35L190.29 213.36L190.62 212.27L190.95 212.65L191.28 212.64L191.61 212.48L191.94 212.5L192.27 212.89L192.6 213.36L192.93 212.73L193.26 212.74L193.59 212.75L193.92 212.42L194.25 212.95L194.58 212.5L194.91 212.3L195.24 212.96L195.57 211.95L195.9 212.49L196.23 212.54L196.56 212.64L196.89 212.08L197.22 212.32L197.55 212.64L197.88 212.94L198.21 212.65L198.54 212.61L198.87 212.36L199.2 212.71L199.53 211.59L199.86 212.96L200.19 213.08L200.52 212.69L200.85 212.31L201.18 213.23L201.51 212.43L201.84 213.23L202.17 212.59L202.5 212.39L202.83 212.61L203.16 212.43L203.49 212.63L203.82 212.9L204.15 212.6L204.48 212.52L204.81 212.69L205.14 212.85L205.47 212.7L205.8 212.92L206.13 212.93L206.46 212.81L206.79 212.98L207.12 212.71L207.45 213.15L207.78 212.86L208.11 213.03L208.44 212.62L208.77 212.14L209.1 212.52L209.43 212.72L209.76 212.85L210.09 212.69L210.42 213.28L210.75 212.19L211.08 212L211.41 212.63L211.74 212.43L212.07 212.71L212.4 212.96L212.73 213.77L213.06 212.18L213.39 212.28L213.72 212.68L214.05 212.12L214.38 212.4L214.71 213.21L215.04 212.68L215.37 212.69L215.7 213.14L216.03 212.03L216.36 212.75L216.69 212.68L217.02 212.81L217.35 212.31L217.68 212.53L218.01 212.66L218.34 212.99L218.67 212.41L219 212.94L219.33 211.87L219.66 212.87L219.99 213L220.32 212.34L220.65 212.59L220.98 212.7L221.31 212.81L221.64 213.17L221.97 212.77L222.3 212.61L222.63 212.62L222.96 212.81L223.29 213.01L223.62 212.8L223.95 212.49L224.28 212.57L224.61 212.39L224.94 212.36L225.27 212.51L225.6 212.48L225.93 213L226.26 212.24L226.59 212.73L226.92 212.24L227.25 213.01L227.58 212.82L227.91 213.19L228.24 212.91L228.57 212.3L228.9 212.71L229.23 212.46L229.56 212.5L229.89 212.3L230.22 212.58L230.55 212.74L230.88 212.78L231.21 213.66L231.54 212.64L231.87 212.73L232.2 212.67L232.53 212.6L232.86 212.58L233.19 212.72L233.52 212.62L233.85 212.98L234.18 212.87L234.51 212.36L234.84 212.7L235.17 212.82L235.5 212.59L235.83 212.61L236.16 212.66L236.49 212.94L236.82 212.77L237.15 212.49L237.48 212.68L237.81 213.18L238.14 212.33L238.47 212.95L238.8 212.61L239.13 214.13L239.46 212.94L239.79 212.72L240.12 212.66L240.45 212.12L240.78 212.5L241.11 213.47L241.44 212.84L241.77 212.59L242.1 212.7L242.43 212.72L242.76 212.34L243.09 212.74L243.42 212.9L243.75 212.14L244.08 212.61L244.41 211.65L244.74 212.06L245.07 213.02L245.4 213.17L245.73 213.41L246.06 212.21L246.39 212.67L246.72 212.57L247.05 213.11L247.38 212.83L247.71 212.73L248.04 212.93L248.37 212.53L248.7 213.07L249.03 212.57L249.36 213.12L249.69 212.77L250.02 212.79L250.35 212.27L250.68 212.11L251.01 212.1L251.34 212.89L251.67 211.88L252 213.22L252.33 212.58L252.66 212.19L252.99 212.83L253.32 212.23L253.65 212.72L253.98 212.6L254.31 213.16L254.64 213.04L254.97 213.06L255.3 212.53L255.63 213.18L255.96 212.68L256.29 212.75L256.62 212.87L256.95 212.81L257.28 212.19L257.61 212.95L257.94 212.1L258.27 212.88L258.6 212.68L258.93 212.73L259.26 212.29L259.59 213.08L259.92 212.64L260.25 213.02L260.58 212.42L260.91 212.43L261.24 212.73L261.57 213.09L261.9 212.2L262.23 212.48L262.56 212.51L262.89 212.6L263.22 212.53L263.55 213.11L263.88 212.97L264.21 212.71L264.54 213.02L264.87 213.09L265.2 212.47L265.53 212.43L265.86 212.97L266.19 213.51L266.52 211.8L266.85 212.47L267.18 213L267.51 212.4L267.84 213.03L268.17 212.79L268.5 212.22L268.83 212.53L269.16 212.84L269.49 212.36L269.82 212.93L270.15 212.82L270.48 212.59L270.81 212.85L271.14 212.56L271.47 212.79L271.8 212.32L272.13 213.24L272.46 212.6L272.79 213.14L273.12 213.52L273.45 213.3L273.78 212.7L274.11 212.76L274.44 212.69L274.77 212.82L275.1 212.39L275.43 212.01L275.76 212.82L276.09 212.72L276.42 213.29L276.75 213.39L277.08 212.18L277.41 212.35L277.74 213L278.07 213.15L278.4 212.75L278.73 212.72L279.06 212L279.39 213.58L279.72 212.44L280.05 212.92L280.38 212.83L280.71 212.36L281.04 213.03L281.37 213.26L281.7 212.68L282.03 212.76L282.36 212.95L282.69 213.08L283.02 213.03L283.35 212.36L283.68 212.35L284.01 212.49L284.34 211.67L284.67 212.2L285 212.63L285.33 212.45L285.66 212.38L285.99 213.04L286.32 212.83L286.65 213.02L286.98 212.64L287.31 212.54L287.64 212.37L287.97 212.8L288.3 212.01L288.63 212.37L288.96 212.93L289.29 213.03L289.62 212.68L289.95 212.26L290.28 212.92L290.61 212.42L290.94 212.65L291.27 212.33L291.6 213.4L291.93 213.27L292.26 212.38L292.59 212.26L292.92 212.68L293.25 212.94L293.58 213.18L293.91 212.68L294.24 212.23L294.57 212.81L294.9 212.8L295.23 212.09L295.56 212.6L295.89 212.59L296.22 212.33L296.55 212.79L296.88 213.1L297.21 213.09L297.54 212.36L297.87 212.48L298.2 212.96L298.53 212.57L298.86 212.57L299.19 213.54L299.52 211.72L299.85 212.45L300.18 212.38L300.51 212.68L300.84 213.35L301.17 212.65L301.5 212.59L301.83 212.76L302.16 212.58L302.49 212.85L302.82 213.67L303.15 212.44L303.48 212.62L303.81 212.67L304.14 211.9L304.47 212.93L304.8 212.68L305.13 211.95L305.46 212.6L305.79 212.76L306.12 212.36L306.45 213.12L306.78 212.47L307.11 212.13L307.44 213.01L307.77 212.65L308.1 212.75L308.43 212.08L308.76 212.17L309.09 212.31L309.42 212.64L309.75 212.65L310.08 213.23L310.41 213.29L310.74 212.75L311.07 212.66L311.4 213.42L311.73 212.72L312.06 213.09L312.39 212.51L312.72 212.66L313.05 212.59L313.38 212.44L313.71 212.84L314.04 212.38L314.37 212.66L314.7 212.86L315.03 213.51L315.36 211.97L315.69 212.73L316.02 212.95L316.35 212.57L316.68 213.03L317.01 212.9L317.34 212.89L317.67 212.54L318 212.62L318.33 212.61L318.66 212.32L318.99 212.77L319.32 212.3L319.65 212.34L319.98 212.17L320.31 213.12L320.64 212.48L320.97 212.36L321.3 213L321.63 212.54L321.96 212.83L322.29 212.63L322.62 212.84L322.95 212.77L323.28 211.87L323.61 213.26L323.94 213.08L324.27 212.14L324.6 213.04L324.93 212.61L325.26 212.74L325.59 213.19L325.92 213.08L326.25 213.07L326.58 213.47L326.91 213.12L327.24 212.47L327.57 212.21L327.9 213.02L328.23 212.05L328.56 212.57L328.89 212.56L329.22 212.43L329.55 213.22L329.88 212.82L330.21 212.61L330.54 213.04L330.87 212.54L331.2 213.16L331.53 213.48L331.86 212.65L332.19 212.64L332.52 213.14L332.85 211.95L333.18 212.22L333.51 212.31L333.84 212.08L334.17 212.7L334.5 212.81L334.83 212.69L335.16 212.69L335.49 213.05L335.82 213.11L336.15 213.17L336.48 212.65L336.81 212.71L337.14 213.26L337.47 212.86L337.8 213.2L338.13 212.52L338.46 212.68L338.79 212.46L339.12 212.69L339.45 212.86L339.78 212.53L340.11 213.45L340.44 212.13L340.77 213.03L341.1 212.29L341.43 212.81L341.76 212.41L342.09 212.73L342.42 212.73L342.75 212.39L343.08 212.23L343.41 212.43L343.74 212.71L344.07 213.01L344.4 213.31L344.4 231.93L344.07 231.94L343.74 231.87L343.41 231.93L343.08 231.98L342.75 231.86L342.42 231.7L342.09 232.15L341.76 231.28L341.43 231.88L341.1 231.18L340.77 232.34L340.44 231.41L340.11 231.68L339.78 231.67L339.45 231.67L339.12 231.94L338.79 231.42L338.46 231.91L338.13 231.56L337.8 231.78L337.47 232.24L337.14 231.92L336.81 232.38L336.48 231.56L336.15 231.33L335.82 231.82L335.49 231.71L335.16 231.38L334.83 231.84L334.5 232.2L334.17 231.26L333.84 231.06L333.51 232.33L333.18 231.78L332.85 231.3L332.52 231.8L332.19 232.48L331.86 231.7L331.53 231.62L331.2 231.17L330.87 232.23L330.54 231.25L330.21 231.55L329.88 232.42L329.55 232.16L329.22 232.13L328.89 231.57L328.56 231.53L328.23 232.19L327.9 231.64L327.57 231.68L327.24 232L326.91 232.1L326.58 231.65L326.25 232.5L325.92 232.18L325.59 231L325.26 231.94L324.93 232.13L324.6 231.71L324.27 232.33L323.94 231.73L323.61 232.05L323.28 232.58L322.95 231.9L322.62 231.41L322.29 231.39L321.96 230.96L321.63 230.56L321.3 231.66L320.97 232.21L320.64 232.11L320.31 231.64L319.98 232.06L319.65 231.31L319.32 232.24L318.99 231.2L318.66 231.71L318.33 231.82L318 232.07L317.67 231.77L317.34 231.37L317.01 231.78L316.68 231.71L316.35 231.98L316.02 231.89L315.69 231.62L315.36 231.68L315.03 232.02L314.7 231.5L314.37 231.95L314.04 232.75L313.71 231.91L313.38 231.11L313.05 232.37L312.72 232.48L312.39 232.52L312.06 231.57L311.73 231.47L311.4 231.54L311.07 231.71L310.74 231.36L310.41 232.13L310.08 231.87L309.75 231.59L309.42 231.65L309.09 231.64L308.76 232.43L308.43 232.45L308.1 232.01L307.77 231.66L307.44 231.06L307.11 231.96L306.78 231.9L306.45 231.24L306.12 232.24L305.79 233.07L305.46 231.49L305.13 231.52L304.8 231.95L304.47 231.93L304.14 232.25L303.81 232.05L303.48 231.86L303.15 231.04L302.82 231.49L302.49 232.11L302.16 232.22L301.83 231.56L301.5 232.33L301.17 231.37L300.84 231.56L300.51 231.83L300.18 231.39L299.85 231.48L299.52 231.22L299.19 231.97L298.86 231.77L298.53 231.92L298.2 231.13L297.87 231.75L297.54 231.8L297.21 230.88L296.88 231.58L296.55 232.15L296.22 230.76L295.89 232.2L295.56 231.18L295.23 232.45L294.9 231.5L294.57 231.7L294.24 231.37L293.91 232.24L293.58 230.88L293.25 231.25L292.92 231.79L292.59 231.83L292.26 230.99L291.93 231.64L291.6 231.97L291.27 231.82L290.94 232.04L290.61 232.06L290.28 232.25L289.95 230.97L289.62 231.58L289.29 231.55L288.96 231.57L288.63 231.52L288.3 231.38L287.97 232.19L287.64 232.66L287.31 231.55L286.98 231.55L286.65 231.33L286.32 231.28L285.99 231.01L285.66 231.78L285.33 231.78L285 232.01L284.67 231.86L284.34 231.37L284.01 230.88L283.68 231.67L283.35 231.3L283.02 231.96L282.69 232.19L282.36 232.16L282.03 231.89L281.7 231.5L281.37 231.86L281.04 231.92L280.71 231.06L280.38 231.51L280.05 232.08L279.72 231.65L279.39 230.9L279.06 232.7L278.73 232.18L278.4 231.38L278.07 232.39L277.74 232.12L277.41 232.09L277.08 232.11L276.75 230.86L276.42 231.98L276.09 231.75L275.76 231.36L275.43 232.2L275.1 232.11L274.77 231.07L274.44 231.67L274.11 232.25L273.78 231.99L273.45 231.58L273.12 231.83L272.79 232.1L272.46 231.59L272.13 232.09L271.8 231.98L271.47 231.63L271.14 231.85L270.81 231.71L270.48 231.59L270.15 231.67L269.82 231.61L269.49 231.39L269.16 231.81L268.83 231.85L268.5 232.05L268.17 231.18L267.84 232.5L267.51 231.39L267.18 231.73L266.85 231.47L266.52 231.69L266.19 232.02L265.86 231.92L265.53 231.63L265.2 231.52L264.87 231.94L264.54 231.27L264.21 232.32L263.88 232.28L263.55 231.9L263.22 231.61L262.89 231.96L262.56 232.63L262.23 232.21L261.9 231.45L261.57 231.95L261.24 231.75L260.91 231.63L260.58 231.99L260.25 231.9L259.92 231.57L259.59 231.55L259.26 231.12L258.93 231.65L258.6 231.62L258.27 231.83L257.94 231.77L257.61 230.71L257.28 231.74L256.95 231.39L256.62 231.87L256.29 231.54L255.96 232.21L255.63 232.01L255.3 232.13L254.97 231.83L254.64 231.84L254.31 231.63L253.98 231.3L253.65 231.82L253.32 231.54L252.99 232.63L252.66 232.27L252.33 231.83L252 232.1L251.67 230.95L251.34 231.91L251.01 231.27L250.68 232.11L250.35 231.43L250.02 231.69L249.69 231.73L249.36 231.46L249.03 232.23L248.7 231.71L248.37 232.31L248.04 231.53L247.71 231.6L247.38 231.98L247.05 231.77L246.72 231.84L246.39 231.39L246.06 231.86L245.73 232.01L245.4 231.37L245.07 231.47L244.74 230.9L244.41 231.87L244.08 231.88L243.75 232.27L243.42 231.91L243.09 232.28L242.76 232.23L242.43 231.7L242.1 231.66L241.77 231.34L241.44 232.22L241.11 231.86L240.78 231.82L240.45 231.39L240.12 231.8L239.79 232.88L239.46 232.18L239.13 231.81L238.8 231.97L238.47 232.17L238.14 232.26L237.81 232.63L237.48 231.31L237.15 232.1L236.82 232.18L236.49 231.69L236.16 231.96L235.83 231.83L235.5 232.22L235.17 231.6L234.84 231.55L234.51 231.94L234.18 232.07L233.85 232L233.52 232.46L233.19 231.31L232.86 232.19L232.53 231.68L232.2 231.83L231.87 231.92L231.54 231.25L231.21 231.81L230.88 231.45L230.55 232.15L230.22 231.91L229.89 231.93L229.56 231.39L229.23 231.72L228.9 231.72L228.57 232.13L228.24 231.38L227.91 231.41L227.58 231.93L227.25 232.37L226.92 232.14L226.59 231.41L226.26 231.64L225.93 230.89L225.6 231.79L225.27 231.54L224.94 231.97L224.61 231.99L224.28 231.99L223.95 232.72L223.62 231.55L223.29 231.99L222.96 231.53L222.63 232.67L222.3 232.15L221.97 232.49L221.64 232.35L221.31 231.41L220.98 231.23L220.65 231.98L220.32 232.18L219.99 231.48L219.66 231.35L219.33 231.42L219 231.53L218.67 231.8L218.34 231.94L218.01 232.09L217.68 232.21L217.35 231.47L217.02 231.92L216.69 231.76L216.36 231.96L216.03 231.83L215.7 232.34L215.37 232.12L215.04 231.91L214.71 231.93L214.38 231.84L214.05 232.27L213.72 231.6L213.39 232.67L213.06 232.06L212.73 232.4L212.4 231.67L212.07 231.08L211.74 231.96L211.41 231.52L211.08 232.13L210.75 232.37L210.42 230.92L210.09 231.08L209.76 230.64L209.43 232.12L209.1 231.7L208.77 231.83L208.44 231.64L208.11 231.61L207.78 232.37L207.45 231.73L207.12 232.15L206.79 231.99L206.46 231.72L206.13 231.77L205.8 231.42L205.47 232.07L205.14 231.67L204.81 231.53L204.48 232.08L204.15 231.67L203.82 233.15L203.49 231.16L203.16 231.33L202.83 231.72L202.5 232.11L202.17 232.79L201.84 230.7L201.51 232.09L201.18 231.9L200.85 231.49L200.52 232.16L200.19 232L199.86 231.08L199.53 231.63L199.2 232.25L198.87 231.93L198.54 232.15L198.21 231.79L197.88 231.92L197.55 232.23L197.22 231.94L196.89 231.13L196.56 231.58L196.23 231.89L195.9 231.77L195.57 232.15L195.24 232.28L194.91 232.36L194.58 231.6L194.25 230.51L193.92 231.74L193.59 231.51L193.26 231.33L192.93 231.29L192.6 231.11L192.27 232.21L191.94 231.25L191.61 231.45L191.28 231.94L190.95 231.6L190.62 231.43L190.29 231.96L189.96 231.28L189.63 231.79L189.3 231.58L188.97 231.84L188.64 232.09L188.31 232.24L187.98 231.37L187.65 231.43L187.32 231.24L186.99 231.04L186.66 231.3L186.33 231.25L186 232.15L185.67 231.1L185.34 231.64L185.01 232.06L184.68 232.26L184.35 230.83L184.02 231.56L183.69 231.43L183.36 232.25L183.03 231.78L182.7 231.92L182.37 231.61L182.04 231.14L181.71 231.98L181.38 232.43L181.05 232.08L180.72 231.08L180.39 231.72L180.06 232.15L179.73 232.65L179.4 230.76L179.07 231.28L178.74 231.63L178.41 231.68L178.08 231.89L177.75 231.57L177.42 232.27L177.09 231.2L176.76 232.53L176.43 232.06L176.1 231.86L175.77 232.16L175.44 231.77L175.11 232.4L174.78 231.81L174.45 231.84L174.12 231.76L173.79 231.67L173.46 232.11L173.13 231.92L172.8 232.55L172.47 232.43L172.14 231.7L171.81 232.36L171.48 231.23L171.15 231.32L170.82 231.69L170.49 231.97L170.16 231.78L169.83 231.88L169.5 232.33L169.17 231.7L168.84 231.5L168.51 231.48L168.18 231.62L167.85 231.76L167.52 232.13L167.19 232.56L166.86 231.65L166.53 232.32L166.2 231.55L165.87 231.93L165.54 232.39L165.21 231.51L164.88 231.97L164.55 231.98L164.22 231.9L163.89 231.67L163.56 231.46L163.23 231.78L162.9 231.36L162.57 231.97L162.24 231.57L161.91 230.92L161.58 231.77L161.25 231.29L160.92 231.5L160.59 231.9L160.26 231.49L159.93 231.61L159.6 231.19L159.27 232.35L158.94 231.84L158.61 232.39L158.28 231.67L157.95 231.53L157.62 231.95L157.29 232.36L156.96 232.16L156.63 232.27L156.3 231.94L155.97 231.7L155.64 231.31L155.31 231.7L154.98 231.79L154.65 232.11L154.32 232.37L153.99 231.56L153.66 231.4L153.33 232.45L153 231.68L152.67 231.9L152.34 231.58L152.01 232.19L151.68 231.63L151.35 232.34L151.02 231.51L150.69 232.11L150.36 231.8L150.03 231.89L149.7 231.91L149.37 231.24L149.04 232.19L148.71 231.53L148.38 231.17L148.05 231.75L147.72 231.88L147.39 232.31L147.06 231.9L146.73 231.69L146.4 232.33L146.07 232.18L145.74 231.39L145.41 231.77L145.08 231.22L144.75 232.42L144.42 232.24L144.09 232.04L143.76 232.03L143.43 231.5L143.1 232.22L142.77 231.71L142.44 231.97L142.11 231.44L141.78 232.2L141.45 231.59L141.12 231.82L140.79 231.89L140.46 231.27L140.13 231.86L139.8 231.6L139.47 231.12L139.14 231.87L138.81 231.69L138.48 231.48L138.15 232.18L137.82 232.24L137.49 231.55L137.16 231.68L136.83 231.51L136.5 232.19L136.17 231.95L135.84 231.54L135.51 231.56L135.18 231.48L134.85 231.82L134.52 232.67L134.19 232.28L133.86 231.18L133.53 232.19L133.2 231.12L132.87 231.41L132.54 231.8L132.21 232.1L131.88 231.56L131.55 232.07L131.22 232.26L130.89 232.3L130.56 231.81L130.23 231.53L129.9 231.1L129.57 231.62L129.24 232.33L128.91 232.16L128.58 231.52L128.25 231.98L127.92 232.18L127.59 232.06L127.26 231.47L126.93 232.07L126.6 232L126.27 231.58L125.94 231.85L125.61 231.79L125.28 232.31L124.95 231.88L124.62 231.7L124.29 232.42L123.96 231.27L123.63 232.07L123.3 231.48L122.97 231.33L122.64 232.1L122.31 231.67L121.98 231.77L121.65 231.81L121.32 232.02L120.99 232.06L120.66 231.89L120.33 232.8L120 232.53L119.67 231.38L119.34 231.57L119.01 231.5L118.68 231.93L118.35 231.41L118.02 231.78L117.69 231.47L117.36 232.32L117.03 231.33L116.7 231.24L116.37 232.07L116.04 232.21L115.71 231.37L115.38 231.63L115.05 231.78L114.72 231.7L114.39 232.38L114.06 231.81L113.73 231.19L113.4 231.42L113.07 231.7L112.74 231.93L112.41 232.14L112.08 231.88L111.75 231.38L111.42 231.64L111.09 231.32L110.76 231.99L110.43 231.72L110.1 231.47L109.77 231.91L109.44 231.85L109.11 232.53L108.78 232.24L108.45 231.81L108.12 231.71L107.79 232.1L107.46 231.73L107.13 232.43L106.8 232.05L106.47 232.46L106.14 231.72L105.81 232.26L105.48 232.53L105.15 231.57L104.82 231.95L104.49 231.56L104.16 231.23L103.83 231.73L103.5 232.23L103.17 232.09L102.84 232.51L102.51 232.22L102.18 231.99L101.85 231.43L101.52 231.64L101.19 231.95L100.86 231.52L100.53 232.27L100.2 232.03L99.87 231.94L99.54 232.39L99.21 232.4L98.88 231.77L98.55 231.88L98.22 232.39L97.89 231.75L97.56 231.49L97.23 230.83L96.9 231.59L96.57 232.07L96.24 232.21L95.91 231.33L95.58 232.05L95.25 232.06L94.92 232.2L94.59 231.71L94.26 231.3L93.93 231.3L93.6 231.48L93.27 232.3L92.94 232.08L92.61 232.24L92.28 231.37L91.95 231.88L91.62 231.39L91.29 231.97L90.96 231.43L90.63 231.93L90.3 231.56L89.97 231.57L89.64 231.72L89.31 231.64L88.98 231.29L88.65 231.89L88.32 231.8L87.99 231.65L87.66 231.44L87.33 231.7L87 231.86L86.67 232.5L86.34 232.25L86.01 232.06L85.68 231.65L85.35 232.12L85.02 232.05L84.69 231.86L84.36 232.08L84.03 231.45L83.7 231.57L83.37 231.39L83.04 231.52L82.71 232.11L82.38 231.17L82.05 231.75L81.72 232.61L81.39 232.3L81.06 232.09L80.73 231.38L80.4 232.37L80.07 231.43L79.74 232.52L79.41 231.51L79.08 232.01L78.75 231.87L78.42 231.84L78.09 231.27L77.76 231.92L77.43 231.61L77.1 232.5L76.77 231.9L76.44 231.07L76.11 231.03L75.78 231.92L75.45 231.47L75.12 231.65L74.79 231.98L74.46 231.53L74.13 231.57L73.8 231.46L73.47 232.04L73.14 231.57L72.81 231.47L72.48 231.76L72.15 231.58L71.82 231.88L71.49 231.8L71.16 231.3L70.83 232.14L70.5 231.56L70.17 231.65L69.84 232.6L69.51 232.02L69.18 230.81L68.85 231.68L68.52 231.76L68.19 231.33L67.86 231.92L67.53 231.38L67.2 231.77L66.87 231.9L66.54 231.88L66.21 231.47L65.88 231.99L65.55 232.52L65.22 232.21L64.89 231.79L64.56 231.85L64.23 231.13L63.9 231.56L63.57 231.41L63.24 232.26L62.91 231.63L62.58 231.59L62.25 231.38L61.92 231.35L61.59 231.75L61.26 231.84L60.93 232L60.6 232.3L60.27 231.24L59.94 232.19L59.61 231.53L59.28 231.2L58.95 232.14L58.62 231.93L58.29 232.5L57.96 231.99L57.63 231.88L57.3 231.56L56.97 231.67L56.64 231.37L56.31 231.19L55.98 232L55.65 231.99L55.32 231.45L54.99 231.57L54.66 231.93L54.33 231.78L54 231.3L53.67 231.5L53.34 232.26L53.01 232.1L52.68 231.12L52.35 231.72L52.02 232.35L51.69 231.44L51.36 231.36L51.03 232.23L50.7 231.8L50.37 231.9L50.04 232.39L49.71 231.79L49.38 231.95L49.05 232.1L48.72 231.92L48.39 231.8L48.06 231.62L47.73 231.97L47.4 231.14Z" fill="#231f20"/>
</g>
<path d="M47.4 193.5H344.5V247.3" fill="none" stroke="#777777" stroke-width="0.9"/>
<path d="M47.4 193.5V247.3H344.5" fill="none" stroke="#6e6e6e" stroke-width="0.95"/>
<line x1="47.4" y1="247.3" x2="47.4" y2="244.8" stroke="#6e6e6e" stroke-width="0.8"/>
<text x="42.93" y="257.2" font-size="7.3" textLength="8.94" lengthAdjust="spacingAndGlyphs">−4</text>
<line x1="84.54" y1="247.3" x2="84.54" y2="244.8" stroke="#6e6e6e" stroke-width="0.8"/>
<text x="80.07" y="257.2" font-size="7.3" textLength="8.94" lengthAdjust="spacingAndGlyphs">−3</text>
<line x1="121.68" y1="247.3" x2="121.68" y2="244.8" stroke="#6e6e6e" stroke-width="0.8"/>
<text x="117.21" y="257.2" font-size="7.3" textLength="8.94" lengthAdjust="spacingAndGlyphs">−2</text>
<line x1="158.82" y1="247.3" x2="158.82" y2="244.8" stroke="#6e6e6e" stroke-width="0.8"/>
<text x="154.35" y="257.2" font-size="7.3" textLength="8.94" lengthAdjust="spacingAndGlyphs">−1</text>
<line x1="195.96" y1="247.3" x2="195.96" y2="244.8" stroke="#6e6e6e" stroke-width="0.8"/>
<text x="193.78" y="257.2" font-size="7.3" textLength="4.36" lengthAdjust="spacingAndGlyphs">0</text>
<line x1="233.1" y1="247.3" x2="233.1" y2="244.8" stroke="#6e6e6e" stroke-width="0.8"/>
<text x="230.92" y="257.2" font-size="7.3" textLength="4.36" lengthAdjust="spacingAndGlyphs">1</text>
<line x1="270.24" y1="247.3" x2="270.24" y2="244.8" stroke="#6e6e6e" stroke-width="0.8"/>
<text x="268.06" y="257.2" font-size="7.3" textLength="4.36" lengthAdjust="spacingAndGlyphs">2</text>
<line x1="307.38" y1="247.3" x2="307.38" y2="244.8" stroke="#6e6e6e" stroke-width="0.8"/>
<text x="305.2" y="257.2" font-size="7.3" textLength="4.36" lengthAdjust="spacingAndGlyphs">3</text>
<line x1="344.52" y1="247.3" x2="344.52" y2="244.8" stroke="#6e6e6e" stroke-width="0.8"/>
<text x="342.34" y="257.2" font-size="7.3" textLength="4.36" lengthAdjust="spacingAndGlyphs">4</text>
<line x1="47.4" y1="200.4" x2="49.9" y2="200.4" stroke="#6e6e6e" stroke-width="0.8"/>
<text x="28.04" y="202.95" font-size="7.3" textLength="15.26" lengthAdjust="spacingAndGlyphs">0.10</text>
<line x1="47.4" y1="211" x2="49.9" y2="211" stroke="#6e6e6e" stroke-width="0.8"/>
<text x="28.04" y="213.55" font-size="7.3" textLength="15.26" lengthAdjust="spacingAndGlyphs">0.05</text>
<line x1="47.4" y1="221.6" x2="49.9" y2="221.6" stroke="#6e6e6e" stroke-width="0.8"/>
<text x="38.94" y="224.15" font-size="7.3" textLength="4.36" lengthAdjust="spacingAndGlyphs">0</text>
<line x1="47.4" y1="232.2" x2="49.9" y2="232.2" stroke="#6e6e6e" stroke-width="0.8"/>
<text x="23.46" y="234.75" font-size="7.3" textLength="19.84" lengthAdjust="spacingAndGlyphs">−0.05</text>
<line x1="47.4" y1="242.8" x2="49.9" y2="242.8" stroke="#6e6e6e" stroke-width="0.8"/>
<text x="23.46" y="245.35" font-size="7.3" textLength="19.84" lengthAdjust="spacingAndGlyphs">−0.10</text>
<text x="180.8" y="270.1" font-size="8.5" textLength="30.6" lengthAdjust="spacingAndGlyphs">Time (s)</text>
<text transform="translate(7.1 217.1) rotate(-90)" x="-20.5" y="0" font-size="8.8" textLength="41" lengthAdjust="spacingAndGlyphs">Amplitude</text>
<text transform="translate(17.2 217.1) rotate(-90)" x="-9.4" y="0" font-size="8.8" textLength="18.8" lengthAdjust="spacingAndGlyphs">(mV)</text>
<line x1="196.7" y1="193.5" x2="196.7" y2="246.8" stroke="rgba(184,85,167,0.77)" stroke-width="2.4"/>
<text x="511.1" y="94.4" font-size="8.6" textLength="59.3" lengthAdjust="spacingAndGlyphs">Histogram plot</text>
<path d="M391.4 152L391.4 141.97L395.04 141.97L395.04 141.97L398.68 141.97L398.68 141.97L402.32 141.97L402.32 148.3L405.96 148.3L405.96 146.54L409.59 146.54L409.59 146.54L413.23 146.54L413.23 150.77L416.87 150.77L416.87 144.08L420.51 144.08L420.51 139.68L424.15 139.68L424.15 144.08L427.79 144.08L427.79 144.08L431.43 144.08L431.43 146.54L435.07 146.54L435.07 148.3L438.71 148.3L438.71 144.08L442.35 144.08L442.35 146.54L445.98 146.54L445.98 148.3L449.62 148.3L449.62 150.77L453.26 150.77L453.26 144.08L456.9 144.08L456.9 144.08L460.54 144.08L460.54 146.54L464.18 146.54L464.18 150.77L467.82 150.77L467.82 139.86L471.46 139.86L471.46 142.14L475.1 142.14L475.1 148.3L478.74 148.3L478.74 142.14L482.38 142.14L482.38 142.14L486.01 142.14L486.01 139.86L489.65 139.86L489.65 150.77L493.29 150.77L493.29 146.54L496.93 146.54L496.93 152L500.57 152L500.57 144.08L504.21 144.08L504.21 139.86L507.85 139.86L507.85 150.77L511.49 150.77L511.49 148.3L515.13 148.3L515.13 146.54L518.76 146.54L518.76 146.54L522.4 146.54L522.4 148.3L526.04 148.3L526.04 146.54L529.68 146.54L529.68 137.39L533.32 137.39L533.32 150.77L536.96 150.77L536.96 146.54L540.6 146.54L540.6 146.54L544.24 146.54L544.24 148.3L547.88 148.3L547.88 148.3L551.52 148.3L551.52 144.08L555.15 144.08L555.15 137.39L558.79 137.39L558.79 137.39L562.43 137.39L562.43 131.06L566.07 131.06L566.07 124.72L569.71 124.72L569.71 117.86L573.35 117.86L573.35 107.12L576.99 107.12L576.99 115.74L580.63 115.74L580.63 119.97L584.27 119.97L584.27 113.63L587.91 113.63L587.91 115.74L591.54 115.74L591.54 126.83L595.18 126.83L595.18 129.3L598.82 129.3L598.82 129.3L602.46 129.3L602.46 139.86L606.1 139.86L606.1 135.46L609.74 135.46L609.74 131.06L613.38 131.06L613.38 131.06L617.02 131.06L617.02 137.39L620.66 137.39L620.66 133.34L624.3 133.34L624.3 137.39L627.93 137.39L627.93 144.08L631.57 144.08L631.57 131.06L635.21 131.06L635.21 128.94L638.85 128.94L638.85 137.39L642.49 137.39L642.49 135.46L646.13 135.46L646.13 139.68L649.77 139.68L649.77 144.08L653.41 144.08L653.41 142.14L657.05 142.14L657.05 142.14L660.69 142.14L660.69 144.08L664.33 144.08L664.33 146.54L667.96 146.54L667.96 131.06L671.6 131.06L671.6 142.14L675.24 142.14L675.24 144.08L678.88 144.08L678.88 148.3L682.52 148.3L682.5 152Z" fill="#231f20"/>
<path d="M391.4 99.3H682.5V152" fill="none" stroke="#777777" stroke-width="0.9"/>
<path d="M391.4 99.3V152H682.5" fill="none" stroke="#6e6e6e" stroke-width="0.95"/>
<line x1="391.4" y1="152" x2="391.4" y2="149.5" stroke="#6e6e6e" stroke-width="0.8"/>
<text x="386.93" y="162" font-size="7.3" textLength="8.94" lengthAdjust="spacingAndGlyphs">−4</text>
<line x1="427.79" y1="152" x2="427.79" y2="149.5" stroke="#6e6e6e" stroke-width="0.8"/>
<text x="423.32" y="162" font-size="7.3" textLength="8.94" lengthAdjust="spacingAndGlyphs">−3</text>
<line x1="464.18" y1="152" x2="464.18" y2="149.5" stroke="#6e6e6e" stroke-width="0.8"/>
<text x="459.71" y="162" font-size="7.3" textLength="8.94" lengthAdjust="spacingAndGlyphs">−2</text>
<line x1="500.57" y1="152" x2="500.57" y2="149.5" stroke="#6e6e6e" stroke-width="0.8"/>
<text x="496.1" y="162" font-size="7.3" textLength="8.94" lengthAdjust="spacingAndGlyphs">−1</text>
<line x1="536.96" y1="152" x2="536.96" y2="149.5" stroke="#6e6e6e" stroke-width="0.8"/>
<text x="534.78" y="162" font-size="7.3" textLength="4.36" lengthAdjust="spacingAndGlyphs">0</text>
<line x1="573.35" y1="152" x2="573.35" y2="149.5" stroke="#6e6e6e" stroke-width="0.8"/>
<text x="571.17" y="162" font-size="7.3" textLength="4.36" lengthAdjust="spacingAndGlyphs">1</text>
<line x1="609.74" y1="152" x2="609.74" y2="149.5" stroke="#6e6e6e" stroke-width="0.8"/>
<text x="607.56" y="162" font-size="7.3" textLength="4.36" lengthAdjust="spacingAndGlyphs">2</text>
<line x1="646.13" y1="152" x2="646.13" y2="149.5" stroke="#6e6e6e" stroke-width="0.8"/>
<text x="643.95" y="162" font-size="7.3" textLength="4.36" lengthAdjust="spacingAndGlyphs">3</text>
<line x1="682.52" y1="152" x2="682.52" y2="149.5" stroke="#6e6e6e" stroke-width="0.8"/>
<text x="680.34" y="162" font-size="7.3" textLength="4.36" lengthAdjust="spacingAndGlyphs">4</text>
<line x1="391.4" y1="99.2" x2="393.9" y2="99.2" stroke="#6e6e6e" stroke-width="0.8"/>
<text x="376.5" y="101.75" font-size="7.3" textLength="10.9" lengthAdjust="spacingAndGlyphs">0.3</text>
<line x1="391.4" y1="116.8" x2="393.9" y2="116.8" stroke="#6e6e6e" stroke-width="0.8"/>
<text x="376.5" y="119.35" font-size="7.3" textLength="10.9" lengthAdjust="spacingAndGlyphs">0.2</text>
<line x1="391.4" y1="134.4" x2="393.9" y2="134.4" stroke="#6e6e6e" stroke-width="0.8"/>
<text x="376.5" y="136.95" font-size="7.3" textLength="10.9" lengthAdjust="spacingAndGlyphs">0.1</text>
<line x1="391.4" y1="152" x2="393.9" y2="152" stroke="#6e6e6e" stroke-width="0.8"/>
<text x="383.04" y="154.55" font-size="7.3" textLength="4.36" lengthAdjust="spacingAndGlyphs">0</text>
<text transform="translate(361 125.7) rotate(-90)" x="-14.15" y="0" font-size="8.5" textLength="28.3" lengthAdjust="spacingAndGlyphs">Spikes/</text>
<text transform="translate(370 125.7) rotate(-90)" x="-21.3" y="0" font-size="8.5" textLength="42.6" lengthAdjust="spacingAndGlyphs">(trial × bin)</text>
<line x1="538.05" y1="99.3" x2="538.05" y2="151.5" stroke="rgba(184,85,167,0.77)" stroke-width="2.3"/>
<text x="511.1" y="189.8" font-size="8.6" textLength="47.3" lengthAdjust="spacingAndGlyphs"><tspan font-style="italic">z</tspan>-score plot</text>
<path d="M392.4 231.67H682.5" stroke="#f5b0b0" stroke-width="0.9" stroke-dasharray="2.2 2.2"/>
<path d="M391.9 236.33L393.22 236.33L396.86 236.33L400.5 236.33L404.14 240.24L407.78 239.15L411.41 239.15L415.05 241.76L418.69 237.63L422.33 234.92L425.97 237.63L429.61 237.63L433.25 239.15L436.89 240.24L440.53 237.63L444.17 239.15L447.8 240.24L451.44 241.76L455.08 237.63L458.72 237.63L462.36 239.15L466 241.76L469.64 235.03L473.28 236.44L476.92 240.24L480.56 236.44L484.19 236.44L487.83 235.03L491.47 241.76L495.11 239.15L498.75 242.52L502.39 237.63L506.03 235.03L509.67 241.76L513.31 240.24L516.95 239.15L520.58 239.15L524.22 240.24L527.86 239.15L531.5 233.51L535.14 241.76L538.78 239.15L542.42 239.15L546.06 240.24L549.7 240.24L553.34 237.63L556.97 233.51L560.61 233.51L564.25 229.6L567.89 225.69L571.53 221.46L575.17 214.84L578.81 220.16L582.45 222.76L586.09 218.86L589.73 220.16L593.36 227L597 228.52L600.64 228.52L604.28 235.03L607.92 232.31L611.56 229.6L615.2 229.6L618.84 233.51L622.48 231.01L626.12 233.51L629.75 237.63L633.39 229.6L637.03 228.3L640.67 233.51L644.31 232.31L647.95 234.92L651.59 237.63L655.23 236.44L658.87 236.44L662.51 237.63L666.14 239.15L669.78 229.6L673.42 236.44L677.06 237.63L680.7 240.24L682.5 237.89" fill="none" stroke="#3a3a3a" stroke-width="0.6"/>
<path d="M391.4 194.3H682.5V247.3" fill="none" stroke="#777777" stroke-width="0.9"/>
<path d="M391.4 194.3V247.3H682.5" fill="none" stroke="#6e6e6e" stroke-width="0.95"/>
<line x1="391.4" y1="247.3" x2="391.4" y2="244.8" stroke="#6e6e6e" stroke-width="0.8"/>
<text x="386.93" y="257.2" font-size="7.3" textLength="8.94" lengthAdjust="spacingAndGlyphs">−4</text>
<line x1="427.79" y1="247.3" x2="427.79" y2="244.8" stroke="#6e6e6e" stroke-width="0.8"/>
<text x="423.32" y="257.2" font-size="7.3" textLength="8.94" lengthAdjust="spacingAndGlyphs">−3</text>
<line x1="464.18" y1="247.3" x2="464.18" y2="244.8" stroke="#6e6e6e" stroke-width="0.8"/>
<text x="459.71" y="257.2" font-size="7.3" textLength="8.94" lengthAdjust="spacingAndGlyphs">−2</text>
<line x1="500.57" y1="247.3" x2="500.57" y2="244.8" stroke="#6e6e6e" stroke-width="0.8"/>
<text x="496.1" y="257.2" font-size="7.3" textLength="8.94" lengthAdjust="spacingAndGlyphs">−1</text>
<line x1="536.96" y1="247.3" x2="536.96" y2="244.8" stroke="#6e6e6e" stroke-width="0.8"/>
<text x="534.78" y="257.2" font-size="7.3" textLength="4.36" lengthAdjust="spacingAndGlyphs">0</text>
<line x1="573.35" y1="247.3" x2="573.35" y2="244.8" stroke="#6e6e6e" stroke-width="0.8"/>
<text x="571.17" y="257.2" font-size="7.3" textLength="4.36" lengthAdjust="spacingAndGlyphs">1</text>
<line x1="609.74" y1="247.3" x2="609.74" y2="244.8" stroke="#6e6e6e" stroke-width="0.8"/>
<text x="607.56" y="257.2" font-size="7.3" textLength="4.36" lengthAdjust="spacingAndGlyphs">2</text>
<line x1="646.13" y1="247.3" x2="646.13" y2="244.8" stroke="#6e6e6e" stroke-width="0.8"/>
<text x="643.95" y="257.2" font-size="7.3" textLength="4.36" lengthAdjust="spacingAndGlyphs">3</text>
<line x1="682.52" y1="247.3" x2="682.52" y2="244.8" stroke="#6e6e6e" stroke-width="0.8"/>
<text x="680.34" y="257.2" font-size="7.3" textLength="4.36" lengthAdjust="spacingAndGlyphs">4</text>
<line x1="391.4" y1="194.55" x2="393.9" y2="194.55" stroke="#6e6e6e" stroke-width="0.8"/>
<text x="378.38" y="197.1" font-size="7.3" textLength="8.72" lengthAdjust="spacingAndGlyphs">15</text>
<line x1="391.4" y1="209.2" x2="393.9" y2="209.2" stroke="#6e6e6e" stroke-width="0.8"/>
<text x="378.38" y="211.75" font-size="7.3" textLength="8.72" lengthAdjust="spacingAndGlyphs">10</text>
<line x1="391.4" y1="223.85" x2="393.9" y2="223.85" stroke="#6e6e6e" stroke-width="0.8"/>
<text x="382.74" y="226.4" font-size="7.3" textLength="4.36" lengthAdjust="spacingAndGlyphs">5</text>
<line x1="391.4" y1="238.5" x2="393.9" y2="238.5" stroke="#6e6e6e" stroke-width="0.8"/>
<text x="382.74" y="241.05" font-size="7.3" textLength="4.36" lengthAdjust="spacingAndGlyphs">0</text>
<text x="521.7" y="270.1" font-size="8.5" textLength="30.6" lengthAdjust="spacingAndGlyphs">Time (s)</text>
<text transform="translate(373.9 221.6) rotate(-90)" x="-14.4" y="0" font-size="8.5" textLength="28.8" lengthAdjust="spacingAndGlyphs"><tspan font-style="italic">z</tspan>-score</text>
<line x1="538.05" y1="194.3" x2="538.05" y2="246.8" stroke="rgba(184,85,167,0.77)" stroke-width="2.3"/>
<path d="M52.5 440.68H413.4" stroke="#8a8a8a" stroke-width="0.6" stroke-dasharray="1.6 1.4"/>
<path d="M53.76 484.97L58.29 468.82L62.81 470.85L67.33 483.45L71.86 465.05L76.38 468.83L80.91 490.28L85.43 478.51L89.95 480.94L94.48 465.12L99 482.37L103.53 460.75L108.05 478.95L112.57 475.9L117.1 480.83L121.62 485.44L126.15 485.58L130.67 472.05L135.19 472.59L139.72 482.13L144.24 482.54L148.77 481.12L153.29 486.45L157.81 481.55L162.34 475.93L166.86 489.29L171.39 468.87L175.91 480.57L180.43 477.46L184.96 501.29L189.48 487.63L194.01 483.92L198.53 498.39L203.05 482.23L207.58 480.83L212.1 473.99L216.63 489.85L221.15 480.45L225.67 483.18L230.2 488.94L234.72 463.08L239.25 445.53L243.77 465.39L248.29 472.32L252.82 438.6L257.34 437.67L261.87 374.38L266.39 394.94L270.91 403.02L275.44 309.01L279.96 352.2L284.49 364.45L289.01 305.77L293.53 313.16L298.06 374.38L302.58 406.26L307.11 403.95L311.63 409.03L316.15 415.27L320.68 406.26L325.2 406.26L329.73 430.05L334.25 439.06L338.77 467.7L343.3 463.31L347.82 427.97L352.35 438.83L356.87 432.82L361.39 418.96L365.92 452L370.44 443.68L374.97 424.74L379.49 451.07L384.01 394.01L388.54 404.41L393.06 446.91L397.59 456.15L402.11 463.78L406.63 463.31L411.16 479.25L411.16 493.58L406.63 483.18L402.11 485.95L397.59 470.48L393.06 463.55L388.54 462.16L384.01 477.18L379.49 477.87L374.97 466.32L370.44 466.78L365.92 478.79L361.39 453.61L356.87 475.79L352.35 469.78L347.82 448.76L343.3 475.33L338.77 484.34L334.25 462.16L329.73 463.31L325.2 434.9L320.68 438.6L316.15 445.3L311.63 443.68L307.11 438.6L302.58 439.52L298.06 425.2L293.53 400.94L289.01 400.48L284.49 415.27L279.96 407.64L275.44 412.96L270.91 430.74L266.39 441.14L261.87 425.2L257.34 460.77L252.82 459.39L248.29 488.03L243.77 487.11L239.25 467.24L234.72 483.87L230.2 506.99L225.67 496.12L221.15 499.77L216.63 507.47L212.1 488.22L207.58 499.39L203.05 497.07L198.53 516.02L194.01 500.46L189.48 501.83L184.96 517.74L180.43 496.3L175.91 495.96L171.39 485.02L166.86 508.02L162.34 493.21L157.81 495.43L153.29 502.09L148.77 493.09L144.24 498.14L139.72 499.48L135.19 484.54L130.67 488.3L126.15 501.57L121.62 498.94L117.1 498.47L112.57 493.24L108.05 496.65L103.53 476.97L99 496.93L94.48 483.22L89.95 493.28L85.43 491.55L80.91 507.04L76.38 480.9L71.86 480.53L67.33 498.16L62.81 487.66L58.29 488.31L53.76 502.18Z" fill="#fdd2c2" stroke="#fbbcae" stroke-width="0.5"/>
<path d="M53.76 493.58L58.29 478.56L62.81 479.25L67.33 490.8L71.86 472.79L76.38 474.87L80.91 498.66L85.43 485.03L89.95 487.11L94.48 474.17L99 489.65L103.53 468.86L108.05 487.8L112.57 484.57L117.1 489.65L121.62 492.19L126.15 493.58L130.67 480.18L135.19 478.56L139.72 490.8L144.24 490.34L148.77 487.11L153.29 494.27L157.81 488.49L162.34 484.57L166.86 498.66L171.39 476.94L175.91 488.26L180.43 486.88L184.96 509.51L189.48 494.73L194.01 492.19L198.53 507.2L203.05 489.65L207.58 490.11L212.1 481.1L216.63 498.66L221.15 490.11L225.67 489.65L230.2 497.96L234.72 473.48L239.25 456.38L243.77 476.25L248.29 480.18L252.82 448.99L257.34 449.22L261.87 399.79L266.39 418.04L270.91 416.88L275.44 360.98L279.96 379.92L284.49 389.86L289.01 353.13L293.53 357.05L298.06 399.79L302.58 422.89L307.11 421.27L311.63 426.36L316.15 430.28L320.68 422.43L325.2 420.58L329.73 446.68L334.25 450.61L338.77 476.02L343.3 469.32L347.82 438.37L352.35 454.31L356.87 454.31L361.39 436.29L365.92 465.39L370.44 455.23L374.97 445.53L379.49 464.47L384.01 435.6L388.54 433.28L393.06 455.23L397.59 463.31L402.11 474.87L406.63 473.25L411.16 486.42" fill="none" stroke="#f07d70" stroke-width="0.7"/>
<path d="M51.5 285.8V517.3H413.4" fill="none" stroke="#6e6e6e" stroke-width="0.95"/>
<line x1="51.5" y1="494.5" x2="55.1" y2="494.5" stroke="#6e6e6e" stroke-width="0.8"/>
<text x="43.09" y="497.2" font-size="7.4" textLength="4.61" lengthAdjust="spacingAndGlyphs">0</text>
<line x1="51.5" y1="471.4" x2="55.1" y2="471.4" stroke="#6e6e6e" stroke-width="0.8"/>
<text x="43.09" y="474.1" font-size="7.4" textLength="4.61" lengthAdjust="spacingAndGlyphs">1</text>
<line x1="51.5" y1="448.3" x2="55.1" y2="448.3" stroke="#6e6e6e" stroke-width="0.8"/>
<text x="43.09" y="451" font-size="7.4" textLength="4.61" lengthAdjust="spacingAndGlyphs">2</text>
<line x1="51.5" y1="425.2" x2="55.1" y2="425.2" stroke="#6e6e6e" stroke-width="0.8"/>
<text x="43.09" y="427.9" font-size="7.4" textLength="4.61" lengthAdjust="spacingAndGlyphs">3</text>
<line x1="51.5" y1="402.1" x2="55.1" y2="402.1" stroke="#6e6e6e" stroke-width="0.8"/>
<text x="43.09" y="404.8" font-size="7.4" textLength="4.61" lengthAdjust="spacingAndGlyphs">4</text>
<line x1="51.5" y1="379" x2="55.1" y2="379" stroke="#6e6e6e" stroke-width="0.8"/>
<text x="43.09" y="381.7" font-size="7.4" textLength="4.61" lengthAdjust="spacingAndGlyphs">5</text>
<line x1="51.5" y1="355.9" x2="55.1" y2="355.9" stroke="#6e6e6e" stroke-width="0.8"/>
<text x="43.09" y="358.6" font-size="7.4" textLength="4.61" lengthAdjust="spacingAndGlyphs">6</text>
<line x1="51.5" y1="332.8" x2="55.1" y2="332.8" stroke="#6e6e6e" stroke-width="0.8"/>
<text x="43.09" y="335.5" font-size="7.4" textLength="4.61" lengthAdjust="spacingAndGlyphs">7</text>
<line x1="51.5" y1="309.7" x2="55.1" y2="309.7" stroke="#6e6e6e" stroke-width="0.8"/>
<text x="43.09" y="312.4" font-size="7.4" textLength="4.61" lengthAdjust="spacingAndGlyphs">8</text>
<line x1="51.5" y1="286.6" x2="55.1" y2="286.6" stroke="#6e6e6e" stroke-width="0.8"/>
<text x="43.09" y="289.3" font-size="7.4" textLength="4.61" lengthAdjust="spacingAndGlyphs">9</text>
<line x1="51.5" y1="517.3" x2="51.5" y2="513.9" stroke="#6e6e6e" stroke-width="0.8"/>
<text x="46.78" y="527.4" font-size="7.4" textLength="9.45" lengthAdjust="spacingAndGlyphs">−4</text>
<line x1="96.74" y1="517.3" x2="96.74" y2="513.9" stroke="#6e6e6e" stroke-width="0.8"/>
<text x="92.02" y="527.4" font-size="7.4" textLength="9.45" lengthAdjust="spacingAndGlyphs">−3</text>
<line x1="141.98" y1="517.3" x2="141.98" y2="513.9" stroke="#6e6e6e" stroke-width="0.8"/>
<text x="137.26" y="527.4" font-size="7.4" textLength="9.45" lengthAdjust="spacingAndGlyphs">−2</text>
<line x1="187.22" y1="517.3" x2="187.22" y2="513.9" stroke="#6e6e6e" stroke-width="0.8"/>
<text x="182.5" y="527.4" font-size="7.4" textLength="9.45" lengthAdjust="spacingAndGlyphs">−1</text>
<line x1="232.46" y1="517.3" x2="232.46" y2="513.9" stroke="#6e6e6e" stroke-width="0.8"/>
<text x="230.16" y="527.4" font-size="7.4" textLength="4.61" lengthAdjust="spacingAndGlyphs">0</text>
<line x1="277.7" y1="517.3" x2="277.7" y2="513.9" stroke="#6e6e6e" stroke-width="0.8"/>
<text x="275.4" y="527.4" font-size="7.4" textLength="4.61" lengthAdjust="spacingAndGlyphs">1</text>
<line x1="322.94" y1="517.3" x2="322.94" y2="513.9" stroke="#6e6e6e" stroke-width="0.8"/>
<text x="320.64" y="527.4" font-size="7.4" textLength="4.61" lengthAdjust="spacingAndGlyphs">2</text>
<line x1="368.18" y1="517.3" x2="368.18" y2="513.9" stroke="#6e6e6e" stroke-width="0.8"/>
<text x="365.88" y="527.4" font-size="7.4" textLength="4.61" lengthAdjust="spacingAndGlyphs">3</text>
<line x1="413.42" y1="517.3" x2="413.42" y2="513.9" stroke="#6e6e6e" stroke-width="0.8"/>
<text x="411.12" y="527.4" font-size="7.4" textLength="4.61" lengthAdjust="spacingAndGlyphs">4</text>
<text x="217.8" y="539.8" font-size="8.5" textLength="30.2" lengthAdjust="spacingAndGlyphs">Time (s)</text>
<text transform="translate(37 401.9) rotate(-90)" x="-14.65" y="0" font-size="8.5" textLength="29.3" lengthAdjust="spacingAndGlyphs"><tspan font-style="italic">z</tspan>-score</text>
<line x1="234.4" y1="294" x2="234.4" y2="516.8" stroke="rgba(184,85,167,0.77)" stroke-width="3"/>
</svg>
</body></html>
